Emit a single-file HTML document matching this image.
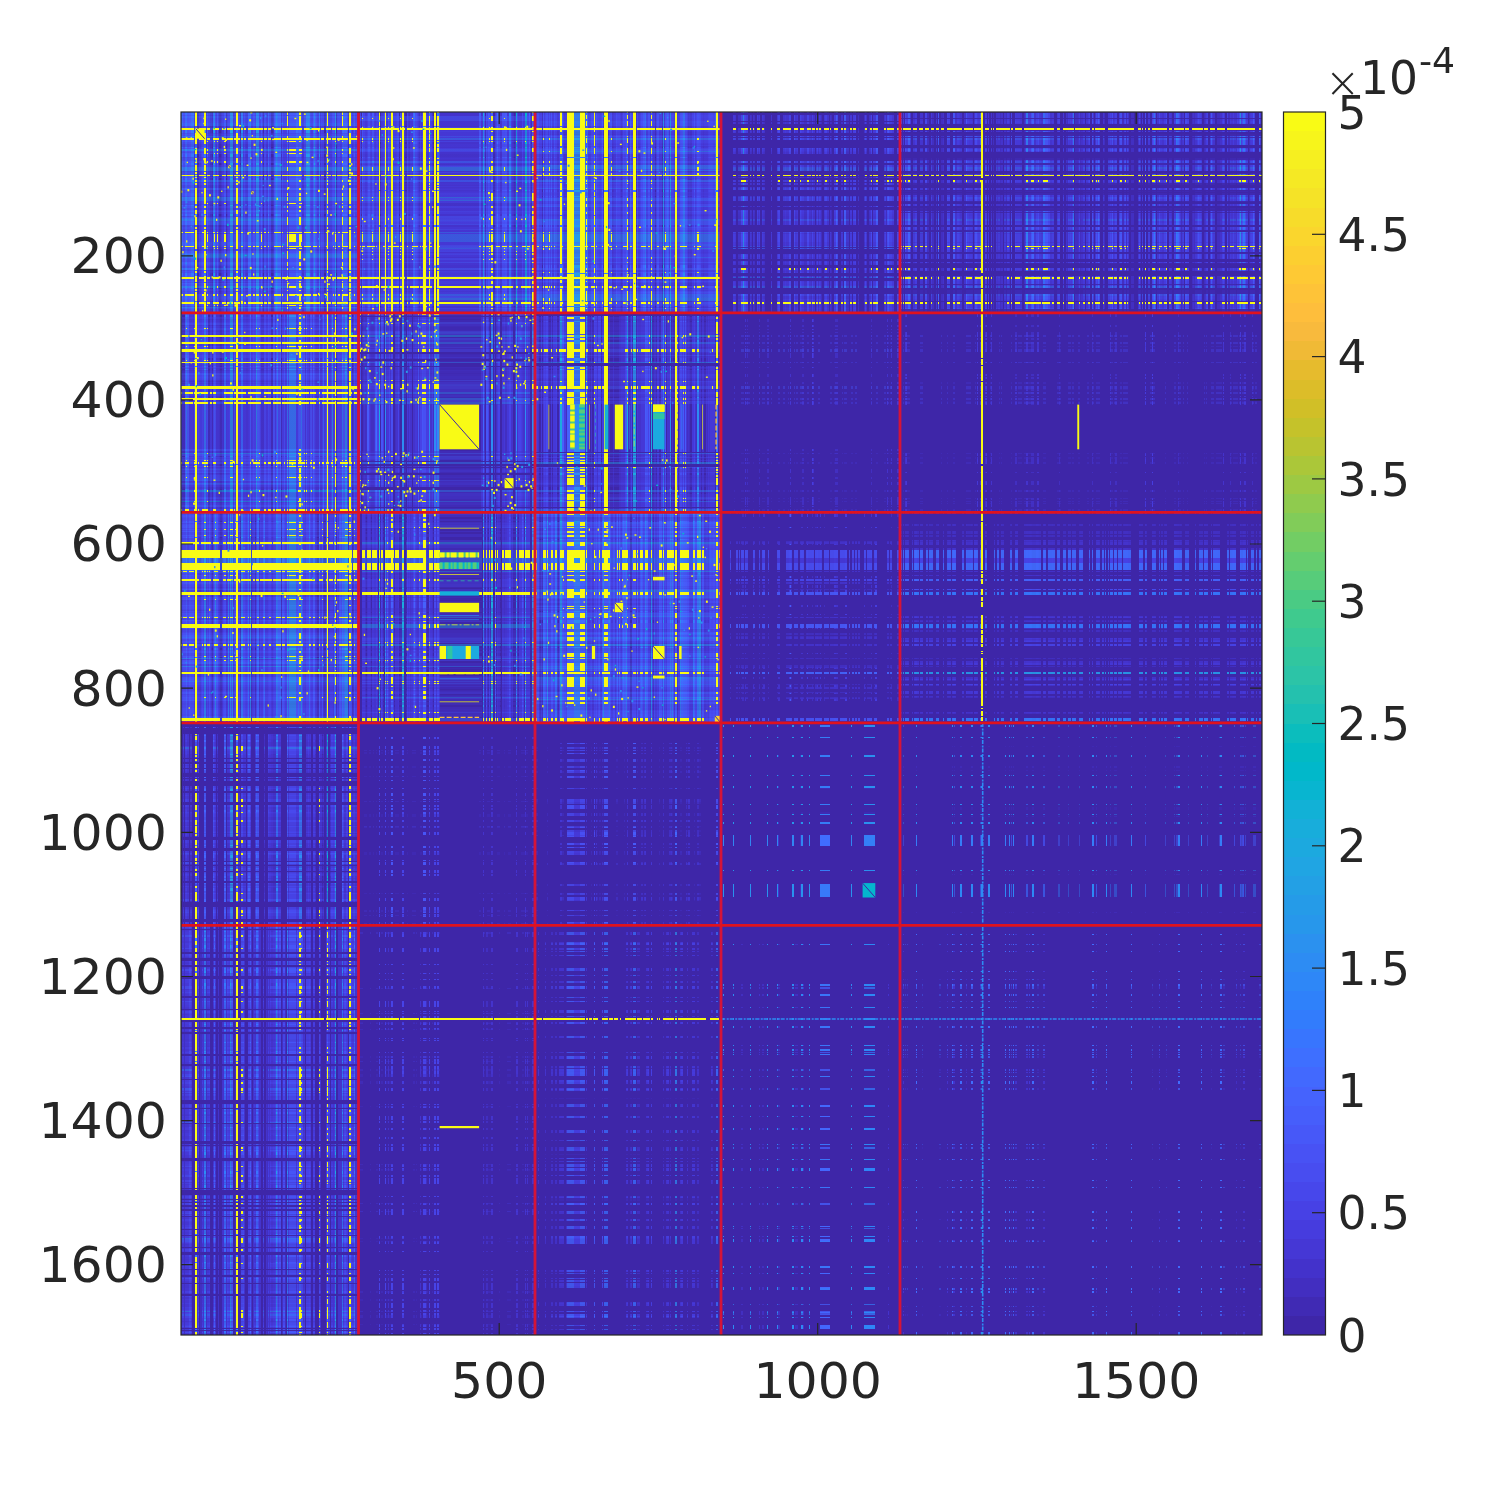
<!DOCTYPE html>
<html><head><meta charset="utf-8"><style>
html,body{margin:0;padding:0;background:#fff;width:1500px;height:1500px;overflow:hidden}
.b{position:absolute}
#base{position:absolute;left:181.0px;top:112.0px;width:1081.0px;height:1223.0px;background:#3e26a8}
svg{position:absolute;left:0;top:0}
.t{font:50.5px "DejaVu Sans","Liberation Sans",sans-serif;fill:#262626}
.c{font:45.5px "DejaVu Sans","Liberation Sans",sans-serif;fill:#262626}
.e{font-size:36.2px}
.x{font-weight:200;font-size:42px}
</style></head><body>
<div id="base"></div>
<div class="b" style="left:181.0px;top:112.0px;width:177.7px;height:201.1px;background:linear-gradient(to right,#3a74fe 0 0.6px,#2e86f7 0 1.3px,#4367fd 0 2.5px,#4849ed 0 3.8px,#406dfe 0 5.1px,#347afd 0 5.7px,#4755f6 0 7.6px,#475bf9 0 9.6px,#4367fd 0 10.2px,#3a74fe 0 12.1px,#2f80fa 0 12.7px,#4433cc 0 14.0px,#347afd 0 15.9px,#0000 0 18.5px,#4538d7 0 19.7px,#4849ed 0 20.4px,#4743e7 0 21.0px,#484ff2 0 21.7px,#259ce7 0 22.3px,#484ff2 0 22.9px,#347afd 0 24.8px,#4849ed 0 25.5px,#4433cc 0 26.1px,#4755f6 0 26.8px,#463de0 0 28.7px,#422fc1 0 30.6px,#4433cc 0 31.2px,#0000 0 31.9px,#463de0 0 32.5px,#347afd 0 33.1px,#1fa5e2 0 34.4px,#4743e7 0 35.0px,#4538d7 0 36.3px,#4755f6 0 36.9px,#4538d7 0 37.6px,#0000 0 40.1px,#422fc1 0 40.8px,#4538d7 0 43.3px,#4755f6 0 45.2px,#0000 0 46.5px,#4538d7 0 47.1px,#4743e7 0 49.0px,#259ce7 0 49.7px,#23a1e5 0 52.2px,#422fc1 0 53.5px,#4538d7 0 54.8px,#422fc1 0 55.4px,#347afd 0 56.7px,#0000 0 57.3px,#4743e7 0 58.6px,#0000 0 59.9px,#4433cc 0 60.5px,#2d8cf3 0 61.8px,#4538d7 0 63.1px,#4849ed 0 64.3px,#4538d7 0 65.0px,#4433cc 0 66.9px,#406dfe 0 68.8px,#4538d7 0 69.4px,#2d8cf3 0 70.1px,#463de0 0 72.0px,#484ff2 0 73.9px,#463de0 0 75.2px,#23a1e5 0 75.8px,#2797eb 0 78.4px,#463de0 0 80.3px,#475bf9 0 80.9px,#463de0 0 81.5px,#4433cc 0 82.2px,#0000 0 83.4px,#4849ed 0 84.7px,#4433cc 0 85.4px,#4538d7 0 86.0px,#4433cc 0 86.6px,#484ff2 0 87.3px,#406dfe 0 88.5px,#4743e7 0 89.8px,#4538d7 0 90.5px,#0000 0 91.7px,#422fc1 0 93.0px,#4755f6 0 93.6px,#2f80fa 0 94.3px,#3a74fe 0 94.9px,#23a1e5 0 96.2px,#2f80fa 0 96.8px,#4661fc 0 97.5px,#406dfe 0 100.0px,#422fc1 0 101.3px,#484ff2 0 101.9px,#463de0 0 103.8px,#4433cc 0 104.5px,#463de0 0 105.7px,#4367fd 0 107.0px,#4538d7 0 108.3px,#4755f6 0 114.7px,#406dfe 0 117.2px,#4661fc 0 118.5px,#4367fd 0 119.8px,#4743e7 0 120.4px,#4849ed 0 121.0px,#4433cc 0 122.9px,#4849ed 0 124.9px,#406dfe 0 125.5px,#2797eb 0 126.8px,#23a1e5 0 128.0px,#2d8cf3 0 128.7px,#4849ed 0 129.9px,#463de0 0 132.5px,#4661fc 0 133.1px,#259ce7 0 133.8px,#4367fd 0 134.4px,#475bf9 0 135.0px,#4849ed 0 136.3px,#4538d7 0 138.2px,#2d8cf3 0 139.5px,#4433cc 0 140.1px,#4743e7 0 141.4px,#463de0 0 142.7px,#0000 0 144.6px,#4743e7 0 145.2px,#4755f6 0 145.9px,#347afd 0 147.1px,#463de0 0 148.4px,#4538d7 0 149.7px,#484ff2 0 150.3px,#4538d7 0 151.0px,#4849ed 0 151.6px,#4661fc 0 152.2px,#484ff2 0 153.5px,#4849ed 0 154.2px,#1caadf 0 155.4px,#0000 0 156.1px,#4743e7 0 156.7px,#4849ed 0 158.6px,#4538d7 0 159.3px,#463de0 0 161.2px,#4367fd 0 162.4px,#406dfe 0 163.1px,#4661fc 0 163.7px,#4367fd 0 165.6px,#475bf9 0 166.3px,#484ff2 0 166.9px,#0000 0 168.2px,#347afd 0 170.1px,#4849ed 0 170.7px,#4755f6 0 171.4px,#4538d7 0 172.0px,#4743e7 0 172.6px,#23a1e5 0 173.3px,#4755f6 0 173.9px,#475bf9 0 174.5px,#463de0 0 177.7px,#0000 0)"></div>
<div class="b" style="left:181.0px;top:112.0px;width:177.7px;height:201.1px;opacity:0.40;background:linear-gradient(to bottom,#3a74fe 0 0.7px,#2e86f7 0 1.4px,#4367fd 0 2.9px,#4849ed 0 4.3px,#406dfe 0 5.8px,#347afd 0 6.5px,#4755f6 0 8.6px,#475bf9 0 10.8px,#4367fd 0 11.5px,#3a74fe 0 13.7px,#2f80fa 0 14.4px,#4433cc 0 15.9px,#347afd 0 18.0px,#0000 0 20.9px,#4538d7 0 22.3px,#4849ed 0 23.1px,#4743e7 0 23.8px,#484ff2 0 24.5px,#259ce7 0 25.2px,#484ff2 0 25.9px,#347afd 0 28.1px,#4849ed 0 28.8px,#4433cc 0 29.5px,#4755f6 0 30.3px,#463de0 0 32.4px,#422fc1 0 34.6px,#4433cc 0 35.3px,#0000 0 36.0px,#463de0 0 36.8px,#347afd 0 37.5px,#1fa5e2 0 38.9px,#4743e7 0 39.6px,#4538d7 0 41.1px,#4755f6 0 41.8px,#4538d7 0 42.5px,#0000 0 45.4px,#422fc1 0 46.1px,#4538d7 0 49.0px,#4755f6 0 51.2px,#0000 0 52.6px,#4538d7 0 53.3px,#4743e7 0 55.5px,#259ce7 0 56.2px,#23a1e5 0 59.1px,#422fc1 0 60.5px,#4538d7 0 62.0px,#422fc1 0 62.7px,#347afd 0 64.1px,#0000 0 64.9px,#4743e7 0 66.3px,#0000 0 67.7px,#4433cc 0 68.5px,#2d8cf3 0 69.9px,#4538d7 0 71.3px,#4849ed 0 72.8px,#4538d7 0 73.5px,#4433cc 0 75.7px,#406dfe 0 77.8px,#4538d7 0 78.6px,#2d8cf3 0 79.3px,#463de0 0 81.4px,#484ff2 0 83.6px,#463de0 0 85.0px,#23a1e5 0 85.8px,#2797eb 0 88.6px,#463de0 0 90.8px,#475bf9 0 91.5px,#463de0 0 92.2px,#4433cc 0 93.0px,#0000 0 94.4px,#4849ed 0 95.9px,#4433cc 0 96.6px,#4538d7 0 97.3px,#4433cc 0 98.0px,#484ff2 0 98.7px,#406dfe 0 100.2px,#4743e7 0 101.6px,#4538d7 0 102.3px,#0000 0 103.8px,#422fc1 0 105.2px,#4755f6 0 105.9px,#2f80fa 0 106.7px,#3a74fe 0 107.4px,#23a1e5 0 108.8px,#2f80fa 0 109.5px,#4661fc 0 110.3px,#406dfe 0 113.1px,#422fc1 0 114.6px,#484ff2 0 115.3px,#463de0 0 117.5px,#4433cc 0 118.2px,#463de0 0 119.6px,#4367fd 0 121.1px,#4538d7 0 122.5px,#4755f6 0 129.7px,#406dfe 0 132.6px,#4661fc 0 134.0px,#4367fd 0 135.5px,#4743e7 0 136.2px,#4849ed 0 136.9px,#4433cc 0 139.1px,#4849ed 0 141.3px,#406dfe 0 142.0px,#2797eb 0 143.4px,#23a1e5 0 144.9px,#2d8cf3 0 145.6px,#4849ed 0 147.0px,#463de0 0 149.9px,#4661fc 0 150.6px,#259ce7 0 151.3px,#4367fd 0 152.1px,#475bf9 0 152.8px,#4849ed 0 154.2px,#4538d7 0 156.4px,#2d8cf3 0 157.8px,#4433cc 0 158.6px,#4743e7 0 160.0px,#463de0 0 161.4px,#0000 0 163.6px,#4743e7 0 164.3px,#4755f6 0 165.0px,#347afd 0 166.5px,#463de0 0 167.9px,#4538d7 0 169.4px,#484ff2 0 170.1px,#4538d7 0 170.8px,#4849ed 0 171.5px,#4661fc 0 172.2px,#484ff2 0 173.7px,#4849ed 0 174.4px,#1caadf 0 175.8px,#0000 0 176.6px,#4743e7 0 177.3px,#4849ed 0 179.5px,#4538d7 0 180.2px,#463de0 0 182.3px,#4367fd 0 183.8px,#406dfe 0 184.5px,#4661fc 0 185.2px,#4367fd 0 187.4px,#475bf9 0 188.1px,#484ff2 0 188.8px,#0000 0 190.3px,#347afd 0 192.4px,#4849ed 0 193.1px,#4755f6 0 193.9px,#4538d7 0 194.6px,#4743e7 0 195.3px,#23a1e5 0 196.0px,#4755f6 0 196.7px,#475bf9 0 197.5px,#463de0 0 201.1px,#0000 0)"></div>
<div class="b" style="left:181.0px;top:112.0px;width:177.7px;height:201.1px;background:linear-gradient(to right,#0000 0 14.0px,#f9fb15 0 15.9px,#0000 0 22.9px,#f9fb15 0 24.8px,#0000 0 55.4px,#f9fb15 0 56.7px,#0000 0 145.9px,#f9fb15 0 147.1px,#0000 0 168.2px,#f9fb15 0 170.1px,#0000 0);-webkit-mask-image:linear-gradient(to bottom,#000 0 14.4px,#0000 0 15.9px,#000 0 18.0px,#0000 0 20.9px,#000 0 28.8px,#0000 0 29.5px,#000 0 32.4px,#0000 0 36.0px,#000 0 42.5px,#0000 0 46.1px,#000 0 51.2px,#0000 0 52.6px,#000 0 59.1px,#0000 0 60.5px,#000 0 62.0px,#0000 0 62.7px,#000 0 64.1px,#0000 0 64.9px,#000 0 66.3px,#0000 0 68.5px,#000 0 69.9px,#0000 0 71.3px,#000 0 73.5px,#0000 0 75.7px,#000 0 92.2px,#0000 0 94.4px,#000 0 95.9px,#0000 0 96.6px,#000 0 97.3px,#0000 0 98.0px,#000 0 101.6px,#0000 0 105.2px,#000 0 113.1px,#0000 0 114.6px,#000 0 117.5px,#0000 0 118.2px,#000 0 136.9px,#0000 0 139.1px,#000 0 157.8px,#0000 0 158.6px,#000 0 161.4px,#0000 0 163.6px,#000 0 170.1px,#0000 0 170.8px,#000 0 175.8px,#0000 0 176.6px,#000 0 179.5px,#0000 0 180.2px,#000 0 188.8px,#0000 0 190.3px,#000 0 201.1px,#0000 0)"></div>
<div class="b" style="left:181.0px;top:112.0px;width:177.7px;height:201.1px;background:linear-gradient(to bottom,#0000 0 15.9px,#f9fb15 0 18.0px,#0000 0 25.9px,#f9fb15 0 28.1px,#0000 0 62.7px,#f9fb15 0 64.1px,#0000 0 165.0px,#f9fb15 0 166.5px,#0000 0 190.3px,#f9fb15 0 192.4px,#0000 0);-webkit-mask-image:linear-gradient(to right,#000 0 12.7px,#0000 0 14.0px,#000 0 15.9px,#0000 0 18.5px,#000 0 25.5px,#0000 0 26.1px,#000 0 28.7px,#0000 0 31.9px,#000 0 37.6px,#0000 0 40.8px,#000 0 45.2px,#0000 0 46.5px,#000 0 52.2px,#0000 0 53.5px,#000 0 54.8px,#0000 0 55.4px,#000 0 56.7px,#0000 0 57.3px,#000 0 58.6px,#0000 0 60.5px,#000 0 61.8px,#0000 0 63.1px,#000 0 65.0px,#0000 0 66.9px,#000 0 81.5px,#0000 0 83.4px,#000 0 84.7px,#0000 0 85.4px,#000 0 86.0px,#0000 0 86.6px,#000 0 89.8px,#0000 0 93.0px,#000 0 100.0px,#0000 0 101.3px,#000 0 103.8px,#0000 0 104.5px,#000 0 121.0px,#0000 0 122.9px,#000 0 139.5px,#0000 0 140.1px,#000 0 142.7px,#0000 0 144.6px,#000 0 150.3px,#0000 0 151.0px,#000 0 155.4px,#0000 0 156.1px,#000 0 158.6px,#0000 0 159.3px,#000 0 166.9px,#0000 0 168.2px,#000 0 177.7px,#0000 0)"></div>
<div class="b" style="left:181.0px;top:112.0px;width:177.7px;height:201.1px;background:linear-gradient(to right,#0000 0 105.7px,#f9fb15 0 107.0px,#0000 0 118.5px,#f9fb15 0 119.8px,#0000 0 161.2px,#f9fb15 0 162.4px,#0000 0);-webkit-mask-image:linear-gradient(to bottom,#000 0 2.9px,#0000 0 4.3px,#000 0 14.4px,#0000 0 15.9px,#000 0 18.0px,#0000 0 23.8px,#000 0 28.1px,#0000 0 29.5px,#000 0 30.3px,#0000 0 36.8px,#000 0 38.9px,#0000 0 41.1px,#000 0 41.8px,#0000 0 49.0px,#000 0 51.2px,#0000 0 55.5px,#000 0 59.1px,#0000 0 62.7px,#000 0 64.1px,#0000 0 68.5px,#000 0 69.9px,#0000 0 75.7px,#000 0 77.8px,#0000 0 78.6px,#000 0 79.3px,#0000 0 81.4px,#000 0 83.6px,#0000 0 85.0px,#000 0 88.6px,#0000 0 90.8px,#000 0 91.5px,#0000 0 94.4px,#000 0 95.9px,#0000 0 98.0px,#000 0 100.2px,#0000 0 105.2px,#000 0 113.1px,#0000 0 114.6px,#000 0 115.3px,#0000 0 119.6px,#000 0 121.1px,#0000 0 122.5px,#000 0 135.5px,#0000 0 136.2px,#000 0 136.9px,#0000 0 139.1px,#000 0 147.0px,#0000 0 149.9px,#000 0 154.2px,#0000 0 156.4px,#000 0 157.8px,#0000 0 164.3px,#000 0 166.5px,#0000 0 169.4px,#000 0 170.1px,#0000 0 171.5px,#000 0 173.7px,#0000 0 174.4px,#000 0 175.8px,#0000 0 178.0px,#000 0 179.5px,#0000 0 182.3px,#000 0 188.8px,#0000 0 190.3px,#000 0 192.4px,#0000 0 193.1px,#000 0 193.9px,#0000 0 195.3px,#000 0 197.5px,#0000 0)"></div>
<div class="b" style="left:181.0px;top:112.0px;width:177.7px;height:201.1px;background:linear-gradient(to bottom,#0000 0 119.6px,#f9fb15 0 121.1px,#0000 0 134.0px,#f9fb15 0 135.5px,#0000 0 182.3px,#f9fb15 0 183.8px,#0000 0);-webkit-mask-image:linear-gradient(to right,#000 0 2.5px,#0000 0 3.8px,#000 0 12.7px,#0000 0 14.0px,#000 0 15.9px,#0000 0 21.0px,#000 0 24.8px,#0000 0 26.1px,#000 0 26.8px,#0000 0 32.5px,#000 0 34.4px,#0000 0 36.3px,#000 0 36.9px,#0000 0 43.3px,#000 0 45.2px,#0000 0 49.0px,#000 0 52.2px,#0000 0 55.4px,#000 0 56.7px,#0000 0 60.5px,#000 0 61.8px,#0000 0 66.9px,#000 0 68.8px,#0000 0 69.4px,#000 0 70.1px,#0000 0 72.0px,#000 0 73.9px,#0000 0 75.2px,#000 0 78.4px,#0000 0 80.3px,#000 0 80.9px,#0000 0 83.4px,#000 0 84.7px,#0000 0 86.6px,#000 0 88.5px,#0000 0 93.0px,#000 0 100.0px,#0000 0 101.3px,#000 0 101.9px,#0000 0 105.7px,#000 0 107.0px,#0000 0 108.3px,#000 0 119.8px,#0000 0 120.4px,#000 0 121.0px,#0000 0 122.9px,#000 0 129.9px,#0000 0 132.5px,#000 0 136.3px,#0000 0 138.2px,#000 0 139.5px,#0000 0 145.2px,#000 0 147.1px,#0000 0 149.7px,#000 0 150.3px,#0000 0 151.6px,#000 0 153.5px,#0000 0 154.2px,#000 0 155.4px,#0000 0 157.3px,#000 0 158.6px,#0000 0 161.2px,#000 0 166.9px,#0000 0 168.2px,#000 0 170.1px,#0000 0 170.7px,#000 0 171.4px,#0000 0 172.6px,#000 0 174.5px,#0000 0)"></div>
<div class="b" style="left:181.0px;top:112.0px;width:177.7px;height:201.1px;background:linear-gradient(to right,#0000 0 26.1px,#f9fb15 0 26.8px,#0000 0 36.3px,#f9fb15 0 36.9px,#0000 0 43.3px,#f9fb15 0 45.2px,#0000 0 80.3px,#f9fb15 0 80.9px,#0000 0 108.3px,#f9fb15 0 114.7px,#0000 0 120.4px,#f9fb15 0 121.0px,#0000 0 170.7px,#f9fb15 0 171.4px,#0000 0 173.9px,#f9fb15 0 174.5px,#0000 0);-webkit-mask-image:linear-gradient(to bottom,#0000 0 15.9px,#000 0 18.0px,#0000 0 25.9px,#000 0 28.1px,#0000 0 29.5px,#000 0 30.3px,#0000 0 37.5px,#000 0 38.9px,#0000 0 41.1px,#000 0 41.8px,#0000 0 49.0px,#000 0 51.2px,#0000 0 62.7px,#000 0 64.1px,#0000 0 90.8px,#000 0 91.5px,#0000 0 119.6px,#000 0 121.1px,#0000 0 122.5px,#000 0 129.7px,#0000 0 134.0px,#000 0 135.5px,#0000 0 136.2px,#000 0 136.9px,#0000 0 165.0px,#000 0 166.5px,#0000 0 174.4px,#000 0 175.8px,#0000 0 182.3px,#000 0 183.8px,#0000 0 190.3px,#000 0 192.4px,#0000 0 193.1px,#000 0 193.9px,#0000 0 196.7px,#000 0 197.5px,#0000 0)"></div>
<div class="b" style="left:181.0px;top:112.0px;width:177.7px;height:201.1px;background:linear-gradient(to bottom,#0000 0 29.5px,#f9fb15 0 30.3px,#0000 0 41.1px,#f9fb15 0 41.8px,#0000 0 49.0px,#f9fb15 0 51.2px,#0000 0 90.8px,#f9fb15 0 91.5px,#0000 0 122.5px,#f9fb15 0 129.7px,#0000 0 136.2px,#f9fb15 0 136.9px,#0000 0 193.1px,#f9fb15 0 193.9px,#0000 0 196.7px,#f9fb15 0 197.5px,#0000 0);-webkit-mask-image:linear-gradient(to right,#0000 0 14.0px,#000 0 15.9px,#0000 0 22.9px,#000 0 24.8px,#0000 0 26.1px,#000 0 26.8px,#0000 0 33.1px,#000 0 34.4px,#0000 0 36.3px,#000 0 36.9px,#0000 0 43.3px,#000 0 45.2px,#0000 0 55.4px,#000 0 56.7px,#0000 0 80.3px,#000 0 80.9px,#0000 0 105.7px,#000 0 107.0px,#0000 0 108.3px,#000 0 114.7px,#0000 0 118.5px,#000 0 119.8px,#0000 0 120.4px,#000 0 121.0px,#0000 0 145.9px,#000 0 147.1px,#0000 0 154.2px,#000 0 155.4px,#0000 0 161.2px,#000 0 162.4px,#0000 0 168.2px,#000 0 170.1px,#0000 0 170.7px,#000 0 171.4px,#0000 0 173.9px,#000 0 174.5px,#0000 0)"></div>
<div class="b" style="left:358.7px;top:112.0px;width:176.5px;height:201.1px;background:linear-gradient(to right,#422fc1 0 0.6px,#4743e7 0 1.9px,#0000 0 3.2px,#475bf9 0 3.8px,#4743e7 0 5.7px,#4433cc 0 6.4px,#4538d7 0 8.3px,#4743e7 0 8.9px,#475bf9 0 10.8px,#4433cc 0 11.5px,#4743e7 0 12.1px,#463de0 0 13.4px,#475bf9 0 15.3px,#463de0 0 15.9px,#4538d7 0 17.2px,#4743e7 0 18.5px,#4538d7 0 19.7px,#347afd 0 21.0px,#0000 0 22.3px,#4538d7 0 23.6px,#4367fd 0 24.2px,#463de0 0 24.8px,#484ff2 0 26.1px,#347afd 0 27.4px,#4538d7 0 29.3px,#475bf9 0 29.9px,#4849ed 0 31.9px,#2f80fa 0 34.4px,#463de0 0 36.9px,#4743e7 0 37.6px,#484ff2 0 40.1px,#0000 0 41.4px,#4755f6 0 42.0px,#4743e7 0 42.7px,#463de0 0 43.3px,#347afd 0 44.6px,#0000 0 45.2px,#4433cc 0 46.5px,#0000 0 47.8px,#4743e7 0 49.0px,#4433cc 0 49.7px,#0000 0 50.3px,#422fc1 0 51.0px,#4538d7 0 53.5px,#475bf9 0 54.1px,#4367fd 0 54.8px,#4849ed 0 55.4px,#347afd 0 56.1px,#484ff2 0 56.7px,#4755f6 0 57.3px,#484ff2 0 58.0px,#4743e7 0 58.6px,#4849ed 0 59.2px,#4538d7 0 60.5px,#422fc1 0 61.2px,#463de0 0 61.8px,#4433cc 0 63.1px,#4743e7 0 64.3px,#2f80fa 0 66.9px,#463de0 0 68.2px,#4538d7 0 70.1px,#347afd 0 71.3px,#4849ed 0 72.0px,#4743e7 0 73.3px,#4433cc 0 73.9px,#0000 0 75.2px,#347afd 0 77.1px,#0000 0 77.7px,#463de0 0 78.4px,#347afd 0 80.3px,#484ff2 0 80.9px,#4433cc 0 120.4px,#475bf9 0 121.7px,#4433cc 0 123.6px,#1caadf 0 124.9px,#475bf9 0 126.1px,#0000 0 127.4px,#484ff2 0 128.0px,#4743e7 0 128.7px,#4538d7 0 129.3px,#475bf9 0 129.9px,#4755f6 0 130.6px,#4743e7 0 131.9px,#4661fc 0 133.8px,#0000 0 135.7px,#4755f6 0 136.3px,#4538d7 0 137.0px,#4849ed 0 138.2px,#406dfe 0 138.9px,#4849ed 0 140.8px,#4661fc 0 141.4px,#4433cc 0 142.7px,#463de0 0 143.3px,#4755f6 0 144.6px,#475bf9 0 145.2px,#4755f6 0 145.9px,#475bf9 0 147.8px,#347afd 0 148.4px,#4538d7 0 149.7px,#463de0 0 150.3px,#2e86f7 0 151.6px,#4367fd 0 152.2px,#463de0 0 153.5px,#4433cc 0 154.2px,#422fc1 0 155.4px,#0000 0 156.1px,#422fc1 0 156.7px,#05b6ce 0 158.0px,#4743e7 0 158.6px,#4538d7 0 159.3px,#4433cc 0 163.1px,#4849ed 0 163.7px,#4755f6 0 164.3px,#4538d7 0 165.6px,#484ff2 0 166.3px,#05b6ce 0 167.5px,#4538d7 0 168.2px,#4743e7 0 170.1px,#4367fd 0 171.4px,#4538d7 0 172.0px,#0000 0 172.6px,#4538d7 0 173.3px,#4367fd 0 175.8px,#4538d7 0 176.5px,#0000 0)"></div>
<div class="b" style="left:358.7px;top:112.0px;width:176.5px;height:201.1px;opacity:0.40;background:linear-gradient(to bottom,#475bf9 0 0.7px,#406dfe 0 1.4px,#0000 0 4.3px,#4661fc 0 5.8px,#2b91ef 0 6.5px,#4661fc 0 9.4px,#4538d7 0 13.7px,#4433cc 0 14.4px,#0000 0 15.1px,#4755f6 0 15.9px,#347afd 0 18.0px,#463de0 0 18.7px,#4743e7 0 19.5px,#4849ed 0 20.2px,#463de0 0 23.8px,#4849ed 0 24.5px,#4367fd 0 25.2px,#4743e7 0 25.9px,#2d8cf3 0 28.1px,#4433cc 0 28.8px,#4849ed 0 29.5px,#4755f6 0 30.3px,#0000 0 32.4px,#4538d7 0 35.3px,#0000 0 36.0px,#4849ed 0 37.5px,#4367fd 0 38.9px,#4755f6 0 39.6px,#4433cc 0 42.5px,#422fc1 0 44.7px,#0000 0 46.1px,#4538d7 0 46.8px,#4433cc 0 47.6px,#422fc1 0 48.3px,#4433cc 0 49.0px,#347afd 0 51.2px,#4538d7 0 51.9px,#422fc1 0 52.6px,#463de0 0 54.1px,#4661fc 0 54.8px,#4743e7 0 55.5px,#23a1e5 0 59.1px,#4433cc 0 60.5px,#4755f6 0 61.3px,#4538d7 0 62.7px,#2f80fa 0 64.1px,#4538d7 0 64.9px,#463de0 0 66.3px,#4538d7 0 68.5px,#347afd 0 69.9px,#0000 0 70.6px,#4538d7 0 73.5px,#4433cc 0 74.2px,#463de0 0 75.0px,#4433cc 0 75.7px,#4743e7 0 76.4px,#4538d7 0 77.1px,#463de0 0 77.8px,#0000 0 78.6px,#4367fd 0 79.3px,#4538d7 0 80.0px,#463de0 0 81.4px,#4849ed 0 82.9px,#4743e7 0 85.0px,#23a1e5 0 85.8px,#4367fd 0 87.9px,#23a1e5 0 88.6px,#475bf9 0 89.4px,#4743e7 0 90.8px,#422fc1 0 93.7px,#463de0 0 94.4px,#4849ed 0 95.9px,#4538d7 0 98.7px,#484ff2 0 100.2px,#4743e7 0 101.6px,#0000 0 103.8px,#475bf9 0 105.9px,#4755f6 0 106.7px,#4538d7 0 107.4px,#475bf9 0 108.1px,#4367fd 0 108.8px,#2e86f7 0 109.5px,#4755f6 0 110.3px,#4849ed 0 111.7px,#4661fc 0 113.1px,#0000 0 114.6px,#463de0 0 116.8px,#4755f6 0 118.2px,#4538d7 0 119.6px,#2d8cf3 0 121.1px,#4743e7 0 122.5px,#2d8cf3 0 129.7px,#463de0 0 132.6px,#475bf9 0 134.0px,#4367fd 0 135.5px,#406dfe 0 136.2px,#2d8cf3 0 136.9px,#4755f6 0 137.7px,#484ff2 0 139.1px,#4755f6 0 139.8px,#4433cc 0 141.3px,#4849ed 0 142.0px,#4755f6 0 142.7px,#463de0 0 144.9px,#4433cc 0 145.6px,#4755f6 0 147.0px,#475bf9 0 147.7px,#463de0 0 149.9px,#4661fc 0 150.6px,#4849ed 0 151.3px,#4538d7 0 152.8px,#4433cc 0 156.4px,#4367fd 0 157.8px,#4433cc 0 159.3px,#4849ed 0 160.0px,#4743e7 0 160.7px,#3a74fe 0 161.4px,#463de0 0 163.6px,#4367fd 0 165.0px,#2f80fa 0 166.5px,#4849ed 0 167.2px,#463de0 0 167.9px,#4538d7 0 169.4px,#4849ed 0 170.8px,#23a1e5 0 171.5px,#4849ed 0 172.2px,#463de0 0 174.4px,#3a74fe 0 175.8px,#0000 0 176.6px,#463de0 0 177.3px,#4538d7 0 178.0px,#4743e7 0 179.5px,#4538d7 0 180.2px,#4743e7 0 182.3px,#2d8cf3 0 183.8px,#475bf9 0 185.2px,#4367fd 0 185.9px,#23a1e5 0 188.1px,#4743e7 0 188.8px,#0000 0 190.3px,#347afd 0 192.4px,#484ff2 0 193.9px,#0000 0 194.6px,#4433cc 0 196.0px,#484ff2 0 197.5px,#463de0 0 198.9px,#4433cc 0 200.4px,#4849ed 0 201.1px,#0000 0)"></div>
<div class="b" style="left:358.7px;top:112.0px;width:176.5px;height:201.1px;background:linear-gradient(to right,#0000 0 19.7px,#f9fb15 0 21.0px,#0000 0 26.1px,#f9fb15 0 27.4px,#0000 0 31.9px,#f9fb15 0 34.4px,#0000 0 43.3px,#f9fb15 0 44.6px,#0000 0 64.3px,#f9fb15 0 66.9px,#0000 0 75.2px,#f9fb15 0 77.1px,#0000 0);-webkit-mask-image:linear-gradient(to bottom,#000 0 14.4px,#0000 0 15.1px,#000 0 77.8px,#0000 0 78.6px,#000 0 113.1px,#0000 0 114.6px,#000 0 189.5px,#0000 0 190.3px,#000 0 201.1px,#0000 0)"></div>
<div class="b" style="left:358.7px;top:112.0px;width:176.5px;height:201.1px;background:linear-gradient(to bottom,#0000 0 15.9px,#f9fb15 0 18.0px,#0000 0 62.7px,#f9fb15 0 64.1px,#0000 0 165.0px,#f9fb15 0 166.5px,#0000 0);-webkit-mask-image:linear-gradient(to right,#000 0 21.0px,#0000 0 22.3px,#000 0 40.1px,#0000 0 40.8px,#000 0 46.5px,#0000 0 47.8px,#000 0 133.8px,#0000 0 134.4px,#000 0 176.5px,#0000 0)"></div>
<div class="b" style="left:358.7px;top:112.0px;width:176.5px;height:201.1px;background:linear-gradient(to right,#0000 0 70.1px,#f9fb15 0 71.3px,#0000 0 78.4px,#f9fb15 0 80.3px,#0000 0);-webkit-mask-image:linear-gradient(to bottom,#000 0 1.4px,#0000 0 4.3px,#000 0 13.7px,#0000 0 15.1px,#000 0 28.1px,#0000 0 28.8px,#000 0 30.3px,#0000 0 32.4px,#000 0 35.3px,#0000 0 36.0px,#000 0 39.6px,#0000 0 46.1px,#000 0 46.8px,#0000 0 49.0px,#000 0 51.9px,#0000 0 52.6px,#000 0 59.1px,#0000 0 60.5px,#000 0 69.9px,#0000 0 70.6px,#000 0 73.5px,#0000 0 74.2px,#000 0 75.0px,#0000 0 75.7px,#000 0 77.8px,#0000 0 78.6px,#000 0 90.8px,#0000 0 93.7px,#000 0 101.6px,#0000 0 103.8px,#000 0 113.1px,#0000 0 114.6px,#000 0 144.9px,#0000 0 145.6px,#000 0 152.8px,#0000 0 156.4px,#000 0 157.8px,#0000 0 159.3px,#000 0 175.8px,#0000 0 176.6px,#000 0 188.8px,#0000 0 190.3px,#000 0 193.9px,#0000 0 196.0px,#000 0 198.9px,#0000 0 200.4px,#000 0 201.1px,#0000 0)"></div>
<div class="b" style="left:358.7px;top:112.0px;width:176.5px;height:201.1px;background:linear-gradient(to bottom,#0000 0 174.4px,#f9fb15 0 175.8px,#0000 0 190.3px,#f9fb15 0 192.4px,#0000 0);-webkit-mask-image:linear-gradient(to right,#0000 0 0.6px,#000 0 1.9px,#0000 0 3.2px,#000 0 5.7px,#0000 0 6.4px,#000 0 21.0px,#0000 0 22.3px,#000 0 40.1px,#0000 0 41.4px,#000 0 44.6px,#0000 0 47.8px,#000 0 49.0px,#0000 0 51.0px,#000 0 60.5px,#0000 0 61.2px,#000 0 73.3px,#0000 0 75.2px,#000 0 77.1px,#0000 0 77.7px,#000 0 121.7px,#0000 0 123.6px,#000 0 126.1px,#0000 0 127.4px,#000 0 133.8px,#0000 0 135.7px,#000 0 141.4px,#0000 0 142.7px,#000 0 154.2px,#0000 0 156.7px,#000 0 159.3px,#0000 0 162.4px,#000 0 172.0px,#0000 0 172.6px,#000 0 176.5px,#0000 0)"></div>
<div class="b" style="left:358.7px;top:112.0px;width:176.5px;height:201.1px;background:linear-gradient(to right,#0000 0 131.9px,#f9fb15 0 133.8px,#0000 0 173.3px,#f9fb15 0 175.8px,#0000 0);-webkit-mask-image:linear-gradient(to bottom,#000 0 1.4px,#0000 0 4.3px,#000 0 9.4px,#0000 0 15.1px,#000 0 18.0px,#0000 0 18.7px,#000 0 20.2px,#0000 0 23.8px,#000 0 28.1px,#0000 0 28.8px,#000 0 30.3px,#0000 0 36.0px,#000 0 39.6px,#0000 0 49.0px,#000 0 51.2px,#0000 0 54.1px,#000 0 54.8px,#0000 0 55.5px,#000 0 59.1px,#0000 0 60.5px,#000 0 61.3px,#0000 0 62.7px,#000 0 64.1px,#0000 0 68.5px,#000 0 69.9px,#0000 0 75.7px,#000 0 76.4px,#0000 0 78.6px,#000 0 79.3px,#0000 0 81.4px,#000 0 89.4px,#0000 0 94.4px,#000 0 95.9px,#0000 0 98.7px,#000 0 101.6px,#0000 0 103.8px,#000 0 106.7px,#0000 0 107.4px,#000 0 113.1px,#0000 0 116.8px,#000 0 118.2px,#0000 0 119.6px,#000 0 121.1px,#0000 0 122.5px,#000 0 129.7px,#0000 0 132.6px,#000 0 139.8px,#0000 0 141.3px,#000 0 142.7px,#0000 0 145.6px,#000 0 147.7px,#0000 0 149.9px,#000 0 151.3px,#0000 0 156.4px,#000 0 157.8px,#0000 0 159.3px,#000 0 161.4px,#0000 0 163.6px,#000 0 167.2px,#0000 0 169.4px,#000 0 172.2px,#0000 0 174.4px,#000 0 175.8px,#0000 0 180.2px,#000 0 188.8px,#0000 0 190.3px,#000 0 193.9px,#0000 0 196.0px,#000 0 197.5px,#0000 0 200.4px,#000 0 201.1px,#0000 0)"></div>
<div class="b" style="left:358.7px;top:112.0px;width:176.5px;height:201.1px;background:linear-gradient(to bottom,#0000 0 134.0px,#f9fb15 0 135.5px,#0000 0);-webkit-mask-image:linear-gradient(to right,#0000 0 0.6px,#000 0 1.9px,#0000 0 3.2px,#000 0 5.7px,#0000 0 8.3px,#000 0 10.8px,#0000 0 11.5px,#000 0 15.9px,#0000 0 17.2px,#000 0 18.5px,#0000 0 19.7px,#000 0 21.0px,#0000 0 23.6px,#000 0 27.4px,#0000 0 29.3px,#000 0 40.1px,#0000 0 41.4px,#000 0 44.6px,#0000 0 47.8px,#000 0 49.0px,#0000 0 53.5px,#000 0 59.2px,#0000 0 61.2px,#000 0 61.8px,#0000 0 63.1px,#000 0 68.2px,#0000 0 70.1px,#000 0 73.3px,#0000 0 75.2px,#000 0 77.1px,#0000 0 77.7px,#000 0 80.9px,#0000 0 120.4px,#000 0 121.7px,#0000 0 123.6px,#000 0 126.1px,#0000 0 127.4px,#000 0 128.7px,#0000 0 129.3px,#000 0 133.8px,#0000 0 135.7px,#000 0 136.3px,#0000 0 137.0px,#000 0 141.4px,#0000 0 142.7px,#000 0 148.4px,#0000 0 149.7px,#000 0 153.5px,#0000 0 156.7px,#000 0 158.6px,#0000 0 163.1px,#000 0 167.5px,#0000 0 168.2px,#000 0 171.4px,#0000 0 173.3px,#000 0 175.8px,#0000 0)"></div>
<div class="b" style="left:358.7px;top:112.0px;width:176.5px;height:201.1px;background:linear-gradient(to right,#0000 0 3.2px,#f9fb15 0 3.8px,#0000 0 13.4px,#f9fb15 0 14.0px,#0000 0 29.3px,#f9fb15 0 29.9px,#0000 0 41.4px,#f9fb15 0 42.0px,#0000 0 53.5px,#f9fb15 0 54.1px,#0000 0 129.9px,#f9fb15 0 130.6px,#0000 0 135.7px,#f9fb15 0 136.3px,#0000 0 145.2px,#f9fb15 0 145.9px,#0000 0);-webkit-mask-image:linear-gradient(to bottom,#0000 0 5.8px,#000 0 6.5px,#0000 0 15.1px,#000 0 18.0px,#0000 0 25.9px,#000 0 28.1px,#0000 0 29.5px,#000 0 30.3px,#0000 0 55.5px,#000 0 59.1px,#0000 0 62.7px,#000 0 64.1px,#0000 0 85.0px,#000 0 85.8px,#0000 0 87.9px,#000 0 89.4px,#0000 0 105.9px,#000 0 106.7px,#0000 0 107.4px,#000 0 108.1px,#0000 0 119.6px,#000 0 121.1px,#0000 0 122.5px,#000 0 129.7px,#0000 0 132.6px,#000 0 133.3px,#0000 0 134.0px,#000 0 135.5px,#0000 0 136.2px,#000 0 136.9px,#0000 0 139.1px,#000 0 139.8px,#0000 0 142.0px,#000 0 142.7px,#0000 0 147.0px,#000 0 147.7px,#0000 0 165.0px,#000 0 166.5px,#0000 0 170.8px,#000 0 171.5px,#0000 0 174.4px,#000 0 175.8px,#0000 0 182.3px,#000 0 183.8px,#0000 0 185.9px,#000 0 188.1px,#0000 0 190.3px,#000 0 192.4px,#0000 0)"></div>
<div class="b" style="left:358.7px;top:112.0px;width:176.5px;height:201.1px;background:linear-gradient(to bottom,#0000 0 15.1px,#f9fb15 0 15.9px,#0000 0 29.5px,#f9fb15 0 30.3px,#0000 0 88.6px,#f9fb15 0 89.4px,#0000 0 105.9px,#f9fb15 0 106.7px,#0000 0 107.4px,#f9fb15 0 108.1px,#0000 0 132.6px,#f9fb15 0 133.3px,#0000 0 139.1px,#f9fb15 0 139.8px,#0000 0 142.0px,#f9fb15 0 142.7px,#0000 0 147.0px,#f9fb15 0 147.7px,#0000 0);-webkit-mask-image:linear-gradient(to right,#0000 0 3.2px,#000 0 3.8px,#0000 0 13.4px,#000 0 14.0px,#0000 0 19.7px,#000 0 21.0px,#0000 0 26.1px,#000 0 27.4px,#0000 0 29.3px,#000 0 29.9px,#0000 0 31.9px,#000 0 34.4px,#0000 0 41.4px,#000 0 42.0px,#0000 0 43.3px,#000 0 44.6px,#0000 0 53.5px,#000 0 54.1px,#0000 0 64.3px,#000 0 66.9px,#0000 0 70.1px,#000 0 71.3px,#0000 0 75.2px,#000 0 77.1px,#0000 0 78.4px,#000 0 80.3px,#0000 0 123.6px,#000 0 124.9px,#0000 0 129.9px,#000 0 130.6px,#0000 0 131.9px,#000 0 133.8px,#0000 0 135.7px,#000 0 136.3px,#0000 0 145.2px,#000 0 145.9px,#0000 0 156.7px,#000 0 158.0px,#0000 0 166.3px,#000 0 167.5px,#0000 0 173.3px,#000 0 175.8px,#0000 0)"></div>
<div class="b" style="left:535.2px;top:112.0px;width:186.0px;height:201.1px;background:linear-gradient(to right,#23a1e5 0 0.6px,#475bf9 0 1.3px,#4538d7 0 1.9px,#484ff2 0 3.8px,#4743e7 0 4.5px,#463de0 0 7.0px,#0000 0 7.6px,#4849ed 0 8.3px,#475bf9 0 8.9px,#4538d7 0 10.2px,#4849ed 0 10.8px,#4755f6 0 13.4px,#463de0 0 14.0px,#4755f6 0 14.7px,#463de0 0 15.9px,#475bf9 0 16.6px,#4538d7 0 19.1px,#4755f6 0 20.4px,#4743e7 0 21.7px,#0000 0 22.3px,#4433cc 0 23.6px,#4755f6 0 24.2px,#4743e7 0 25.5px,#347afd 0 27.4px,#4367fd 0 28.0px,#463de0 0 28.7px,#4433cc 0 30.6px,#0000 0 31.2px,#4433cc 0 32.5px,#347afd 0 39.5px,#259ce7 0 44.6px,#347afd 0 50.3px,#2f80fa 0 51.0px,#4367fd 0 52.2px,#2f80fa 0 52.9px,#463de0 0 54.8px,#475bf9 0 55.4px,#463de0 0 56.1px,#484ff2 0 58.6px,#3a74fe 0 60.5px,#463de0 0 61.2px,#475bf9 0 62.4px,#4743e7 0 63.7px,#463de0 0 65.6px,#4433cc 0 66.2px,#4743e7 0 66.9px,#2b91ef 0 67.5px,#4661fc 0 68.2px,#422fc1 0 69.4px,#347afd 0 72.6px,#4433cc 0 73.9px,#4743e7 0 74.5px,#484ff2 0 75.8px,#422fc1 0 76.4px,#4755f6 0 77.1px,#422fc1 0 77.7px,#4433cc 0 79.0px,#4538d7 0 81.5px,#484ff2 0 82.2px,#4743e7 0 84.7px,#4538d7 0 86.0px,#422fc1 0 86.6px,#4743e7 0 87.3px,#4538d7 0 88.5px,#484ff2 0 89.2px,#4849ed 0 91.1px,#4661fc 0 91.7px,#4367fd 0 93.0px,#4433cc 0 94.9px,#4661fc 0 95.6px,#4849ed 0 96.8px,#4743e7 0 98.1px,#347afd 0 101.3px,#0000 0 101.9px,#4849ed 0 102.6px,#422fc1 0 103.2px,#4433cc 0 105.1px,#463de0 0 105.7px,#4433cc 0 106.4px,#484ff2 0 108.3px,#4367fd 0 109.6px,#2e86f7 0 110.8px,#4661fc 0 111.5px,#463de0 0 112.8px,#4538d7 0 113.4px,#4755f6 0 115.3px,#4433cc 0 115.9px,#406dfe 0 117.2px,#4743e7 0 118.5px,#4538d7 0 119.8px,#0000 0 121.0px,#463de0 0 121.7px,#3a74fe 0 122.3px,#4755f6 0 123.6px,#4433cc 0 124.2px,#4538d7 0 126.8px,#475bf9 0 127.4px,#0000 0 128.0px,#1caadf 0 129.3px,#422fc1 0 129.9px,#4755f6 0 130.6px,#4538d7 0 131.2px,#475bf9 0 131.9px,#406dfe 0 132.5px,#3a74fe 0 133.1px,#4661fc 0 133.8px,#4538d7 0 135.0px,#1caadf 0 136.3px,#4743e7 0 137.6px,#475bf9 0 138.2px,#463de0 0 138.9px,#4849ed 0 139.5px,#4433cc 0 140.1px,#347afd 0 142.1px,#4433cc 0 142.7px,#4538d7 0 144.6px,#4755f6 0 145.9px,#475bf9 0 147.1px,#4661fc 0 148.4px,#2d8cf3 0 149.7px,#484ff2 0 152.2px,#463de0 0 153.5px,#422fc1 0 154.2px,#4433cc 0 155.4px,#422fc1 0 156.7px,#4433cc 0 157.3px,#463de0 0 158.6px,#4755f6 0 159.9px,#4538d7 0 161.2px,#4743e7 0 162.4px,#4755f6 0 163.7px,#484ff2 0 165.0px,#4849ed 0 165.6px,#475bf9 0 166.3px,#4538d7 0 168.2px,#4433cc 0 169.4px,#4538d7 0 172.6px,#4743e7 0 173.9px,#4849ed 0 177.7px,#4743e7 0 179.6px,#4661fc 0 180.3px,#3a74fe 0 181.5px,#347afd 0 183.5px,#4433cc 0 186.0px,#0000 0)"></div>
<div class="b" style="left:535.2px;top:112.0px;width:186.0px;height:201.1px;opacity:0.40;background:linear-gradient(to bottom,#4849ed 0 0.7px,#4755f6 0 1.4px,#4743e7 0 2.9px,#484ff2 0 5.8px,#4367fd 0 6.5px,#4849ed 0 8.6px,#475bf9 0 10.8px,#4755f6 0 14.4px,#4538d7 0 15.9px,#347afd 0 18.0px,#4849ed 0 19.5px,#4538d7 0 20.2px,#4433cc 0 22.3px,#422fc1 0 23.1px,#4743e7 0 23.8px,#484ff2 0 24.5px,#4367fd 0 25.2px,#4743e7 0 25.9px,#259ce7 0 28.1px,#4849ed 0 28.8px,#4538d7 0 29.5px,#4849ed 0 31.0px,#463de0 0 31.7px,#475bf9 0 32.4px,#4538d7 0 33.2px,#4743e7 0 33.9px,#4433cc 0 34.6px,#0000 0 36.0px,#484ff2 0 36.8px,#463de0 0 37.5px,#4367fd 0 38.9px,#23a1e5 0 39.6px,#475bf9 0 41.8px,#463de0 0 42.5px,#4433cc 0 44.7px,#0000 0 46.1px,#4433cc 0 47.6px,#4849ed 0 48.3px,#4433cc 0 49.0px,#4755f6 0 51.2px,#4433cc 0 52.6px,#4538d7 0 53.3px,#2b91ef 0 54.8px,#463de0 0 55.5px,#23a1e5 0 56.9px,#4755f6 0 57.7px,#23a1e5 0 59.1px,#4433cc 0 60.5px,#4743e7 0 61.3px,#4755f6 0 62.0px,#475bf9 0 62.7px,#2f80fa 0 64.1px,#4538d7 0 64.9px,#463de0 0 65.6px,#4743e7 0 66.3px,#4433cc 0 67.0px,#0000 0 68.5px,#2d8cf3 0 69.9px,#4538d7 0 70.6px,#484ff2 0 72.1px,#4743e7 0 73.5px,#463de0 0 74.2px,#4849ed 0 75.7px,#2f80fa 0 77.1px,#4538d7 0 77.8px,#0000 0 78.6px,#259ce7 0 79.3px,#0000 0 80.0px,#463de0 0 80.7px,#4433cc 0 81.4px,#4538d7 0 82.9px,#463de0 0 84.3px,#0000 0 85.0px,#4743e7 0 86.5px,#3a74fe 0 88.6px,#422fc1 0 89.4px,#463de0 0 90.8px,#4538d7 0 92.2px,#475bf9 0 94.4px,#347afd 0 95.1px,#4538d7 0 98.7px,#4743e7 0 99.5px,#475bf9 0 100.2px,#4849ed 0 101.6px,#463de0 0 102.3px,#4538d7 0 103.1px,#4433cc 0 103.8px,#463de0 0 105.2px,#4743e7 0 107.4px,#2b91ef 0 108.1px,#2e86f7 0 109.5px,#406dfe 0 111.7px,#4755f6 0 112.4px,#3a74fe 0 113.1px,#0000 0 114.6px,#4661fc 0 116.0px,#484ff2 0 118.2px,#463de0 0 119.6px,#259ce7 0 121.1px,#475bf9 0 121.8px,#484ff2 0 122.5px,#259ce7 0 129.7px,#475bf9 0 131.9px,#2f80fa 0 134.0px,#4661fc 0 135.5px,#4755f6 0 136.2px,#1caadf 0 136.9px,#4755f6 0 137.7px,#463de0 0 139.8px,#4538d7 0 141.3px,#463de0 0 142.0px,#4849ed 0 144.9px,#2f80fa 0 145.6px,#4367fd 0 146.3px,#4849ed 0 147.0px,#463de0 0 149.9px,#4661fc 0 151.3px,#4538d7 0 152.8px,#4433cc 0 153.5px,#0000 0 156.4px,#4367fd 0 157.8px,#4538d7 0 160.0px,#475bf9 0 160.7px,#422fc1 0 161.4px,#0000 0 163.6px,#406dfe 0 164.3px,#4661fc 0 165.0px,#2f80fa 0 166.5px,#422fc1 0 167.9px,#4538d7 0 168.6px,#463de0 0 169.4px,#4755f6 0 170.1px,#463de0 0 171.5px,#4433cc 0 173.0px,#422fc1 0 173.7px,#347afd 0 174.4px,#4661fc 0 175.8px,#0000 0 176.6px,#4743e7 0 178.0px,#4538d7 0 178.7px,#475bf9 0 179.5px,#484ff2 0 180.2px,#4367fd 0 180.9px,#4755f6 0 182.3px,#2d8cf3 0 183.8px,#406dfe 0 184.5px,#2e86f7 0 185.2px,#2b91ef 0 185.9px,#23a1e5 0 188.1px,#259ce7 0 188.8px,#4433cc 0 189.5px,#0000 0 190.3px,#4661fc 0 192.4px,#4755f6 0 193.1px,#4849ed 0 193.9px,#0000 0 194.6px,#422fc1 0 196.0px,#4755f6 0 197.5px,#463de0 0 198.9px,#4538d7 0 199.6px,#4743e7 0 201.1px,#0000 0)"></div>
<div class="b" style="left:535.2px;top:112.0px;width:186.0px;height:201.1px;background:linear-gradient(to right,#0000 0 32.5px,#f9fb15 0 39.5px,#0000 0 44.6px,#f9fb15 0 50.3px,#0000 0 69.4px,#f9fb15 0 72.6px,#0000 0 98.1px,#f9fb15 0 101.3px,#0000 0 140.1px,#f9fb15 0 142.1px,#0000 0 181.5px,#f9fb15 0 183.5px,#0000 0);-webkit-mask-image:linear-gradient(to bottom,#000 0 44.7px,#0000 0 46.1px,#000 0 77.8px,#0000 0 78.6px,#000 0 79.3px,#0000 0 80.0px,#000 0 161.4px,#0000 0 162.2px,#000 0 193.9px,#0000 0 194.6px,#000 0 201.1px,#0000 0)"></div>
<div class="b" style="left:535.2px;top:112.0px;width:186.0px;height:201.1px;background:linear-gradient(to bottom,#0000 0 15.9px,#f9fb15 0 18.0px,#0000 0 62.7px,#f9fb15 0 64.1px,#0000 0 165.0px,#f9fb15 0 166.5px,#0000 0);-webkit-mask-image:linear-gradient(to right,#000 0 7.0px,#0000 0 7.6px,#000 0 21.7px,#0000 0 22.3px,#000 0 101.3px,#0000 0 101.9px,#000 0 119.8px,#0000 0 121.0px,#000 0 127.4px,#0000 0 128.0px,#000 0 186.0px,#0000 0)"></div>
<div class="b" style="left:535.2px;top:112.0px;width:186.0px;height:201.1px;background:linear-gradient(to right,#0000 0 25.5px,#f9fb15 0 27.4px,#0000 0 58.6px,#f9fb15 0 60.5px,#0000 0);-webkit-mask-image:linear-gradient(to bottom,#000 0 14.4px,#0000 0 15.1px,#000 0 20.2px,#0000 0 23.1px,#000 0 33.9px,#0000 0 36.0px,#000 0 42.5px,#0000 0 47.6px,#000 0 48.3px,#0000 0 49.0px,#000 0 51.2px,#0000 0 52.6px,#000 0 59.1px,#0000 0 60.5px,#000 0 64.1px,#0000 0 64.9px,#000 0 66.3px,#0000 0 68.5px,#000 0 69.9px,#0000 0 70.6px,#000 0 77.8px,#0000 0 78.6px,#000 0 79.3px,#0000 0 80.0px,#000 0 80.7px,#0000 0 81.4px,#000 0 84.3px,#0000 0 85.0px,#000 0 88.6px,#0000 0 89.4px,#000 0 103.1px,#0000 0 103.8px,#000 0 113.1px,#0000 0 114.6px,#000 0 152.1px,#0000 0 156.4px,#000 0 160.7px,#0000 0 163.6px,#000 0 166.5px,#0000 0 167.9px,#000 0 171.5px,#0000 0 173.7px,#000 0 175.8px,#0000 0 176.6px,#000 0 188.8px,#0000 0 190.3px,#000 0 193.9px,#0000 0 196.0px,#000 0 201.1px,#0000 0)"></div>
<div class="b" style="left:535.2px;top:112.0px;width:186.0px;height:201.1px;background:linear-gradient(to right,#0000 0 51.0px,#f9fb15 0 52.2px,#0000 0 91.7px,#f9fb15 0 93.0px,#0000 0 115.9px,#f9fb15 0 117.2px,#0000 0);-webkit-mask-image:linear-gradient(to bottom,#000 0 1.4px,#0000 0 2.9px,#000 0 6.5px,#0000 0 8.6px,#000 0 14.4px,#0000 0 15.9px,#000 0 18.0px,#0000 0 23.8px,#000 0 25.2px,#0000 0 25.9px,#000 0 28.8px,#0000 0 29.5px,#000 0 31.0px,#0000 0 31.7px,#000 0 32.4px,#0000 0 36.0px,#000 0 36.8px,#0000 0 37.5px,#000 0 41.8px,#0000 0 47.6px,#000 0 48.3px,#0000 0 49.0px,#000 0 51.2px,#0000 0 53.3px,#000 0 54.8px,#0000 0 55.5px,#000 0 59.1px,#0000 0 61.3px,#000 0 64.1px,#0000 0 68.5px,#000 0 69.9px,#0000 0 70.6px,#000 0 72.1px,#0000 0 75.7px,#000 0 77.1px,#0000 0 78.6px,#000 0 79.3px,#0000 0 86.5px,#000 0 88.6px,#0000 0 92.2px,#000 0 95.1px,#0000 0 99.5px,#000 0 101.6px,#0000 0 107.4px,#000 0 113.1px,#0000 0 114.6px,#000 0 118.2px,#0000 0 119.6px,#000 0 137.7px,#0000 0 144.9px,#000 0 147.0px,#0000 0 149.9px,#000 0 151.3px,#0000 0 156.4px,#000 0 157.8px,#0000 0 160.0px,#000 0 160.7px,#0000 0 163.6px,#000 0 166.5px,#0000 0 169.4px,#000 0 170.1px,#0000 0 173.7px,#000 0 175.8px,#0000 0 178.7px,#000 0 188.8px,#0000 0 190.3px,#000 0 193.1px,#0000 0 196.0px,#000 0 197.5px,#0000 0)"></div>
<div class="b" style="left:535.2px;top:112.0px;width:186.0px;height:201.1px;background:linear-gradient(to bottom,#0000 0 134.0px,#f9fb15 0 135.5px,#0000 0 174.4px,#f9fb15 0 175.8px,#0000 0 190.3px,#f9fb15 0 192.4px,#0000 0);-webkit-mask-image:linear-gradient(to right,#000 0 1.3px,#0000 0 1.9px,#000 0 3.8px,#0000 0 7.6px,#000 0 8.9px,#0000 0 10.2px,#000 0 13.4px,#0000 0 14.0px,#000 0 14.7px,#0000 0 15.9px,#000 0 16.6px,#0000 0 19.1px,#000 0 20.4px,#0000 0 23.6px,#000 0 24.2px,#0000 0 25.5px,#000 0 28.0px,#0000 0 32.5px,#000 0 52.9px,#0000 0 54.8px,#000 0 55.4px,#0000 0 56.1px,#000 0 60.5px,#0000 0 61.2px,#000 0 62.4px,#0000 0 66.9px,#000 0 68.2px,#0000 0 69.4px,#000 0 72.6px,#0000 0 74.5px,#000 0 75.8px,#0000 0 76.4px,#000 0 77.1px,#0000 0 81.5px,#000 0 82.2px,#0000 0 88.5px,#000 0 93.0px,#0000 0 94.9px,#000 0 96.8px,#0000 0 98.1px,#000 0 101.3px,#0000 0 106.4px,#000 0 111.5px,#0000 0 113.4px,#000 0 115.3px,#0000 0 115.9px,#000 0 117.2px,#0000 0 121.7px,#000 0 123.6px,#0000 0 126.8px,#000 0 127.4px,#0000 0 128.0px,#000 0 129.3px,#0000 0 129.9px,#000 0 130.6px,#0000 0 131.2px,#000 0 133.8px,#0000 0 135.0px,#000 0 136.3px,#0000 0 137.6px,#000 0 138.2px,#0000 0 138.9px,#000 0 139.5px,#0000 0 140.1px,#000 0 142.1px,#0000 0 144.6px,#000 0 152.2px,#0000 0 158.6px,#000 0 159.9px,#0000 0 162.4px,#000 0 166.3px,#0000 0 179.6px,#000 0 183.5px,#0000 0)"></div>
<div class="b" style="left:535.2px;top:112.0px;width:186.0px;height:201.1px;background:linear-gradient(to right,#0000 0 8.3px,#f9fb15 0 8.9px,#0000 0 14.0px,#f9fb15 0 14.7px,#0000 0 19.7px,#f9fb15 0 20.4px,#0000 0 54.8px,#f9fb15 0 55.4px,#0000 0 76.4px,#f9fb15 0 77.1px,#0000 0 126.8px,#f9fb15 0 127.4px,#0000 0 129.9px,#f9fb15 0 130.6px,#0000 0 137.6px,#f9fb15 0 138.2px,#0000 0 162.4px,#f9fb15 0 163.7px,#0000 0);-webkit-mask-image:linear-gradient(to bottom,#0000 0 10.8px,#000 0 11.5px,#0000 0 15.9px,#000 0 18.0px,#0000 0 25.9px,#000 0 28.1px,#0000 0 38.9px,#000 0 39.6px,#0000 0 49.0px,#000 0 51.2px,#0000 0 55.5px,#000 0 59.1px,#0000 0 61.3px,#000 0 64.1px,#0000 0 78.6px,#000 0 79.3px,#0000 0 111.7px,#000 0 112.4px,#0000 0 119.6px,#000 0 121.1px,#0000 0 122.5px,#000 0 129.7px,#0000 0 134.0px,#000 0 135.5px,#0000 0 136.2px,#000 0 137.7px,#0000 0 160.0px,#000 0 160.7px,#0000 0 165.0px,#000 0 166.5px,#0000 0 174.4px,#000 0 175.8px,#0000 0 185.9px,#000 0 188.8px,#0000 0 190.3px,#000 0 192.4px,#0000 0 196.0px,#000 0 196.7px,#0000 0)"></div>
<div class="b" style="left:535.2px;top:112.0px;width:186.0px;height:201.1px;background:linear-gradient(to bottom,#0000 0 10.8px,#f9fb15 0 11.5px,#0000 0 49.0px,#f9fb15 0 51.2px,#0000 0 56.9px,#f9fb15 0 57.7px,#0000 0 61.3px,#f9fb15 0 62.7px,#0000 0 111.7px,#f9fb15 0 112.4px,#0000 0 136.9px,#f9fb15 0 137.7px,#0000 0 160.0px,#f9fb15 0 160.7px,#0000 0 196.0px,#f9fb15 0 196.7px,#0000 0);-webkit-mask-image:linear-gradient(to right,#0000 0 25.5px,#000 0 27.4px,#0000 0 32.5px,#000 0 39.5px,#0000 0 44.6px,#000 0 50.3px,#0000 0 58.6px,#000 0 60.5px,#0000 0 69.4px,#000 0 72.6px,#0000 0 98.1px,#000 0 101.3px,#0000 0 115.9px,#000 0 117.2px,#0000 0 140.1px,#000 0 142.1px,#0000 0 181.5px,#000 0 183.5px,#0000 0)"></div>
<div class="b" style="left:721.2px;top:112.0px;width:179.0px;height:201.1px;background:linear-gradient(to right,#422fc1 0 1.3px,#0000 0 9.6px,#4433cc 0 10.2px,#0000 0 11.5px,#4538d7 0 14.0px,#4433cc 0 14.7px,#0000 0 16.6px,#422fc1 0 20.4px,#4849ed 0 21.7px,#259ce7 0 22.9px,#484ff2 0 23.6px,#4538d7 0 24.2px,#4849ed 0 24.8px,#463de0 0 27.4px,#0000 0 28.7px,#4433cc 0 29.9px,#422fc1 0 30.6px,#4743e7 0 31.2px,#0000 0 31.9px,#4433cc 0 33.1px,#422fc1 0 34.4px,#0000 0 36.3px,#4743e7 0 36.9px,#4433cc 0 38.2px,#463de0 0 39.5px,#0000 0 41.4px,#4538d7 0 42.0px,#4433cc 0 43.3px,#422fc1 0 44.0px,#0000 0 49.7px,#4433cc 0 51.0px,#0000 0 56.1px,#4538d7 0 57.3px,#4849ed 0 58.6px,#0000 0 61.8px,#4433cc 0 63.7px,#463de0 0 64.3px,#4538d7 0 65.0px,#4433cc 0 67.5px,#4849ed 0 70.1px,#0000 0 72.6px,#4849ed 0 74.5px,#4433cc 0 76.4px,#4538d7 0 77.1px,#0000 0 79.0px,#4849ed 0 79.6px,#463de0 0 80.9px,#4538d7 0 83.4px,#422fc1 0 86.0px,#4849ed 0 87.9px,#4433cc 0 90.5px,#422fc1 0 91.1px,#4743e7 0 92.4px,#4433cc 0 94.3px,#0000 0 94.9px,#4433cc 0 95.6px,#4538d7 0 96.2px,#4743e7 0 97.5px,#422fc1 0 98.1px,#463de0 0 99.4px,#4538d7 0 100.0px,#422fc1 0 100.6px,#0000 0 103.2px,#4538d7 0 103.8px,#4743e7 0 105.7px,#0000 0 106.4px,#4433cc 0 107.7px,#422fc1 0 108.3px,#0000 0 108.9px,#4433cc 0 110.2px,#422fc1 0 110.8px,#0000 0 113.4px,#463de0 0 115.3px,#4367fd 0 115.9px,#484ff2 0 116.6px,#0000 0 119.8px,#4433cc 0 121.7px,#0000 0 122.9px,#4367fd 0 124.9px,#422fc1 0 125.5px,#0000 0 126.1px,#422fc1 0 128.0px,#0000 0 128.7px,#4538d7 0 130.6px,#0000 0 131.9px,#422fc1 0 132.5px,#463de0 0 133.8px,#4849ed 0 134.4px,#4743e7 0 135.0px,#0000 0 137.0px,#422fc1 0 138.2px,#0000 0 142.7px,#422fc1 0 144.0px,#4743e7 0 145.2px,#4433cc 0 145.9px,#0000 0 148.4px,#422fc1 0 149.1px,#4433cc 0 150.3px,#4849ed 0 151.0px,#0000 0 151.6px,#4538d7 0 155.4px,#4661fc 0 157.3px,#0000 0 163.1px,#4433cc 0 164.3px,#463de0 0 165.0px,#422fc1 0 165.6px,#484ff2 0 166.9px,#475bf9 0 168.2px,#4743e7 0 170.7px,#4538d7 0 173.3px,#0000 0 175.8px,#4743e7 0 177.1px,#4849ed 0 179.0px,#0000 0);-webkit-mask-image:linear-gradient(to bottom,#000 0 1.4px,#0000 0 2.9px,#000 0 3.6px,#0000 0 4.3px,#000 0 8.6px,#0000 0 10.1px,#000 0 12.3px,#0000 0 15.9px,#000 0 20.9px,#0000 0 24.5px,#000 0 25.2px,#0000 0 25.9px,#000 0 28.1px,#0000 0 36.0px,#000 0 39.6px,#0000 0 40.4px,#000 0 41.8px,#0000 0 49.0px,#000 0 51.2px,#0000 0 52.6px,#000 0 59.1px,#0000 0 62.7px,#000 0 64.1px,#0000 0 64.9px,#000 0 66.3px,#0000 0 68.5px,#000 0 69.9px,#0000 0 70.6px,#000 0 73.5px,#0000 0 75.0px,#000 0 77.8px,#0000 0 78.6px,#000 0 79.3px,#0000 0 83.6px,#000 0 88.6px,#0000 0 94.4px,#000 0 95.1px,#0000 0 98.0px,#000 0 113.1px,#0000 0 119.6px,#000 0 135.5px,#0000 0 136.2px,#000 0 136.9px,#0000 0 142.0px,#000 0 147.0px,#0000 0 149.2px,#000 0 152.8px,#0000 0 156.4px,#000 0 161.4px,#0000 0 163.6px,#000 0 166.5px,#0000 0 168.6px,#000 0 175.8px,#0000 0 182.3px,#000 0 189.5px,#0000 0 190.3px,#000 0 201.1px,#0000 0)"></div>
<div class="b" style="left:721.2px;top:112.0px;width:179.0px;height:201.1px;opacity:0.25;background:linear-gradient(to bottom,#0000 0 0.7px,#4433cc 0 1.4px,#0000 0 2.9px,#4433cc 0 3.6px,#0000 0 4.3px,#4538d7 0 5.8px,#463de0 0 6.5px,#4433cc 0 8.6px,#0000 0 10.1px,#422fc1 0 12.3px,#0000 0 15.9px,#4661fc 0 18.0px,#422fc1 0 19.5px,#4849ed 0 20.2px,#463de0 0 20.9px,#0000 0 24.5px,#4755f6 0 25.2px,#0000 0 25.9px,#4367fd 0 28.1px,#0000 0 36.0px,#475bf9 0 37.5px,#4743e7 0 38.9px,#4538d7 0 39.6px,#0000 0 40.4px,#422fc1 0 41.8px,#0000 0 49.0px,#4367fd 0 51.2px,#0000 0 52.6px,#4433cc 0 54.1px,#4538d7 0 55.5px,#2b91ef 0 56.2px,#23a1e5 0 59.1px,#0000 0 62.7px,#4367fd 0 64.1px,#0000 0 64.9px,#422fc1 0 66.3px,#0000 0 68.5px,#484ff2 0 69.9px,#0000 0 70.6px,#4538d7 0 73.5px,#0000 0 75.0px,#463de0 0 75.7px,#4367fd 0 77.8px,#0000 0 78.6px,#4743e7 0 79.3px,#0000 0 83.6px,#4538d7 0 85.0px,#3a74fe 0 86.5px,#475bf9 0 88.6px,#0000 0 94.4px,#422fc1 0 95.1px,#0000 0 98.0px,#4433cc 0 98.7px,#4743e7 0 100.2px,#4538d7 0 101.6px,#4433cc 0 103.8px,#4538d7 0 104.5px,#422fc1 0 107.4px,#2e86f7 0 109.5px,#4538d7 0 111.7px,#4743e7 0 112.4px,#4538d7 0 113.1px,#0000 0 119.6px,#4367fd 0 121.1px,#4433cc 0 122.5px,#4849ed 0 129.7px,#4538d7 0 133.3px,#4433cc 0 134.0px,#2d8cf3 0 135.5px,#0000 0 136.2px,#2d8cf3 0 136.9px,#0000 0 142.0px,#4433cc 0 143.4px,#463de0 0 144.9px,#4433cc 0 145.6px,#4538d7 0 147.0px,#0000 0 149.2px,#422fc1 0 149.9px,#463de0 0 151.3px,#4433cc 0 152.1px,#422fc1 0 152.8px,#0000 0 156.4px,#484ff2 0 157.8px,#4433cc 0 159.3px,#422fc1 0 160.0px,#0000 0 160.7px,#422fc1 0 161.4px,#0000 0 163.6px,#4433cc 0 165.0px,#05b6ce 0 166.5px,#0000 0 168.6px,#422fc1 0 169.4px,#4538d7 0 170.1px,#4743e7 0 172.2px,#463de0 0 173.0px,#4849ed 0 174.4px,#1caadf 0 175.8px,#0000 0 182.3px,#4367fd 0 183.8px,#4849ed 0 184.5px,#4433cc 0 186.7px,#4743e7 0 187.4px,#4849ed 0 188.1px,#4743e7 0 188.8px,#4433cc 0 189.5px,#0000 0 190.3px,#4367fd 0 192.4px,#4538d7 0 193.1px,#422fc1 0 194.6px,#4538d7 0 195.3px,#4433cc 0 196.0px,#463de0 0 197.5px,#4433cc 0 198.9px,#422fc1 0 199.6px,#4433cc 0 201.1px,#0000 0);-webkit-mask-image:linear-gradient(to right,#000 0 1.3px,#0000 0 9.6px,#000 0 10.2px,#0000 0 11.5px,#000 0 14.7px,#0000 0 16.6px,#000 0 27.4px,#0000 0 28.7px,#000 0 31.2px,#0000 0 31.9px,#000 0 34.4px,#0000 0 36.3px,#000 0 39.5px,#0000 0 41.4px,#000 0 44.0px,#0000 0 49.7px,#000 0 51.0px,#0000 0 56.1px,#000 0 58.6px,#0000 0 61.8px,#000 0 70.1px,#0000 0 72.6px,#000 0 77.1px,#0000 0 79.0px,#000 0 94.3px,#0000 0 94.9px,#000 0 100.0px,#0000 0 103.2px,#000 0 105.7px,#0000 0 106.4px,#000 0 108.3px,#0000 0 108.9px,#000 0 110.2px,#0000 0 113.4px,#000 0 116.6px,#0000 0 119.8px,#000 0 121.7px,#0000 0 122.9px,#000 0 125.5px,#0000 0 126.1px,#000 0 128.0px,#0000 0 128.7px,#000 0 130.6px,#0000 0 132.5px,#000 0 135.0px,#0000 0 137.0px,#000 0 138.2px,#0000 0 142.7px,#000 0 145.9px,#0000 0 148.4px,#000 0 151.0px,#0000 0 151.6px,#000 0 157.3px,#0000 0 163.1px,#000 0 165.0px,#0000 0 165.6px,#000 0 173.3px,#0000 0 175.8px,#000 0 179.0px,#0000 0)"></div>
<div class="b" style="left:721.2px;top:112.0px;width:179.0px;height:201.1px;background:linear-gradient(to bottom,#0000 0 15.9px,#f9fb15 0 18.0px,#0000 0 62.7px,#f9fb15 0 64.1px,#0000 0 190.3px,#f9fb15 0 192.4px,#0000 0);-webkit-mask-image:linear-gradient(to right,#0000 0 9.6px,#000 0 10.2px,#0000 0 11.5px,#000 0 14.7px,#0000 0 20.4px,#000 0 27.4px,#0000 0 28.7px,#000 0 29.9px,#0000 0 30.6px,#000 0 31.2px,#0000 0 31.9px,#000 0 33.1px,#0000 0 36.3px,#000 0 39.5px,#0000 0 41.4px,#000 0 43.3px,#0000 0 49.7px,#000 0 51.0px,#0000 0 56.1px,#000 0 58.6px,#0000 0 61.8px,#000 0 70.1px,#0000 0 72.6px,#000 0 77.1px,#0000 0 79.0px,#000 0 83.4px,#0000 0 86.0px,#000 0 89.8px,#0000 0 91.1px,#000 0 94.3px,#0000 0 94.9px,#000 0 97.5px,#0000 0 98.1px,#000 0 100.0px,#0000 0 103.2px,#000 0 105.7px,#0000 0 106.4px,#000 0 107.7px,#0000 0 108.9px,#000 0 110.2px,#0000 0 113.4px,#000 0 116.6px,#0000 0 119.8px,#000 0 121.7px,#0000 0 122.9px,#000 0 124.9px,#0000 0 128.7px,#000 0 130.6px,#0000 0 132.5px,#000 0 135.0px,#0000 0 144.0px,#000 0 145.9px,#0000 0 149.1px,#000 0 151.0px,#0000 0 151.6px,#000 0 157.3px,#0000 0 163.1px,#000 0 165.0px,#0000 0 165.6px,#000 0 173.3px,#0000 0 175.8px,#000 0 179.0px,#0000 0)"></div>
<div class="b" style="left:721.2px;top:112.0px;width:179.0px;height:201.1px;background:linear-gradient(to bottom,#0000 0 68.5px,#f9fb15 0 69.9px,#0000 0 156.4px,#f9fb15 0 157.8px,#0000 0);-webkit-mask-image:linear-gradient(to right,#0000 0 20.4px,#000 0 23.6px,#0000 0 24.2px,#000 0 24.8px,#0000 0 30.6px,#000 0 31.2px,#0000 0 57.3px,#000 0 58.6px,#0000 0 67.5px,#000 0 70.1px,#0000 0 72.6px,#000 0 74.5px,#0000 0 79.0px,#000 0 79.6px,#0000 0 86.0px,#000 0 87.9px,#0000 0 96.2px,#000 0 96.8px,#0000 0 103.8px,#000 0 105.7px,#0000 0 115.3px,#000 0 116.6px,#0000 0 122.9px,#000 0 124.9px,#0000 0 133.8px,#000 0 134.4px,#0000 0 150.3px,#000 0 151.0px,#0000 0 155.4px,#000 0 157.3px,#0000 0 165.6px,#000 0 168.2px,#0000 0 170.1px,#000 0 170.7px,#0000 0 175.8px,#000 0 179.0px,#0000 0)"></div>
<div class="b" style="left:900.2px;top:112.0px;width:361.8px;height:201.1px;background:linear-gradient(to right,#4538d7 0 0.6px,#484ff2 0 1.9px,#4538d7 0 2.5px,#0000 0 3.2px,#4538d7 0 3.8px,#4433cc 0 4.5px,#0000 0 5.1px,#4849ed 0 5.7px,#463de0 0 7.6px,#4755f6 0 8.3px,#4367fd 0 10.2px,#4538d7 0 10.8px,#0000 0 13.4px,#4433cc 0 14.7px,#484ff2 0 15.3px,#463de0 0 17.2px,#0000 0 19.7px,#4755f6 0 20.4px,#4433cc 0 22.9px,#0000 0 24.8px,#4849ed 0 26.8px,#463de0 0 27.4px,#422fc1 0 28.7px,#0000 0 31.2px,#4538d7 0 31.9px,#4433cc 0 32.5px,#422fc1 0 33.8px,#4538d7 0 34.4px,#0000 0 36.3px,#4433cc 0 36.9px,#0000 0 38.2px,#4661fc 0 39.5px,#0000 0 41.4px,#422fc1 0 42.7px,#4538d7 0 43.3px,#4433cc 0 44.0px,#0000 0 47.1px,#4849ed 0 47.8px,#4743e7 0 50.3px,#0000 0 52.9px,#4755f6 0 53.5px,#4661fc 0 55.4px,#4433cc 0 56.7px,#463de0 0 58.6px,#484ff2 0 59.2px,#4538d7 0 59.9px,#4433cc 0 61.8px,#0000 0 63.7px,#4538d7 0 64.3px,#4433cc 0 66.2px,#475bf9 0 66.9px,#463de0 0 69.4px,#4538d7 0 72.0px,#4433cc 0 72.6px,#422fc1 0 73.3px,#0000 0 74.5px,#4433cc 0 75.2px,#484ff2 0 77.1px,#463de0 0 77.7px,#4433cc 0 78.4px,#4538d7 0 80.3px,#406dfe 0 80.9px,#4538d7 0 81.5px,#2f80fa 0 83.4px,#0000 0 84.7px,#4538d7 0 85.4px,#463de0 0 86.6px,#0000 0 87.9px,#4538d7 0 89.2px,#0000 0 91.1px,#4433cc 0 91.7px,#4538d7 0 92.4px,#0000 0 93.0px,#422fc1 0 93.6px,#0000 0 95.6px,#422fc1 0 96.2px,#4433cc 0 100.0px,#422fc1 0 101.3px,#4433cc 0 102.6px,#0000 0 103.8px,#4433cc 0 105.7px,#4743e7 0 106.4px,#422fc1 0 107.0px,#463de0 0 108.9px,#4433cc 0 110.2px,#0000 0 111.5px,#4849ed 0 112.1px,#0000 0 112.8px,#4538d7 0 113.4px,#0000 0 114.7px,#463de0 0 115.9px,#4538d7 0 119.8px,#0000 0 120.4px,#4433cc 0 122.3px,#0000 0 123.6px,#422fc1 0 124.9px,#4538d7 0 126.1px,#2d8cf3 0 128.0px,#4538d7 0 128.7px,#422fc1 0 129.3px,#4538d7 0 131.2px,#4755f6 0 132.5px,#406dfe 0 133.8px,#4433cc 0 135.7px,#0000 0 136.3px,#4743e7 0 138.2px,#484ff2 0 139.5px,#4538d7 0 141.4px,#4433cc 0 143.3px,#347afd 0 144.6px,#475bf9 0 145.9px,#4538d7 0 146.5px,#475bf9 0 147.8px,#4433cc 0 148.4px,#4849ed 0 149.7px,#4743e7 0 150.3px,#4433cc 0 152.2px,#4538d7 0 154.2px,#0000 0 157.3px,#4538d7 0 158.0px,#4743e7 0 159.9px,#4433cc 0 160.5px,#0000 0 163.1px,#4538d7 0 164.3px,#0000 0 166.3px,#4433cc 0 166.9px,#422fc1 0 168.2px,#463de0 0 168.8px,#4538d7 0 170.1px,#463de0 0 171.4px,#4538d7 0 172.0px,#4849ed 0 173.3px,#2e86f7 0 173.9px,#422fc1 0 174.5px,#0000 0 175.2px,#422fc1 0 177.7px,#0000 0 178.4px,#4433cc 0 179.0px,#463de0 0 180.3px,#422fc1 0 181.5px,#4433cc 0 182.8px,#4538d7 0 184.7px,#0000 0 186.0px,#4433cc 0 187.9px,#463de0 0 189.2px,#4849ed 0 189.8px,#422fc1 0 190.5px,#0000 0 192.4px,#4755f6 0 193.0px,#4433cc 0 193.6px,#0000 0 194.9px,#4433cc 0 195.6px,#484ff2 0 196.8px,#4743e7 0 198.1px,#4367fd 0 198.7px,#4849ed 0 200.0px,#0000 0 202.6px,#4433cc 0 204.5px,#422fc1 0 205.1px,#0000 0 207.7px,#422fc1 0 208.3px,#4538d7 0 210.2px,#4743e7 0 210.8px,#463de0 0 212.1px,#4755f6 0 213.4px,#4433cc 0 214.0px,#4538d7 0 214.7px,#4743e7 0 216.6px,#0000 0 219.1px,#463de0 0 219.8px,#4755f6 0 221.7px,#422fc1 0 224.2px,#4743e7 0 224.9px,#484ff2 0 226.1px,#422fc1 0 226.8px,#4743e7 0 228.0px,#4433cc 0 228.7px,#422fc1 0 229.3px,#0000 0 231.2px,#422fc1 0 231.9px,#0000 0 232.5px,#422fc1 0 233.8px,#0000 0 237.6px,#4433cc 0 238.9px,#4849ed 0 240.2px,#4433cc 0 241.4px,#0000 0 242.1px,#4538d7 0 243.3px,#0000 0 244.6px,#4755f6 0 245.9px,#4849ed 0 246.5px,#0000 0 248.4px,#4538d7 0 250.3px,#0000 0 252.3px,#4849ed 0 253.5px,#475bf9 0 254.2px,#2e86f7 0 254.8px,#422fc1 0 255.4px,#4849ed 0 256.1px,#0000 0 257.4px,#4433cc 0 259.3px,#4849ed 0 260.5px,#4538d7 0 261.8px,#4433cc 0 264.4px,#463de0 0 266.3px,#484ff2 0 266.9px,#463de0 0 267.5px,#0000 0 268.8px,#4538d7 0 270.7px,#4433cc 0 272.0px,#0000 0 273.9px,#463de0 0 275.8px,#259ce7 0 276.5px,#2e86f7 0 277.1px,#3a74fe 0 277.7px,#406dfe 0 279.0px,#484ff2 0 280.3px,#4538d7 0 280.9px,#422fc1 0 282.2px,#4433cc 0 283.5px,#4538d7 0 284.1px,#0000 0 284.7px,#4433cc 0 285.4px,#484ff2 0 287.3px,#4743e7 0 288.6px,#0000 0 292.4px,#422fc1 0 293.0px,#4433cc 0 294.3px,#422fc1 0 294.9px,#4433cc 0 296.8px,#0000 0 297.5px,#463de0 0 298.1px,#484ff2 0 298.8px,#4743e7 0 301.3px,#4538d7 0 301.9px,#0000 0 304.5px,#422fc1 0 305.1px,#4433cc 0 306.4px,#463de0 0 307.0px,#4743e7 0 307.7px,#4433cc 0 308.3px,#0000 0 310.2px,#4538d7 0 311.5px,#4661fc 0 312.1px,#463de0 0 313.4px,#4433cc 0 314.7px,#422fc1 0 315.3px,#0000 0 316.6px,#4433cc 0 317.2px,#422fc1 0 319.8px,#4538d7 0 320.4px,#4433cc 0 322.3px,#463de0 0 323.0px,#4849ed 0 324.2px,#4538d7 0 324.9px,#422fc1 0 325.5px,#0000 0 326.8px,#4849ed 0 327.4px,#4743e7 0 328.1px,#422fc1 0 330.0px,#4538d7 0 330.6px,#4433cc 0 333.2px,#463de0 0 334.4px,#4433cc 0 337.0px,#4743e7 0 337.6px,#463de0 0 339.5px,#4755f6 0 340.2px,#23a1e5 0 340.8px,#259ce7 0 341.4px,#4743e7 0 342.1px,#4755f6 0 343.3px,#2f80fa 0 344.6px,#484ff2 0 346.5px,#4538d7 0 347.8px,#0000 0 349.1px,#422fc1 0 349.7px,#4538d7 0 351.0px,#463de0 0 352.9px,#4849ed 0 353.5px,#4661fc 0 354.2px,#4743e7 0 354.8px,#4538d7 0 355.4px,#0000 0 359.3px,#4367fd 0 359.9px,#4433cc 0 360.5px,#4538d7 0 361.2px,#422fc1 0 361.8px,#0000 0);-webkit-mask-image:linear-gradient(to bottom,#0000 0 1.4px,#000 0 3.6px,#0000 0 4.3px,#000 0 6.5px,#0000 0 7.2px,#000 0 12.3px,#0000 0 15.9px,#000 0 18.0px,#0000 0 19.5px,#000 0 20.2px,#0000 0 23.8px,#000 0 25.2px,#0000 0 25.9px,#000 0 28.8px,#0000 0 29.5px,#000 0 33.2px,#0000 0 36.0px,#000 0 39.6px,#0000 0 48.3px,#000 0 51.2px,#0000 0 52.6px,#000 0 59.1px,#0000 0 62.0px,#000 0 64.1px,#0000 0 68.5px,#000 0 71.3px,#0000 0 75.7px,#000 0 77.8px,#0000 0 78.6px,#000 0 79.3px,#0000 0 82.9px,#000 0 88.6px,#0000 0 92.2px,#000 0 93.7px,#0000 0 98.7px,#000 0 100.2px,#0000 0 100.9px,#000 0 113.1px,#0000 0 115.3px,#000 0 118.2px,#0000 0 119.6px,#000 0 140.5px,#0000 0 142.0px,#000 0 147.0px,#0000 0 149.9px,#000 0 151.3px,#0000 0 156.4px,#000 0 158.6px,#0000 0 163.6px,#000 0 168.6px,#0000 0 169.4px,#000 0 172.2px,#0000 0 173.0px,#000 0 175.8px,#0000 0 182.3px,#000 0 188.8px,#0000 0 190.3px,#000 0 197.5px,#0000 0 199.6px,#000 0 201.1px,#0000 0)"></div>
<div class="b" style="left:900.2px;top:112.0px;width:361.8px;height:201.1px;opacity:0.25;background:linear-gradient(to bottom,#422fc1 0 0.7px,#4433cc 0 1.4px,#4538d7 0 3.6px,#422fc1 0 4.3px,#4538d7 0 6.5px,#422fc1 0 7.2px,#4538d7 0 8.6px,#463de0 0 9.4px,#4849ed 0 10.8px,#4538d7 0 12.3px,#0000 0 15.9px,#347afd 0 18.0px,#4433cc 0 19.5px,#463de0 0 20.2px,#0000 0 21.6px,#422fc1 0 23.8px,#4538d7 0 24.5px,#347afd 0 25.2px,#4433cc 0 25.9px,#2d8cf3 0 28.1px,#4538d7 0 28.8px,#422fc1 0 29.5px,#4538d7 0 31.7px,#463de0 0 32.4px,#4538d7 0 33.2px,#0000 0 36.0px,#4538d7 0 36.8px,#4433cc 0 37.5px,#4367fd 0 38.9px,#4433cc 0 39.6px,#0000 0 41.8px,#4433cc 0 42.5px,#0000 0 46.1px,#4433cc 0 49.0px,#347afd 0 51.2px,#4433cc 0 52.6px,#4849ed 0 53.3px,#4743e7 0 54.8px,#463de0 0 55.5px,#23a1e5 0 56.9px,#4367fd 0 59.1px,#0000 0 61.3px,#422fc1 0 62.0px,#4433cc 0 62.7px,#347afd 0 64.1px,#422fc1 0 64.9px,#0000 0 68.5px,#484ff2 0 69.9px,#4538d7 0 70.6px,#4755f6 0 71.3px,#4433cc 0 72.8px,#0000 0 75.7px,#4538d7 0 76.4px,#4743e7 0 77.8px,#0000 0 78.6px,#4367fd 0 79.3px,#4433cc 0 80.0px,#0000 0 81.4px,#4433cc 0 82.9px,#4538d7 0 84.3px,#4433cc 0 85.0px,#3a74fe 0 87.2px,#4849ed 0 88.6px,#4433cc 0 90.1px,#0000 0 92.2px,#4538d7 0 93.7px,#0000 0 95.9px,#4433cc 0 97.3px,#422fc1 0 98.7px,#463de0 0 100.2px,#4433cc 0 100.9px,#463de0 0 101.6px,#4433cc 0 103.8px,#4538d7 0 105.9px,#4743e7 0 107.4px,#259ce7 0 108.8px,#4661fc 0 109.5px,#463de0 0 111.0px,#4755f6 0 113.1px,#0000 0 114.6px,#422fc1 0 115.3px,#484ff2 0 117.5px,#463de0 0 118.2px,#422fc1 0 118.9px,#0000 0 119.6px,#2d8cf3 0 121.1px,#4538d7 0 122.5px,#4755f6 0 129.7px,#463de0 0 130.4px,#4433cc 0 131.2px,#4755f6 0 132.6px,#4743e7 0 134.0px,#4367fd 0 135.5px,#4755f6 0 136.9px,#484ff2 0 137.7px,#4433cc 0 139.1px,#4538d7 0 140.5px,#0000 0 141.3px,#422fc1 0 142.0px,#4743e7 0 144.9px,#4849ed 0 146.3px,#463de0 0 147.0px,#0000 0 149.9px,#463de0 0 151.3px,#422fc1 0 152.1px,#0000 0 155.7px,#4433cc 0 156.4px,#484ff2 0 157.8px,#4433cc 0 158.6px,#0000 0 163.6px,#4538d7 0 165.0px,#4661fc 0 166.5px,#4743e7 0 168.6px,#0000 0 169.4px,#4538d7 0 172.2px,#4433cc 0 173.0px,#463de0 0 174.4px,#1caadf 0 175.8px,#0000 0 178.0px,#4433cc 0 182.3px,#2d8cf3 0 183.8px,#4538d7 0 184.5px,#484ff2 0 185.2px,#4755f6 0 186.7px,#4743e7 0 188.1px,#463de0 0 188.8px,#0000 0 190.3px,#4367fd 0 192.4px,#4743e7 0 193.1px,#463de0 0 196.0px,#406dfe 0 197.5px,#4433cc 0 201.1px,#0000 0);-webkit-mask-image:linear-gradient(to right,#000 0 2.5px,#0000 0 3.2px,#000 0 4.5px,#0000 0 5.1px,#000 0 10.8px,#0000 0 13.4px,#000 0 17.2px,#0000 0 19.7px,#000 0 22.9px,#0000 0 24.8px,#000 0 27.4px,#0000 0 31.2px,#000 0 32.5px,#0000 0 33.8px,#000 0 34.4px,#0000 0 36.3px,#000 0 36.9px,#0000 0 38.2px,#000 0 39.5px,#0000 0 42.7px,#000 0 43.3px,#0000 0 47.1px,#000 0 50.3px,#0000 0 52.9px,#000 0 55.4px,#0000 0 56.7px,#000 0 61.8px,#0000 0 63.7px,#000 0 64.3px,#0000 0 66.2px,#000 0 72.6px,#0000 0 74.5px,#000 0 83.4px,#0000 0 84.7px,#000 0 86.6px,#0000 0 87.9px,#000 0 89.2px,#0000 0 91.1px,#000 0 92.4px,#0000 0 96.2px,#000 0 96.8px,#0000 0 98.1px,#000 0 100.0px,#0000 0 104.5px,#000 0 106.4px,#0000 0 107.0px,#000 0 110.2px,#0000 0 111.5px,#000 0 112.1px,#0000 0 112.8px,#000 0 113.4px,#0000 0 114.7px,#000 0 119.8px,#0000 0 120.4px,#000 0 122.3px,#0000 0 124.9px,#000 0 128.7px,#0000 0 129.3px,#000 0 135.7px,#0000 0 136.3px,#000 0 154.2px,#0000 0 157.3px,#000 0 159.9px,#0000 0 163.1px,#000 0 164.3px,#0000 0 168.2px,#000 0 173.9px,#0000 0 179.0px,#000 0 180.3px,#0000 0 182.8px,#000 0 184.7px,#0000 0 186.0px,#000 0 189.8px,#0000 0 192.4px,#000 0 193.6px,#0000 0 194.9px,#000 0 200.0px,#0000 0 202.6px,#000 0 204.5px,#0000 0 208.3px,#000 0 216.6px,#0000 0 219.1px,#000 0 221.7px,#0000 0 224.2px,#000 0 226.1px,#0000 0 226.8px,#000 0 228.7px,#0000 0 237.6px,#000 0 241.4px,#0000 0 242.1px,#000 0 243.3px,#0000 0 244.6px,#000 0 246.5px,#0000 0 248.4px,#000 0 250.3px,#0000 0 252.3px,#000 0 254.8px,#0000 0 255.4px,#000 0 256.1px,#0000 0 257.4px,#000 0 263.7px,#0000 0 264.4px,#000 0 267.5px,#0000 0 268.8px,#000 0 272.0px,#0000 0 273.9px,#000 0 280.9px,#0000 0 282.2px,#000 0 284.1px,#0000 0 285.4px,#000 0 288.6px,#0000 0 294.9px,#000 0 296.8px,#0000 0 297.5px,#000 0 301.9px,#0000 0 306.4px,#000 0 308.3px,#0000 0 310.2px,#000 0 314.7px,#0000 0 319.8px,#000 0 320.4px,#0000 0 321.7px,#000 0 324.9px,#0000 0 326.8px,#000 0 328.1px,#0000 0 330.0px,#000 0 336.3px,#0000 0 337.0px,#000 0 347.8px,#0000 0 349.7px,#000 0 355.4px,#0000 0 359.3px,#000 0 361.2px,#0000 0)"></div>
<div class="b" style="left:900.2px;top:112.0px;width:361.8px;height:201.1px;background:linear-gradient(to right,#0000 0 81.5px,#f9fb15 0 83.4px,#0000 0);-webkit-mask-image:linear-gradient(to bottom,#000 0 66.3px,#0000 0 67.7px,#000 0 161.4px,#0000 0 163.6px,#000 0 175.8px,#0000 0 176.6px,#000 0 201.1px,#0000 0)"></div>
<div class="b" style="left:900.2px;top:112.0px;width:361.8px;height:201.1px;background:linear-gradient(to bottom,#0000 0 15.9px,#f9fb15 0 18.0px,#0000 0 62.7px,#f9fb15 0 64.1px,#0000 0);-webkit-mask-image:linear-gradient(to right,#000 0 2.5px,#0000 0 3.2px,#000 0 10.8px,#0000 0 13.4px,#000 0 17.2px,#0000 0 19.1px,#000 0 22.9px,#0000 0 24.8px,#000 0 28.7px,#0000 0 31.2px,#000 0 34.4px,#0000 0 36.3px,#000 0 39.5px,#0000 0 41.4px,#000 0 44.0px,#0000 0 47.1px,#000 0 61.8px,#0000 0 63.7px,#000 0 73.3px,#0000 0 74.5px,#000 0 83.4px,#0000 0 84.7px,#000 0 89.2px,#0000 0 91.1px,#000 0 92.4px,#0000 0 93.0px,#000 0 93.6px,#0000 0 95.6px,#000 0 110.2px,#0000 0 111.5px,#000 0 113.4px,#0000 0 114.7px,#000 0 119.8px,#0000 0 120.4px,#000 0 122.3px,#0000 0 123.6px,#000 0 135.7px,#0000 0 136.3px,#000 0 154.2px,#0000 0 157.3px,#000 0 160.5px,#0000 0 163.1px,#000 0 174.5px,#0000 0 175.2px,#000 0 190.5px,#0000 0 192.4px,#000 0 193.6px,#0000 0 194.9px,#000 0 205.1px,#0000 0 207.7px,#000 0 216.6px,#0000 0 217.2px,#000 0 231.9px,#0000 0 232.5px,#000 0 233.8px,#0000 0 237.6px,#000 0 241.4px,#0000 0 242.1px,#000 0 243.3px,#0000 0 244.6px,#000 0 246.5px,#0000 0 248.4px,#000 0 250.3px,#0000 0 252.3px,#000 0 256.7px,#0000 0 257.4px,#000 0 267.5px,#0000 0 268.8px,#000 0 272.0px,#0000 0 273.9px,#000 0 284.1px,#0000 0 284.7px,#000 0 288.6px,#0000 0 292.4px,#000 0 296.8px,#0000 0 297.5px,#000 0 303.2px,#0000 0 304.5px,#000 0 308.3px,#0000 0 310.2px,#000 0 315.3px,#0000 0 316.6px,#000 0 325.5px,#0000 0 326.8px,#000 0 355.4px,#0000 0 359.3px,#000 0 361.8px,#0000 0)"></div>
<div class="b" style="left:900.2px;top:112.0px;width:361.8px;height:201.1px;background:linear-gradient(to bottom,#0000 0 134.0px,#f9fb15 0 135.5px,#0000 0 165.0px,#f9fb15 0 166.5px,#0000 0 190.3px,#f9fb15 0 192.4px,#0000 0);-webkit-mask-image:linear-gradient(to right,#000 0 2.5px,#0000 0 3.2px,#000 0 3.8px,#0000 0 5.1px,#000 0 10.8px,#0000 0 14.7px,#000 0 17.2px,#0000 0 19.7px,#000 0 22.9px,#0000 0 24.8px,#000 0 27.4px,#0000 0 31.2px,#000 0 31.9px,#0000 0 33.8px,#000 0 34.4px,#0000 0 38.2px,#000 0 39.5px,#0000 0 42.7px,#000 0 43.3px,#0000 0 47.1px,#000 0 50.3px,#0000 0 52.9px,#000 0 55.4px,#0000 0 56.7px,#000 0 59.9px,#0000 0 63.7px,#000 0 64.3px,#0000 0 66.2px,#000 0 72.0px,#0000 0 75.2px,#000 0 77.7px,#0000 0 78.4px,#000 0 83.4px,#0000 0 84.7px,#000 0 86.6px,#0000 0 87.9px,#000 0 89.2px,#0000 0 91.1px,#000 0 92.4px,#0000 0 105.7px,#000 0 106.4px,#0000 0 107.0px,#000 0 108.9px,#0000 0 111.5px,#000 0 112.1px,#0000 0 112.8px,#000 0 113.4px,#0000 0 114.7px,#000 0 119.8px,#0000 0 124.9px,#000 0 128.7px,#0000 0 129.3px,#000 0 135.7px,#0000 0 136.3px,#000 0 141.4px,#0000 0 142.1px,#000 0 150.3px,#0000 0 152.2px,#000 0 154.2px,#0000 0 157.3px,#000 0 159.9px,#0000 0 163.1px,#000 0 164.3px,#0000 0 168.2px,#000 0 173.9px,#0000 0 179.0px,#000 0 180.3px,#0000 0 182.8px,#000 0 184.7px,#0000 0 187.9px,#000 0 189.8px,#0000 0 192.4px,#000 0 193.0px,#0000 0 194.9px,#000 0 200.0px,#0000 0 202.6px,#000 0 204.5px,#0000 0 208.3px,#000 0 213.4px,#0000 0 214.0px,#000 0 216.6px,#0000 0 219.1px,#000 0 221.7px,#0000 0 224.2px,#000 0 226.1px,#0000 0 226.8px,#000 0 228.0px,#0000 0 238.9px,#000 0 240.2px,#0000 0 242.1px,#000 0 243.3px,#0000 0 244.6px,#000 0 246.5px,#0000 0 248.4px,#000 0 250.3px,#0000 0 252.3px,#000 0 254.8px,#0000 0 255.4px,#000 0 256.1px,#0000 0 259.3px,#000 0 261.8px,#0000 0 264.4px,#000 0 267.5px,#0000 0 268.8px,#000 0 270.7px,#0000 0 273.9px,#000 0 280.9px,#0000 0 283.5px,#000 0 284.1px,#0000 0 285.4px,#000 0 288.6px,#0000 0 297.5px,#000 0 301.9px,#0000 0 306.4px,#000 0 307.7px,#0000 0 310.2px,#000 0 313.4px,#0000 0 319.8px,#000 0 320.4px,#0000 0 322.3px,#000 0 324.9px,#0000 0 326.8px,#000 0 328.1px,#0000 0 330.0px,#000 0 334.4px,#0000 0 337.0px,#000 0 347.8px,#0000 0 349.7px,#000 0 355.4px,#0000 0 359.3px,#000 0 359.9px,#0000 0 360.5px,#000 0 361.2px,#0000 0)"></div>
<div class="b" style="left:900.2px;top:112.0px;width:361.8px;height:201.1px;background:linear-gradient(to bottom,#0000 0 68.5px,#f9fb15 0 69.9px,#0000 0 136.2px,#f9fb15 0 136.9px,#0000 0 156.4px,#f9fb15 0 157.8px,#0000 0);-webkit-mask-image:linear-gradient(to right,#0000 0 0.6px,#000 0 1.9px,#0000 0 5.1px,#000 0 5.7px,#0000 0 7.6px,#000 0 10.2px,#0000 0 14.7px,#000 0 15.3px,#0000 0 19.7px,#000 0 20.4px,#0000 0 38.2px,#000 0 39.5px,#0000 0 52.9px,#000 0 55.4px,#0000 0 58.6px,#000 0 59.2px,#0000 0 66.2px,#000 0 66.9px,#0000 0 75.2px,#000 0 77.1px,#0000 0 80.3px,#000 0 80.9px,#0000 0 81.5px,#000 0 83.4px,#0000 0 126.1px,#000 0 128.0px,#0000 0 131.2px,#000 0 133.8px,#0000 0 138.2px,#000 0 139.5px,#0000 0 143.3px,#000 0 145.9px,#0000 0 146.5px,#000 0 147.8px,#0000 0 173.3px,#000 0 173.9px,#0000 0 192.4px,#000 0 193.0px,#0000 0 195.6px,#000 0 196.8px,#0000 0 198.1px,#000 0 198.7px,#0000 0 212.1px,#000 0 213.4px,#0000 0 219.8px,#000 0 221.7px,#0000 0 224.9px,#000 0 226.1px,#0000 0 238.9px,#000 0 240.2px,#0000 0 244.6px,#000 0 245.9px,#0000 0 252.3px,#000 0 254.8px,#0000 0 259.3px,#000 0 260.5px,#0000 0 266.3px,#000 0 266.9px,#0000 0 275.8px,#000 0 280.3px,#0000 0 285.4px,#000 0 287.3px,#0000 0 298.1px,#000 0 298.8px,#0000 0 311.5px,#000 0 312.1px,#0000 0 339.5px,#000 0 341.4px,#0000 0 342.1px,#000 0 346.5px,#0000 0 353.5px,#000 0 354.2px,#0000 0 359.3px,#000 0 359.9px,#0000 0)"></div>
<div class="b" style="left:181.0px;top:313.1px;width:177.7px;height:199.6px;background:linear-gradient(to right,#475bf9 0 0.6px,#406dfe 0 1.3px,#0000 0 3.8px,#4661fc 0 5.1px,#2b91ef 0 5.7px,#4661fc 0 8.3px,#4538d7 0 12.1px,#4433cc 0 12.7px,#0000 0 13.4px,#4755f6 0 14.0px,#347afd 0 15.9px,#463de0 0 16.6px,#4743e7 0 17.2px,#4849ed 0 17.8px,#463de0 0 21.0px,#4849ed 0 21.7px,#4367fd 0 22.3px,#4743e7 0 22.9px,#2d8cf3 0 24.8px,#4433cc 0 25.5px,#4849ed 0 26.1px,#4755f6 0 26.8px,#0000 0 28.7px,#4538d7 0 31.2px,#0000 0 31.9px,#4849ed 0 33.1px,#4367fd 0 34.4px,#4755f6 0 35.0px,#4433cc 0 37.6px,#422fc1 0 39.5px,#0000 0 40.8px,#4538d7 0 41.4px,#4433cc 0 42.0px,#422fc1 0 42.7px,#4433cc 0 43.3px,#347afd 0 45.2px,#4538d7 0 45.9px,#422fc1 0 46.5px,#463de0 0 47.8px,#4661fc 0 48.4px,#4743e7 0 49.0px,#23a1e5 0 52.2px,#4433cc 0 53.5px,#4755f6 0 54.1px,#4538d7 0 55.4px,#2f80fa 0 56.7px,#4538d7 0 57.3px,#463de0 0 58.6px,#4538d7 0 60.5px,#347afd 0 61.8px,#0000 0 62.4px,#4538d7 0 65.0px,#4433cc 0 65.6px,#463de0 0 66.2px,#4433cc 0 66.9px,#4743e7 0 67.5px,#4538d7 0 68.2px,#463de0 0 68.8px,#0000 0 69.4px,#4367fd 0 70.1px,#4538d7 0 70.7px,#463de0 0 72.0px,#4849ed 0 73.3px,#4743e7 0 75.2px,#23a1e5 0 75.8px,#4367fd 0 77.7px,#23a1e5 0 78.4px,#475bf9 0 79.0px,#4743e7 0 80.3px,#422fc1 0 82.8px,#463de0 0 83.4px,#4849ed 0 84.7px,#4538d7 0 87.3px,#484ff2 0 88.5px,#4743e7 0 89.8px,#0000 0 91.7px,#475bf9 0 93.6px,#4755f6 0 94.3px,#4538d7 0 94.9px,#475bf9 0 95.6px,#4367fd 0 96.2px,#2e86f7 0 96.8px,#4755f6 0 97.5px,#4849ed 0 98.7px,#4661fc 0 100.0px,#0000 0 101.3px,#463de0 0 103.2px,#4755f6 0 104.5px,#4538d7 0 105.7px,#2d8cf3 0 107.0px,#4743e7 0 108.3px,#2d8cf3 0 114.7px,#463de0 0 117.2px,#475bf9 0 118.5px,#4367fd 0 119.8px,#406dfe 0 120.4px,#2d8cf3 0 121.0px,#4755f6 0 121.7px,#484ff2 0 122.9px,#4755f6 0 123.6px,#4433cc 0 124.9px,#4849ed 0 125.5px,#4755f6 0 126.1px,#463de0 0 128.0px,#4433cc 0 128.7px,#4755f6 0 129.9px,#475bf9 0 130.6px,#463de0 0 132.5px,#4661fc 0 133.1px,#4849ed 0 133.8px,#4538d7 0 135.0px,#4433cc 0 138.2px,#4367fd 0 139.5px,#4433cc 0 140.8px,#4849ed 0 141.4px,#4743e7 0 142.1px,#3a74fe 0 142.7px,#463de0 0 144.6px,#4367fd 0 145.9px,#2f80fa 0 147.1px,#4849ed 0 147.8px,#463de0 0 148.4px,#4538d7 0 149.7px,#4849ed 0 151.0px,#23a1e5 0 151.6px,#4849ed 0 152.2px,#463de0 0 154.2px,#3a74fe 0 155.4px,#0000 0 156.1px,#463de0 0 156.7px,#4538d7 0 157.3px,#4743e7 0 158.6px,#4538d7 0 159.3px,#4743e7 0 161.2px,#2d8cf3 0 162.4px,#475bf9 0 163.7px,#4367fd 0 164.3px,#23a1e5 0 166.3px,#4743e7 0 166.9px,#0000 0 168.2px,#347afd 0 170.1px,#484ff2 0 171.4px,#0000 0 172.0px,#4433cc 0 173.3px,#484ff2 0 174.5px,#463de0 0 175.8px,#4433cc 0 177.1px,#4849ed 0 177.7px,#0000 0)"></div>
<div class="b" style="left:181.0px;top:313.1px;width:177.7px;height:199.6px;opacity:0.40;background:linear-gradient(to bottom,#422fc1 0 0.7px,#4743e7 0 2.2px,#0000 0 3.6px,#475bf9 0 4.3px,#4743e7 0 6.5px,#4433cc 0 7.2px,#4538d7 0 9.4px,#4743e7 0 10.1px,#475bf9 0 12.3px,#4433cc 0 13.0px,#4743e7 0 13.7px,#463de0 0 15.1px,#475bf9 0 17.3px,#463de0 0 18.0px,#4538d7 0 19.5px,#4743e7 0 20.9px,#4538d7 0 22.3px,#347afd 0 23.8px,#0000 0 25.2px,#4538d7 0 26.7px,#4367fd 0 27.4px,#463de0 0 28.1px,#484ff2 0 29.5px,#347afd 0 31.0px,#4538d7 0 33.2px,#475bf9 0 33.9px,#4849ed 0 36.0px,#2f80fa 0 38.9px,#463de0 0 41.8px,#4743e7 0 42.5px,#484ff2 0 45.4px,#0000 0 46.8px,#4755f6 0 47.6px,#4743e7 0 48.3px,#463de0 0 49.0px,#347afd 0 50.4px,#0000 0 51.2px,#4433cc 0 52.6px,#0000 0 54.1px,#4743e7 0 55.5px,#4433cc 0 56.2px,#0000 0 56.9px,#422fc1 0 57.7px,#4538d7 0 60.5px,#475bf9 0 61.3px,#4367fd 0 62.0px,#4849ed 0 62.7px,#347afd 0 63.4px,#484ff2 0 64.1px,#4755f6 0 64.9px,#484ff2 0 65.6px,#4743e7 0 66.3px,#4849ed 0 67.0px,#4538d7 0 68.5px,#422fc1 0 69.2px,#463de0 0 69.9px,#4433cc 0 71.3px,#4743e7 0 72.8px,#2f80fa 0 75.7px,#463de0 0 77.1px,#4538d7 0 79.3px,#347afd 0 80.7px,#4849ed 0 81.4px,#4743e7 0 82.9px,#4433cc 0 83.6px,#0000 0 85.0px,#347afd 0 87.2px,#0000 0 87.9px,#463de0 0 88.6px,#347afd 0 90.8px,#484ff2 0 91.5px,#4433cc 0 136.2px,#475bf9 0 137.7px,#4433cc 0 139.8px,#1caadf 0 141.3px,#475bf9 0 142.7px,#0000 0 144.1px,#484ff2 0 144.9px,#4743e7 0 145.6px,#4538d7 0 146.3px,#475bf9 0 147.0px,#4755f6 0 147.7px,#4743e7 0 149.2px,#4661fc 0 151.3px,#0000 0 153.5px,#4755f6 0 154.2px,#4538d7 0 154.9px,#4849ed 0 156.4px,#406dfe 0 157.1px,#4849ed 0 159.3px,#4661fc 0 160.0px,#4433cc 0 161.4px,#463de0 0 162.2px,#4755f6 0 163.6px,#475bf9 0 164.3px,#4755f6 0 165.0px,#475bf9 0 167.2px,#347afd 0 167.9px,#4538d7 0 169.4px,#463de0 0 170.1px,#2e86f7 0 171.5px,#4367fd 0 172.2px,#463de0 0 173.7px,#4433cc 0 174.4px,#422fc1 0 175.8px,#0000 0 176.6px,#422fc1 0 177.3px,#05b6ce 0 178.7px,#4743e7 0 179.5px,#4538d7 0 180.2px,#4433cc 0 184.5px,#4849ed 0 185.2px,#4755f6 0 185.9px,#4538d7 0 187.4px,#484ff2 0 188.1px,#05b6ce 0 189.5px,#4538d7 0 190.3px,#4743e7 0 192.4px,#4367fd 0 193.9px,#4538d7 0 194.6px,#0000 0 195.3px,#4538d7 0 196.0px,#4367fd 0 198.9px,#4538d7 0 199.6px,#0000 0)"></div>
<div class="b" style="left:181.0px;top:313.1px;width:177.7px;height:199.6px;background:linear-gradient(to right,#0000 0 14.0px,#f9fb15 0 15.9px,#0000 0 55.4px,#f9fb15 0 56.7px,#0000 0 145.9px,#f9fb15 0 147.1px,#0000 0);-webkit-mask-image:linear-gradient(to bottom,#000 0 23.8px,#0000 0 25.2px,#000 0 45.4px,#0000 0 46.1px,#000 0 52.6px,#0000 0 54.1px,#000 0 151.3px,#0000 0 152.1px,#000 0 199.6px,#0000 0)"></div>
<div class="b" style="left:181.0px;top:313.1px;width:177.7px;height:199.6px;background:linear-gradient(to bottom,#0000 0 22.3px,#f9fb15 0 23.8px,#0000 0 29.5px,#f9fb15 0 31.0px,#0000 0 36.0px,#f9fb15 0 38.9px,#0000 0 49.0px,#f9fb15 0 50.4px,#0000 0 72.8px,#f9fb15 0 75.7px,#0000 0 85.0px,#f9fb15 0 87.2px,#0000 0);-webkit-mask-image:linear-gradient(to right,#000 0 12.7px,#0000 0 13.4px,#000 0 68.8px,#0000 0 69.4px,#000 0 100.0px,#0000 0 101.3px,#000 0 167.5px,#0000 0 168.2px,#000 0 177.7px,#0000 0)"></div>
<div class="b" style="left:181.0px;top:313.1px;width:177.7px;height:199.6px;background:linear-gradient(to right,#0000 0 154.2px,#f9fb15 0 155.4px,#0000 0 168.2px,#f9fb15 0 170.1px,#0000 0);-webkit-mask-image:linear-gradient(to bottom,#0000 0 0.7px,#000 0 2.2px,#0000 0 3.6px,#000 0 6.5px,#0000 0 7.2px,#000 0 23.8px,#0000 0 25.2px,#000 0 45.4px,#0000 0 46.8px,#000 0 50.4px,#0000 0 54.1px,#000 0 55.5px,#0000 0 57.7px,#000 0 68.5px,#0000 0 69.2px,#000 0 82.9px,#0000 0 85.0px,#000 0 87.2px,#0000 0 87.9px,#000 0 137.7px,#0000 0 139.8px,#000 0 142.7px,#0000 0 144.1px,#000 0 151.3px,#0000 0 153.5px,#000 0 160.0px,#0000 0 161.4px,#000 0 174.4px,#0000 0 177.3px,#000 0 180.2px,#0000 0 183.8px,#000 0 194.6px,#0000 0 195.3px,#000 0 199.6px,#0000 0)"></div>
<div class="b" style="left:181.0px;top:313.1px;width:177.7px;height:199.6px;background:linear-gradient(to bottom,#0000 0 79.3px,#f9fb15 0 80.7px,#0000 0 88.6px,#f9fb15 0 90.8px,#0000 0);-webkit-mask-image:linear-gradient(to right,#000 0 1.3px,#0000 0 3.8px,#000 0 12.1px,#0000 0 13.4px,#000 0 24.8px,#0000 0 25.5px,#000 0 26.8px,#0000 0 28.7px,#000 0 31.2px,#0000 0 31.9px,#000 0 35.0px,#0000 0 40.8px,#000 0 41.4px,#0000 0 43.3px,#000 0 45.9px,#0000 0 46.5px,#000 0 52.2px,#0000 0 53.5px,#000 0 61.8px,#0000 0 62.4px,#000 0 65.0px,#0000 0 65.6px,#000 0 66.2px,#0000 0 66.9px,#000 0 68.8px,#0000 0 69.4px,#000 0 80.3px,#0000 0 82.8px,#000 0 89.8px,#0000 0 91.7px,#000 0 100.0px,#0000 0 101.3px,#000 0 128.0px,#0000 0 128.7px,#000 0 135.0px,#0000 0 138.2px,#000 0 139.5px,#0000 0 140.8px,#000 0 155.4px,#0000 0 156.1px,#000 0 166.9px,#0000 0 168.2px,#000 0 171.4px,#0000 0 173.3px,#000 0 175.8px,#0000 0 177.1px,#000 0 177.7px,#0000 0)"></div>
<div class="b" style="left:181.0px;top:313.1px;width:177.7px;height:199.6px;background:linear-gradient(to right,#0000 0 118.5px,#f9fb15 0 119.8px,#0000 0);-webkit-mask-image:linear-gradient(to bottom,#0000 0 0.7px,#000 0 2.2px,#0000 0 3.6px,#000 0 6.5px,#0000 0 9.4px,#000 0 12.3px,#0000 0 13.0px,#000 0 18.0px,#0000 0 19.5px,#000 0 20.9px,#0000 0 22.3px,#000 0 23.8px,#0000 0 26.7px,#000 0 31.0px,#0000 0 33.2px,#000 0 45.4px,#0000 0 46.8px,#000 0 50.4px,#0000 0 54.1px,#000 0 55.5px,#0000 0 60.5px,#000 0 67.0px,#0000 0 69.2px,#000 0 69.9px,#0000 0 71.3px,#000 0 77.1px,#0000 0 79.3px,#000 0 82.9px,#0000 0 85.0px,#000 0 87.2px,#0000 0 87.9px,#000 0 91.5px,#0000 0 136.2px,#000 0 137.7px,#0000 0 139.8px,#000 0 142.7px,#0000 0 144.1px,#000 0 145.6px,#0000 0 146.3px,#000 0 151.3px,#0000 0 153.5px,#000 0 154.2px,#0000 0 154.9px,#000 0 160.0px,#0000 0 161.4px,#000 0 167.9px,#0000 0 169.4px,#000 0 173.7px,#0000 0 177.3px,#000 0 179.5px,#0000 0 184.5px,#000 0 189.5px,#0000 0 190.3px,#000 0 193.9px,#0000 0 196.0px,#000 0 198.9px,#0000 0)"></div>
<div class="b" style="left:181.0px;top:313.1px;width:177.7px;height:199.6px;background:linear-gradient(to bottom,#0000 0 149.2px,#f9fb15 0 151.3px,#0000 0 196.0px,#f9fb15 0 198.9px,#0000 0);-webkit-mask-image:linear-gradient(to right,#000 0 1.3px,#0000 0 3.8px,#000 0 8.3px,#0000 0 13.4px,#000 0 15.9px,#0000 0 16.6px,#000 0 17.8px,#0000 0 21.0px,#000 0 24.8px,#0000 0 25.5px,#000 0 26.8px,#0000 0 31.9px,#000 0 35.0px,#0000 0 43.3px,#000 0 45.2px,#0000 0 47.8px,#000 0 48.4px,#0000 0 49.0px,#000 0 52.2px,#0000 0 53.5px,#000 0 54.1px,#0000 0 55.4px,#000 0 56.7px,#0000 0 60.5px,#000 0 61.8px,#0000 0 66.9px,#000 0 67.5px,#0000 0 69.4px,#000 0 70.1px,#0000 0 72.0px,#000 0 79.0px,#0000 0 83.4px,#000 0 84.7px,#0000 0 87.3px,#000 0 89.8px,#0000 0 91.7px,#000 0 94.3px,#0000 0 94.9px,#000 0 100.0px,#0000 0 103.2px,#000 0 104.5px,#0000 0 105.7px,#000 0 107.0px,#0000 0 108.3px,#000 0 114.7px,#0000 0 117.2px,#000 0 123.6px,#0000 0 124.9px,#000 0 126.1px,#0000 0 128.7px,#000 0 130.6px,#0000 0 132.5px,#000 0 133.8px,#0000 0 138.2px,#000 0 139.5px,#0000 0 140.8px,#000 0 142.7px,#0000 0 144.6px,#000 0 147.8px,#0000 0 149.7px,#000 0 152.2px,#0000 0 154.2px,#000 0 155.4px,#0000 0 159.3px,#000 0 166.9px,#0000 0 168.2px,#000 0 171.4px,#0000 0 173.3px,#000 0 174.5px,#0000 0 177.1px,#000 0 177.7px,#0000 0)"></div>
<div class="b" style="left:181.0px;top:313.1px;width:177.7px;height:199.6px;background:linear-gradient(to right,#0000 0 13.4px,#f9fb15 0 14.0px,#0000 0 26.1px,#f9fb15 0 26.8px,#0000 0 78.4px,#f9fb15 0 79.0px,#0000 0 93.6px,#f9fb15 0 94.3px,#0000 0 94.9px,#f9fb15 0 95.6px,#0000 0 117.2px,#f9fb15 0 117.8px,#0000 0 122.9px,#f9fb15 0 123.6px,#0000 0 125.5px,#f9fb15 0 126.1px,#0000 0 129.9px,#f9fb15 0 130.6px,#0000 0);-webkit-mask-image:linear-gradient(to bottom,#0000 0 3.6px,#000 0 4.3px,#0000 0 15.1px,#000 0 15.9px,#0000 0 22.3px,#000 0 23.8px,#0000 0 29.5px,#000 0 31.0px,#0000 0 33.2px,#000 0 33.9px,#0000 0 36.0px,#000 0 38.9px,#0000 0 46.8px,#000 0 47.6px,#0000 0 49.0px,#000 0 50.4px,#0000 0 60.5px,#000 0 61.3px,#0000 0 72.8px,#000 0 75.7px,#0000 0 79.3px,#000 0 80.7px,#0000 0 85.0px,#000 0 87.2px,#0000 0 88.6px,#000 0 90.8px,#0000 0 139.8px,#000 0 141.3px,#0000 0 147.0px,#000 0 147.7px,#0000 0 149.2px,#000 0 151.3px,#0000 0 153.5px,#000 0 154.2px,#0000 0 164.3px,#000 0 165.0px,#0000 0 177.3px,#000 0 178.7px,#0000 0 188.1px,#000 0 189.5px,#0000 0 196.0px,#000 0 198.9px,#0000 0)"></div>
<div class="b" style="left:181.0px;top:313.1px;width:177.7px;height:199.6px;background:linear-gradient(to bottom,#0000 0 3.6px,#f9fb15 0 4.3px,#0000 0 15.1px,#f9fb15 0 15.9px,#0000 0 33.2px,#f9fb15 0 33.9px,#0000 0 46.8px,#f9fb15 0 47.6px,#0000 0 60.5px,#f9fb15 0 61.3px,#0000 0 147.0px,#f9fb15 0 147.7px,#0000 0 153.5px,#f9fb15 0 154.2px,#0000 0 164.3px,#f9fb15 0 165.0px,#0000 0);-webkit-mask-image:linear-gradient(to right,#0000 0 5.1px,#000 0 5.7px,#0000 0 13.4px,#000 0 15.9px,#0000 0 22.9px,#000 0 24.8px,#0000 0 26.1px,#000 0 26.8px,#0000 0 49.0px,#000 0 52.2px,#0000 0 55.4px,#000 0 56.7px,#0000 0 75.2px,#000 0 75.8px,#0000 0 77.7px,#000 0 79.0px,#0000 0 93.6px,#000 0 94.3px,#0000 0 94.9px,#000 0 95.6px,#0000 0 105.7px,#000 0 107.0px,#0000 0 108.3px,#000 0 114.7px,#0000 0 117.2px,#000 0 117.8px,#0000 0 118.5px,#000 0 119.8px,#0000 0 120.4px,#000 0 121.0px,#0000 0 122.9px,#000 0 123.6px,#0000 0 125.5px,#000 0 126.1px,#0000 0 129.9px,#000 0 130.6px,#0000 0 145.9px,#000 0 147.1px,#0000 0 151.0px,#000 0 151.6px,#0000 0 154.2px,#000 0 155.4px,#0000 0 161.2px,#000 0 162.4px,#0000 0 164.3px,#000 0 166.3px,#0000 0 168.2px,#000 0 170.1px,#0000 0)"></div>
<div class="b" style="left:358.7px;top:313.1px;width:176.5px;height:199.6px;background:linear-gradient(to right,#4433cc 0 0.6px,#475bf9 0 1.9px,#422fc1 0 2.5px,#0000 0 3.8px,#422fc1 0 5.1px,#4433cc 0 5.7px,#0000 0 6.4px,#422fc1 0 7.6px,#0000 0 8.3px,#475bf9 0 9.6px,#463de0 0 11.5px,#4433cc 0 12.1px,#422fc1 0 15.3px,#4433cc 0 15.9px,#4755f6 0 17.2px,#406dfe 0 17.8px,#4661fc 0 18.5px,#4743e7 0 19.7px,#1caadf 0 21.0px,#0000 0 22.3px,#4755f6 0 23.6px,#406dfe 0 24.2px,#463de0 0 25.5px,#0000 0 26.1px,#2d8cf3 0 27.4px,#4433cc 0 28.0px,#4538d7 0 29.9px,#4849ed 0 30.6px,#4433cc 0 31.9px,#484ff2 0 34.4px,#0000 0 36.3px,#422fc1 0 36.9px,#4433cc 0 38.9px,#4743e7 0 40.1px,#422fc1 0 40.8px,#0000 0 42.7px,#422fc1 0 43.3px,#2d8cf3 0 44.6px,#0000 0 47.8px,#4433cc 0 48.4px,#4538d7 0 49.0px,#422fc1 0 50.3px,#4538d7 0 51.0px,#4433cc 0 52.9px,#422fc1 0 53.5px,#0000 0 54.1px,#4433cc 0 56.1px,#4538d7 0 58.0px,#4433cc 0 59.2px,#475bf9 0 59.9px,#4433cc 0 61.2px,#4743e7 0 63.1px,#4755f6 0 63.7px,#475bf9 0 64.3px,#484ff2 0 66.9px,#0000 0 67.5px,#463de0 0 70.1px,#2d8cf3 0 71.3px,#4433cc 0 72.6px,#463de0 0 73.9px,#4433cc 0 74.5px,#422fc1 0 75.2px,#2d8cf3 0 77.1px,#475bf9 0 78.4px,#2d8cf3 0 80.3px,#4433cc 0 80.9px,#0000 0 121.7px,#422fc1 0 122.3px,#4433cc 0 123.6px,#4367fd 0 124.9px,#4433cc 0 126.1px,#0000 0 126.8px,#475bf9 0 127.4px,#4755f6 0 128.7px,#4743e7 0 129.9px,#0000 0 131.9px,#2d8cf3 0 133.8px,#0000 0 135.0px,#4433cc 0 136.3px,#0000 0 137.0px,#422fc1 0 137.6px,#4755f6 0 138.2px,#4538d7 0 138.9px,#4743e7 0 140.8px,#4433cc 0 141.4px,#0000 0 143.3px,#4433cc 0 144.6px,#4538d7 0 145.9px,#422fc1 0 147.8px,#4755f6 0 148.4px,#4538d7 0 149.7px,#463de0 0 150.3px,#4743e7 0 152.2px,#4433cc 0 154.2px,#0000 0 156.1px,#4433cc 0 156.7px,#2d8cf3 0 158.0px,#4433cc 0 159.3px,#4743e7 0 161.8px,#463de0 0 163.1px,#4538d7 0 163.7px,#463de0 0 164.3px,#4433cc 0 166.3px,#2d8cf3 0 167.5px,#4538d7 0 168.2px,#463de0 0 169.4px,#4433cc 0 171.4px,#0000 0 172.6px,#4433cc 0 173.3px,#2d8cf3 0 175.8px,#0000 0);-webkit-mask-image:linear-gradient(to bottom,#000 0 2.9px,#0000 0 3.6px,#000 0 8.6px,#0000 0 9.4px,#000 0 28.8px,#0000 0 29.5px,#000 0 38.9px,#0000 0 41.1px,#000 0 46.1px,#0000 0 48.3px,#000 0 53.3px,#0000 0 54.1px,#000 0 60.5px,#0000 0 61.3px,#000 0 75.7px,#0000 0 76.4px,#000 0 142.7px,#0000 0 143.4px,#000 0 147.7px,#0000 0 149.2px,#000 0 151.3px,#0000 0 152.8px,#000 0 154.2px,#0000 0 154.9px,#000 0 160.0px,#0000 0 162.2px,#000 0 174.4px,#0000 0 176.6px,#000 0 193.9px,#0000 0 195.3px,#000 0 198.9px,#0000 0)"></div>
<div class="b" style="left:358.7px;top:313.1px;width:176.5px;height:199.6px;opacity:0.40;background:linear-gradient(to bottom,#4433cc 0 0.7px,#475bf9 0 2.2px,#422fc1 0 2.9px,#0000 0 4.3px,#422fc1 0 5.8px,#4433cc 0 6.5px,#0000 0 7.2px,#422fc1 0 8.6px,#0000 0 9.4px,#475bf9 0 10.8px,#463de0 0 13.0px,#4433cc 0 13.7px,#422fc1 0 17.3px,#4433cc 0 18.0px,#4755f6 0 19.5px,#406dfe 0 20.2px,#4661fc 0 20.9px,#4743e7 0 22.3px,#1caadf 0 23.8px,#0000 0 25.2px,#4755f6 0 26.7px,#406dfe 0 27.4px,#463de0 0 28.8px,#0000 0 29.5px,#2d8cf3 0 31.0px,#4433cc 0 31.7px,#4538d7 0 33.9px,#4849ed 0 34.6px,#4433cc 0 36.0px,#484ff2 0 38.9px,#0000 0 41.1px,#422fc1 0 41.8px,#4433cc 0 44.0px,#4743e7 0 45.4px,#422fc1 0 46.1px,#0000 0 48.3px,#422fc1 0 49.0px,#2d8cf3 0 50.4px,#0000 0 54.1px,#4433cc 0 54.8px,#4538d7 0 55.5px,#422fc1 0 56.9px,#4538d7 0 57.7px,#4433cc 0 59.8px,#422fc1 0 60.5px,#0000 0 61.3px,#4433cc 0 63.4px,#4538d7 0 65.6px,#4433cc 0 67.0px,#475bf9 0 67.7px,#4433cc 0 69.2px,#4743e7 0 71.3px,#4755f6 0 72.1px,#475bf9 0 72.8px,#484ff2 0 75.7px,#0000 0 76.4px,#463de0 0 79.3px,#2d8cf3 0 80.7px,#4433cc 0 82.2px,#463de0 0 83.6px,#4433cc 0 84.3px,#422fc1 0 85.0px,#2d8cf3 0 87.2px,#475bf9 0 88.6px,#2d8cf3 0 90.8px,#4433cc 0 91.5px,#0000 0 137.7px,#422fc1 0 138.4px,#4433cc 0 139.8px,#4367fd 0 141.3px,#4433cc 0 142.7px,#0000 0 143.4px,#475bf9 0 144.1px,#4755f6 0 145.6px,#4743e7 0 147.0px,#0000 0 149.2px,#2d8cf3 0 151.3px,#0000 0 152.8px,#4433cc 0 154.2px,#0000 0 154.9px,#422fc1 0 155.7px,#4755f6 0 156.4px,#4538d7 0 157.1px,#4743e7 0 159.3px,#4433cc 0 160.0px,#0000 0 162.2px,#4433cc 0 163.6px,#4538d7 0 165.0px,#422fc1 0 167.2px,#4755f6 0 167.9px,#4538d7 0 169.4px,#463de0 0 170.1px,#4743e7 0 172.2px,#4433cc 0 174.4px,#0000 0 176.6px,#4433cc 0 177.3px,#2d8cf3 0 178.7px,#4433cc 0 180.2px,#4743e7 0 183.1px,#463de0 0 184.5px,#4538d7 0 185.2px,#463de0 0 185.9px,#4433cc 0 188.1px,#2d8cf3 0 189.5px,#4538d7 0 190.3px,#463de0 0 191.7px,#4433cc 0 193.9px,#0000 0 195.3px,#4433cc 0 196.0px,#2d8cf3 0 198.9px,#0000 0);-webkit-mask-image:linear-gradient(to right,#000 0 2.5px,#0000 0 3.2px,#000 0 7.6px,#0000 0 8.3px,#000 0 25.5px,#0000 0 26.1px,#000 0 34.4px,#0000 0 36.3px,#000 0 40.8px,#0000 0 42.7px,#000 0 47.1px,#0000 0 47.8px,#000 0 53.5px,#0000 0 54.1px,#000 0 66.9px,#0000 0 67.5px,#000 0 126.1px,#0000 0 126.8px,#000 0 130.6px,#0000 0 131.9px,#000 0 133.8px,#0000 0 135.0px,#000 0 136.3px,#0000 0 137.0px,#000 0 141.4px,#0000 0 143.3px,#000 0 154.2px,#0000 0 156.1px,#000 0 171.4px,#0000 0 172.6px,#000 0 175.8px,#0000 0)"></div>
<div class="b" style="left:358.7px;top:313.1px;width:176.5px;height:199.6px;background:linear-gradient(to right,#0000 0 0.6px,#f9fb15 0 1.9px,#0000 0 8.9px,#f9fb15 0 9.6px,#0000 0 31.9px,#f9fb15 0 34.4px,#0000 0 59.2px,#f9fb15 0 59.9px,#0000 0 63.1px,#f9fb15 0 66.9px,#0000 0 77.1px,#f9fb15 0 77.7px,#0000 0 126.8px,#f9fb15 0 127.4px,#0000 0 137.6px,#f9fb15 0 138.2px,#0000 0 147.8px,#f9fb15 0 148.4px,#0000 0);-webkit-mask-image:linear-gradient(to bottom,#0000 0 0.7px,#000 0 2.2px,#0000 0 10.1px,#000 0 10.8px,#0000 0 22.3px,#000 0 23.8px,#0000 0 29.5px,#000 0 31.0px,#0000 0 36.0px,#000 0 38.9px,#0000 0 49.0px,#000 0 50.4px,#0000 0 67.0px,#000 0 67.7px,#0000 0 71.3px,#000 0 75.7px,#0000 0 79.3px,#000 0 80.7px,#0000 0 85.0px,#000 0 87.9px,#0000 0 88.6px,#000 0 90.8px,#0000 0 143.4px,#000 0 144.1px,#0000 0 149.2px,#000 0 151.3px,#0000 0 155.7px,#000 0 156.4px,#0000 0 167.2px,#000 0 167.9px,#0000 0 177.3px,#000 0 178.7px,#0000 0 188.1px,#000 0 189.5px,#0000 0 196.0px,#000 0 198.9px,#0000 0)"></div>
<div class="b" style="left:358.7px;top:313.1px;width:176.5px;height:199.6px;background:linear-gradient(to bottom,#0000 0 0.7px,#f9fb15 0 2.2px,#0000 0 10.1px,#f9fb15 0 10.8px,#0000 0 36.0px,#f9fb15 0 38.9px,#0000 0 67.0px,#f9fb15 0 67.7px,#0000 0 71.3px,#f9fb15 0 75.7px,#0000 0 87.2px,#f9fb15 0 87.9px,#0000 0 143.4px,#f9fb15 0 144.1px,#0000 0 155.7px,#f9fb15 0 156.4px,#0000 0 167.2px,#f9fb15 0 167.9px,#0000 0);-webkit-mask-image:linear-gradient(to right,#0000 0 0.6px,#000 0 1.9px,#0000 0 8.9px,#000 0 9.6px,#0000 0 19.7px,#000 0 21.0px,#0000 0 26.1px,#000 0 27.4px,#0000 0 31.9px,#000 0 34.4px,#0000 0 43.3px,#000 0 44.6px,#0000 0 59.2px,#000 0 59.9px,#0000 0 63.1px,#000 0 66.9px,#0000 0 70.1px,#000 0 71.3px,#0000 0 75.2px,#000 0 77.7px,#0000 0 78.4px,#000 0 80.3px,#0000 0 126.8px,#000 0 127.4px,#0000 0 131.9px,#000 0 133.8px,#0000 0 137.6px,#000 0 138.2px,#0000 0 147.8px,#000 0 148.4px,#0000 0 156.7px,#000 0 158.0px,#0000 0 166.3px,#000 0 167.5px,#0000 0 173.3px,#000 0 175.8px,#0000 0)"></div>
<div class="b" style="left:535.2px;top:313.1px;width:186.0px;height:199.6px;background:linear-gradient(to right,#4849ed 0 0.6px,#2f80fa 0 1.3px,#4849ed 0 1.9px,#4538d7 0 3.2px,#4433cc 0 3.8px,#0000 0 5.7px,#4538d7 0 7.0px,#0000 0 7.6px,#4538d7 0 8.9px,#4743e7 0 9.6px,#4755f6 0 10.2px,#463de0 0 10.8px,#4849ed 0 12.7px,#475bf9 0 13.4px,#422fc1 0 14.0px,#0000 0 15.9px,#4538d7 0 16.6px,#0000 0 18.5px,#4538d7 0 21.0px,#463de0 0 21.7px,#0000 0 23.6px,#463de0 0 25.5px,#1caadf 0 27.4px,#4661fc 0 28.7px,#4743e7 0 29.3px,#463de0 0 30.6px,#0000 0 31.2px,#422fc1 0 32.5px,#4661fc 0 39.5px,#2d8cf3 0 44.6px,#4661fc 0 50.3px,#4433cc 0 51.0px,#1caadf 0 52.2px,#463de0 0 52.9px,#422fc1 0 54.8px,#4538d7 0 55.4px,#0000 0 56.1px,#4433cc 0 57.3px,#0000 0 58.6px,#4849ed 0 60.5px,#4743e7 0 62.4px,#4433cc 0 63.1px,#4849ed 0 65.6px,#422fc1 0 66.2px,#0000 0 66.9px,#463de0 0 69.4px,#347afd 0 72.6px,#0000 0 73.9px,#422fc1 0 75.2px,#0000 0 77.7px,#422fc1 0 79.0px,#0000 0 84.1px,#422fc1 0 86.0px,#4433cc 0 87.9px,#0000 0 88.5px,#4433cc 0 89.8px,#484ff2 0 90.5px,#4743e7 0 91.1px,#4755f6 0 91.7px,#1caadf 0 93.0px,#422fc1 0 93.6px,#0000 0 94.9px,#422fc1 0 95.6px,#4743e7 0 96.8px,#0000 0 98.1px,#1caadf 0 101.3px,#0000 0 101.9px,#4538d7 0 102.6px,#0000 0 103.2px,#4433cc 0 105.7px,#0000 0 106.4px,#4538d7 0 109.6px,#4743e7 0 110.2px,#475bf9 0 111.5px,#4755f6 0 113.4px,#4743e7 0 114.0px,#475bf9 0 114.7px,#4433cc 0 115.3px,#0000 0 115.9px,#1caadf 0 117.2px,#0000 0 119.1px,#422fc1 0 121.0px,#0000 0 121.7px,#463de0 0 122.3px,#4538d7 0 124.2px,#0000 0 126.1px,#4743e7 0 128.0px,#2d8cf3 0 129.3px,#4433cc 0 129.9px,#4755f6 0 130.6px,#0000 0 132.5px,#4433cc 0 135.0px,#2d8cf3 0 136.3px,#0000 0 137.0px,#422fc1 0 137.6px,#0000 0 140.1px,#347afd 0 142.1px,#4755f6 0 142.7px,#0000 0 144.0px,#4538d7 0 144.6px,#484ff2 0 147.1px,#463de0 0 147.8px,#4538d7 0 148.4px,#475bf9 0 149.1px,#4538d7 0 150.3px,#475bf9 0 151.0px,#4538d7 0 152.2px,#422fc1 0 152.9px,#463de0 0 153.5px,#4433cc 0 154.2px,#422fc1 0 155.4px,#0000 0 156.7px,#422fc1 0 157.3px,#4538d7 0 158.6px,#4743e7 0 159.9px,#0000 0 160.5px,#4433cc 0 161.2px,#422fc1 0 161.8px,#4538d7 0 162.4px,#2d8cf3 0 163.7px,#4755f6 0 164.3px,#4433cc 0 166.3px,#0000 0 167.5px,#4433cc 0 169.4px,#0000 0 171.4px,#4433cc 0 172.0px,#422fc1 0 172.6px,#4433cc 0 173.3px,#4538d7 0 174.5px,#4433cc 0 175.2px,#4538d7 0 175.8px,#4755f6 0 176.5px,#4538d7 0 180.3px,#0000 0 181.5px,#406dfe 0 183.5px,#0000 0 184.1px,#4433cc 0 185.4px,#4538d7 0 186.0px,#0000 0);-webkit-mask-image:linear-gradient(to bottom,#000 0 1.4px,#0000 0 2.9px,#000 0 16.6px,#0000 0 17.3px,#000 0 21.6px,#0000 0 22.3px,#000 0 28.8px,#0000 0 29.5px,#000 0 50.4px,#0000 0 53.3px,#000 0 139.1px,#0000 0 139.8px,#000 0 151.3px,#0000 0 154.2px,#000 0 160.7px,#0000 0 161.4px,#000 0 193.9px,#0000 0 195.3px,#000 0 199.6px,#0000 0)"></div>
<div class="b" style="left:535.2px;top:313.1px;width:186.0px;height:199.6px;opacity:0.40;background:linear-gradient(to bottom,#4433cc 0 1.4px,#0000 0 3.6px,#4538d7 0 6.5px,#422fc1 0 7.9px,#0000 0 9.4px,#4433cc 0 10.1px,#4538d7 0 12.3px,#4433cc 0 13.7px,#0000 0 14.4px,#4538d7 0 16.6px,#0000 0 17.3px,#4433cc 0 19.5px,#463de0 0 20.2px,#4538d7 0 20.9px,#4433cc 0 21.6px,#0000 0 22.3px,#1caadf 0 23.8px,#0000 0 25.2px,#4743e7 0 25.9px,#4538d7 0 27.4px,#0000 0 29.5px,#2d8cf3 0 31.0px,#463de0 0 31.7px,#475bf9 0 32.4px,#463de0 0 33.9px,#4433cc 0 35.3px,#4538d7 0 36.0px,#4661fc 0 38.9px,#463de0 0 39.6px,#0000 0 40.4px,#4433cc 0 42.5px,#475bf9 0 43.2px,#4433cc 0 44.0px,#4538d7 0 45.4px,#0000 0 48.3px,#4538d7 0 49.0px,#1caadf 0 50.4px,#0000 0 54.1px,#4743e7 0 55.5px,#4538d7 0 56.2px,#0000 0 56.9px,#463de0 0 57.7px,#4433cc 0 58.4px,#4538d7 0 59.8px,#4433cc 0 60.5px,#4538d7 0 61.3px,#4849ed 0 62.7px,#4661fc 0 63.4px,#4743e7 0 64.9px,#4538d7 0 65.6px,#4433cc 0 68.5px,#4755f6 0 69.2px,#4743e7 0 70.6px,#463de0 0 72.8px,#4661fc 0 75.7px,#422fc1 0 77.1px,#0000 0 79.3px,#4849ed 0 80.7px,#4538d7 0 82.9px,#4433cc 0 83.6px,#0000 0 85.0px,#4849ed 0 87.2px,#4433cc 0 87.9px,#484ff2 0 88.6px,#4849ed 0 90.8px,#4433cc 0 91.5px,#0000 0 139.8px,#2d8cf3 0 141.3px,#4433cc 0 142.0px,#422fc1 0 142.7px,#0000 0 144.1px,#484ff2 0 144.9px,#422fc1 0 145.6px,#0000 0 147.0px,#4743e7 0 147.7px,#4433cc 0 148.5px,#0000 0 149.2px,#1caadf 0 151.3px,#0000 0 154.2px,#475bf9 0 154.9px,#0000 0 155.7px,#475bf9 0 156.4px,#4433cc 0 157.8px,#422fc1 0 159.3px,#4743e7 0 160.0px,#0000 0 162.2px,#4433cc 0 163.6px,#422fc1 0 165.0px,#4433cc 0 167.2px,#4538d7 0 169.4px,#463de0 0 170.1px,#484ff2 0 170.8px,#4743e7 0 172.2px,#422fc1 0 173.7px,#4433cc 0 174.4px,#0000 0 177.3px,#2d8cf3 0 178.7px,#422fc1 0 180.2px,#0000 0 180.9px,#4538d7 0 184.5px,#4755f6 0 185.2px,#4367fd 0 185.9px,#4743e7 0 186.7px,#0000 0 188.1px,#2d8cf3 0 189.5px,#4538d7 0 193.1px,#463de0 0 193.9px,#0000 0 195.3px,#4433cc 0 196.0px,#2d8cf3 0 198.9px,#0000 0)"></div>
<div class="b" style="left:535.2px;top:313.1px;width:186.0px;height:199.6px;background:linear-gradient(to right,#0000 0 69.4px,#f9fb15 0 72.6px,#0000 0 140.1px,#f9fb15 0 142.1px,#0000 0);-webkit-mask-image:linear-gradient(to bottom,#000 0 1.4px,#0000 0 2.9px,#000 0 16.6px,#0000 0 17.3px,#000 0 21.6px,#0000 0 22.3px,#000 0 28.8px,#0000 0 29.5px,#000 0 50.4px,#0000 0 53.3px,#000 0 139.1px,#0000 0 139.8px,#000 0 151.3px,#0000 0 154.2px,#000 0 160.7px,#0000 0 161.4px,#000 0 193.9px,#0000 0 195.3px,#000 0 199.6px,#0000 0)"></div>
<div class="b" style="left:535.2px;top:313.1px;width:186.0px;height:199.6px;background:linear-gradient(to right,#0000 0 32.5px,#f9fb15 0 39.5px,#0000 0 44.6px,#f9fb15 0 50.3px,#0000 0 181.5px,#f9fb15 0 183.5px,#0000 0);-webkit-mask-image:linear-gradient(to bottom,#0000 0 3.6px,#000 0 6.5px,#0000 0 9.4px,#000 0 13.7px,#0000 0 14.4px,#000 0 16.6px,#0000 0 17.3px,#000 0 20.9px,#0000 0 22.3px,#000 0 23.8px,#0000 0 25.2px,#000 0 27.4px,#0000 0 29.5px,#000 0 39.6px,#0000 0 40.4px,#000 0 45.4px,#0000 0 48.3px,#000 0 50.4px,#0000 0 54.1px,#000 0 56.2px,#0000 0 56.9px,#000 0 75.7px,#0000 0 79.3px,#000 0 83.6px,#0000 0 85.0px,#000 0 91.5px,#0000 0 139.8px,#000 0 142.0px,#0000 0 144.1px,#000 0 144.9px,#0000 0 147.0px,#000 0 148.5px,#0000 0 149.2px,#000 0 151.3px,#0000 0 154.2px,#000 0 154.9px,#0000 0 155.7px,#000 0 157.8px,#0000 0 159.3px,#000 0 160.0px,#0000 0 162.2px,#000 0 163.6px,#0000 0 165.0px,#000 0 172.2px,#0000 0 177.3px,#000 0 178.7px,#0000 0 180.9px,#000 0 186.7px,#0000 0 188.1px,#000 0 193.9px,#0000 0 195.3px,#000 0 198.9px,#0000 0)"></div>
<div class="b" style="left:535.2px;top:313.1px;width:186.0px;height:199.6px;background:linear-gradient(to bottom,#0000 0 36.0px,#f9fb15 0 38.9px,#0000 0 72.8px,#f9fb15 0 75.7px,#0000 0);-webkit-mask-image:linear-gradient(to right,#000 0 3.2px,#0000 0 5.7px,#000 0 7.0px,#0000 0 8.9px,#000 0 13.4px,#0000 0 15.9px,#000 0 16.6px,#0000 0 21.0px,#000 0 21.7px,#0000 0 23.6px,#000 0 30.6px,#0000 0 32.5px,#000 0 50.3px,#0000 0 51.0px,#000 0 52.9px,#0000 0 58.6px,#000 0 62.4px,#0000 0 63.1px,#000 0 65.6px,#0000 0 66.9px,#000 0 72.6px,#0000 0 89.8px,#000 0 93.0px,#0000 0 95.6px,#000 0 96.8px,#0000 0 98.1px,#000 0 101.3px,#0000 0 101.9px,#000 0 102.6px,#0000 0 106.4px,#000 0 114.7px,#0000 0 115.9px,#000 0 117.2px,#0000 0 121.7px,#000 0 124.2px,#0000 0 126.1px,#000 0 129.3px,#0000 0 129.9px,#000 0 130.6px,#0000 0 135.0px,#000 0 136.3px,#0000 0 140.1px,#000 0 142.7px,#0000 0 144.6px,#000 0 151.0px,#0000 0 152.9px,#000 0 153.5px,#0000 0 157.3px,#000 0 159.9px,#0000 0 161.8px,#000 0 164.3px,#0000 0 175.8px,#000 0 176.5px,#0000 0 177.1px,#000 0 177.7px,#0000 0 181.5px,#000 0 183.5px,#0000 0 185.4px,#000 0 186.0px,#0000 0)"></div>
<div class="b" style="left:535.2px;top:313.1px;width:186.0px;height:199.6px;background:linear-gradient(to right,#0000 0 9.6px,#f9fb15 0 10.2px,#0000 0 12.7px,#f9fb15 0 13.4px,#0000 0 58.6px,#f9fb15 0 60.5px,#0000 0 114.0px,#f9fb15 0 114.7px,#0000 0 129.9px,#f9fb15 0 130.6px,#0000 0 142.1px,#f9fb15 0 142.7px,#0000 0 148.4px,#f9fb15 0 149.1px,#0000 0 150.3px,#f9fb15 0 151.0px,#0000 0 175.8px,#f9fb15 0 176.5px,#0000 0);-webkit-mask-image:linear-gradient(to bottom,#0000 0 22.3px,#000 0 23.8px,#0000 0 29.5px,#000 0 31.0px,#0000 0 31.7px,#000 0 32.4px,#0000 0 36.0px,#000 0 38.9px,#0000 0 42.5px,#000 0 43.2px,#0000 0 49.0px,#000 0 50.4px,#0000 0 62.7px,#000 0 63.4px,#0000 0 68.5px,#000 0 69.2px,#0000 0 72.8px,#000 0 75.7px,#0000 0 79.3px,#000 0 80.7px,#0000 0 85.0px,#000 0 87.2px,#0000 0 88.6px,#000 0 90.8px,#0000 0 139.8px,#000 0 141.3px,#0000 0 149.2px,#000 0 151.3px,#0000 0 154.2px,#000 0 154.9px,#0000 0 155.7px,#000 0 156.4px,#0000 0 177.3px,#000 0 178.7px,#0000 0 185.2px,#000 0 185.9px,#0000 0 188.1px,#000 0 189.5px,#0000 0 196.0px,#000 0 198.9px,#0000 0)"></div>
<div class="b" style="left:535.2px;top:313.1px;width:186.0px;height:199.6px;background:linear-gradient(to bottom,#0000 0 31.7px,#f9fb15 0 32.4px,#0000 0 42.5px,#f9fb15 0 43.2px,#0000 0 68.5px,#f9fb15 0 69.2px,#0000 0 79.3px,#f9fb15 0 80.7px,#0000 0 85.0px,#f9fb15 0 87.2px,#0000 0 88.6px,#f9fb15 0 90.8px,#0000 0 154.2px,#f9fb15 0 154.9px,#0000 0 155.7px,#f9fb15 0 156.4px,#0000 0);-webkit-mask-image:linear-gradient(to right,#0000 0 9.6px,#000 0 10.2px,#0000 0 12.7px,#000 0 13.4px,#0000 0 25.5px,#000 0 27.4px,#0000 0 32.5px,#000 0 39.5px,#0000 0 44.6px,#000 0 50.3px,#0000 0 51.0px,#000 0 52.2px,#0000 0 58.6px,#000 0 60.5px,#0000 0 69.4px,#000 0 72.6px,#0000 0 91.7px,#000 0 93.0px,#0000 0 98.1px,#000 0 101.3px,#0000 0 114.0px,#000 0 114.7px,#0000 0 115.9px,#000 0 117.2px,#0000 0 129.9px,#000 0 130.6px,#0000 0 140.1px,#000 0 142.7px,#0000 0 148.4px,#000 0 149.1px,#0000 0 150.3px,#000 0 151.0px,#0000 0 175.8px,#000 0 176.5px,#0000 0 181.5px,#000 0 183.5px,#0000 0)"></div>
<div class="b" style="left:721.2px;top:313.1px;width:179.0px;height:199.6px;background:linear-gradient(to right,#4743e7 0 0.6px,#0000 0 24.2px,#4433cc 0 24.8px,#0000 0 26.1px,#422fc1 0 27.4px,#0000 0 38.2px,#422fc1 0 39.5px,#0000 0 46.5px,#422fc1 0 47.8px,#0000 0 68.8px,#4433cc 0 70.1px,#0000 0 80.9px,#422fc1 0 82.8px,#4538d7 0 83.4px,#0000 0 91.1px,#463de0 0 92.4px,#4433cc 0 93.0px,#0000 0 114.0px,#422fc1 0 116.6px,#0000 0 150.3px,#422fc1 0 151.0px,#0000 0 165.6px,#4433cc 0 166.9px,#0000 0 170.1px,#4433cc 0 170.7px,#0000 0 176.5px,#4433cc 0 177.7px,#0000 0);-webkit-mask-image:linear-gradient(to bottom,#000 0 0.7px,#0000 0 5.8px,#000 0 8.6px,#0000 0 11.5px,#000 0 13.7px,#0000 0 15.9px,#000 0 16.6px,#0000 0 19.5px,#000 0 20.2px,#0000 0 22.3px,#000 0 23.8px,#0000 0 25.2px,#000 0 27.4px,#0000 0 29.5px,#000 0 31.0px,#0000 0 33.2px,#000 0 33.9px,#0000 0 34.6px,#000 0 38.9px,#0000 0 40.4px,#000 0 45.4px,#0000 0 49.0px,#000 0 50.4px,#0000 0 54.1px,#000 0 55.5px,#0000 0 60.5px,#000 0 64.1px,#0000 0 69.2px,#000 0 71.3px,#0000 0 72.8px,#000 0 75.7px,#0000 0 79.3px,#000 0 80.7px,#0000 0 85.0px,#000 0 87.2px,#0000 0 87.9px,#000 0 91.5px,#0000 0 136.2px,#000 0 137.7px,#0000 0 139.8px,#000 0 141.3px,#0000 0 144.9px,#000 0 145.6px,#0000 0 146.3px,#000 0 147.7px,#0000 0 149.2px,#000 0 151.3px,#0000 0 156.4px,#000 0 160.0px,#0000 0 163.6px,#000 0 165.8px,#0000 0 168.6px,#000 0 172.2px,#0000 0 177.3px,#000 0 178.7px,#0000 0 183.8px,#000 0 191.7px,#0000 0 193.1px,#000 0 193.9px,#0000 0 196.0px,#000 0 198.9px,#0000 0)"></div>
<div class="b" style="left:721.2px;top:313.1px;width:179.0px;height:199.6px;opacity:0.40;background:linear-gradient(to bottom,#0000 0 22.3px,#4743e7 0 23.8px,#0000 0 29.5px,#4743e7 0 31.0px,#0000 0 36.0px,#4755f6 0 38.9px,#0000 0 49.0px,#4743e7 0 50.4px,#0000 0 72.8px,#4755f6 0 75.7px,#0000 0 79.3px,#4743e7 0 80.7px,#0000 0 85.0px,#4743e7 0 87.2px,#0000 0 88.6px,#4743e7 0 90.8px,#0000 0 139.8px,#4433cc 0 141.3px,#0000 0 149.2px,#4433cc 0 151.3px,#0000 0 177.3px,#4433cc 0 178.7px,#0000 0 185.2px,#4433cc 0 185.9px,#0000 0 188.1px,#4433cc 0 189.5px,#0000 0 196.0px,#4433cc 0 198.9px,#0000 0);-webkit-mask-image:linear-gradient(to right,#000 0 0.6px,#0000 0 12.7px,#000 0 14.0px,#0000 0 20.4px,#000 0 22.9px,#0000 0 24.2px,#000 0 28.7px,#0000 0 30.6px,#000 0 31.2px,#0000 0 31.9px,#000 0 33.1px,#0000 0 38.2px,#000 0 39.5px,#0000 0 41.4px,#000 0 44.0px,#0000 0 46.5px,#000 0 47.8px,#0000 0 50.3px,#000 0 51.0px,#0000 0 57.3px,#000 0 58.6px,#0000 0 61.8px,#000 0 64.3px,#0000 0 66.9px,#000 0 68.2px,#0000 0 68.8px,#000 0 70.1px,#0000 0 72.6px,#000 0 74.5px,#0000 0 75.2px,#000 0 77.1px,#0000 0 79.0px,#000 0 83.4px,#0000 0 86.0px,#000 0 87.9px,#0000 0 91.1px,#000 0 93.0px,#0000 0 96.8px,#000 0 99.4px,#0000 0 108.9px,#000 0 110.8px,#0000 0 113.4px,#000 0 116.6px,#0000 0 121.0px,#000 0 121.7px,#0000 0 122.9px,#000 0 125.5px,#0000 0 129.9px,#000 0 132.5px,#0000 0 133.8px,#000 0 135.7px,#0000 0 137.6px,#000 0 138.2px,#0000 0 150.3px,#000 0 151.0px,#0000 0 154.8px,#000 0 157.3px,#0000 0 163.1px,#000 0 165.0px,#0000 0 165.6px,#000 0 168.2px,#0000 0 168.8px,#000 0 171.4px,#0000 0 175.8px,#000 0 177.7px,#0000 0)"></div>
<div class="b" style="left:900.2px;top:313.1px;width:361.8px;height:199.6px;background:linear-gradient(to right,#0000 0 5.1px,#4433cc 0 5.7px,#4538d7 0 7.0px,#0000 0 9.6px,#422fc1 0 10.2px,#0000 0 54.8px,#4538d7 0 55.4px,#0000 0 77.1px,#4538d7 0 77.7px,#0000 0 80.3px,#4538d7 0 80.9px,#0000 0 81.5px,#2f80fa 0 83.4px,#0000 0 84.7px,#422fc1 0 86.0px,#4538d7 0 86.6px,#0000 0 91.1px,#4433cc 0 92.4px,#0000 0 114.7px,#422fc1 0 116.6px,#0000 0 119.8px,#4538d7 0 120.4px,#0000 0 126.1px,#4433cc 0 128.0px,#0000 0 131.2px,#422fc1 0 133.8px,#0000 0 137.0px,#4433cc 0 139.5px,#0000 0 159.3px,#422fc1 0 159.9px,#0000 0 192.4px,#422fc1 0 193.0px,#0000 0 210.2px,#4433cc 0 211.5px,#0000 0 214.7px,#4433cc 0 215.3px,#422fc1 0 216.6px,#0000 0 245.2px,#4538d7 0 245.9px,#0000 0 252.3px,#463de0 0 252.9px,#0000 0 275.8px,#422fc1 0 276.5px,#0000 0 278.4px,#422fc1 0 279.0px,#0000 0 323.0px,#4433cc 0 324.2px,#0000 0 330.0px,#422fc1 0 331.2px,#0000 0 340.2px,#4538d7 0 340.8px,#4433cc 0 341.4px,#0000 0 344.0px,#4433cc 0 346.5px,#0000 0 351.6px,#422fc1 0 352.9px,#0000 0);-webkit-mask-image:linear-gradient(to bottom,#000 0 4.3px,#0000 0 12.3px,#000 0 13.7px,#0000 0 19.5px,#000 0 21.6px,#0000 0 22.3px,#000 0 23.8px,#0000 0 25.2px,#000 0 26.7px,#0000 0 29.5px,#000 0 38.9px,#0000 0 42.5px,#000 0 43.2px,#0000 0 49.0px,#000 0 50.4px,#0000 0 61.3px,#000 0 63.4px,#0000 0 64.1px,#000 0 65.6px,#0000 0 69.2px,#000 0 71.3px,#0000 0 72.8px,#000 0 77.8px,#0000 0 79.3px,#000 0 80.7px,#0000 0 82.9px,#000 0 83.6px,#0000 0 85.0px,#000 0 87.2px,#0000 0 87.9px,#000 0 91.5px,#0000 0 139.8px,#000 0 142.7px,#0000 0 144.1px,#000 0 151.3px,#0000 0 158.6px,#000 0 160.0px,#0000 0 167.9px,#000 0 172.2px,#0000 0 177.3px,#000 0 179.5px,#0000 0 184.5px,#000 0 186.7px,#0000 0 188.1px,#000 0 193.9px,#0000 0 196.0px,#000 0 198.9px,#0000 0)"></div>
<div class="b" style="left:900.2px;top:313.1px;width:361.8px;height:199.6px;opacity:0.40;background:linear-gradient(to bottom,#0000 0 22.3px,#4743e7 0 23.8px,#0000 0 29.5px,#4743e7 0 31.0px,#0000 0 33.2px,#4433cc 0 33.9px,#0000 0 36.0px,#4743e7 0 38.9px,#0000 0 49.0px,#4743e7 0 50.4px,#0000 0 69.2px,#4433cc 0 70.6px,#0000 0 72.8px,#4743e7 0 75.7px,#422fc1 0 77.1px,#0000 0 79.3px,#4743e7 0 80.7px,#0000 0 85.0px,#4743e7 0 87.2px,#0000 0 87.9px,#422fc1 0 88.6px,#4743e7 0 90.8px,#0000 0 139.8px,#4433cc 0 141.3px,#0000 0 144.1px,#422fc1 0 145.6px,#0000 0 149.2px,#4433cc 0 151.3px,#0000 0 177.3px,#4433cc 0 179.5px,#0000 0 185.2px,#4433cc 0 185.9px,#0000 0 188.1px,#4433cc 0 189.5px,#0000 0 190.3px,#4433cc 0 191.0px,#0000 0 196.0px,#4433cc 0 198.9px,#0000 0);-webkit-mask-image:linear-gradient(to right,#0000 0 3.2px,#000 0 3.8px,#0000 0 5.1px,#000 0 10.2px,#0000 0 19.7px,#000 0 22.9px,#0000 0 33.8px,#000 0 34.4px,#0000 0 41.4px,#000 0 42.0px,#0000 0 47.1px,#000 0 47.8px,#0000 0 52.9px,#000 0 55.4px,#0000 0 66.2px,#000 0 71.3px,#0000 0 75.2px,#000 0 75.8px,#0000 0 77.1px,#000 0 77.7px,#0000 0 79.6px,#000 0 83.4px,#0000 0 84.7px,#000 0 87.3px,#0000 0 90.5px,#000 0 92.4px,#0000 0 99.4px,#000 0 100.0px,#0000 0 100.6px,#000 0 101.9px,#0000 0 111.5px,#000 0 112.1px,#0000 0 114.7px,#000 0 116.6px,#0000 0 117.8px,#000 0 122.3px,#0000 0 123.6px,#000 0 133.8px,#0000 0 137.0px,#000 0 139.5px,#0000 0 143.3px,#000 0 145.9px,#0000 0 157.3px,#000 0 158.6px,#0000 0 159.3px,#000 0 161.2px,#0000 0 168.2px,#000 0 171.4px,#0000 0 172.0px,#000 0 173.9px,#0000 0 178.4px,#000 0 180.3px,#0000 0 186.6px,#000 0 188.6px,#0000 0 192.4px,#000 0 194.3px,#0000 0 195.6px,#000 0 198.7px,#0000 0 199.4px,#000 0 200.0px,#0000 0 210.2px,#000 0 213.4px,#0000 0 214.0px,#000 0 216.6px,#0000 0 219.8px,#000 0 221.7px,#0000 0 223.0px,#000 0 228.0px,#0000 0 238.9px,#000 0 239.5px,#0000 0 244.6px,#000 0 246.5px,#0000 0 250.3px,#000 0 255.4px,#0000 0 265.0px,#000 0 265.6px,#0000 0 273.9px,#000 0 276.5px,#0000 0 278.4px,#000 0 280.9px,#0000 0 283.5px,#000 0 284.1px,#0000 0 287.3px,#000 0 287.9px,#0000 0 304.5px,#000 0 305.1px,#0000 0 306.4px,#000 0 307.0px,#0000 0 307.7px,#000 0 308.3px,#0000 0 311.5px,#000 0 314.0px,#0000 0 316.0px,#000 0 321.7px,#0000 0 323.0px,#000 0 324.2px,#0000 0 324.9px,#000 0 325.5px,#0000 0 330.0px,#000 0 331.9px,#0000 0 333.2px,#000 0 337.6px,#0000 0 339.5px,#000 0 341.4px,#0000 0 342.1px,#000 0 346.5px,#0000 0 351.6px,#000 0 354.2px,#0000 0 355.4px,#000 0 357.4px,#0000 0 359.9px,#000 0 360.5px,#0000 0)"></div>
<div class="b" style="left:900.2px;top:313.1px;width:361.8px;height:199.6px;background:linear-gradient(to right,#0000 0 81.5px,#f9fb15 0 83.4px,#0000 0);-webkit-mask-image:linear-gradient(to bottom,#000 0 45.4px,#0000 0 46.1px,#000 0 51.9px,#0000 0 52.6px,#000 0 68.5px,#0000 0 69.2px,#000 0 151.3px,#0000 0 152.8px,#000 0 199.6px,#0000 0)"></div>
<div class="b" style="left:181.0px;top:512.7px;width:177.7px;height:210.4px;background:linear-gradient(to right,#4849ed 0 0.6px,#4755f6 0 1.3px,#4743e7 0 2.5px,#484ff2 0 5.1px,#4367fd 0 5.7px,#4849ed 0 7.6px,#475bf9 0 9.6px,#4755f6 0 12.7px,#4538d7 0 14.0px,#347afd 0 15.9px,#4849ed 0 17.2px,#4538d7 0 17.8px,#4433cc 0 19.7px,#422fc1 0 20.4px,#4743e7 0 21.0px,#484ff2 0 21.7px,#4367fd 0 22.3px,#4743e7 0 22.9px,#259ce7 0 24.8px,#4849ed 0 25.5px,#4538d7 0 26.1px,#4849ed 0 27.4px,#463de0 0 28.0px,#475bf9 0 28.7px,#4538d7 0 29.3px,#4743e7 0 29.9px,#4433cc 0 30.6px,#0000 0 31.9px,#484ff2 0 32.5px,#463de0 0 33.1px,#4367fd 0 34.4px,#23a1e5 0 35.0px,#475bf9 0 36.9px,#463de0 0 37.6px,#4433cc 0 39.5px,#0000 0 40.8px,#4433cc 0 42.0px,#4849ed 0 42.7px,#4433cc 0 43.3px,#4755f6 0 45.2px,#4433cc 0 46.5px,#4538d7 0 47.1px,#2b91ef 0 48.4px,#463de0 0 49.0px,#23a1e5 0 50.3px,#4755f6 0 51.0px,#23a1e5 0 52.2px,#4433cc 0 53.5px,#4743e7 0 54.1px,#4755f6 0 54.8px,#475bf9 0 55.4px,#2f80fa 0 56.7px,#4538d7 0 57.3px,#463de0 0 58.0px,#4743e7 0 58.6px,#4433cc 0 59.2px,#0000 0 60.5px,#2d8cf3 0 61.8px,#4538d7 0 62.4px,#484ff2 0 63.7px,#4743e7 0 65.0px,#463de0 0 65.6px,#4849ed 0 66.9px,#2f80fa 0 68.2px,#4538d7 0 68.8px,#0000 0 69.4px,#259ce7 0 70.1px,#0000 0 70.7px,#463de0 0 71.3px,#4433cc 0 72.0px,#4538d7 0 73.3px,#463de0 0 74.5px,#0000 0 75.2px,#4743e7 0 76.4px,#3a74fe 0 78.4px,#422fc1 0 79.0px,#463de0 0 80.3px,#4538d7 0 81.5px,#475bf9 0 83.4px,#347afd 0 84.1px,#4538d7 0 87.3px,#4743e7 0 87.9px,#475bf9 0 88.5px,#4849ed 0 89.8px,#463de0 0 90.5px,#4538d7 0 91.1px,#4433cc 0 91.7px,#463de0 0 93.0px,#4743e7 0 94.9px,#2b91ef 0 95.6px,#2e86f7 0 96.8px,#406dfe 0 98.7px,#4755f6 0 99.4px,#3a74fe 0 100.0px,#0000 0 101.3px,#4661fc 0 102.6px,#484ff2 0 104.5px,#463de0 0 105.7px,#259ce7 0 107.0px,#475bf9 0 107.7px,#484ff2 0 108.3px,#259ce7 0 114.7px,#475bf9 0 116.6px,#2f80fa 0 118.5px,#4661fc 0 119.8px,#4755f6 0 120.4px,#1caadf 0 121.0px,#4755f6 0 121.7px,#463de0 0 123.6px,#4538d7 0 124.9px,#463de0 0 125.5px,#4849ed 0 128.0px,#2f80fa 0 128.7px,#4367fd 0 129.3px,#4849ed 0 129.9px,#463de0 0 132.5px,#4661fc 0 133.8px,#4538d7 0 135.0px,#4433cc 0 135.7px,#0000 0 138.2px,#4367fd 0 139.5px,#4538d7 0 141.4px,#475bf9 0 142.1px,#422fc1 0 142.7px,#0000 0 144.6px,#406dfe 0 145.2px,#4661fc 0 145.9px,#2f80fa 0 147.1px,#422fc1 0 148.4px,#4538d7 0 149.1px,#463de0 0 149.7px,#4755f6 0 150.3px,#463de0 0 151.6px,#4433cc 0 152.9px,#422fc1 0 153.5px,#347afd 0 154.2px,#4661fc 0 155.4px,#0000 0 156.1px,#4743e7 0 157.3px,#4538d7 0 158.0px,#475bf9 0 158.6px,#484ff2 0 159.3px,#4367fd 0 159.9px,#4755f6 0 161.2px,#2d8cf3 0 162.4px,#406dfe 0 163.1px,#2e86f7 0 163.7px,#2b91ef 0 164.3px,#23a1e5 0 166.3px,#259ce7 0 166.9px,#4433cc 0 167.5px,#0000 0 168.2px,#4661fc 0 170.1px,#4755f6 0 170.7px,#4849ed 0 171.4px,#0000 0 172.0px,#422fc1 0 173.3px,#4755f6 0 174.5px,#463de0 0 175.8px,#4538d7 0 176.5px,#4743e7 0 177.7px,#0000 0)"></div>
<div class="b" style="left:181.0px;top:512.7px;width:177.7px;height:210.4px;opacity:0.40;background:linear-gradient(to bottom,#23a1e5 0 0.7px,#475bf9 0 1.4px,#4538d7 0 2.2px,#484ff2 0 4.3px,#4743e7 0 5.0px,#463de0 0 7.9px,#0000 0 8.6px,#4849ed 0 9.4px,#475bf9 0 10.1px,#4538d7 0 11.5px,#4849ed 0 12.3px,#4755f6 0 15.1px,#463de0 0 15.9px,#4755f6 0 16.6px,#463de0 0 18.0px,#475bf9 0 18.7px,#4538d7 0 21.6px,#4755f6 0 23.1px,#4743e7 0 24.5px,#0000 0 25.2px,#4433cc 0 26.7px,#4755f6 0 27.4px,#4743e7 0 28.8px,#347afd 0 31.0px,#4367fd 0 31.7px,#463de0 0 32.4px,#4433cc 0 34.6px,#0000 0 35.3px,#4433cc 0 36.8px,#347afd 0 44.7px,#259ce7 0 50.4px,#347afd 0 56.9px,#2f80fa 0 57.7px,#4367fd 0 59.1px,#2f80fa 0 59.8px,#463de0 0 62.0px,#475bf9 0 62.7px,#463de0 0 63.4px,#484ff2 0 66.3px,#3a74fe 0 68.5px,#463de0 0 69.2px,#475bf9 0 70.6px,#4743e7 0 72.1px,#463de0 0 74.2px,#4433cc 0 75.0px,#4743e7 0 75.7px,#2b91ef 0 76.4px,#4661fc 0 77.1px,#422fc1 0 78.6px,#347afd 0 82.2px,#4433cc 0 83.6px,#4743e7 0 84.3px,#484ff2 0 85.8px,#422fc1 0 86.5px,#4755f6 0 87.2px,#422fc1 0 87.9px,#4433cc 0 89.4px,#4538d7 0 92.2px,#484ff2 0 93.0px,#4743e7 0 95.9px,#4538d7 0 97.3px,#422fc1 0 98.0px,#4743e7 0 98.7px,#4538d7 0 100.2px,#484ff2 0 100.9px,#4849ed 0 103.1px,#4661fc 0 103.8px,#4367fd 0 105.2px,#4433cc 0 107.4px,#4661fc 0 108.1px,#4849ed 0 109.5px,#4743e7 0 111.0px,#347afd 0 114.6px,#0000 0 115.3px,#4849ed 0 116.0px,#422fc1 0 116.8px,#4433cc 0 118.9px,#463de0 0 119.6px,#4433cc 0 120.4px,#484ff2 0 122.5px,#4367fd 0 124.0px,#2e86f7 0 125.4px,#4661fc 0 126.1px,#463de0 0 127.6px,#4538d7 0 128.3px,#4755f6 0 130.4px,#4433cc 0 131.2px,#406dfe 0 132.6px,#4743e7 0 134.0px,#4538d7 0 135.5px,#0000 0 136.9px,#463de0 0 137.7px,#3a74fe 0 138.4px,#4755f6 0 139.8px,#4433cc 0 140.5px,#4538d7 0 143.4px,#475bf9 0 144.1px,#0000 0 144.9px,#1caadf 0 146.3px,#422fc1 0 147.0px,#4755f6 0 147.7px,#4538d7 0 148.5px,#475bf9 0 149.2px,#406dfe 0 149.9px,#3a74fe 0 150.6px,#4661fc 0 151.3px,#4538d7 0 152.8px,#1caadf 0 154.2px,#4743e7 0 155.7px,#475bf9 0 156.4px,#463de0 0 157.1px,#4849ed 0 157.8px,#4433cc 0 158.6px,#347afd 0 160.7px,#4433cc 0 161.4px,#4538d7 0 163.6px,#4755f6 0 165.0px,#475bf9 0 166.5px,#4661fc 0 167.9px,#2d8cf3 0 169.4px,#484ff2 0 172.2px,#463de0 0 173.7px,#422fc1 0 174.4px,#4433cc 0 175.8px,#422fc1 0 177.3px,#4433cc 0 178.0px,#463de0 0 179.5px,#4755f6 0 180.9px,#4538d7 0 182.3px,#4743e7 0 183.8px,#4755f6 0 185.2px,#484ff2 0 186.7px,#4849ed 0 187.4px,#475bf9 0 188.1px,#4538d7 0 190.3px,#4433cc 0 191.7px,#4538d7 0 195.3px,#4743e7 0 196.7px,#4849ed 0 201.1px,#4743e7 0 203.2px,#4661fc 0 204.0px,#3a74fe 0 205.4px,#347afd 0 207.6px,#4433cc 0 210.4px,#0000 0)"></div>
<div class="b" style="left:181.0px;top:512.7px;width:177.7px;height:210.4px;background:linear-gradient(to right,#0000 0 14.0px,#f9fb15 0 15.9px,#0000 0 55.4px,#f9fb15 0 56.7px,#0000 0 145.9px,#f9fb15 0 147.1px,#0000 0);-webkit-mask-image:linear-gradient(to bottom,#000 0 7.9px,#0000 0 8.6px,#000 0 24.5px,#0000 0 25.2px,#000 0 114.6px,#0000 0 115.3px,#000 0 135.5px,#0000 0 136.9px,#000 0 144.1px,#0000 0 144.9px,#000 0 210.4px,#0000 0)"></div>
<div class="b" style="left:181.0px;top:512.7px;width:177.7px;height:210.4px;background:linear-gradient(to bottom,#0000 0 36.8px,#f9fb15 0 44.7px,#0000 0 50.4px,#f9fb15 0 56.9px,#0000 0 78.6px,#f9fb15 0 82.2px,#0000 0 111.0px,#f9fb15 0 114.6px,#0000 0 158.6px,#f9fb15 0 160.7px,#0000 0 205.4px,#f9fb15 0 207.6px,#0000 0);-webkit-mask-image:linear-gradient(to right,#000 0 39.5px,#0000 0 40.8px,#000 0 68.8px,#0000 0 69.4px,#000 0 70.1px,#0000 0 70.7px,#000 0 142.7px,#0000 0 143.3px,#000 0 171.4px,#0000 0 172.0px,#000 0 177.7px,#0000 0)"></div>
<div class="b" style="left:181.0px;top:512.7px;width:177.7px;height:210.4px;background:linear-gradient(to bottom,#0000 0 28.8px,#f9fb15 0 31.0px,#0000 0 66.3px,#f9fb15 0 68.5px,#0000 0);-webkit-mask-image:linear-gradient(to right,#000 0 12.7px,#0000 0 13.4px,#000 0 17.8px,#0000 0 20.4px,#000 0 29.9px,#0000 0 31.9px,#000 0 37.6px,#0000 0 42.0px,#000 0 42.7px,#0000 0 43.3px,#000 0 45.2px,#0000 0 46.5px,#000 0 52.2px,#0000 0 53.5px,#000 0 56.7px,#0000 0 57.3px,#000 0 58.6px,#0000 0 60.5px,#000 0 61.8px,#0000 0 62.4px,#000 0 68.8px,#0000 0 69.4px,#000 0 70.1px,#0000 0 70.7px,#000 0 71.3px,#0000 0 72.0px,#000 0 74.5px,#0000 0 75.2px,#000 0 78.4px,#0000 0 79.0px,#000 0 91.1px,#0000 0 91.7px,#000 0 100.0px,#0000 0 101.3px,#000 0 134.4px,#0000 0 138.2px,#000 0 142.1px,#0000 0 144.6px,#000 0 147.1px,#0000 0 148.4px,#000 0 151.6px,#0000 0 153.5px,#000 0 155.4px,#0000 0 156.1px,#000 0 166.9px,#0000 0 168.2px,#000 0 171.4px,#0000 0 173.3px,#000 0 177.7px,#0000 0)"></div>
<div class="b" style="left:181.0px;top:512.7px;width:177.7px;height:210.4px;background:linear-gradient(to right,#0000 0 118.5px,#f9fb15 0 119.8px,#0000 0 154.2px,#f9fb15 0 155.4px,#0000 0 168.2px,#f9fb15 0 170.1px,#0000 0);-webkit-mask-image:linear-gradient(to bottom,#000 0 1.4px,#0000 0 2.2px,#000 0 4.3px,#0000 0 8.6px,#000 0 10.1px,#0000 0 11.5px,#000 0 15.1px,#0000 0 15.9px,#000 0 16.6px,#0000 0 18.0px,#000 0 18.7px,#0000 0 21.6px,#000 0 23.1px,#0000 0 26.7px,#000 0 27.4px,#0000 0 28.8px,#000 0 31.7px,#0000 0 36.8px,#000 0 59.8px,#0000 0 62.0px,#000 0 62.7px,#0000 0 63.4px,#000 0 68.5px,#0000 0 69.2px,#000 0 70.6px,#0000 0 75.7px,#000 0 77.1px,#0000 0 78.6px,#000 0 82.2px,#0000 0 84.3px,#000 0 85.8px,#0000 0 86.5px,#000 0 87.2px,#0000 0 92.2px,#000 0 93.0px,#0000 0 100.2px,#000 0 105.2px,#0000 0 107.4px,#000 0 109.5px,#0000 0 111.0px,#000 0 114.6px,#0000 0 120.4px,#000 0 126.1px,#0000 0 128.3px,#000 0 130.4px,#0000 0 131.2px,#000 0 132.6px,#0000 0 137.7px,#000 0 139.8px,#0000 0 143.4px,#000 0 144.1px,#0000 0 144.9px,#000 0 146.3px,#0000 0 147.0px,#000 0 147.7px,#0000 0 148.5px,#000 0 151.3px,#0000 0 152.8px,#000 0 154.2px,#0000 0 155.7px,#000 0 156.4px,#0000 0 157.1px,#000 0 157.8px,#0000 0 158.6px,#000 0 160.7px,#0000 0 163.6px,#000 0 172.2px,#0000 0 179.5px,#000 0 180.9px,#0000 0 183.8px,#000 0 188.1px,#0000 0 203.2px,#000 0 207.6px,#0000 0)"></div>
<div class="b" style="left:181.0px;top:512.7px;width:177.7px;height:210.4px;background:linear-gradient(to bottom,#0000 0 57.7px,#f9fb15 0 59.1px,#0000 0 103.8px,#f9fb15 0 105.2px,#0000 0 131.2px,#f9fb15 0 132.6px,#0000 0);-webkit-mask-image:linear-gradient(to right,#000 0 1.3px,#0000 0 2.5px,#000 0 5.7px,#0000 0 7.6px,#000 0 12.7px,#0000 0 14.0px,#000 0 15.9px,#0000 0 21.0px,#000 0 22.3px,#0000 0 22.9px,#000 0 25.5px,#0000 0 26.1px,#000 0 27.4px,#0000 0 28.0px,#000 0 28.7px,#0000 0 31.9px,#000 0 32.5px,#0000 0 33.1px,#000 0 36.9px,#0000 0 42.0px,#000 0 42.7px,#0000 0 43.3px,#000 0 45.2px,#0000 0 47.1px,#000 0 48.4px,#0000 0 49.0px,#000 0 52.2px,#0000 0 54.1px,#000 0 56.7px,#0000 0 60.5px,#000 0 61.8px,#0000 0 62.4px,#000 0 63.7px,#0000 0 66.9px,#000 0 68.2px,#0000 0 69.4px,#000 0 70.1px,#0000 0 76.4px,#000 0 78.4px,#0000 0 81.5px,#000 0 84.1px,#0000 0 87.9px,#000 0 89.8px,#0000 0 94.9px,#000 0 100.0px,#0000 0 101.3px,#000 0 104.5px,#0000 0 105.7px,#000 0 121.7px,#0000 0 128.0px,#000 0 129.9px,#0000 0 132.5px,#000 0 133.8px,#0000 0 138.2px,#000 0 139.5px,#0000 0 141.4px,#000 0 142.1px,#0000 0 144.6px,#000 0 147.1px,#0000 0 149.7px,#000 0 150.3px,#0000 0 153.5px,#000 0 155.4px,#0000 0 158.0px,#000 0 166.9px,#0000 0 168.2px,#000 0 170.7px,#0000 0 173.3px,#000 0 174.5px,#0000 0)"></div>
<div class="b" style="left:181.0px;top:512.7px;width:177.7px;height:210.4px;background:linear-gradient(to right,#0000 0 9.6px,#f9fb15 0 10.2px,#0000 0 43.3px,#f9fb15 0 45.2px,#0000 0 50.3px,#f9fb15 0 51.0px,#0000 0 54.1px,#f9fb15 0 55.4px,#0000 0 98.7px,#f9fb15 0 99.4px,#0000 0 121.0px,#f9fb15 0 121.7px,#0000 0 141.4px,#f9fb15 0 142.1px,#0000 0 173.3px,#f9fb15 0 173.9px,#0000 0);-webkit-mask-image:linear-gradient(to bottom,#0000 0 28.8px,#000 0 31.0px,#0000 0 36.8px,#000 0 44.7px,#0000 0 50.4px,#000 0 56.9px,#0000 0 66.3px,#000 0 68.5px,#0000 0 78.6px,#000 0 82.2px,#0000 0 111.0px,#000 0 114.6px,#0000 0 131.2px,#000 0 132.6px,#0000 0 158.6px,#000 0 160.7px,#0000 0 205.4px,#000 0 207.6px,#0000 0)"></div>
<div class="b" style="left:181.0px;top:512.7px;width:177.7px;height:210.4px;background:linear-gradient(to bottom,#0000 0 9.4px,#f9fb15 0 10.1px,#0000 0 15.9px,#f9fb15 0 16.6px,#0000 0 22.3px,#f9fb15 0 23.1px,#0000 0 62.0px,#f9fb15 0 62.7px,#0000 0 86.5px,#f9fb15 0 87.2px,#0000 0 143.4px,#f9fb15 0 144.1px,#0000 0 147.0px,#f9fb15 0 147.7px,#0000 0 155.7px,#f9fb15 0 156.4px,#0000 0 183.8px,#f9fb15 0 185.2px,#0000 0);-webkit-mask-image:linear-gradient(to right,#0000 0 9.6px,#000 0 10.2px,#0000 0 14.0px,#000 0 15.9px,#0000 0 22.9px,#000 0 24.8px,#0000 0 34.4px,#000 0 35.0px,#0000 0 43.3px,#000 0 45.2px,#0000 0 49.0px,#000 0 52.2px,#0000 0 54.1px,#000 0 56.7px,#0000 0 69.4px,#000 0 70.1px,#0000 0 98.7px,#000 0 99.4px,#0000 0 105.7px,#000 0 107.0px,#0000 0 108.3px,#000 0 114.7px,#0000 0 118.5px,#000 0 119.8px,#0000 0 120.4px,#000 0 121.7px,#0000 0 141.4px,#000 0 142.1px,#0000 0 145.9px,#000 0 147.1px,#0000 0 154.2px,#000 0 155.4px,#0000 0 164.3px,#000 0 166.9px,#0000 0 168.2px,#000 0 170.1px,#0000 0 173.3px,#000 0 173.9px,#0000 0)"></div>
<div class="b" style="left:358.7px;top:512.7px;width:176.5px;height:210.4px;background:linear-gradient(to right,#4433cc 0 1.3px,#0000 0 3.2px,#4538d7 0 5.7px,#422fc1 0 7.0px,#0000 0 8.3px,#4433cc 0 8.9px,#4538d7 0 10.8px,#4433cc 0 12.1px,#0000 0 12.7px,#4538d7 0 14.7px,#0000 0 15.3px,#4433cc 0 17.2px,#463de0 0 17.8px,#4538d7 0 18.5px,#4433cc 0 19.1px,#0000 0 19.7px,#1caadf 0 21.0px,#0000 0 22.3px,#4743e7 0 22.9px,#4538d7 0 24.2px,#0000 0 26.1px,#2d8cf3 0 27.4px,#463de0 0 28.0px,#475bf9 0 28.7px,#463de0 0 29.9px,#4433cc 0 31.2px,#4538d7 0 31.9px,#4661fc 0 34.4px,#463de0 0 35.0px,#0000 0 35.7px,#4433cc 0 37.6px,#475bf9 0 38.2px,#4433cc 0 38.9px,#4538d7 0 40.1px,#0000 0 42.7px,#4538d7 0 43.3px,#1caadf 0 44.6px,#0000 0 47.8px,#4743e7 0 49.0px,#4538d7 0 49.7px,#0000 0 50.3px,#463de0 0 51.0px,#4433cc 0 51.6px,#4538d7 0 52.9px,#4433cc 0 53.5px,#4538d7 0 54.1px,#4849ed 0 55.4px,#4661fc 0 56.1px,#4743e7 0 57.3px,#4538d7 0 58.0px,#4433cc 0 60.5px,#4755f6 0 61.2px,#4743e7 0 62.4px,#463de0 0 64.3px,#4661fc 0 66.9px,#422fc1 0 68.2px,#0000 0 70.1px,#4849ed 0 71.3px,#4538d7 0 73.3px,#4433cc 0 73.9px,#0000 0 75.2px,#4849ed 0 77.1px,#4433cc 0 77.7px,#484ff2 0 78.4px,#4849ed 0 80.3px,#4433cc 0 80.9px,#0000 0 123.6px,#2d8cf3 0 124.9px,#4433cc 0 125.5px,#422fc1 0 126.1px,#0000 0 127.4px,#484ff2 0 128.0px,#422fc1 0 128.7px,#0000 0 129.9px,#4743e7 0 130.6px,#4433cc 0 131.2px,#0000 0 131.9px,#1caadf 0 133.8px,#0000 0 136.3px,#475bf9 0 137.0px,#0000 0 137.6px,#475bf9 0 138.2px,#4433cc 0 139.5px,#422fc1 0 140.8px,#4743e7 0 141.4px,#0000 0 143.3px,#4433cc 0 144.6px,#422fc1 0 145.9px,#4433cc 0 147.8px,#4538d7 0 149.7px,#463de0 0 150.3px,#484ff2 0 151.0px,#4743e7 0 152.2px,#422fc1 0 153.5px,#4433cc 0 154.2px,#0000 0 156.7px,#2d8cf3 0 158.0px,#422fc1 0 159.3px,#0000 0 159.9px,#4538d7 0 163.1px,#4755f6 0 163.7px,#4367fd 0 164.3px,#4743e7 0 165.0px,#0000 0 166.3px,#2d8cf3 0 167.5px,#4538d7 0 170.7px,#463de0 0 171.4px,#0000 0 172.6px,#4433cc 0 173.3px,#2d8cf3 0 175.8px,#0000 0)"></div>
<div class="b" style="left:358.7px;top:512.7px;width:176.5px;height:210.4px;opacity:0.40;background:linear-gradient(to bottom,#4849ed 0 0.7px,#2f80fa 0 1.4px,#4849ed 0 2.2px,#4538d7 0 3.6px,#4433cc 0 4.3px,#0000 0 6.5px,#4538d7 0 7.9px,#0000 0 8.6px,#4538d7 0 10.1px,#4743e7 0 10.8px,#4755f6 0 11.5px,#463de0 0 12.3px,#4849ed 0 14.4px,#475bf9 0 15.1px,#422fc1 0 15.9px,#0000 0 18.0px,#4538d7 0 18.7px,#0000 0 20.9px,#4538d7 0 23.8px,#463de0 0 24.5px,#0000 0 26.7px,#463de0 0 28.8px,#1caadf 0 31.0px,#4661fc 0 32.4px,#4743e7 0 33.2px,#463de0 0 34.6px,#0000 0 35.3px,#422fc1 0 36.8px,#4661fc 0 44.7px,#2d8cf3 0 50.4px,#4661fc 0 56.9px,#4433cc 0 57.7px,#1caadf 0 59.1px,#463de0 0 59.8px,#422fc1 0 62.0px,#4538d7 0 62.7px,#0000 0 63.4px,#4433cc 0 64.9px,#0000 0 66.3px,#4849ed 0 68.5px,#4743e7 0 70.6px,#4433cc 0 71.3px,#4849ed 0 74.2px,#422fc1 0 75.0px,#0000 0 75.7px,#463de0 0 78.6px,#347afd 0 82.2px,#0000 0 83.6px,#422fc1 0 85.0px,#0000 0 87.9px,#422fc1 0 89.4px,#0000 0 95.1px,#422fc1 0 97.3px,#4433cc 0 99.5px,#0000 0 100.2px,#4433cc 0 101.6px,#484ff2 0 102.3px,#4743e7 0 103.1px,#4755f6 0 103.8px,#1caadf 0 105.2px,#422fc1 0 105.9px,#0000 0 107.4px,#422fc1 0 108.1px,#4743e7 0 109.5px,#0000 0 111.0px,#1caadf 0 114.6px,#0000 0 115.3px,#4538d7 0 116.0px,#0000 0 116.8px,#4433cc 0 119.6px,#0000 0 120.4px,#4538d7 0 124.0px,#4743e7 0 124.7px,#475bf9 0 126.1px,#4755f6 0 128.3px,#4743e7 0 129.0px,#475bf9 0 129.7px,#4433cc 0 130.4px,#0000 0 131.2px,#1caadf 0 132.6px,#0000 0 134.8px,#422fc1 0 136.9px,#0000 0 137.7px,#463de0 0 138.4px,#4538d7 0 140.5px,#0000 0 142.7px,#4743e7 0 144.9px,#2d8cf3 0 146.3px,#4433cc 0 147.0px,#4755f6 0 147.7px,#0000 0 149.9px,#4433cc 0 152.8px,#2d8cf3 0 154.2px,#0000 0 154.9px,#422fc1 0 155.7px,#0000 0 158.6px,#347afd 0 160.7px,#4755f6 0 161.4px,#0000 0 162.9px,#4538d7 0 163.6px,#484ff2 0 166.5px,#463de0 0 167.2px,#4538d7 0 167.9px,#475bf9 0 168.6px,#4538d7 0 170.1px,#475bf9 0 170.8px,#4538d7 0 172.2px,#422fc1 0 173.0px,#463de0 0 173.7px,#4433cc 0 174.4px,#422fc1 0 175.8px,#0000 0 177.3px,#422fc1 0 178.0px,#4538d7 0 179.5px,#4743e7 0 180.9px,#0000 0 181.6px,#4433cc 0 182.3px,#422fc1 0 183.1px,#4538d7 0 183.8px,#2d8cf3 0 185.2px,#4755f6 0 185.9px,#4433cc 0 188.1px,#0000 0 189.5px,#4433cc 0 191.7px,#0000 0 193.9px,#4433cc 0 194.6px,#422fc1 0 195.3px,#4433cc 0 196.0px,#4538d7 0 197.5px,#4433cc 0 198.2px,#4538d7 0 198.9px,#4755f6 0 199.6px,#4538d7 0 204.0px,#0000 0 205.4px,#406dfe 0 207.6px,#0000 0 208.3px,#4433cc 0 209.7px,#4538d7 0 210.4px,#0000 0);-webkit-mask-image:linear-gradient(to right,#000 0 1.3px,#0000 0 2.5px,#000 0 14.7px,#0000 0 15.3px,#000 0 19.1px,#0000 0 19.7px,#000 0 25.5px,#0000 0 26.1px,#000 0 44.6px,#0000 0 47.1px,#000 0 122.9px,#0000 0 123.6px,#000 0 133.8px,#0000 0 136.3px,#000 0 142.1px,#0000 0 142.7px,#000 0 171.4px,#0000 0 172.6px,#000 0 176.5px,#0000 0)"></div>
<div class="b" style="left:358.7px;top:512.7px;width:176.5px;height:210.4px;background:linear-gradient(to bottom,#0000 0 78.6px,#f9fb15 0 82.2px,#0000 0 158.6px,#f9fb15 0 160.7px,#0000 0);-webkit-mask-image:linear-gradient(to right,#000 0 1.3px,#0000 0 2.5px,#000 0 14.7px,#0000 0 15.3px,#000 0 19.1px,#0000 0 19.7px,#000 0 25.5px,#0000 0 26.1px,#000 0 44.6px,#0000 0 47.1px,#000 0 122.9px,#0000 0 123.6px,#000 0 133.8px,#0000 0 136.3px,#000 0 142.1px,#0000 0 142.7px,#000 0 171.4px,#0000 0 172.6px,#000 0 176.5px,#0000 0)"></div>
<div class="b" style="left:358.7px;top:512.7px;width:176.5px;height:210.4px;background:linear-gradient(to right,#0000 0 31.9px,#f9fb15 0 34.4px,#0000 0 64.3px,#f9fb15 0 66.9px,#0000 0);-webkit-mask-image:linear-gradient(to bottom,#000 0 3.6px,#0000 0 6.5px,#000 0 7.9px,#0000 0 10.1px,#000 0 15.1px,#0000 0 18.0px,#000 0 18.7px,#0000 0 23.8px,#000 0 24.5px,#0000 0 26.7px,#000 0 34.6px,#0000 0 36.8px,#000 0 56.9px,#0000 0 57.7px,#000 0 59.8px,#0000 0 66.3px,#000 0 70.6px,#0000 0 71.3px,#000 0 74.2px,#0000 0 75.7px,#000 0 82.2px,#0000 0 101.6px,#000 0 105.2px,#0000 0 108.1px,#000 0 109.5px,#0000 0 111.0px,#000 0 114.6px,#0000 0 115.3px,#000 0 116.0px,#0000 0 120.4px,#000 0 129.7px,#0000 0 131.2px,#000 0 132.6px,#0000 0 137.7px,#000 0 140.5px,#0000 0 142.7px,#000 0 146.3px,#0000 0 147.0px,#000 0 147.7px,#0000 0 152.8px,#000 0 154.2px,#0000 0 158.6px,#000 0 161.4px,#0000 0 163.6px,#000 0 170.8px,#0000 0 173.0px,#000 0 173.7px,#0000 0 178.0px,#000 0 180.9px,#0000 0 183.1px,#000 0 185.9px,#0000 0 198.9px,#000 0 199.6px,#0000 0 200.4px,#000 0 201.1px,#0000 0 205.4px,#000 0 207.6px,#0000 0 209.7px,#000 0 210.4px,#0000 0)"></div>
<div class="b" style="left:358.7px;top:512.7px;width:176.5px;height:210.4px;background:linear-gradient(to bottom,#0000 0 36.8px,#f9fb15 0 44.7px,#0000 0 50.4px,#f9fb15 0 56.9px,#0000 0 205.4px,#f9fb15 0 207.6px,#0000 0);-webkit-mask-image:linear-gradient(to right,#0000 0 3.2px,#000 0 5.7px,#0000 0 8.3px,#000 0 12.1px,#0000 0 12.7px,#000 0 14.7px,#0000 0 15.3px,#000 0 18.5px,#0000 0 19.7px,#000 0 21.0px,#0000 0 22.3px,#000 0 24.2px,#0000 0 26.1px,#000 0 35.0px,#0000 0 35.7px,#000 0 40.1px,#0000 0 42.7px,#000 0 44.6px,#0000 0 47.8px,#000 0 49.7px,#0000 0 50.3px,#000 0 66.9px,#0000 0 70.1px,#000 0 73.9px,#0000 0 75.2px,#000 0 80.9px,#0000 0 123.6px,#000 0 125.5px,#0000 0 127.4px,#000 0 128.0px,#0000 0 129.9px,#000 0 131.2px,#0000 0 131.9px,#000 0 133.8px,#0000 0 136.3px,#000 0 137.0px,#0000 0 137.6px,#000 0 139.5px,#0000 0 140.8px,#000 0 141.4px,#0000 0 143.3px,#000 0 144.6px,#0000 0 145.9px,#000 0 152.2px,#0000 0 156.7px,#000 0 158.0px,#0000 0 159.9px,#000 0 165.0px,#0000 0 166.3px,#000 0 171.4px,#0000 0 172.6px,#000 0 175.8px,#0000 0)"></div>
<div class="b" style="left:358.7px;top:512.7px;width:176.5px;height:210.4px;background:linear-gradient(to right,#0000 0 28.0px,#f9fb15 0 28.7px,#0000 0 37.6px,#f9fb15 0 38.2px,#0000 0 60.5px,#f9fb15 0 61.2px,#0000 0 70.1px,#f9fb15 0 71.3px,#0000 0 75.2px,#f9fb15 0 77.1px,#0000 0 78.4px,#f9fb15 0 80.3px,#0000 0 136.3px,#f9fb15 0 137.0px,#0000 0 137.6px,#f9fb15 0 138.2px,#0000 0);-webkit-mask-image:linear-gradient(to bottom,#0000 0 10.8px,#000 0 11.5px,#0000 0 14.4px,#000 0 15.1px,#0000 0 28.8px,#000 0 31.0px,#0000 0 36.8px,#000 0 44.7px,#0000 0 50.4px,#000 0 56.9px,#0000 0 57.7px,#000 0 59.1px,#0000 0 66.3px,#000 0 68.5px,#0000 0 78.6px,#000 0 82.2px,#0000 0 103.8px,#000 0 105.2px,#0000 0 111.0px,#000 0 114.6px,#0000 0 129.0px,#000 0 129.7px,#0000 0 131.2px,#000 0 132.6px,#0000 0 147.0px,#000 0 147.7px,#0000 0 158.6px,#000 0 161.4px,#0000 0 167.9px,#000 0 168.6px,#0000 0 170.1px,#000 0 170.8px,#0000 0 198.9px,#000 0 199.6px,#0000 0 205.4px,#000 0 207.6px,#0000 0)"></div>
<div class="b" style="left:358.7px;top:512.7px;width:176.5px;height:210.4px;background:linear-gradient(to bottom,#0000 0 10.8px,#f9fb15 0 11.5px,#0000 0 14.4px,#f9fb15 0 15.1px,#0000 0 66.3px,#f9fb15 0 68.5px,#0000 0 129.0px,#f9fb15 0 129.7px,#0000 0 147.0px,#f9fb15 0 147.7px,#0000 0 160.7px,#f9fb15 0 161.4px,#0000 0 167.9px,#f9fb15 0 168.6px,#0000 0 170.1px,#f9fb15 0 170.8px,#0000 0 198.9px,#f9fb15 0 199.6px,#0000 0);-webkit-mask-image:linear-gradient(to right,#0000 0 19.7px,#000 0 21.0px,#0000 0 26.1px,#000 0 27.4px,#0000 0 28.0px,#000 0 28.7px,#0000 0 31.9px,#000 0 34.4px,#0000 0 37.6px,#000 0 38.2px,#0000 0 43.3px,#000 0 44.6px,#0000 0 55.4px,#000 0 56.1px,#0000 0 60.5px,#000 0 61.2px,#0000 0 64.3px,#000 0 66.9px,#0000 0 70.1px,#000 0 71.3px,#0000 0 75.2px,#000 0 77.1px,#0000 0 78.4px,#000 0 80.3px,#0000 0 123.6px,#000 0 124.9px,#0000 0 131.9px,#000 0 133.8px,#0000 0 136.3px,#000 0 137.0px,#0000 0 137.6px,#000 0 138.2px,#0000 0 156.7px,#000 0 158.0px,#0000 0 163.7px,#000 0 164.3px,#0000 0 166.3px,#000 0 167.5px,#0000 0 173.3px,#000 0 175.8px,#0000 0)"></div>
<div class="b" style="left:535.2px;top:512.7px;width:186.0px;height:210.4px;background:linear-gradient(to right,#484ff2 0 0.6px,#23a1e5 0 1.3px,#2f80fa 0 1.9px,#484ff2 0 3.8px,#422fc1 0 5.1px,#0000 0 5.7px,#4433cc 0 7.0px,#0000 0 7.6px,#463de0 0 8.3px,#3a74fe 0 10.2px,#475bf9 0 11.5px,#4849ed 0 12.1px,#23a1e5 0 12.7px,#347afd 0 13.4px,#463de0 0 15.9px,#475bf9 0 17.8px,#4743e7 0 19.7px,#2f80fa 0 21.7px,#463de0 0 22.3px,#4433cc 0 22.9px,#0000 0 23.6px,#4743e7 0 25.5px,#1caadf 0 27.4px,#4661fc 0 28.0px,#475bf9 0 28.7px,#4755f6 0 29.3px,#484ff2 0 31.2px,#4743e7 0 32.5px,#406dfe 0 39.5px,#2d8cf3 0 44.6px,#406dfe 0 50.3px,#484ff2 0 51.0px,#1caadf 0 52.2px,#463de0 0 52.9px,#0000 0 53.5px,#4538d7 0 54.8px,#4661fc 0 55.4px,#463de0 0 56.1px,#4743e7 0 57.3px,#4433cc 0 58.6px,#4849ed 0 60.5px,#4743e7 0 61.2px,#484ff2 0 62.4px,#463de0 0 63.1px,#484ff2 0 64.3px,#475bf9 0 65.0px,#463de0 0 65.6px,#4743e7 0 66.2px,#4538d7 0 66.9px,#4367fd 0 68.2px,#23a1e5 0 69.4px,#4367fd 0 72.6px,#406dfe 0 74.5px,#2e86f7 0 75.2px,#484ff2 0 75.8px,#4538d7 0 77.7px,#4849ed 0 79.6px,#4433cc 0 81.5px,#4743e7 0 82.2px,#4367fd 0 83.4px,#4538d7 0 84.1px,#475bf9 0 84.7px,#4743e7 0 86.0px,#4538d7 0 86.6px,#0000 0 87.3px,#4755f6 0 87.9px,#4849ed 0 88.5px,#3a74fe 0 89.2px,#4661fc 0 90.5px,#4367fd 0 91.1px,#2d8cf3 0 91.7px,#4849ed 0 93.0px,#4743e7 0 94.9px,#0000 0 97.5px,#4849ed 0 101.3px,#4433cc 0 101.9px,#4755f6 0 102.6px,#4433cc 0 103.2px,#4538d7 0 105.1px,#475bf9 0 105.7px,#463de0 0 106.4px,#3a74fe 0 107.0px,#475bf9 0 107.7px,#4743e7 0 108.9px,#4849ed 0 109.6px,#2d8cf3 0 111.5px,#4367fd 0 112.1px,#4661fc 0 112.8px,#463de0 0 115.3px,#422fc1 0 115.9px,#1caadf 0 117.2px,#4538d7 0 117.8px,#4433cc 0 118.5px,#0000 0 119.1px,#4743e7 0 119.8px,#4433cc 0 121.7px,#4755f6 0 122.3px,#463de0 0 122.9px,#4538d7 0 123.6px,#484ff2 0 124.2px,#4661fc 0 124.9px,#475bf9 0 127.4px,#463de0 0 128.0px,#2d8cf3 0 129.3px,#463de0 0 129.9px,#4743e7 0 130.6px,#4538d7 0 132.5px,#4755f6 0 135.0px,#2d8cf3 0 136.3px,#4661fc 0 137.0px,#2797eb 0 137.6px,#4743e7 0 138.2px,#4755f6 0 138.9px,#406dfe 0 139.5px,#4433cc 0 140.1px,#4367fd 0 142.1px,#0000 0 142.7px,#4538d7 0 144.6px,#484ff2 0 145.2px,#2b91ef 0 146.5px,#406dfe 0 147.1px,#3a74fe 0 148.4px,#4367fd 0 149.7px,#4661fc 0 151.6px,#347afd 0 152.2px,#4755f6 0 154.2px,#463de0 0 155.4px,#4538d7 0 156.7px,#422fc1 0 157.3px,#4538d7 0 158.0px,#2e86f7 0 158.6px,#406dfe 0 159.9px,#4849ed 0 162.4px,#2d8cf3 0 163.7px,#4367fd 0 164.3px,#23a1e5 0 165.6px,#4849ed 0 166.3px,#4433cc 0 166.9px,#4755f6 0 168.8px,#4433cc 0 171.4px,#4538d7 0 172.6px,#4433cc 0 173.9px,#4743e7 0 175.2px,#484ff2 0 175.8px,#4849ed 0 177.7px,#484ff2 0 180.3px,#4743e7 0 180.9px,#4538d7 0 181.5px,#4661fc 0 183.5px,#463de0 0 184.1px,#475bf9 0 184.7px,#4538d7 0 185.4px,#463de0 0 186.0px,#0000 0)"></div>
<div class="b" style="left:535.2px;top:512.7px;width:186.0px;height:210.4px;opacity:0.40;background:linear-gradient(to bottom,#484ff2 0 0.7px,#23a1e5 0 1.4px,#2f80fa 0 2.2px,#484ff2 0 4.3px,#422fc1 0 5.8px,#0000 0 6.5px,#4433cc 0 7.9px,#0000 0 8.6px,#463de0 0 9.4px,#3a74fe 0 11.5px,#475bf9 0 13.0px,#4849ed 0 13.7px,#23a1e5 0 14.4px,#347afd 0 15.1px,#463de0 0 18.0px,#475bf9 0 20.2px,#4743e7 0 22.3px,#2f80fa 0 24.5px,#463de0 0 25.2px,#4433cc 0 25.9px,#0000 0 26.7px,#4743e7 0 28.8px,#1caadf 0 31.0px,#4661fc 0 31.7px,#475bf9 0 32.4px,#4755f6 0 33.2px,#484ff2 0 35.3px,#4743e7 0 36.8px,#406dfe 0 44.7px,#2d8cf3 0 50.4px,#406dfe 0 56.9px,#484ff2 0 57.7px,#1caadf 0 59.1px,#463de0 0 59.8px,#0000 0 60.5px,#4538d7 0 62.0px,#4661fc 0 62.7px,#463de0 0 63.4px,#4743e7 0 64.9px,#4433cc 0 66.3px,#4849ed 0 68.5px,#4743e7 0 69.2px,#484ff2 0 70.6px,#463de0 0 71.3px,#484ff2 0 72.8px,#475bf9 0 73.5px,#463de0 0 74.2px,#4743e7 0 75.0px,#4538d7 0 75.7px,#4367fd 0 77.1px,#23a1e5 0 78.6px,#4367fd 0 82.2px,#406dfe 0 84.3px,#2e86f7 0 85.0px,#484ff2 0 85.8px,#4538d7 0 87.9px,#4849ed 0 90.1px,#4433cc 0 92.2px,#4743e7 0 93.0px,#4367fd 0 94.4px,#4538d7 0 95.1px,#475bf9 0 95.9px,#4743e7 0 97.3px,#4538d7 0 98.0px,#0000 0 98.7px,#4755f6 0 99.5px,#4849ed 0 100.2px,#3a74fe 0 100.9px,#4661fc 0 102.3px,#4367fd 0 103.1px,#2d8cf3 0 103.8px,#4849ed 0 105.2px,#4743e7 0 107.4px,#0000 0 110.3px,#4849ed 0 114.6px,#4433cc 0 115.3px,#4755f6 0 116.0px,#4433cc 0 116.8px,#4538d7 0 118.9px,#475bf9 0 119.6px,#463de0 0 120.4px,#3a74fe 0 121.1px,#475bf9 0 121.8px,#4743e7 0 123.2px,#4849ed 0 124.0px,#2d8cf3 0 126.1px,#4367fd 0 126.8px,#4661fc 0 127.6px,#463de0 0 130.4px,#422fc1 0 131.2px,#1caadf 0 132.6px,#4538d7 0 133.3px,#4433cc 0 134.0px,#0000 0 134.8px,#4743e7 0 135.5px,#4433cc 0 137.7px,#4755f6 0 138.4px,#463de0 0 139.1px,#4538d7 0 139.8px,#484ff2 0 140.5px,#4661fc 0 141.3px,#475bf9 0 144.1px,#463de0 0 144.9px,#2d8cf3 0 146.3px,#463de0 0 147.0px,#4743e7 0 147.7px,#4538d7 0 149.9px,#4755f6 0 152.8px,#2d8cf3 0 154.2px,#4661fc 0 154.9px,#2797eb 0 155.7px,#4743e7 0 156.4px,#4755f6 0 157.1px,#406dfe 0 157.8px,#4433cc 0 158.6px,#4367fd 0 160.7px,#0000 0 161.4px,#4538d7 0 163.6px,#484ff2 0 164.3px,#2b91ef 0 165.8px,#406dfe 0 166.5px,#3a74fe 0 167.9px,#4367fd 0 169.4px,#4661fc 0 171.5px,#347afd 0 172.2px,#4755f6 0 174.4px,#463de0 0 175.8px,#4538d7 0 177.3px,#422fc1 0 178.0px,#4538d7 0 178.7px,#2e86f7 0 179.5px,#406dfe 0 180.9px,#4849ed 0 183.8px,#2d8cf3 0 185.2px,#4367fd 0 185.9px,#23a1e5 0 187.4px,#4849ed 0 188.1px,#4433cc 0 188.8px,#4755f6 0 191.0px,#4433cc 0 193.9px,#4538d7 0 195.3px,#4433cc 0 196.7px,#4743e7 0 198.2px,#484ff2 0 198.9px,#4849ed 0 201.1px,#484ff2 0 204.0px,#4743e7 0 204.7px,#4538d7 0 205.4px,#4661fc 0 207.6px,#463de0 0 208.3px,#475bf9 0 209.0px,#4538d7 0 209.7px,#463de0 0 210.4px,#0000 0)"></div>
<div class="b" style="left:535.2px;top:512.7px;width:186.0px;height:210.4px;background:linear-gradient(to right,#0000 0 32.5px,#f9fb15 0 39.5px,#0000 0 44.6px,#f9fb15 0 50.3px,#0000 0 69.4px,#f9fb15 0 72.6px,#0000 0 140.1px,#f9fb15 0 142.1px,#0000 0 181.5px,#f9fb15 0 183.5px,#0000 0);-webkit-mask-image:linear-gradient(to bottom,#0000 0 0.7px,#000 0 2.2px,#0000 0 9.4px,#000 0 13.0px,#0000 0 13.7px,#000 0 15.1px,#0000 0 18.0px,#000 0 20.2px,#0000 0 22.3px,#000 0 24.5px,#0000 0 28.8px,#000 0 33.2px,#0000 0 36.8px,#000 0 56.9px,#0000 0 57.7px,#000 0 59.1px,#0000 0 62.0px,#000 0 62.7px,#0000 0 66.3px,#000 0 68.5px,#0000 0 72.8px,#000 0 73.5px,#0000 0 75.7px,#000 0 85.0px,#0000 0 93.0px,#000 0 94.4px,#0000 0 95.1px,#000 0 95.9px,#0000 0 98.7px,#000 0 99.5px,#0000 0 100.2px,#000 0 105.2px,#0000 0 111.0px,#000 0 114.6px,#0000 0 115.3px,#000 0 116.0px,#0000 0 118.9px,#000 0 119.6px,#0000 0 120.4px,#000 0 121.8px,#0000 0 124.0px,#000 0 127.6px,#0000 0 131.2px,#000 0 132.6px,#0000 0 137.7px,#000 0 138.4px,#0000 0 140.5px,#000 0 144.1px,#0000 0 144.9px,#000 0 146.3px,#0000 0 149.9px,#000 0 155.7px,#0000 0 156.4px,#000 0 157.8px,#0000 0 158.6px,#000 0 160.7px,#0000 0 164.3px,#000 0 174.4px,#0000 0 178.7px,#000 0 180.9px,#0000 0 183.8px,#000 0 187.4px,#0000 0 188.8px,#000 0 191.0px,#0000 0 205.4px,#000 0 207.6px,#0000 0 208.3px,#000 0 209.0px,#0000 0)"></div>
<div class="b" style="left:535.2px;top:512.7px;width:186.0px;height:210.4px;background:linear-gradient(to bottom,#0000 0 36.8px,#f9fb15 0 44.7px,#0000 0 50.4px,#f9fb15 0 56.9px,#0000 0 78.6px,#f9fb15 0 82.2px,#0000 0 158.6px,#f9fb15 0 160.7px,#0000 0 205.4px,#f9fb15 0 207.6px,#0000 0);-webkit-mask-image:linear-gradient(to right,#0000 0 0.6px,#000 0 1.9px,#0000 0 8.3px,#000 0 11.5px,#0000 0 12.1px,#000 0 13.4px,#0000 0 15.9px,#000 0 17.8px,#0000 0 19.7px,#000 0 21.7px,#0000 0 25.5px,#000 0 29.3px,#0000 0 32.5px,#000 0 50.3px,#0000 0 51.0px,#000 0 52.2px,#0000 0 54.8px,#000 0 55.4px,#0000 0 58.6px,#000 0 60.5px,#0000 0 64.3px,#000 0 65.0px,#0000 0 66.9px,#000 0 75.2px,#0000 0 82.2px,#000 0 83.4px,#0000 0 84.1px,#000 0 84.7px,#0000 0 87.3px,#000 0 87.9px,#0000 0 88.5px,#000 0 93.0px,#0000 0 98.1px,#000 0 101.3px,#0000 0 101.9px,#000 0 102.6px,#0000 0 105.1px,#000 0 105.7px,#0000 0 106.4px,#000 0 107.7px,#0000 0 109.6px,#000 0 112.8px,#0000 0 115.9px,#000 0 117.2px,#0000 0 121.7px,#000 0 122.3px,#0000 0 124.2px,#000 0 127.4px,#0000 0 128.0px,#000 0 129.3px,#0000 0 132.5px,#000 0 137.6px,#0000 0 138.2px,#000 0 139.5px,#0000 0 140.1px,#000 0 142.1px,#0000 0 145.2px,#000 0 154.2px,#0000 0 158.0px,#000 0 159.9px,#0000 0 162.4px,#000 0 165.6px,#0000 0 166.9px,#000 0 168.8px,#0000 0 181.5px,#000 0 183.5px,#0000 0 184.1px,#000 0 184.7px,#0000 0)"></div>
<div class="b" style="left:535.2px;top:512.7px;width:186.0px;height:210.4px;background:linear-gradient(to right,#0000 0 28.0px,#f9fb15 0 28.7px,#0000 0 58.6px,#f9fb15 0 60.5px,#0000 0 64.3px,#f9fb15 0 65.0px,#0000 0 84.1px,#f9fb15 0 84.7px,#0000 0 87.3px,#f9fb15 0 87.9px,#0000 0 91.7px,#f9fb15 0 93.0px,#0000 0 98.1px,#f9fb15 0 101.3px,#0000 0 184.1px,#f9fb15 0 184.7px,#0000 0);-webkit-mask-image:linear-gradient(to bottom,#0000 0 31.7px,#000 0 32.4px,#0000 0 36.8px,#000 0 44.7px,#0000 0 50.4px,#000 0 56.9px,#0000 0 66.3px,#000 0 68.5px,#0000 0 72.8px,#000 0 73.5px,#0000 0 78.6px,#000 0 82.2px,#0000 0 95.1px,#000 0 95.9px,#0000 0 98.7px,#000 0 99.5px,#0000 0 103.8px,#000 0 105.2px,#0000 0 111.0px,#000 0 114.6px,#0000 0 158.6px,#000 0 160.7px,#0000 0 205.4px,#000 0 207.6px,#0000 0 208.3px,#000 0 209.0px,#0000 0)"></div>
<div class="b" style="left:535.2px;top:512.7px;width:186.0px;height:210.4px;background:linear-gradient(to bottom,#0000 0 31.7px,#f9fb15 0 32.4px,#0000 0 66.3px,#f9fb15 0 68.5px,#0000 0 72.8px,#f9fb15 0 73.5px,#0000 0 95.1px,#f9fb15 0 95.9px,#0000 0 98.7px,#f9fb15 0 99.5px,#0000 0 103.8px,#f9fb15 0 105.2px,#0000 0 111.0px,#f9fb15 0 114.6px,#0000 0 208.3px,#f9fb15 0 209.0px,#0000 0);-webkit-mask-image:linear-gradient(to right,#0000 0 28.0px,#000 0 28.7px,#0000 0 32.5px,#000 0 39.5px,#0000 0 44.6px,#000 0 50.3px,#0000 0 58.6px,#000 0 60.5px,#0000 0 64.3px,#000 0 65.0px,#0000 0 69.4px,#000 0 72.6px,#0000 0 84.1px,#000 0 84.7px,#0000 0 87.3px,#000 0 87.9px,#0000 0 91.7px,#000 0 93.0px,#0000 0 98.1px,#000 0 101.3px,#0000 0 140.1px,#000 0 142.1px,#0000 0 181.5px,#000 0 183.5px,#0000 0 184.1px,#000 0 184.7px,#0000 0)"></div>
<div class="b" style="left:721.2px;top:512.7px;width:179.0px;height:210.4px;background:linear-gradient(to right,#4755f6 0 1.3px,#0000 0 21.0px,#422fc1 0 22.9px,#0000 0 24.2px,#4433cc 0 24.8px,#0000 0 31.9px,#4433cc 0 33.1px,#0000 0 33.8px,#422fc1 0 34.4px,#0000 0 38.2px,#422fc1 0 39.5px,#0000 0 42.0px,#4433cc 0 44.0px,#0000 0 57.3px,#4433cc 0 58.6px,#0000 0 67.5px,#4538d7 0 69.4px,#475bf9 0 70.1px,#422fc1 0 71.3px,#0000 0 73.9px,#422fc1 0 74.5px,#0000 0 79.6px,#4433cc 0 82.2px,#0000 0 86.0px,#463de0 0 87.3px,#0000 0 91.1px,#422fc1 0 91.7px,#463de0 0 92.4px,#0000 0 94.3px,#422fc1 0 96.2px,#4538d7 0 96.8px,#0000 0 98.7px,#4743e7 0 99.4px,#4538d7 0 100.0px,#0000 0 103.2px,#422fc1 0 103.8px,#0000 0 113.4px,#4538d7 0 115.3px,#4433cc 0 116.6px,#0000 0 124.2px,#463de0 0 125.5px,#0000 0 128.7px,#4433cc 0 129.3px,#0000 0 142.7px,#4433cc 0 144.0px,#0000 0 150.3px,#4433cc 0 151.0px,#0000 0 151.6px,#422fc1 0 152.2px,#0000 0 153.5px,#4433cc 0 154.2px,#463de0 0 156.1px,#0000 0 156.7px,#422fc1 0 157.3px,#0000 0 165.6px,#4433cc 0 166.3px,#0000 0 170.1px,#422fc1 0 170.7px,#0000 0 176.5px,#422fc1 0 179.0px,#0000 0);-webkit-mask-image:linear-gradient(to bottom,#000 0 3.6px,#0000 0 13.7px,#000 0 15.1px,#0000 0 26.7px,#000 0 27.4px,#0000 0 28.1px,#000 0 32.4px,#0000 0 36.8px,#000 0 56.9px,#0000 0 57.7px,#000 0 59.1px,#0000 0 63.4px,#000 0 64.9px,#0000 0 66.3px,#000 0 68.5px,#0000 0 69.2px,#000 0 71.3px,#0000 0 72.1px,#000 0 75.0px,#0000 0 75.7px,#000 0 82.2px,#0000 0 92.2px,#000 0 94.4px,#0000 0 100.9px,#000 0 101.6px,#0000 0 103.8px,#000 0 105.2px,#0000 0 111.0px,#000 0 114.6px,#0000 0 115.3px,#000 0 116.0px,#0000 0 120.4px,#000 0 121.8px,#0000 0 123.2px,#000 0 126.1px,#0000 0 131.2px,#000 0 132.6px,#0000 0 140.5px,#000 0 141.3px,#0000 0 144.9px,#000 0 146.3px,#0000 0 152.1px,#000 0 155.7px,#0000 0 158.6px,#000 0 160.7px,#0000 0 164.3px,#000 0 166.5px,#0000 0 170.8px,#000 0 175.8px,#0000 0 179.5px,#000 0 180.9px,#0000 0 183.8px,#000 0 188.1px,#0000 0 205.4px,#000 0 207.6px,#0000 0)"></div>
<div class="b" style="left:721.2px;top:512.7px;width:179.0px;height:210.4px;opacity:0.90;background:linear-gradient(to bottom,#4433cc 0 1.4px,#0000 0 28.1px,#422fc1 0 28.8px,#4433cc 0 31.0px,#0000 0 36.8px,#484ff2 0 44.7px,#4538d7 0 50.4px,#484ff2 0 56.9px,#0000 0 57.7px,#4433cc 0 59.1px,#0000 0 66.3px,#4849ed 0 68.5px,#0000 0 69.2px,#4433cc 0 70.6px,#0000 0 76.4px,#422fc1 0 77.1px,#0000 0 78.6px,#475bf9 0 82.2px,#0000 0 103.8px,#4433cc 0 105.2px,#0000 0 111.0px,#475bf9 0 114.6px,#0000 0 120.4px,#422fc1 0 121.8px,#0000 0 123.2px,#422fc1 0 124.0px,#4433cc 0 126.1px,#0000 0 131.2px,#4433cc 0 132.6px,#0000 0 144.9px,#422fc1 0 146.3px,#0000 0 152.1px,#422fc1 0 154.2px,#4433cc 0 154.9px,#0000 0 158.6px,#4367fd 0 160.7px,#0000 0 170.8px,#422fc1 0 172.2px,#0000 0 173.7px,#4433cc 0 175.8px,#0000 0 179.5px,#422fc1 0 180.2px,#0000 0 183.8px,#422fc1 0 185.2px,#4433cc 0 185.9px,#0000 0 205.4px,#4755f6 0 207.6px,#0000 0);-webkit-mask-image:linear-gradient(to right,#000 0 1.3px,#0000 0 8.9px,#000 0 10.2px,#0000 0 11.5px,#000 0 12.1px,#0000 0 14.7px,#000 0 16.6px,#0000 0 17.8px,#000 0 18.5px,#0000 0 20.4px,#000 0 22.9px,#0000 0 23.6px,#000 0 27.4px,#0000 0 28.7px,#000 0 29.3px,#0000 0 30.6px,#000 0 31.2px,#0000 0 31.9px,#000 0 34.4px,#0000 0 38.2px,#000 0 39.5px,#0000 0 41.4px,#000 0 44.0px,#0000 0 47.1px,#000 0 48.4px,#0000 0 56.1px,#000 0 58.6px,#0000 0 63.7px,#000 0 64.3px,#0000 0 65.0px,#000 0 65.6px,#0000 0 66.2px,#000 0 71.3px,#0000 0 72.6px,#000 0 77.1px,#0000 0 79.0px,#000 0 83.4px,#0000 0 84.7px,#000 0 93.0px,#0000 0 94.3px,#000 0 100.6px,#0000 0 103.2px,#000 0 105.7px,#0000 0 106.4px,#000 0 108.3px,#0000 0 108.9px,#000 0 116.6px,#0000 0 119.1px,#000 0 126.1px,#0000 0 128.0px,#000 0 129.3px,#0000 0 131.2px,#000 0 133.1px,#0000 0 133.8px,#000 0 135.7px,#0000 0 137.0px,#000 0 139.5px,#0000 0 142.7px,#000 0 144.6px,#0000 0 146.5px,#000 0 151.0px,#0000 0 151.6px,#000 0 152.2px,#0000 0 152.9px,#000 0 156.1px,#0000 0 156.7px,#000 0 157.3px,#0000 0 165.6px,#000 0 168.2px,#0000 0 169.4px,#000 0 171.4px,#0000 0 175.8px,#000 0 179.0px,#0000 0)"></div>
<div class="b" style="left:900.2px;top:512.7px;width:361.8px;height:210.4px;background:linear-gradient(to right,#0000 0 3.2px,#422fc1 0 3.8px,#0000 0 5.1px,#422fc1 0 7.0px,#4433cc 0 7.6px,#0000 0 14.0px,#422fc1 0 14.7px,#4849ed 0 16.6px,#4433cc 0 17.2px,#0000 0 19.7px,#4433cc 0 21.7px,#0000 0 22.3px,#4433cc 0 22.9px,#0000 0 26.1px,#4433cc 0 26.8px,#0000 0 37.6px,#4433cc 0 39.5px,#0000 0 43.3px,#4433cc 0 44.0px,#0000 0 48.4px,#422fc1 0 50.3px,#0000 0 52.9px,#4743e7 0 53.5px,#4849ed 0 54.1px,#4743e7 0 55.4px,#422fc1 0 56.1px,#0000 0 63.1px,#422fc1 0 63.7px,#0000 0 66.2px,#4538d7 0 66.9px,#0000 0 71.3px,#4433cc 0 72.0px,#0000 0 74.5px,#4538d7 0 77.1px,#0000 0 79.6px,#422fc1 0 80.3px,#4849ed 0 80.9px,#0000 0 81.5px,#3a74fe 0 83.4px,#0000 0 84.7px,#4538d7 0 86.6px,#0000 0 97.5px,#4433cc 0 98.7px,#0000 0 101.3px,#422fc1 0 101.9px,#0000 0 105.7px,#422fc1 0 106.4px,#0000 0 111.5px,#422fc1 0 112.1px,#0000 0 114.7px,#4538d7 0 117.8px,#0000 0 123.6px,#4433cc 0 125.5px,#422fc1 0 126.1px,#463de0 0 128.0px,#4538d7 0 128.7px,#4433cc 0 129.3px,#463de0 0 130.6px,#4743e7 0 131.2px,#4538d7 0 132.5px,#0000 0 136.3px,#463de0 0 138.2px,#4433cc 0 139.5px,#0000 0 143.3px,#4538d7 0 144.0px,#484ff2 0 144.6px,#463de0 0 145.2px,#4433cc 0 145.9px,#0000 0 152.2px,#422fc1 0 152.9px,#0000 0 157.3px,#422fc1 0 158.0px,#4433cc 0 158.6px,#422fc1 0 159.3px,#4433cc 0 159.9px,#0000 0 168.2px,#4433cc 0 169.4px,#0000 0 173.9px,#4433cc 0 174.5px,#0000 0 180.3px,#4433cc 0 182.8px,#0000 0 189.2px,#422fc1 0 189.8px,#0000 0 192.4px,#463de0 0 193.0px,#0000 0 195.6px,#422fc1 0 196.8px,#4433cc 0 198.7px,#0000 0 201.9px,#422fc1 0 202.6px,#0000 0 205.1px,#4433cc 0 206.4px,#0000 0 207.7px,#422fc1 0 208.9px,#0000 0 210.2px,#4433cc 0 213.4px,#0000 0 214.0px,#4538d7 0 216.6px,#0000 0 219.8px,#463de0 0 221.0px,#0000 0 224.2px,#4433cc 0 224.9px,#4538d7 0 225.5px,#4433cc 0 228.0px,#0000 0 238.9px,#422fc1 0 239.5px,#4538d7 0 240.2px,#422fc1 0 242.7px,#0000 0 244.6px,#422fc1 0 245.2px,#4849ed 0 246.5px,#0000 0 252.3px,#4433cc 0 252.9px,#422fc1 0 254.8px,#0000 0 258.6px,#4433cc 0 260.5px,#0000 0 265.0px,#4433cc 0 267.5px,#0000 0 273.9px,#4849ed 0 275.8px,#463de0 0 277.1px,#4433cc 0 279.0px,#0000 0 279.6px,#4433cc 0 280.9px,#0000 0 304.5px,#4538d7 0 305.1px,#4433cc 0 305.8px,#0000 0 306.4px,#422fc1 0 307.7px,#0000 0 311.5px,#4433cc 0 312.1px,#0000 0 312.8px,#4433cc 0 314.7px,#0000 0 315.3px,#4433cc 0 318.5px,#422fc1 0 319.8px,#0000 0 332.5px,#422fc1 0 333.2px,#4538d7 0 333.8px,#4433cc 0 336.3px,#0000 0 340.2px,#463de0 0 341.4px,#0000 0 343.3px,#463de0 0 344.6px,#475bf9 0 345.3px,#4433cc 0 346.5px,#0000 0 351.6px,#4433cc 0 352.3px,#0000 0 352.9px,#422fc1 0 353.5px,#0000 0 356.1px,#422fc1 0 356.7px,#0000 0);-webkit-mask-image:linear-gradient(to bottom,#000 0 1.4px,#0000 0 3.6px,#000 0 4.3px,#0000 0 11.5px,#000 0 13.0px,#0000 0 18.0px,#000 0 20.9px,#0000 0 22.3px,#000 0 24.5px,#0000 0 26.7px,#000 0 32.4px,#0000 0 35.3px,#000 0 56.9px,#0000 0 57.7px,#000 0 59.1px,#0000 0 62.0px,#000 0 62.7px,#0000 0 66.3px,#000 0 68.5px,#0000 0 76.4px,#000 0 77.1px,#0000 0 78.6px,#000 0 82.2px,#0000 0 103.1px,#000 0 105.2px,#0000 0 107.4px,#000 0 109.5px,#0000 0 111.0px,#000 0 114.6px,#0000 0 115.3px,#000 0 116.0px,#0000 0 116.8px,#000 0 118.9px,#0000 0 125.4px,#000 0 129.0px,#0000 0 131.2px,#000 0 132.6px,#0000 0 137.7px,#000 0 138.4px,#0000 0 144.9px,#000 0 146.3px,#0000 0 147.7px,#000 0 152.1px,#0000 0 152.8px,#000 0 154.2px,#0000 0 158.6px,#000 0 160.7px,#0000 0 163.6px,#000 0 167.9px,#0000 0 171.5px,#000 0 173.0px,#0000 0 178.0px,#000 0 180.9px,#0000 0 183.1px,#000 0 185.2px,#0000 0 198.9px,#000 0 201.1px,#0000 0 205.4px,#000 0 207.6px,#0000 0)"></div>
<div class="b" style="left:900.2px;top:512.7px;width:361.8px;height:210.4px;opacity:0.90;background:linear-gradient(to bottom,#4433cc 0 0.7px,#422fc1 0 1.4px,#0000 0 3.6px,#4433cc 0 4.3px,#0000 0 11.5px,#422fc1 0 13.0px,#0000 0 18.0px,#422fc1 0 20.9px,#0000 0 22.3px,#422fc1 0 24.5px,#0000 0 26.7px,#4433cc 0 28.1px,#422fc1 0 28.8px,#4433cc 0 32.4px,#0000 0 35.3px,#4433cc 0 36.8px,#406dfe 0 44.7px,#4743e7 0 50.4px,#406dfe 0 56.9px,#0000 0 57.7px,#4433cc 0 59.1px,#0000 0 62.0px,#4433cc 0 62.7px,#0000 0 66.3px,#4367fd 0 68.5px,#0000 0 76.4px,#484ff2 0 77.1px,#0000 0 78.6px,#347afd 0 82.2px,#0000 0 103.1px,#4433cc 0 103.8px,#4538d7 0 105.2px,#0000 0 107.4px,#422fc1 0 108.1px,#4433cc 0 109.5px,#0000 0 111.0px,#347afd 0 114.6px,#0000 0 115.3px,#422fc1 0 116.0px,#0000 0 116.8px,#422fc1 0 118.9px,#0000 0 125.4px,#4538d7 0 126.1px,#4433cc 0 126.8px,#4538d7 0 127.6px,#4433cc 0 128.3px,#463de0 0 129.0px,#0000 0 131.2px,#4743e7 0 132.6px,#0000 0 137.7px,#4433cc 0 138.4px,#0000 0 144.9px,#422fc1 0 146.3px,#0000 0 147.7px,#4433cc 0 149.9px,#4538d7 0 152.1px,#0000 0 152.8px,#422fc1 0 154.2px,#0000 0 158.6px,#259ce7 0 160.7px,#0000 0 163.6px,#4433cc 0 165.8px,#463de0 0 167.2px,#422fc1 0 167.9px,#0000 0 171.5px,#4743e7 0 172.2px,#4433cc 0 173.0px,#0000 0 178.0px,#4538d7 0 180.9px,#0000 0 183.1px,#4433cc 0 183.8px,#422fc1 0 185.2px,#0000 0 198.9px,#4433cc 0 200.4px,#422fc1 0 201.1px,#0000 0 205.4px,#347afd 0 207.6px,#0000 0);-webkit-mask-image:linear-gradient(to right,#0000 0 0.6px,#000 0 1.9px,#0000 0 3.2px,#000 0 3.8px,#0000 0 5.1px,#000 0 8.9px,#0000 0 12.1px,#000 0 13.4px,#0000 0 14.0px,#000 0 19.1px,#0000 0 19.7px,#000 0 22.9px,#0000 0 26.1px,#000 0 28.0px,#0000 0 29.3px,#000 0 33.1px,#0000 0 33.8px,#000 0 34.4px,#0000 0 36.3px,#000 0 39.5px,#0000 0 42.7px,#000 0 44.0px,#0000 0 47.1px,#000 0 47.8px,#0000 0 48.4px,#000 0 51.0px,#0000 0 52.2px,#000 0 56.1px,#0000 0 62.4px,#000 0 63.7px,#0000 0 65.6px,#000 0 72.6px,#0000 0 74.5px,#000 0 77.7px,#0000 0 79.6px,#000 0 80.9px,#0000 0 81.5px,#000 0 83.4px,#0000 0 84.7px,#000 0 87.3px,#0000 0 94.3px,#000 0 94.9px,#0000 0 97.5px,#000 0 98.7px,#0000 0 101.3px,#000 0 104.5px,#0000 0 105.7px,#000 0 106.4px,#0000 0 109.6px,#000 0 112.1px,#0000 0 114.7px,#000 0 118.5px,#0000 0 123.6px,#000 0 135.7px,#0000 0 136.3px,#000 0 141.4px,#0000 0 143.3px,#000 0 145.9px,#0000 0 147.8px,#000 0 155.4px,#0000 0 157.3px,#000 0 159.9px,#0000 0 163.1px,#000 0 166.3px,#0000 0 168.2px,#000 0 170.7px,#0000 0 172.0px,#000 0 176.5px,#0000 0 179.0px,#000 0 182.8px,#0000 0 189.2px,#000 0 189.8px,#0000 0 192.4px,#000 0 193.0px,#0000 0 195.6px,#000 0 200.0px,#0000 0 201.9px,#000 0 204.5px,#0000 0 205.1px,#000 0 206.4px,#0000 0 207.7px,#000 0 208.9px,#0000 0 209.6px,#000 0 213.4px,#0000 0 214.0px,#000 0 216.6px,#0000 0 218.5px,#000 0 221.7px,#0000 0 223.0px,#000 0 230.6px,#0000 0 238.9px,#000 0 242.7px,#0000 0 244.6px,#000 0 247.2px,#0000 0 252.3px,#000 0 256.1px,#0000 0 258.6px,#000 0 260.5px,#0000 0 261.2px,#000 0 263.1px,#0000 0 264.4px,#000 0 267.5px,#0000 0 273.9px,#000 0 281.6px,#0000 0 285.4px,#000 0 288.6px,#0000 0 294.9px,#000 0 295.6px,#0000 0 299.4px,#000 0 303.2px,#0000 0 303.9px,#000 0 305.8px,#0000 0 306.4px,#000 0 307.7px,#0000 0 311.5px,#000 0 312.1px,#0000 0 312.8px,#000 0 320.4px,#0000 0 321.7px,#000 0 322.3px,#0000 0 327.4px,#000 0 328.7px,#0000 0 330.0px,#000 0 336.3px,#0000 0 340.2px,#000 0 346.5px,#0000 0 347.2px,#000 0 347.8px,#0000 0 351.0px,#000 0 354.2px,#0000 0 356.1px,#000 0 357.4px,#0000 0 359.3px,#000 0 361.2px,#0000 0)"></div>
<div class="b" style="left:900.2px;top:512.7px;width:361.8px;height:210.4px;background:linear-gradient(to right,#0000 0 81.5px,#f9fb15 0 83.4px,#0000 0);-webkit-mask-image:linear-gradient(to bottom,#000 0 7.9px,#0000 0 8.6px,#000 0 56.9px,#0000 0 57.7px,#000 0 59.8px,#0000 0 61.3px,#000 0 64.9px,#0000 0 65.6px,#000 0 71.3px,#0000 0 76.4px,#000 0 82.2px,#0000 0 84.3px,#000 0 87.9px,#0000 0 89.4px,#000 0 94.4px,#0000 0 96.6px,#000 0 97.3px,#0000 0 102.3px,#000 0 114.6px,#0000 0 115.3px,#000 0 116.0px,#0000 0 116.8px,#000 0 119.6px,#0000 0 120.4px,#000 0 121.1px,#0000 0 122.5px,#000 0 129.7px,#0000 0 131.2px,#000 0 134.0px,#0000 0 137.7px,#000 0 139.1px,#0000 0 140.5px,#000 0 141.3px,#0000 0 144.9px,#000 0 155.7px,#0000 0 156.4px,#000 0 157.8px,#0000 0 158.6px,#000 0 160.7px,#0000 0 161.4px,#000 0 193.1px,#0000 0 195.3px,#000 0 196.0px,#0000 0 198.2px,#000 0 203.2px,#0000 0 204.0px,#000 0 208.3px,#0000 0)"></div>
<div class="b" style="left:181.0px;top:723.1px;width:177.7px;height:202.5px;background:linear-gradient(to right,#0000 0 0.6px,#4433cc 0 1.3px,#0000 0 2.5px,#4433cc 0 3.2px,#0000 0 3.8px,#4538d7 0 5.1px,#463de0 0 5.7px,#4433cc 0 7.6px,#0000 0 8.9px,#422fc1 0 10.8px,#0000 0 14.0px,#4661fc 0 15.9px,#422fc1 0 17.2px,#4849ed 0 17.8px,#463de0 0 18.5px,#0000 0 21.7px,#4755f6 0 22.3px,#0000 0 22.9px,#4367fd 0 24.8px,#0000 0 31.9px,#475bf9 0 33.1px,#4743e7 0 34.4px,#4538d7 0 35.0px,#0000 0 35.7px,#422fc1 0 36.9px,#0000 0 43.3px,#4367fd 0 45.2px,#0000 0 46.5px,#4433cc 0 47.8px,#4538d7 0 49.0px,#2b91ef 0 49.7px,#23a1e5 0 52.2px,#0000 0 55.4px,#4367fd 0 56.7px,#0000 0 57.3px,#422fc1 0 58.6px,#0000 0 60.5px,#484ff2 0 61.8px,#0000 0 62.4px,#4538d7 0 65.0px,#0000 0 66.2px,#463de0 0 66.9px,#4367fd 0 68.8px,#0000 0 69.4px,#4743e7 0 70.1px,#0000 0 73.9px,#4538d7 0 75.2px,#3a74fe 0 76.4px,#475bf9 0 78.4px,#0000 0 83.4px,#422fc1 0 84.1px,#0000 0 86.6px,#4433cc 0 87.3px,#4743e7 0 88.5px,#4538d7 0 89.8px,#4433cc 0 91.7px,#4538d7 0 92.4px,#422fc1 0 94.9px,#2e86f7 0 96.8px,#4538d7 0 98.7px,#4743e7 0 99.4px,#4538d7 0 100.0px,#0000 0 105.7px,#4367fd 0 107.0px,#4433cc 0 108.3px,#4849ed 0 114.7px,#4538d7 0 117.8px,#4433cc 0 118.5px,#2d8cf3 0 119.8px,#0000 0 120.4px,#2d8cf3 0 121.0px,#0000 0 125.5px,#4433cc 0 126.8px,#463de0 0 128.0px,#4433cc 0 128.7px,#4538d7 0 129.9px,#0000 0 131.9px,#422fc1 0 132.5px,#463de0 0 133.8px,#4433cc 0 134.4px,#422fc1 0 135.0px,#0000 0 138.2px,#484ff2 0 139.5px,#4433cc 0 140.8px,#422fc1 0 141.4px,#0000 0 142.1px,#422fc1 0 142.7px,#0000 0 144.6px,#4433cc 0 145.9px,#05b6ce 0 147.1px,#0000 0 149.1px,#422fc1 0 149.7px,#4538d7 0 150.3px,#4743e7 0 152.2px,#463de0 0 152.9px,#4849ed 0 154.2px,#1caadf 0 155.4px,#0000 0 161.2px,#4367fd 0 162.4px,#4849ed 0 163.1px,#4433cc 0 165.0px,#4743e7 0 165.6px,#4849ed 0 166.3px,#4743e7 0 166.9px,#4433cc 0 167.5px,#0000 0 168.2px,#4367fd 0 170.1px,#4538d7 0 170.7px,#422fc1 0 172.0px,#4538d7 0 172.6px,#4433cc 0 173.3px,#463de0 0 174.5px,#4433cc 0 175.8px,#422fc1 0 176.5px,#4433cc 0 177.7px,#0000 0);-webkit-mask-image:linear-gradient(to bottom,#000 0 1.4px,#0000 0 4.3px,#000 0 5.0px,#0000 0 10.8px,#000 0 35.3px,#0000 0 36.0px,#000 0 38.9px,#0000 0 41.1px,#000 0 45.4px,#0000 0 46.1px,#000 0 49.7px,#0000 0 54.1px,#000 0 55.5px,#0000 0 56.2px,#000 0 57.7px,#0000 0 63.4px,#000 0 68.5px,#0000 0 69.9px,#000 0 79.3px,#0000 0 82.2px,#000 0 113.9px,#0000 0 116.8px,#000 0 119.6px,#0000 0 120.4px,#000 0 125.4px,#0000 0 128.3px,#000 0 132.6px,#0000 0 133.3px,#000 0 134.8px,#0000 0 135.5px,#000 0 137.7px,#0000 0 139.1px,#000 0 142.0px,#0000 0 142.7px,#000 0 147.7px,#0000 0 149.2px,#000 0 152.8px,#0000 0 153.5px,#000 0 157.8px,#0000 0 160.0px,#000 0 178.7px,#0000 0 183.8px,#000 0 196.0px,#0000 0 198.9px,#000 0 202.5px,#0000 0)"></div>
<div class="b" style="left:181.0px;top:723.1px;width:177.7px;height:202.5px;opacity:0.40;background:linear-gradient(to bottom,#422fc1 0 1.4px,#0000 0 10.8px,#4433cc 0 11.5px,#0000 0 13.0px,#4538d7 0 15.9px,#4433cc 0 16.6px,#0000 0 18.7px,#422fc1 0 23.1px,#4849ed 0 24.5px,#259ce7 0 25.9px,#484ff2 0 26.7px,#4538d7 0 27.4px,#4849ed 0 28.1px,#463de0 0 31.0px,#0000 0 32.4px,#4433cc 0 33.9px,#422fc1 0 34.6px,#4743e7 0 35.3px,#0000 0 36.0px,#4433cc 0 37.5px,#422fc1 0 38.9px,#0000 0 41.1px,#4743e7 0 41.8px,#4433cc 0 43.2px,#463de0 0 44.7px,#0000 0 46.8px,#4538d7 0 47.6px,#4433cc 0 49.0px,#422fc1 0 49.7px,#0000 0 56.2px,#4433cc 0 57.7px,#0000 0 63.4px,#4538d7 0 64.9px,#4849ed 0 66.3px,#0000 0 69.9px,#4433cc 0 72.1px,#463de0 0 72.8px,#4538d7 0 73.5px,#4433cc 0 76.4px,#4849ed 0 79.3px,#0000 0 82.2px,#4849ed 0 84.3px,#4433cc 0 86.5px,#4538d7 0 87.2px,#0000 0 89.4px,#4849ed 0 90.1px,#463de0 0 91.5px,#4538d7 0 94.4px,#422fc1 0 97.3px,#4849ed 0 99.5px,#4433cc 0 102.3px,#422fc1 0 103.1px,#4743e7 0 104.5px,#4433cc 0 106.7px,#0000 0 107.4px,#4433cc 0 108.1px,#4538d7 0 108.8px,#4743e7 0 110.3px,#422fc1 0 111.0px,#463de0 0 112.4px,#4538d7 0 113.1px,#422fc1 0 113.9px,#0000 0 116.8px,#4538d7 0 117.5px,#4743e7 0 119.6px,#0000 0 120.4px,#4433cc 0 121.8px,#422fc1 0 122.5px,#0000 0 123.2px,#4433cc 0 124.7px,#422fc1 0 125.4px,#0000 0 128.3px,#463de0 0 130.4px,#4367fd 0 131.2px,#484ff2 0 131.9px,#0000 0 135.5px,#4433cc 0 137.7px,#0000 0 139.1px,#4367fd 0 141.3px,#422fc1 0 142.0px,#0000 0 142.7px,#422fc1 0 144.9px,#0000 0 145.6px,#4538d7 0 147.7px,#0000 0 149.2px,#422fc1 0 149.9px,#463de0 0 151.3px,#4849ed 0 152.1px,#4743e7 0 152.8px,#0000 0 154.9px,#422fc1 0 156.4px,#0000 0 161.4px,#422fc1 0 162.9px,#4743e7 0 164.3px,#4433cc 0 165.0px,#0000 0 167.9px,#422fc1 0 168.6px,#4433cc 0 170.1px,#4849ed 0 170.8px,#0000 0 171.5px,#4538d7 0 175.8px,#4661fc 0 178.0px,#0000 0 184.5px,#4433cc 0 185.9px,#463de0 0 186.7px,#422fc1 0 187.4px,#484ff2 0 188.8px,#475bf9 0 190.3px,#4743e7 0 193.1px,#4538d7 0 196.0px,#0000 0 198.9px,#4743e7 0 200.4px,#4849ed 0 202.5px,#0000 0);-webkit-mask-image:linear-gradient(to right,#000 0 1.3px,#0000 0 2.5px,#000 0 3.2px,#0000 0 3.8px,#000 0 7.6px,#0000 0 8.9px,#000 0 10.8px,#0000 0 14.0px,#000 0 18.5px,#0000 0 21.7px,#000 0 22.3px,#0000 0 22.9px,#000 0 24.8px,#0000 0 31.9px,#000 0 35.0px,#0000 0 35.7px,#000 0 36.9px,#0000 0 43.3px,#000 0 45.2px,#0000 0 46.5px,#000 0 52.2px,#0000 0 55.4px,#000 0 56.7px,#0000 0 57.3px,#000 0 58.6px,#0000 0 60.5px,#000 0 61.8px,#0000 0 62.4px,#000 0 65.0px,#0000 0 66.2px,#000 0 68.8px,#0000 0 69.4px,#000 0 70.1px,#0000 0 73.9px,#000 0 78.4px,#0000 0 83.4px,#000 0 84.1px,#0000 0 86.6px,#000 0 100.0px,#0000 0 105.7px,#000 0 119.8px,#0000 0 120.4px,#000 0 121.0px,#0000 0 125.5px,#000 0 129.9px,#0000 0 131.9px,#000 0 135.0px,#0000 0 138.2px,#000 0 142.7px,#0000 0 144.6px,#000 0 147.1px,#0000 0 149.1px,#000 0 155.4px,#0000 0 161.2px,#000 0 167.5px,#0000 0 168.2px,#000 0 177.7px,#0000 0)"></div>
<div class="b" style="left:181.0px;top:723.1px;width:177.7px;height:202.5px;background:linear-gradient(to right,#0000 0 14.0px,#f9fb15 0 15.9px,#0000 0 55.4px,#f9fb15 0 56.7px,#0000 0 168.2px,#f9fb15 0 170.1px,#0000 0);-webkit-mask-image:linear-gradient(to bottom,#0000 0 10.8px,#000 0 11.5px,#0000 0 13.0px,#000 0 16.6px,#0000 0 23.1px,#000 0 31.0px,#0000 0 32.4px,#000 0 33.9px,#0000 0 34.6px,#000 0 35.3px,#0000 0 36.0px,#000 0 37.5px,#0000 0 41.1px,#000 0 44.7px,#0000 0 46.8px,#000 0 49.0px,#0000 0 56.2px,#000 0 57.7px,#0000 0 63.4px,#000 0 66.3px,#0000 0 69.9px,#000 0 79.3px,#0000 0 82.2px,#000 0 87.2px,#0000 0 89.4px,#000 0 94.4px,#0000 0 97.3px,#000 0 101.6px,#0000 0 103.1px,#000 0 106.7px,#0000 0 107.4px,#000 0 110.3px,#0000 0 111.0px,#000 0 113.1px,#0000 0 116.8px,#000 0 119.6px,#0000 0 120.4px,#000 0 121.8px,#0000 0 123.2px,#000 0 124.7px,#0000 0 128.3px,#000 0 131.9px,#0000 0 135.5px,#000 0 137.7px,#0000 0 139.1px,#000 0 141.3px,#0000 0 145.6px,#000 0 147.7px,#0000 0 149.9px,#000 0 152.8px,#0000 0 162.9px,#000 0 165.0px,#0000 0 168.6px,#000 0 170.8px,#0000 0 171.5px,#000 0 178.0px,#0000 0 184.5px,#000 0 186.7px,#0000 0 187.4px,#000 0 196.0px,#0000 0 198.9px,#000 0 202.5px,#0000 0)"></div>
<div class="b" style="left:181.0px;top:723.1px;width:177.7px;height:202.5px;background:linear-gradient(to right,#0000 0 60.5px,#f9fb15 0 61.8px,#0000 0 138.2px,#f9fb15 0 139.5px,#0000 0);-webkit-mask-image:linear-gradient(to bottom,#0000 0 23.1px,#000 0 26.7px,#0000 0 27.4px,#000 0 28.1px,#0000 0 34.6px,#000 0 35.3px,#0000 0 64.9px,#000 0 66.3px,#0000 0 76.4px,#000 0 79.3px,#0000 0 82.2px,#000 0 84.3px,#0000 0 89.4px,#000 0 90.1px,#0000 0 97.3px,#000 0 99.5px,#0000 0 108.8px,#000 0 109.5px,#0000 0 117.5px,#000 0 119.6px,#0000 0 130.4px,#000 0 131.9px,#0000 0 139.1px,#000 0 141.3px,#0000 0 151.3px,#000 0 152.1px,#0000 0 170.1px,#000 0 170.8px,#0000 0 175.8px,#000 0 178.0px,#0000 0 187.4px,#000 0 190.3px,#0000 0 192.4px,#000 0 193.1px,#0000 0 198.9px,#000 0 202.5px,#0000 0)"></div>
<div class="b" style="left:358.7px;top:723.1px;width:176.5px;height:202.5px;background:linear-gradient(to right,#0000 0 19.7px,#4743e7 0 21.0px,#0000 0 26.1px,#4743e7 0 27.4px,#0000 0 31.9px,#4755f6 0 34.4px,#0000 0 43.3px,#4743e7 0 44.6px,#0000 0 64.3px,#4755f6 0 66.9px,#0000 0 70.1px,#4743e7 0 71.3px,#0000 0 75.2px,#4743e7 0 77.1px,#0000 0 78.4px,#4743e7 0 80.3px,#0000 0 123.6px,#4433cc 0 124.9px,#0000 0 131.9px,#4433cc 0 133.8px,#0000 0 156.7px,#4433cc 0 158.0px,#0000 0 163.7px,#4433cc 0 164.3px,#0000 0 166.3px,#4433cc 0 167.5px,#0000 0 173.3px,#4433cc 0 175.8px,#0000 0);-webkit-mask-image:linear-gradient(to bottom,#000 0 0.7px,#0000 0 14.4px,#000 0 15.9px,#0000 0 23.1px,#000 0 25.9px,#0000 0 27.4px,#000 0 32.4px,#0000 0 34.6px,#000 0 35.3px,#0000 0 36.0px,#000 0 37.5px,#0000 0 43.2px,#000 0 44.7px,#0000 0 46.8px,#000 0 49.7px,#0000 0 52.6px,#000 0 54.1px,#0000 0 56.9px,#000 0 57.7px,#0000 0 64.9px,#000 0 66.3px,#0000 0 69.9px,#000 0 72.8px,#0000 0 75.7px,#000 0 77.1px,#0000 0 77.8px,#000 0 79.3px,#0000 0 82.2px,#000 0 84.3px,#0000 0 85.0px,#000 0 87.2px,#0000 0 89.4px,#000 0 94.4px,#0000 0 97.3px,#000 0 99.5px,#0000 0 103.1px,#000 0 105.2px,#0000 0 109.5px,#000 0 112.4px,#0000 0 123.2px,#000 0 125.4px,#0000 0 128.3px,#000 0 131.9px,#0000 0 136.9px,#000 0 137.7px,#0000 0 139.1px,#000 0 142.0px,#0000 0 147.0px,#000 0 149.9px,#0000 0 151.3px,#000 0 153.5px,#0000 0 155.7px,#000 0 156.4px,#0000 0 170.1px,#000 0 170.8px,#0000 0 175.1px,#000 0 178.0px,#0000 0 184.5px,#000 0 186.7px,#0000 0 187.4px,#000 0 190.3px,#0000 0 191.0px,#000 0 193.9px,#0000 0 198.9px,#000 0 201.1px,#0000 0)"></div>
<div class="b" style="left:358.7px;top:723.1px;width:176.5px;height:202.5px;opacity:0.40;background:linear-gradient(to bottom,#4743e7 0 0.7px,#0000 0 27.4px,#4433cc 0 28.1px,#0000 0 29.5px,#422fc1 0 31.0px,#0000 0 43.2px,#422fc1 0 44.7px,#0000 0 52.6px,#422fc1 0 54.1px,#0000 0 77.8px,#4433cc 0 79.3px,#0000 0 91.5px,#422fc1 0 93.7px,#4538d7 0 94.4px,#0000 0 103.1px,#463de0 0 104.5px,#4433cc 0 105.2px,#0000 0 129.0px,#422fc1 0 131.9px,#0000 0 170.1px,#422fc1 0 170.8px,#0000 0 187.4px,#4433cc 0 188.8px,#0000 0 192.4px,#4433cc 0 193.1px,#0000 0 199.6px,#4433cc 0 201.1px,#0000 0);-webkit-mask-image:linear-gradient(to right,#000 0 0.6px,#0000 0 5.1px,#000 0 7.6px,#0000 0 10.2px,#000 0 12.1px,#0000 0 14.0px,#000 0 14.7px,#0000 0 17.2px,#000 0 17.8px,#0000 0 19.7px,#000 0 21.0px,#0000 0 22.3px,#000 0 24.2px,#0000 0 26.1px,#000 0 27.4px,#0000 0 29.3px,#000 0 29.9px,#0000 0 30.6px,#000 0 34.4px,#0000 0 35.7px,#000 0 40.1px,#0000 0 43.3px,#000 0 44.6px,#0000 0 47.8px,#000 0 49.0px,#0000 0 53.5px,#000 0 56.7px,#0000 0 61.2px,#000 0 63.1px,#0000 0 64.3px,#000 0 66.9px,#0000 0 70.1px,#000 0 71.3px,#0000 0 75.2px,#000 0 77.1px,#0000 0 77.7px,#000 0 80.9px,#0000 0 120.4px,#000 0 121.7px,#0000 0 123.6px,#000 0 124.9px,#0000 0 128.0px,#000 0 128.7px,#0000 0 129.3px,#000 0 130.6px,#0000 0 131.9px,#000 0 133.8px,#0000 0 138.2px,#000 0 141.4px,#0000 0 144.6px,#000 0 146.5px,#0000 0 149.1px,#000 0 152.2px,#0000 0 156.7px,#000 0 158.0px,#0000 0 162.4px,#000 0 169.4px,#0000 0 170.7px,#000 0 171.4px,#0000 0 173.3px,#000 0 175.8px,#0000 0)"></div>
<div class="b" style="left:535.2px;top:723.1px;width:186.0px;height:202.5px;background:linear-gradient(to right,#4433cc 0 1.3px,#0000 0 24.8px,#422fc1 0 25.5px,#4433cc 0 27.4px,#0000 0 32.5px,#484ff2 0 39.5px,#4538d7 0 44.6px,#484ff2 0 50.3px,#0000 0 51.0px,#4433cc 0 52.2px,#0000 0 58.6px,#4849ed 0 60.5px,#0000 0 61.2px,#4433cc 0 62.4px,#0000 0 67.5px,#422fc1 0 68.2px,#0000 0 69.4px,#475bf9 0 72.6px,#0000 0 91.7px,#4433cc 0 93.0px,#0000 0 98.1px,#475bf9 0 101.3px,#0000 0 106.4px,#422fc1 0 107.7px,#0000 0 108.9px,#422fc1 0 109.6px,#4433cc 0 111.5px,#0000 0 115.9px,#4433cc 0 117.2px,#0000 0 128.0px,#422fc1 0 129.3px,#0000 0 134.4px,#422fc1 0 136.3px,#4433cc 0 137.0px,#0000 0 140.1px,#4367fd 0 142.1px,#0000 0 151.0px,#422fc1 0 152.2px,#0000 0 153.5px,#4433cc 0 155.4px,#0000 0 158.6px,#422fc1 0 159.3px,#0000 0 162.4px,#422fc1 0 163.7px,#4433cc 0 164.3px,#0000 0 181.5px,#4755f6 0 183.5px,#0000 0);-webkit-mask-image:linear-gradient(to bottom,#000 0 1.4px,#0000 0 20.2px,#000 0 20.9px,#0000 0 23.8px,#000 0 25.9px,#0000 0 27.4px,#000 0 28.1px,#0000 0 30.3px,#000 0 31.0px,#0000 0 36.0px,#000 0 38.9px,#0000 0 43.2px,#000 0 44.7px,#0000 0 46.8px,#000 0 49.7px,#0000 0 53.3px,#000 0 54.8px,#0000 0 64.9px,#000 0 66.3px,#0000 0 75.7px,#000 0 80.7px,#0000 0 82.2px,#000 0 85.8px,#0000 0 90.1px,#000 0 93.0px,#0000 0 93.7px,#000 0 94.4px,#0000 0 97.3px,#000 0 98.7px,#0000 0 103.1px,#000 0 105.2px,#0000 0 106.7px,#000 0 113.9px,#0000 0 116.8px,#000 0 117.5px,#0000 0 120.4px,#000 0 121.8px,#0000 0 124.0px,#000 0 125.4px,#0000 0 128.3px,#000 0 131.9px,#0000 0 139.1px,#000 0 142.0px,#0000 0 145.6px,#000 0 146.3px,#0000 0 161.4px,#000 0 162.9px,#0000 0 168.6px,#000 0 169.4px,#0000 0 170.1px,#000 0 170.8px,#0000 0 171.5px,#000 0 172.2px,#0000 0 173.7px,#000 0 176.6px,#0000 0 177.3px,#000 0 178.0px,#0000 0 187.4px,#000 0 188.1px,#0000 0 192.4px,#000 0 193.1px,#0000 0 198.9px,#000 0 202.5px,#0000 0)"></div>
<div class="b" style="left:535.2px;top:723.1px;width:186.0px;height:202.5px;opacity:0.40;background:linear-gradient(to bottom,#4755f6 0 1.4px,#0000 0 23.8px,#422fc1 0 25.9px,#0000 0 27.4px,#4433cc 0 28.1px,#0000 0 36.0px,#4433cc 0 37.5px,#0000 0 38.2px,#422fc1 0 38.9px,#0000 0 43.2px,#422fc1 0 44.7px,#0000 0 47.6px,#4433cc 0 49.7px,#0000 0 64.9px,#4433cc 0 66.3px,#0000 0 76.4px,#4538d7 0 78.6px,#475bf9 0 79.3px,#422fc1 0 80.7px,#0000 0 83.6px,#422fc1 0 84.3px,#0000 0 90.1px,#4433cc 0 93.0px,#0000 0 97.3px,#463de0 0 98.7px,#0000 0 103.1px,#422fc1 0 103.8px,#463de0 0 104.5px,#0000 0 106.7px,#422fc1 0 108.8px,#4538d7 0 109.5px,#0000 0 111.7px,#4743e7 0 112.4px,#4538d7 0 113.1px,#0000 0 116.8px,#422fc1 0 117.5px,#0000 0 128.3px,#4538d7 0 130.4px,#4433cc 0 131.9px,#0000 0 140.5px,#463de0 0 142.0px,#0000 0 145.6px,#4433cc 0 146.3px,#0000 0 161.4px,#4433cc 0 162.9px,#0000 0 170.1px,#4433cc 0 170.8px,#0000 0 171.5px,#422fc1 0 172.2px,#0000 0 173.7px,#4433cc 0 174.4px,#463de0 0 176.6px,#0000 0 177.3px,#422fc1 0 178.0px,#0000 0 187.4px,#4433cc 0 188.1px,#0000 0 192.4px,#422fc1 0 193.1px,#0000 0 199.6px,#422fc1 0 202.5px,#0000 0);-webkit-mask-image:linear-gradient(to right,#000 0 3.2px,#0000 0 12.1px,#000 0 13.4px,#0000 0 23.6px,#000 0 24.2px,#0000 0 24.8px,#000 0 28.7px,#0000 0 32.5px,#000 0 50.3px,#0000 0 51.0px,#000 0 52.2px,#0000 0 56.1px,#000 0 57.3px,#0000 0 58.6px,#000 0 60.5px,#0000 0 61.2px,#000 0 63.1px,#0000 0 63.7px,#000 0 66.2px,#0000 0 66.9px,#000 0 72.6px,#0000 0 81.5px,#000 0 83.4px,#0000 0 89.2px,#000 0 89.8px,#0000 0 91.7px,#000 0 93.0px,#0000 0 98.1px,#000 0 101.3px,#0000 0 101.9px,#000 0 102.6px,#0000 0 106.4px,#000 0 107.7px,#0000 0 108.9px,#000 0 111.5px,#0000 0 115.9px,#000 0 117.2px,#0000 0 124.2px,#000 0 124.9px,#0000 0 128.0px,#000 0 129.3px,#0000 0 134.4px,#000 0 137.6px,#0000 0 140.1px,#000 0 142.1px,#0000 0 145.2px,#000 0 147.1px,#0000 0 151.0px,#000 0 155.4px,#0000 0 158.6px,#000 0 159.9px,#0000 0 162.4px,#000 0 166.3px,#0000 0 181.5px,#000 0 183.5px,#0000 0)"></div>
<div class="b" style="left:721.2px;top:723.1px;width:179.0px;height:202.5px;background:linear-gradient(to right,#0000 0 1.9px,#2797eb 0 3.2px,#0000 0 12.1px,#2797eb 0 13.4px,#0000 0 28.7px,#2797eb 0 29.9px,#0000 0 45.9px,#2797eb 0 47.1px,#0000 0 56.1px,#2797eb 0 57.3px,#4433cc 0 58.0px,#0000 0 71.3px,#2797eb 0 72.6px,#0000 0 79.0px,#422fc1 0 80.3px,#2797eb 0 81.5px,#0000 0 87.9px,#2797eb 0 89.2px,#0000 0 99.4px,#406dfe 0 108.9px,#0000 0 129.9px,#2797eb 0 131.2px,#0000 0 142.7px,#2d8cf3 0 153.5px,#0000 0);-webkit-mask-image:linear-gradient(to bottom,#0000 0 2.2px,#000 0 3.6px,#0000 0 13.7px,#000 0 15.1px,#0000 0 32.4px,#000 0 33.9px,#0000 0 51.9px,#000 0 53.3px,#0000 0 63.4px,#000 0 64.9px,#0000 0 80.7px,#000 0 82.2px,#0000 0 90.8px,#000 0 92.2px,#0000 0 99.5px,#000 0 100.9px,#0000 0 112.4px,#000 0 123.2px,#0000 0 147.0px,#000 0 148.5px,#0000 0 161.4px,#000 0 173.7px,#0000 0)"></div>
<div class="b" style="left:721.2px;top:723.1px;width:179.0px;height:202.5px;opacity:0.40;background:linear-gradient(to bottom,#0000 0 2.2px,#2797eb 0 3.6px,#0000 0 13.7px,#2797eb 0 15.1px,#0000 0 32.4px,#2797eb 0 33.9px,#0000 0 51.9px,#2797eb 0 53.3px,#0000 0 63.4px,#2797eb 0 64.9px,#4433cc 0 65.6px,#0000 0 80.7px,#2797eb 0 82.2px,#0000 0 89.4px,#422fc1 0 90.8px,#2797eb 0 92.2px,#0000 0 99.5px,#2797eb 0 100.9px,#0000 0 112.4px,#406dfe 0 123.2px,#0000 0 147.0px,#2797eb 0 148.5px,#0000 0 161.4px,#2d8cf3 0 173.7px,#0000 0);-webkit-mask-image:linear-gradient(to right,#0000 0 1.9px,#000 0 3.2px,#0000 0 12.1px,#000 0 13.4px,#0000 0 28.7px,#000 0 29.9px,#0000 0 45.9px,#000 0 47.1px,#0000 0 56.1px,#000 0 57.3px,#0000 0 71.3px,#000 0 72.6px,#0000 0 80.3px,#000 0 81.5px,#0000 0 87.9px,#000 0 89.2px,#0000 0 99.4px,#000 0 108.9px,#0000 0 129.9px,#000 0 131.2px,#0000 0 142.7px,#000 0 153.5px,#0000 0)"></div>
<div class="b" style="left:900.2px;top:723.1px;width:361.8px;height:202.5px;background:linear-gradient(to right,#0000 0 15.9px,#2d8cf3 0 17.2px,#0000 0 51.6px,#2d8cf3 0 52.9px,#0000 0 54.1px,#422fc1 0 55.4px,#0000 0 60.5px,#2d8cf3 0 61.8px,#0000 0 71.3px,#2d8cf3 0 72.6px,#0000 0 80.3px,#422fc1 0 80.9px,#0000 0 81.5px,#2d8cf3 0 83.4px,#0000 0 88.5px,#2d8cf3 0 89.8px,#0000 0 105.1px,#2d8cf3 0 106.4px,#0000 0 108.9px,#2d8cf3 0 110.2px,#0000 0 111.5px,#422fc1 0 112.1px,#0000 0 112.8px,#2d8cf3 0 114.0px,#0000 0 126.1px,#4433cc 0 128.0px,#0000 0 132.5px,#2d8cf3 0 133.8px,#0000 0 143.3px,#4433cc 0 144.6px,#0000 0 173.9px,#422fc1 0 174.5px,#0000 0 192.4px,#2d8cf3 0 193.6px,#0000 0 195.6px,#4433cc 0 196.8px,#0000 0 205.8px,#2d8cf3 0 207.0px,#0000 0 230.6px,#2d8cf3 0 231.9px,#0000 0 244.6px,#422fc1 0 245.2px,#4433cc 0 246.5px,#0000 0 266.9px,#422fc1 0 267.5px,#0000 0 278.4px,#2d8cf3 0 279.6px,#0000 0 300.7px,#2d8cf3 0 301.9px,#0000 0 320.4px,#2d8cf3 0 321.7px,#0000 0 334.4px,#422fc1 0 335.1px,#0000 0 340.2px,#4433cc 0 341.4px,#0000 0 342.1px,#422fc1 0 343.3px,#4538d7 0 344.0px,#0000 0);-webkit-mask-image:linear-gradient(to bottom,#0000 0 2.2px,#000 0 3.6px,#0000 0 13.7px,#000 0 15.1px,#0000 0 32.4px,#000 0 33.9px,#0000 0 51.9px,#000 0 53.3px,#0000 0 63.4px,#000 0 64.9px,#0000 0 80.7px,#000 0 82.2px,#0000 0 90.8px,#000 0 92.2px,#0000 0 99.5px,#000 0 100.9px,#0000 0 112.4px,#000 0 123.2px,#0000 0 147.0px,#000 0 148.5px,#0000 0 161.4px,#000 0 173.7px,#0000 0)"></div>
<div class="b" style="left:900.2px;top:723.1px;width:361.8px;height:202.5px;opacity:0.40;background:linear-gradient(to bottom,#0000 0 2.2px,#2d8cf3 0 3.6px,#0000 0 13.7px,#2d8cf3 0 15.1px,#0000 0 23.1px,#422fc1 0 24.5px,#0000 0 32.4px,#2d8cf3 0 33.9px,#0000 0 43.2px,#4433cc 0 44.7px,#0000 0 46.8px,#422fc1 0 48.3px,#0000 0 51.9px,#2d8cf3 0 53.3px,#0000 0 63.4px,#2d8cf3 0 64.9px,#422fc1 0 66.3px,#0000 0 80.7px,#2d8cf3 0 82.2px,#0000 0 84.3px,#422fc1 0 87.2px,#0000 0 90.8px,#2d8cf3 0 92.2px,#0000 0 93.0px,#4433cc 0 94.4px,#0000 0 99.5px,#2d8cf3 0 100.9px,#0000 0 112.4px,#4367fd 0 123.2px,#0000 0 147.0px,#2d8cf3 0 148.5px,#0000 0 151.3px,#4433cc 0 152.1px,#0000 0 161.4px,#2e86f7 0 173.7px,#0000 0 188.8px,#4433cc 0 190.3px,#0000 0);-webkit-mask-image:linear-gradient(to right,#0000 0 3.2px,#000 0 3.8px,#0000 0 15.9px,#000 0 17.2px,#0000 0 51.6px,#000 0 52.9px,#0000 0 54.1px,#000 0 55.4px,#0000 0 60.5px,#000 0 61.8px,#0000 0 71.3px,#000 0 72.6px,#0000 0 80.3px,#000 0 80.9px,#0000 0 81.5px,#000 0 83.4px,#0000 0 88.5px,#000 0 89.8px,#0000 0 105.1px,#000 0 106.4px,#0000 0 108.9px,#000 0 110.2px,#0000 0 111.5px,#000 0 112.1px,#0000 0 112.8px,#000 0 114.0px,#0000 0 126.1px,#000 0 128.0px,#0000 0 132.5px,#000 0 133.8px,#0000 0 143.3px,#000 0 144.6px,#0000 0 158.0px,#000 0 159.9px,#0000 0 168.2px,#000 0 168.8px,#0000 0 173.9px,#000 0 174.5px,#0000 0 179.0px,#000 0 180.3px,#0000 0 192.4px,#000 0 193.6px,#0000 0 195.6px,#000 0 196.8px,#0000 0 205.8px,#000 0 207.0px,#0000 0 210.2px,#000 0 210.8px,#0000 0 212.8px,#000 0 213.4px,#0000 0 214.0px,#000 0 216.6px,#0000 0 230.6px,#000 0 231.9px,#0000 0 244.6px,#000 0 246.5px,#0000 0 265.0px,#000 0 266.3px,#0000 0 266.9px,#000 0 267.5px,#0000 0 273.9px,#000 0 275.2px,#0000 0 276.5px,#000 0 279.6px,#0000 0 287.9px,#000 0 288.6px,#0000 0 300.7px,#000 0 301.9px,#0000 0 307.0px,#000 0 307.7px,#0000 0 319.1px,#000 0 321.7px,#0000 0 334.4px,#000 0 335.1px,#0000 0 340.2px,#000 0 344.0px,#0000 0 345.3px,#000 0 346.5px,#0000 0 352.9px,#000 0 356.1px,#0000 0)"></div>
<div class="b" style="left:181.0px;top:925.7px;width:177.7px;height:409.3px;background:linear-gradient(to right,#422fc1 0 0.6px,#4433cc 0 1.3px,#4538d7 0 3.2px,#422fc1 0 3.8px,#4538d7 0 5.7px,#422fc1 0 6.4px,#4538d7 0 7.6px,#463de0 0 8.3px,#4849ed 0 9.6px,#4538d7 0 10.8px,#0000 0 14.0px,#347afd 0 15.9px,#4433cc 0 17.2px,#463de0 0 17.8px,#0000 0 19.1px,#422fc1 0 21.0px,#4538d7 0 21.7px,#347afd 0 22.3px,#4433cc 0 22.9px,#2d8cf3 0 24.8px,#4538d7 0 25.5px,#422fc1 0 26.1px,#4538d7 0 28.0px,#463de0 0 28.7px,#4538d7 0 29.3px,#0000 0 31.9px,#4538d7 0 32.5px,#4433cc 0 33.1px,#4367fd 0 34.4px,#4433cc 0 35.0px,#0000 0 36.9px,#4433cc 0 37.6px,#0000 0 40.8px,#4433cc 0 43.3px,#347afd 0 45.2px,#4433cc 0 46.5px,#4849ed 0 47.1px,#4743e7 0 48.4px,#463de0 0 49.0px,#23a1e5 0 50.3px,#4367fd 0 52.2px,#0000 0 54.1px,#422fc1 0 54.8px,#4433cc 0 55.4px,#347afd 0 56.7px,#422fc1 0 57.3px,#0000 0 60.5px,#484ff2 0 61.8px,#4538d7 0 62.4px,#4755f6 0 63.1px,#4433cc 0 64.3px,#0000 0 66.9px,#4538d7 0 67.5px,#4743e7 0 68.8px,#0000 0 69.4px,#4367fd 0 70.1px,#4433cc 0 70.7px,#0000 0 72.0px,#4433cc 0 73.3px,#4538d7 0 74.5px,#4433cc 0 75.2px,#3a74fe 0 77.1px,#4849ed 0 78.4px,#4433cc 0 79.6px,#0000 0 81.5px,#4538d7 0 82.8px,#0000 0 84.7px,#4433cc 0 86.0px,#422fc1 0 87.3px,#463de0 0 88.5px,#4433cc 0 89.2px,#463de0 0 89.8px,#4433cc 0 91.7px,#4538d7 0 93.6px,#4743e7 0 94.9px,#259ce7 0 96.2px,#4661fc 0 96.8px,#463de0 0 98.1px,#4755f6 0 100.0px,#0000 0 101.3px,#422fc1 0 101.9px,#484ff2 0 103.8px,#463de0 0 104.5px,#422fc1 0 105.1px,#0000 0 105.7px,#2d8cf3 0 107.0px,#4538d7 0 108.3px,#4755f6 0 114.7px,#463de0 0 115.3px,#4433cc 0 115.9px,#4755f6 0 117.2px,#4743e7 0 118.5px,#4367fd 0 119.8px,#4755f6 0 121.0px,#484ff2 0 121.7px,#4433cc 0 122.9px,#4538d7 0 124.2px,#0000 0 124.9px,#422fc1 0 125.5px,#4743e7 0 128.0px,#4849ed 0 129.3px,#463de0 0 129.9px,#0000 0 132.5px,#463de0 0 133.8px,#422fc1 0 134.4px,#0000 0 137.6px,#4433cc 0 138.2px,#484ff2 0 139.5px,#4433cc 0 140.1px,#0000 0 144.6px,#4538d7 0 145.9px,#4661fc 0 147.1px,#4743e7 0 149.1px,#0000 0 149.7px,#4538d7 0 152.2px,#4433cc 0 152.9px,#463de0 0 154.2px,#1caadf 0 155.4px,#0000 0 157.3px,#4433cc 0 161.2px,#2d8cf3 0 162.4px,#4538d7 0 163.1px,#484ff2 0 163.7px,#4755f6 0 165.0px,#4743e7 0 166.3px,#463de0 0 166.9px,#0000 0 168.2px,#4367fd 0 170.1px,#4743e7 0 170.7px,#463de0 0 173.3px,#406dfe 0 174.5px,#4433cc 0 177.7px,#0000 0);-webkit-mask-image:linear-gradient(to bottom,#000 0 2.9px,#0000 0 3.6px,#000 0 25.9px,#0000 0 28.1px,#000 0 32.4px,#0000 0 35.3px,#000 0 38.9px,#0000 0 41.1px,#000 0 49.7px,#0000 0 53.3px,#000 0 69.9px,#0000 0 72.1px,#000 0 82.9px,#0000 0 84.3px,#000 0 94.4px,#0000 0 95.9px,#000 0 100.9px,#0000 0 103.1px,#000 0 105.9px,#0000 0 108.1px,#000 0 128.3px,#0000 0 129.7px,#000 0 138.4px,#0000 0 139.8px,#000 0 153.5px,#0000 0 154.2px,#000 0 174.4px,#0000 0 178.0px,#000 0 181.6px,#0000 0 183.1px,#000 0 197.5px,#0000 0 198.2px,#000 0 215.5px,#0000 0 217.6px,#000 0 219.1px,#0000 0 220.5px,#000 0 232.1px,#0000 0 234.9px,#000 0 262.3px,#0000 0 263.0px,#000 0 264.5px,#0000 0 268.8px,#000 0 273.1px,#0000 0 273.9px,#000 0 276.0px,#0000 0 276.7px,#000 0 278.9px,#0000 0 281.1px,#000 0 283.2px,#0000 0 285.4px,#000 0 290.4px,#0000 0 291.2px,#000 0 302.7px,#0000 0 304.1px,#000 0 309.2px,#0000 0 309.9px,#000 0 321.4px,#0000 0 322.1px,#000 0 326.5px,#0000 0 328.6px,#000 0 343.0px,#0000 0 344.5px,#000 0 348.8px,#0000 0 351.0px,#000 0 356.7px,#0000 0 358.2px,#000 0 368.3px,#0000 0 369.7px,#000 0 402.1px,#0000 0 402.9px,#000 0 403.6px,#0000 0 405.0px,#000 0 409.3px,#0000 0)"></div>
<div class="b" style="left:181.0px;top:925.7px;width:177.7px;height:409.3px;opacity:0.40;background:linear-gradient(to bottom,#4538d7 0 0.7px,#484ff2 0 2.2px,#4538d7 0 2.9px,#0000 0 3.6px,#4538d7 0 4.3px,#4433cc 0 5.0px,#0000 0 5.8px,#4849ed 0 6.5px,#463de0 0 8.6px,#4755f6 0 9.4px,#4367fd 0 11.5px,#4538d7 0 12.3px,#0000 0 15.1px,#4433cc 0 16.6px,#484ff2 0 17.3px,#463de0 0 19.5px,#0000 0 22.3px,#4755f6 0 23.1px,#4433cc 0 25.9px,#0000 0 28.1px,#4849ed 0 30.3px,#463de0 0 31.0px,#422fc1 0 32.4px,#0000 0 35.3px,#4538d7 0 36.0px,#4433cc 0 36.8px,#422fc1 0 38.2px,#4538d7 0 38.9px,#0000 0 41.1px,#4433cc 0 41.8px,#0000 0 43.2px,#4661fc 0 44.7px,#0000 0 46.8px,#422fc1 0 48.3px,#4538d7 0 49.0px,#4433cc 0 49.7px,#0000 0 53.3px,#4849ed 0 54.1px,#4743e7 0 56.9px,#0000 0 59.8px,#4755f6 0 60.5px,#4661fc 0 62.7px,#4433cc 0 64.1px,#463de0 0 66.3px,#484ff2 0 67.0px,#4538d7 0 67.7px,#4433cc 0 69.9px,#0000 0 72.1px,#4538d7 0 72.8px,#4433cc 0 75.0px,#475bf9 0 75.7px,#463de0 0 78.6px,#4538d7 0 81.4px,#4433cc 0 82.2px,#422fc1 0 82.9px,#0000 0 84.3px,#4433cc 0 85.0px,#484ff2 0 87.2px,#463de0 0 87.9px,#4433cc 0 88.6px,#4538d7 0 90.8px,#406dfe 0 91.5px,#4538d7 0 92.2px,#2f80fa 0 94.4px,#0000 0 95.9px,#4538d7 0 96.6px,#463de0 0 98.0px,#0000 0 99.5px,#4538d7 0 100.9px,#0000 0 103.1px,#4433cc 0 103.8px,#4538d7 0 104.5px,#0000 0 105.2px,#422fc1 0 105.9px,#0000 0 108.1px,#422fc1 0 108.8px,#4433cc 0 113.1px,#422fc1 0 114.6px,#4433cc 0 116.0px,#0000 0 117.5px,#4433cc 0 119.6px,#4743e7 0 120.4px,#422fc1 0 121.1px,#463de0 0 123.2px,#4433cc 0 124.7px,#0000 0 126.1px,#4849ed 0 126.8px,#0000 0 127.6px,#4538d7 0 128.3px,#0000 0 129.7px,#463de0 0 131.2px,#4538d7 0 135.5px,#0000 0 136.2px,#4433cc 0 138.4px,#0000 0 139.8px,#422fc1 0 141.3px,#4538d7 0 142.7px,#2d8cf3 0 144.9px,#4538d7 0 145.6px,#422fc1 0 146.3px,#4538d7 0 148.5px,#4755f6 0 149.9px,#406dfe 0 151.3px,#4433cc 0 153.5px,#0000 0 154.2px,#4743e7 0 156.4px,#484ff2 0 157.8px,#4538d7 0 160.0px,#4433cc 0 162.2px,#347afd 0 163.6px,#475bf9 0 165.0px,#4538d7 0 165.8px,#475bf9 0 167.2px,#4433cc 0 167.9px,#4849ed 0 169.4px,#4743e7 0 170.1px,#4433cc 0 172.2px,#4538d7 0 174.4px,#0000 0 178.0px,#4538d7 0 178.7px,#4743e7 0 180.9px,#4433cc 0 181.6px,#0000 0 184.5px,#4538d7 0 185.9px,#0000 0 188.1px,#4433cc 0 188.8px,#422fc1 0 190.3px,#463de0 0 191.0px,#4538d7 0 192.4px,#463de0 0 193.9px,#4538d7 0 194.6px,#4849ed 0 196.0px,#2e86f7 0 196.7px,#422fc1 0 197.5px,#0000 0 198.2px,#422fc1 0 201.1px,#0000 0 201.8px,#4433cc 0 202.5px,#463de0 0 204.0px,#422fc1 0 205.4px,#4433cc 0 206.8px,#4538d7 0 209.0px,#0000 0 210.4px,#4433cc 0 212.6px,#463de0 0 214.0px,#4849ed 0 214.8px,#422fc1 0 215.5px,#0000 0 217.6px,#4755f6 0 218.4px,#4433cc 0 219.1px,#0000 0 220.5px,#4433cc 0 221.2px,#484ff2 0 222.7px,#4743e7 0 224.1px,#4367fd 0 224.9px,#4849ed 0 226.3px,#0000 0 229.2px,#4433cc 0 231.3px,#422fc1 0 232.1px,#0000 0 234.9px,#422fc1 0 235.7px,#4538d7 0 237.8px,#4743e7 0 238.5px,#463de0 0 240.0px,#4755f6 0 241.4px,#4433cc 0 242.1px,#4538d7 0 242.9px,#4743e7 0 245.0px,#0000 0 247.9px,#463de0 0 248.6px,#4755f6 0 250.8px,#422fc1 0 253.7px,#4743e7 0 254.4px,#484ff2 0 255.8px,#422fc1 0 256.6px,#4743e7 0 258.0px,#4433cc 0 258.7px,#422fc1 0 259.4px,#0000 0 261.6px,#422fc1 0 262.3px,#0000 0 263.0px,#422fc1 0 264.5px,#0000 0 268.8px,#4433cc 0 270.3px,#4849ed 0 271.7px,#4433cc 0 273.1px,#0000 0 273.9px,#4538d7 0 275.3px,#0000 0 276.7px,#4755f6 0 278.2px,#4849ed 0 278.9px,#0000 0 281.1px,#4538d7 0 283.2px,#0000 0 285.4px,#4849ed 0 286.8px,#475bf9 0 287.6px,#2e86f7 0 288.3px,#422fc1 0 289.0px,#4849ed 0 289.7px,#0000 0 291.2px,#4433cc 0 293.3px,#4849ed 0 294.8px,#4538d7 0 296.2px,#4433cc 0 299.1px,#463de0 0 301.2px,#484ff2 0 302.0px,#463de0 0 302.7px,#0000 0 304.1px,#4538d7 0 306.3px,#4433cc 0 307.7px,#0000 0 309.9px,#463de0 0 312.1px,#259ce7 0 312.8px,#2e86f7 0 313.5px,#3a74fe 0 314.2px,#406dfe 0 315.7px,#484ff2 0 317.1px,#4538d7 0 317.8px,#422fc1 0 319.3px,#4433cc 0 320.7px,#4538d7 0 321.4px,#0000 0 322.1px,#4433cc 0 322.9px,#484ff2 0 325.0px,#4743e7 0 326.5px,#0000 0 330.8px,#422fc1 0 331.5px,#4433cc 0 333.0px,#422fc1 0 333.7px,#4433cc 0 335.8px,#0000 0 336.6px,#463de0 0 337.3px,#484ff2 0 338.0px,#4743e7 0 340.9px,#4538d7 0 341.6px,#0000 0 344.5px,#422fc1 0 345.2px,#4433cc 0 346.6px,#463de0 0 347.4px,#4743e7 0 348.1px,#4433cc 0 348.8px,#0000 0 351.0px,#4538d7 0 352.4px,#4661fc 0 353.1px,#463de0 0 354.6px,#4433cc 0 356.0px,#422fc1 0 356.7px,#0000 0 358.2px,#4433cc 0 358.9px,#422fc1 0 361.8px,#4538d7 0 362.5px,#4433cc 0 364.7px,#463de0 0 365.4px,#4849ed 0 366.8px,#4538d7 0 367.5px,#422fc1 0 368.3px,#0000 0 369.7px,#4849ed 0 370.4px,#4743e7 0 371.2px,#422fc1 0 373.3px,#4538d7 0 374.0px,#4433cc 0 376.9px,#463de0 0 378.4px,#4433cc 0 381.2px,#4743e7 0 382.0px,#463de0 0 384.1px,#4755f6 0 384.8px,#23a1e5 0 385.6px,#259ce7 0 386.3px,#4743e7 0 387.0px,#4755f6 0 388.4px,#2f80fa 0 389.9px,#484ff2 0 392.1px,#4538d7 0 393.5px,#0000 0 394.9px,#422fc1 0 395.7px,#4538d7 0 397.1px,#463de0 0 399.3px,#4849ed 0 400.0px,#4661fc 0 400.7px,#4743e7 0 401.4px,#4538d7 0 402.1px,#0000 0 406.5px,#4367fd 0 407.2px,#4433cc 0 407.9px,#4538d7 0 408.6px,#422fc1 0 409.3px,#0000 0);-webkit-mask-image:linear-gradient(to right,#0000 0 1.3px,#000 0 3.2px,#0000 0 3.8px,#000 0 5.7px,#0000 0 6.4px,#000 0 10.8px,#0000 0 14.0px,#000 0 15.9px,#0000 0 17.2px,#000 0 17.8px,#0000 0 21.0px,#000 0 22.3px,#0000 0 22.9px,#000 0 25.5px,#0000 0 26.1px,#000 0 29.3px,#0000 0 31.9px,#000 0 35.0px,#0000 0 42.7px,#000 0 45.2px,#0000 0 46.5px,#000 0 52.2px,#0000 0 54.8px,#000 0 56.7px,#0000 0 60.5px,#000 0 63.1px,#0000 0 66.9px,#000 0 68.8px,#0000 0 69.4px,#000 0 70.1px,#0000 0 73.3px,#000 0 78.4px,#0000 0 81.5px,#000 0 82.8px,#0000 0 87.3px,#000 0 88.5px,#0000 0 89.2px,#000 0 100.0px,#0000 0 101.9px,#000 0 104.5px,#0000 0 105.7px,#000 0 124.2px,#0000 0 125.5px,#000 0 129.9px,#0000 0 132.5px,#000 0 133.8px,#0000 0 138.2px,#000 0 140.1px,#0000 0 144.6px,#000 0 149.1px,#0000 0 149.7px,#000 0 152.2px,#0000 0 152.9px,#000 0 155.4px,#0000 0 161.2px,#000 0 166.9px,#0000 0 168.2px,#000 0 174.5px,#0000 0 176.5px,#000 0 177.7px,#0000 0)"></div>
<div class="b" style="left:181.0px;top:925.7px;width:177.7px;height:409.3px;background:linear-gradient(to bottom,#0000 0 92.2px,#f9fb15 0 94.4px,#0000 0);-webkit-mask-image:linear-gradient(to right,#000 0 58.6px,#0000 0 59.9px,#000 0 142.7px,#0000 0 144.6px,#000 0 155.4px,#0000 0 156.1px,#000 0 177.7px,#0000 0)"></div>
<div class="b" style="left:181.0px;top:925.7px;width:177.7px;height:409.3px;background:linear-gradient(to right,#0000 0 14.0px,#f9fb15 0 15.9px,#0000 0 55.4px,#f9fb15 0 56.7px,#0000 0);-webkit-mask-image:linear-gradient(to bottom,#000 0 2.9px,#0000 0 3.6px,#000 0 12.3px,#0000 0 15.1px,#000 0 19.5px,#0000 0 21.6px,#000 0 25.9px,#0000 0 28.1px,#000 0 32.4px,#0000 0 35.3px,#000 0 38.9px,#0000 0 41.1px,#000 0 44.7px,#0000 0 46.8px,#000 0 49.7px,#0000 0 53.3px,#000 0 69.9px,#0000 0 72.1px,#000 0 82.9px,#0000 0 84.3px,#000 0 94.4px,#0000 0 95.9px,#000 0 100.9px,#0000 0 103.1px,#000 0 104.5px,#0000 0 105.2px,#000 0 105.9px,#0000 0 108.1px,#000 0 124.7px,#0000 0 126.1px,#000 0 128.3px,#0000 0 129.7px,#000 0 135.5px,#0000 0 136.2px,#000 0 138.4px,#0000 0 139.8px,#000 0 153.5px,#0000 0 154.2px,#000 0 174.4px,#0000 0 178.0px,#000 0 181.6px,#0000 0 184.5px,#000 0 197.5px,#0000 0 198.2px,#000 0 215.5px,#0000 0 217.6px,#000 0 219.1px,#0000 0 220.5px,#000 0 232.1px,#0000 0 234.9px,#000 0 245.0px,#0000 0 245.8px,#000 0 262.3px,#0000 0 263.0px,#000 0 264.5px,#0000 0 268.8px,#000 0 273.1px,#0000 0 273.9px,#000 0 275.3px,#0000 0 276.7px,#000 0 278.9px,#0000 0 281.1px,#000 0 283.2px,#0000 0 285.4px,#000 0 290.4px,#0000 0 291.2px,#000 0 302.7px,#0000 0 304.1px,#000 0 307.7px,#0000 0 309.9px,#000 0 321.4px,#0000 0 322.1px,#000 0 326.5px,#0000 0 330.8px,#000 0 335.8px,#0000 0 336.6px,#000 0 343.0px,#0000 0 344.5px,#000 0 348.8px,#0000 0 351.0px,#000 0 356.7px,#0000 0 358.2px,#000 0 368.3px,#0000 0 369.7px,#000 0 402.1px,#0000 0 406.5px,#000 0 409.3px,#0000 0)"></div>
<div class="b" style="left:181.0px;top:925.7px;width:177.7px;height:409.3px;background:linear-gradient(to right,#0000 0 118.5px,#f9fb15 0 119.8px,#0000 0 145.9px,#f9fb15 0 147.1px,#0000 0 168.2px,#f9fb15 0 170.1px,#0000 0);-webkit-mask-image:linear-gradient(to bottom,#000 0 2.9px,#0000 0 3.6px,#000 0 4.3px,#0000 0 5.8px,#000 0 12.3px,#0000 0 16.6px,#000 0 19.5px,#0000 0 22.3px,#000 0 25.9px,#0000 0 28.1px,#000 0 31.0px,#0000 0 35.3px,#000 0 36.0px,#0000 0 38.2px,#000 0 38.9px,#0000 0 43.2px,#000 0 44.7px,#0000 0 48.3px,#000 0 49.0px,#0000 0 53.3px,#000 0 56.9px,#0000 0 59.8px,#000 0 62.7px,#0000 0 64.1px,#000 0 67.7px,#0000 0 72.1px,#000 0 72.8px,#0000 0 75.0px,#000 0 81.4px,#0000 0 85.0px,#000 0 87.9px,#0000 0 88.6px,#000 0 94.4px,#0000 0 95.9px,#000 0 98.0px,#0000 0 99.5px,#000 0 100.9px,#0000 0 103.1px,#000 0 104.5px,#0000 0 119.6px,#000 0 120.4px,#0000 0 121.1px,#000 0 123.2px,#0000 0 126.1px,#000 0 126.8px,#0000 0 127.6px,#000 0 128.3px,#0000 0 129.7px,#000 0 135.5px,#0000 0 141.3px,#000 0 145.6px,#0000 0 146.3px,#000 0 153.5px,#0000 0 154.2px,#000 0 160.0px,#0000 0 160.7px,#000 0 170.1px,#0000 0 172.2px,#000 0 174.4px,#0000 0 178.0px,#000 0 180.9px,#0000 0 184.5px,#000 0 185.9px,#0000 0 190.3px,#000 0 196.7px,#0000 0 202.5px,#000 0 204.0px,#0000 0 206.8px,#000 0 209.0px,#0000 0 212.6px,#000 0 214.8px,#0000 0 217.6px,#000 0 218.4px,#0000 0 220.5px,#000 0 226.3px,#0000 0 229.2px,#000 0 231.3px,#0000 0 235.7px,#000 0 241.4px,#0000 0 242.1px,#000 0 245.0px,#0000 0 247.9px,#000 0 250.8px,#0000 0 253.7px,#000 0 255.8px,#0000 0 256.6px,#000 0 258.0px,#0000 0 270.3px,#000 0 271.7px,#0000 0 273.9px,#000 0 275.3px,#0000 0 276.7px,#000 0 278.9px,#0000 0 281.1px,#000 0 283.2px,#0000 0 285.4px,#000 0 288.3px,#0000 0 289.0px,#000 0 289.7px,#0000 0 293.3px,#000 0 296.2px,#0000 0 299.1px,#000 0 302.7px,#0000 0 304.1px,#000 0 306.3px,#0000 0 309.9px,#000 0 317.8px,#0000 0 320.7px,#000 0 321.4px,#0000 0 322.9px,#000 0 326.5px,#0000 0 336.6px,#000 0 341.6px,#0000 0 346.6px,#000 0 348.1px,#0000 0 351.0px,#000 0 354.6px,#0000 0 361.8px,#000 0 362.5px,#0000 0 364.7px,#000 0 367.5px,#0000 0 369.7px,#000 0 371.2px,#0000 0 373.3px,#000 0 378.4px,#0000 0 381.2px,#000 0 393.5px,#0000 0 395.7px,#000 0 402.1px,#0000 0 406.5px,#000 0 407.2px,#0000 0 407.9px,#000 0 408.6px,#0000 0)"></div>
<div class="b" style="left:181.0px;top:925.7px;width:177.7px;height:409.3px;background:linear-gradient(to right,#0000 0 60.5px,#f9fb15 0 61.8px,#0000 0 120.4px,#f9fb15 0 121.0px,#0000 0 138.2px,#f9fb15 0 139.5px,#0000 0);-webkit-mask-image:linear-gradient(to bottom,#0000 0 0.7px,#000 0 2.2px,#0000 0 5.8px,#000 0 6.5px,#0000 0 8.6px,#000 0 11.5px,#0000 0 16.6px,#000 0 17.3px,#0000 0 22.3px,#000 0 23.1px,#0000 0 43.2px,#000 0 44.7px,#0000 0 59.8px,#000 0 62.7px,#0000 0 66.3px,#000 0 67.0px,#0000 0 75.0px,#000 0 75.7px,#0000 0 85.0px,#000 0 87.2px,#0000 0 90.8px,#000 0 91.5px,#0000 0 92.2px,#000 0 94.4px,#0000 0 142.7px,#000 0 144.9px,#0000 0 148.5px,#000 0 151.3px,#0000 0 156.4px,#000 0 157.8px,#0000 0 162.2px,#000 0 165.0px,#0000 0 165.8px,#000 0 167.2px,#0000 0 196.0px,#000 0 196.7px,#0000 0 217.6px,#000 0 218.4px,#0000 0 221.2px,#000 0 222.7px,#0000 0 224.1px,#000 0 224.9px,#0000 0 240.0px,#000 0 241.4px,#0000 0 248.6px,#000 0 250.8px,#0000 0 254.4px,#000 0 255.8px,#0000 0 270.3px,#000 0 271.7px,#0000 0 276.7px,#000 0 278.2px,#0000 0 285.4px,#000 0 288.3px,#0000 0 293.3px,#000 0 294.8px,#0000 0 301.2px,#000 0 302.0px,#0000 0 312.1px,#000 0 317.1px,#0000 0 322.9px,#000 0 325.0px,#0000 0 337.3px,#000 0 338.0px,#0000 0 352.4px,#000 0 353.1px,#0000 0 384.1px,#000 0 386.3px,#0000 0 387.0px,#000 0 392.1px,#0000 0 400.0px,#000 0 400.7px,#0000 0 406.5px,#000 0 407.2px,#0000 0)"></div>
<div class="b" style="left:358.7px;top:925.7px;width:176.5px;height:409.3px;background:linear-gradient(to right,#0000 0 19.7px,#4743e7 0 21.0px,#0000 0 26.1px,#4743e7 0 27.4px,#0000 0 29.3px,#4433cc 0 29.9px,#0000 0 31.9px,#4743e7 0 34.4px,#0000 0 43.3px,#4743e7 0 44.6px,#0000 0 61.2px,#4433cc 0 62.4px,#0000 0 64.3px,#4743e7 0 66.9px,#422fc1 0 68.2px,#0000 0 70.1px,#4743e7 0 71.3px,#0000 0 75.2px,#4743e7 0 77.1px,#0000 0 77.7px,#422fc1 0 78.4px,#4743e7 0 80.3px,#0000 0 123.6px,#4433cc 0 124.9px,#0000 0 127.4px,#422fc1 0 128.7px,#0000 0 131.9px,#4433cc 0 133.8px,#0000 0 156.7px,#4433cc 0 158.6px,#0000 0 163.7px,#4433cc 0 164.3px,#0000 0 166.3px,#4433cc 0 167.5px,#0000 0 168.2px,#4433cc 0 168.8px,#0000 0 173.3px,#4433cc 0 175.8px,#0000 0);-webkit-mask-image:linear-gradient(to bottom,#0000 0 3.6px,#000 0 4.3px,#0000 0 5.8px,#000 0 11.5px,#0000 0 22.3px,#000 0 25.9px,#0000 0 38.2px,#000 0 38.9px,#0000 0 46.8px,#000 0 47.6px,#0000 0 53.3px,#000 0 54.1px,#0000 0 59.8px,#000 0 62.7px,#0000 0 75.0px,#000 0 80.7px,#0000 0 85.0px,#000 0 85.8px,#0000 0 87.2px,#000 0 87.9px,#0000 0 90.1px,#000 0 94.4px,#0000 0 95.9px,#000 0 98.7px,#0000 0 102.3px,#000 0 104.5px,#0000 0 112.4px,#000 0 113.1px,#0000 0 113.9px,#000 0 115.3px,#0000 0 126.1px,#000 0 126.8px,#0000 0 129.7px,#000 0 131.9px,#0000 0 133.3px,#000 0 138.4px,#0000 0 139.8px,#000 0 151.3px,#0000 0 154.9px,#000 0 157.8px,#0000 0 162.2px,#000 0 165.0px,#0000 0 178.0px,#000 0 179.5px,#0000 0 180.2px,#000 0 182.3px,#0000 0 190.3px,#000 0 193.9px,#0000 0 194.6px,#000 0 196.7px,#0000 0 201.8px,#000 0 204.0px,#0000 0 211.2px,#000 0 213.3px,#0000 0 217.6px,#000 0 219.8px,#0000 0 221.2px,#000 0 224.9px,#0000 0 225.6px,#000 0 226.3px,#0000 0 237.8px,#000 0 241.4px,#0000 0 242.1px,#000 0 245.0px,#0000 0 248.6px,#000 0 250.8px,#0000 0 252.2px,#000 0 258.0px,#0000 0 270.3px,#000 0 271.0px,#0000 0 276.7px,#000 0 278.9px,#0000 0 283.2px,#000 0 289.0px,#0000 0 299.8px,#000 0 300.5px,#0000 0 309.9px,#000 0 312.8px,#0000 0 314.9px,#000 0 317.8px,#0000 0 320.7px,#000 0 321.4px,#0000 0 325.0px,#000 0 325.7px,#0000 0 344.5px,#000 0 345.2px,#0000 0 346.6px,#000 0 347.4px,#0000 0 348.1px,#000 0 348.8px,#0000 0 352.4px,#000 0 355.3px,#0000 0 357.5px,#000 0 363.9px,#0000 0 365.4px,#000 0 366.8px,#0000 0 367.5px,#000 0 368.3px,#0000 0 373.3px,#000 0 375.5px,#0000 0 376.9px,#000 0 382.0px,#0000 0 384.1px,#000 0 386.3px,#0000 0 387.0px,#000 0 392.1px,#0000 0 397.8px,#000 0 400.7px,#0000 0 402.1px,#000 0 404.3px,#0000 0 407.2px,#000 0 407.9px,#0000 0)"></div>
<div class="b" style="left:358.7px;top:925.7px;width:176.5px;height:409.3px;opacity:0.40;background:linear-gradient(to bottom,#0000 0 5.8px,#4433cc 0 6.5px,#4538d7 0 7.9px,#0000 0 10.8px,#422fc1 0 11.5px,#0000 0 62.0px,#4538d7 0 62.7px,#0000 0 87.2px,#4538d7 0 87.9px,#0000 0 90.8px,#4538d7 0 91.5px,#0000 0 92.2px,#2f80fa 0 94.4px,#0000 0 95.9px,#422fc1 0 97.3px,#4538d7 0 98.0px,#0000 0 103.1px,#4433cc 0 104.5px,#0000 0 129.7px,#422fc1 0 131.9px,#0000 0 135.5px,#4538d7 0 136.2px,#0000 0 142.7px,#4433cc 0 144.9px,#0000 0 148.5px,#422fc1 0 151.3px,#0000 0 154.9px,#4433cc 0 157.8px,#0000 0 180.2px,#422fc1 0 180.9px,#0000 0 217.6px,#422fc1 0 218.4px,#0000 0 237.8px,#4433cc 0 239.3px,#0000 0 242.9px,#4433cc 0 243.6px,#422fc1 0 245.0px,#0000 0 277.5px,#4538d7 0 278.2px,#0000 0 285.4px,#463de0 0 286.1px,#0000 0 312.1px,#422fc1 0 312.8px,#0000 0 314.9px,#422fc1 0 315.7px,#0000 0 365.4px,#4433cc 0 366.8px,#0000 0 373.3px,#422fc1 0 374.8px,#0000 0 384.8px,#4538d7 0 385.6px,#4433cc 0 386.3px,#0000 0 389.2px,#4433cc 0 392.1px,#0000 0 397.8px,#422fc1 0 399.3px,#0000 0);-webkit-mask-image:linear-gradient(to right,#000 0 3.8px,#0000 0 10.8px,#000 0 12.1px,#0000 0 17.2px,#000 0 19.1px,#0000 0 19.7px,#000 0 21.0px,#0000 0 22.3px,#000 0 23.6px,#0000 0 26.1px,#000 0 34.4px,#0000 0 37.6px,#000 0 38.2px,#0000 0 43.3px,#000 0 44.6px,#0000 0 54.1px,#000 0 56.1px,#0000 0 56.7px,#000 0 58.0px,#0000 0 61.2px,#000 0 63.1px,#0000 0 64.3px,#000 0 68.8px,#0000 0 70.1px,#000 0 71.3px,#0000 0 73.3px,#000 0 73.9px,#0000 0 75.2px,#000 0 77.1px,#0000 0 77.7px,#000 0 80.9px,#0000 0 123.6px,#000 0 126.1px,#0000 0 127.4px,#000 0 133.8px,#0000 0 140.1px,#000 0 141.4px,#0000 0 148.4px,#000 0 152.2px,#0000 0 156.7px,#000 0 158.6px,#0000 0 163.1px,#000 0 165.0px,#0000 0 166.3px,#000 0 171.4px,#0000 0 173.3px,#000 0 175.8px,#0000 0)"></div>
<div class="b" style="left:358.7px;top:925.7px;width:176.5px;height:409.3px;background:linear-gradient(to bottom,#0000 0 92.2px,#f9fb15 0 94.4px,#0000 0);-webkit-mask-image:linear-gradient(to right,#000 0 40.1px,#0000 0 40.8px,#000 0 45.9px,#0000 0 46.5px,#000 0 60.5px,#0000 0 61.2px,#000 0 133.8px,#0000 0 135.0px,#000 0 176.5px,#0000 0)"></div>
<div class="b" style="left:535.2px;top:925.7px;width:186.0px;height:409.3px;background:linear-gradient(to right,#4433cc 0 0.6px,#422fc1 0 1.3px,#0000 0 3.2px,#4433cc 0 3.8px,#0000 0 10.2px,#422fc1 0 11.5px,#0000 0 15.9px,#422fc1 0 18.5px,#0000 0 19.7px,#422fc1 0 21.7px,#0000 0 23.6px,#4433cc 0 24.8px,#422fc1 0 25.5px,#4433cc 0 28.7px,#0000 0 31.2px,#4433cc 0 32.5px,#406dfe 0 39.5px,#4743e7 0 44.6px,#406dfe 0 50.3px,#0000 0 51.0px,#4433cc 0 52.2px,#0000 0 54.8px,#4433cc 0 55.4px,#0000 0 58.6px,#4367fd 0 60.5px,#0000 0 67.5px,#484ff2 0 68.2px,#0000 0 69.4px,#347afd 0 72.6px,#0000 0 91.1px,#4433cc 0 91.7px,#4538d7 0 93.0px,#0000 0 94.9px,#422fc1 0 95.6px,#4433cc 0 96.8px,#0000 0 98.1px,#347afd 0 101.3px,#0000 0 101.9px,#422fc1 0 102.6px,#0000 0 103.2px,#422fc1 0 105.1px,#0000 0 110.8px,#4538d7 0 111.5px,#4433cc 0 112.1px,#4538d7 0 112.8px,#4433cc 0 113.4px,#463de0 0 114.0px,#0000 0 115.9px,#4743e7 0 117.2px,#0000 0 121.7px,#4433cc 0 122.3px,#0000 0 128.0px,#422fc1 0 129.3px,#0000 0 130.6px,#4433cc 0 132.5px,#4538d7 0 134.4px,#0000 0 135.0px,#422fc1 0 136.3px,#0000 0 140.1px,#259ce7 0 142.1px,#0000 0 144.6px,#4433cc 0 146.5px,#463de0 0 147.8px,#422fc1 0 148.4px,#0000 0 151.6px,#4743e7 0 152.2px,#4433cc 0 152.9px,#0000 0 157.3px,#4538d7 0 159.9px,#0000 0 161.8px,#4433cc 0 162.4px,#422fc1 0 163.7px,#0000 0 175.8px,#4433cc 0 177.1px,#422fc1 0 177.7px,#0000 0 181.5px,#347afd 0 183.5px,#0000 0);-webkit-mask-image:linear-gradient(to bottom,#0000 0 3.6px,#000 0 4.3px,#0000 0 5.8px,#000 0 8.6px,#0000 0 15.9px,#000 0 19.5px,#0000 0 22.3px,#000 0 24.5px,#0000 0 25.2px,#000 0 25.9px,#0000 0 29.5px,#000 0 30.3px,#0000 0 42.5px,#000 0 44.7px,#0000 0 49.0px,#000 0 49.7px,#0000 0 54.8px,#000 0 56.9px,#0000 0 59.8px,#000 0 63.4px,#0000 0 71.3px,#000 0 72.1px,#0000 0 75.0px,#000 0 75.7px,#0000 0 80.7px,#000 0 81.4px,#0000 0 84.3px,#000 0 87.2px,#0000 0 90.1px,#000 0 91.5px,#0000 0 92.2px,#000 0 94.4px,#0000 0 95.9px,#000 0 98.0px,#0000 0 110.3px,#000 0 111.7px,#0000 0 114.6px,#000 0 115.3px,#0000 0 119.6px,#000 0 120.4px,#0000 0 126.1px,#000 0 126.8px,#0000 0 129.7px,#000 0 133.3px,#0000 0 139.8px,#000 0 142.0px,#0000 0 142.7px,#000 0 149.9px,#0000 0 154.2px,#000 0 157.8px,#0000 0 162.2px,#000 0 165.0px,#0000 0 178.0px,#000 0 180.9px,#0000 0 190.3px,#000 0 191.7px,#0000 0 196.7px,#000 0 197.5px,#0000 0 204.0px,#000 0 206.8px,#0000 0 214.0px,#000 0 214.8px,#0000 0 217.6px,#000 0 218.4px,#0000 0 221.2px,#000 0 224.9px,#0000 0 232.1px,#000 0 233.5px,#0000 0 234.9px,#000 0 236.4px,#0000 0 237.8px,#000 0 241.4px,#0000 0 242.1px,#000 0 245.0px,#0000 0 248.6px,#000 0 250.1px,#0000 0 253.7px,#000 0 258.0px,#0000 0 270.3px,#000 0 272.4px,#0000 0 276.7px,#000 0 278.9px,#0000 0 285.4px,#000 0 288.3px,#0000 0 292.6px,#000 0 294.8px,#0000 0 299.8px,#000 0 302.7px,#0000 0 309.9px,#000 0 315.7px,#0000 0 316.4px,#000 0 317.8px,#0000 0 344.5px,#000 0 345.9px,#0000 0 346.6px,#000 0 348.1px,#0000 0 352.4px,#000 0 353.1px,#0000 0 353.9px,#000 0 356.0px,#0000 0 356.7px,#000 0 361.8px,#0000 0 376.2px,#000 0 380.5px,#0000 0 384.8px,#000 0 386.3px,#0000 0 388.4px,#000 0 392.1px,#0000 0 397.8px,#000 0 398.5px,#0000 0 399.3px,#000 0 400.0px,#0000 0 402.9px,#000 0 403.6px,#0000 0)"></div>
<div class="b" style="left:535.2px;top:925.7px;width:186.0px;height:409.3px;opacity:0.40;background:linear-gradient(to bottom,#0000 0 3.6px,#422fc1 0 4.3px,#0000 0 5.8px,#422fc1 0 7.9px,#4433cc 0 8.6px,#0000 0 15.9px,#422fc1 0 16.6px,#4849ed 0 18.7px,#4433cc 0 19.5px,#0000 0 22.3px,#4433cc 0 24.5px,#0000 0 25.2px,#4433cc 0 25.9px,#0000 0 29.5px,#4433cc 0 30.3px,#0000 0 42.5px,#4433cc 0 44.7px,#0000 0 49.0px,#4433cc 0 49.7px,#0000 0 54.8px,#422fc1 0 56.9px,#0000 0 59.8px,#4743e7 0 60.5px,#4849ed 0 61.3px,#4743e7 0 62.7px,#422fc1 0 63.4px,#0000 0 71.3px,#422fc1 0 72.1px,#0000 0 75.0px,#4538d7 0 75.7px,#0000 0 80.7px,#4433cc 0 81.4px,#0000 0 84.3px,#4538d7 0 87.2px,#0000 0 90.1px,#422fc1 0 90.8px,#4849ed 0 91.5px,#0000 0 92.2px,#3a74fe 0 94.4px,#0000 0 95.9px,#4538d7 0 98.0px,#0000 0 110.3px,#4433cc 0 111.7px,#0000 0 114.6px,#422fc1 0 115.3px,#0000 0 119.6px,#422fc1 0 120.4px,#0000 0 126.1px,#422fc1 0 126.8px,#0000 0 129.7px,#4538d7 0 133.3px,#0000 0 139.8px,#4433cc 0 142.0px,#422fc1 0 142.7px,#463de0 0 144.9px,#4538d7 0 145.6px,#4433cc 0 146.3px,#463de0 0 147.7px,#4743e7 0 148.5px,#4538d7 0 149.9px,#0000 0 154.2px,#463de0 0 156.4px,#4433cc 0 157.8px,#0000 0 162.2px,#4538d7 0 162.9px,#484ff2 0 163.6px,#463de0 0 164.3px,#4433cc 0 165.0px,#0000 0 172.2px,#422fc1 0 173.0px,#0000 0 178.0px,#422fc1 0 178.7px,#4433cc 0 179.5px,#422fc1 0 180.2px,#4433cc 0 180.9px,#0000 0 190.3px,#4433cc 0 191.7px,#0000 0 196.7px,#4433cc 0 197.5px,#0000 0 204.0px,#4433cc 0 206.8px,#0000 0 214.0px,#422fc1 0 214.8px,#0000 0 217.6px,#463de0 0 218.4px,#0000 0 221.2px,#422fc1 0 222.7px,#4433cc 0 224.9px,#0000 0 228.5px,#422fc1 0 229.2px,#0000 0 232.1px,#4433cc 0 233.5px,#0000 0 234.9px,#422fc1 0 236.4px,#0000 0 237.8px,#4433cc 0 241.4px,#0000 0 242.1px,#4538d7 0 245.0px,#0000 0 248.6px,#463de0 0 250.1px,#0000 0 253.7px,#4433cc 0 254.4px,#4538d7 0 255.1px,#4433cc 0 258.0px,#0000 0 270.3px,#422fc1 0 271.0px,#4538d7 0 271.7px,#422fc1 0 274.6px,#0000 0 276.7px,#422fc1 0 277.5px,#4849ed 0 278.9px,#0000 0 285.4px,#4433cc 0 286.1px,#422fc1 0 288.3px,#0000 0 292.6px,#4433cc 0 294.8px,#0000 0 299.8px,#4433cc 0 302.7px,#0000 0 309.9px,#4849ed 0 312.1px,#463de0 0 313.5px,#4433cc 0 315.7px,#0000 0 316.4px,#4433cc 0 317.8px,#0000 0 344.5px,#4538d7 0 345.2px,#4433cc 0 345.9px,#0000 0 346.6px,#422fc1 0 348.1px,#0000 0 352.4px,#4433cc 0 353.1px,#0000 0 353.9px,#4433cc 0 356.0px,#0000 0 356.7px,#4433cc 0 360.3px,#422fc1 0 361.8px,#0000 0 376.2px,#422fc1 0 376.9px,#4538d7 0 377.6px,#4433cc 0 380.5px,#0000 0 384.8px,#463de0 0 386.3px,#0000 0 388.4px,#463de0 0 389.9px,#475bf9 0 390.6px,#4433cc 0 392.1px,#0000 0 397.8px,#4433cc 0 398.5px,#0000 0 399.3px,#422fc1 0 400.0px,#0000 0 402.9px,#422fc1 0 403.6px,#0000 0);-webkit-mask-image:linear-gradient(to right,#000 0 1.3px,#0000 0 3.2px,#000 0 3.8px,#0000 0 10.2px,#000 0 11.5px,#0000 0 15.9px,#000 0 18.5px,#0000 0 19.7px,#000 0 21.7px,#0000 0 23.6px,#000 0 28.7px,#0000 0 31.2px,#000 0 50.3px,#0000 0 51.0px,#000 0 52.2px,#0000 0 54.8px,#000 0 55.4px,#0000 0 58.6px,#000 0 60.5px,#0000 0 67.5px,#000 0 68.2px,#0000 0 69.4px,#000 0 72.6px,#0000 0 91.1px,#000 0 93.0px,#0000 0 94.9px,#000 0 96.8px,#0000 0 98.1px,#000 0 101.3px,#0000 0 101.9px,#000 0 102.6px,#0000 0 103.2px,#000 0 105.1px,#0000 0 110.8px,#000 0 114.0px,#0000 0 115.9px,#000 0 117.2px,#0000 0 121.7px,#000 0 122.3px,#0000 0 128.0px,#000 0 129.3px,#0000 0 130.6px,#000 0 134.4px,#0000 0 135.0px,#000 0 136.3px,#0000 0 140.1px,#000 0 142.1px,#0000 0 144.6px,#000 0 148.4px,#0000 0 151.6px,#000 0 152.9px,#0000 0 157.3px,#000 0 159.9px,#0000 0 161.8px,#000 0 163.7px,#0000 0 175.8px,#000 0 177.7px,#0000 0 181.5px,#000 0 183.5px,#0000 0)"></div>
<div class="b" style="left:535.2px;top:925.7px;width:186.0px;height:409.3px;background:linear-gradient(to bottom,#0000 0 92.2px,#f9fb15 0 94.4px,#0000 0);-webkit-mask-image:linear-gradient(to right,#000 0 7.0px,#0000 0 7.6px,#000 0 50.3px,#0000 0 51.0px,#000 0 52.9px,#0000 0 54.1px,#000 0 57.3px,#0000 0 58.0px,#000 0 63.1px,#0000 0 67.5px,#000 0 72.6px,#0000 0 74.5px,#000 0 77.7px,#0000 0 79.0px,#000 0 83.4px,#0000 0 85.4px,#000 0 86.0px,#0000 0 90.5px,#000 0 101.3px,#0000 0 101.9px,#000 0 102.6px,#0000 0 103.2px,#000 0 105.7px,#0000 0 106.4px,#000 0 107.0px,#0000 0 108.3px,#000 0 114.7px,#0000 0 115.9px,#000 0 118.5px,#0000 0 121.7px,#000 0 122.9px,#0000 0 124.2px,#000 0 124.9px,#0000 0 128.0px,#000 0 137.6px,#0000 0 138.2px,#000 0 139.5px,#0000 0 140.1px,#000 0 142.1px,#0000 0 142.7px,#000 0 170.7px,#0000 0 172.6px,#000 0 173.3px,#0000 0 175.2px,#000 0 179.6px,#0000 0 180.3px,#000 0 184.1px,#0000 0)"></div>
<div class="b" style="left:721.2px;top:925.7px;width:179.0px;height:409.3px;background:linear-gradient(to right,#0000 0 1.9px,#2d8cf3 0 3.2px,#0000 0 12.1px,#2d8cf3 0 13.4px,#0000 0 20.4px,#422fc1 0 21.7px,#0000 0 28.7px,#2d8cf3 0 29.9px,#0000 0 38.2px,#4433cc 0 39.5px,#0000 0 41.4px,#422fc1 0 42.7px,#0000 0 45.9px,#2d8cf3 0 47.1px,#0000 0 56.1px,#2d8cf3 0 57.3px,#422fc1 0 58.6px,#0000 0 71.3px,#2d8cf3 0 72.6px,#0000 0 74.5px,#422fc1 0 77.1px,#0000 0 80.3px,#2d8cf3 0 81.5px,#0000 0 82.2px,#4433cc 0 83.4px,#0000 0 87.9px,#2d8cf3 0 89.2px,#0000 0 99.4px,#4367fd 0 108.9px,#0000 0 129.9px,#2d8cf3 0 131.2px,#0000 0 133.8px,#4433cc 0 134.4px,#0000 0 142.7px,#2e86f7 0 153.5px,#0000 0 166.9px,#4433cc 0 168.2px,#0000 0);-webkit-mask-image:linear-gradient(to bottom,#0000 0 3.6px,#000 0 4.3px,#0000 0 18.0px,#000 0 19.5px,#0000 0 58.4px,#000 0 59.8px,#0000 0 61.3px,#000 0 62.7px,#0000 0 68.5px,#000 0 69.9px,#0000 0 80.7px,#000 0 82.2px,#0000 0 90.8px,#000 0 91.5px,#0000 0 92.2px,#000 0 94.4px,#0000 0 100.2px,#000 0 101.6px,#0000 0 118.9px,#000 0 120.4px,#0000 0 123.2px,#000 0 124.7px,#0000 0 126.1px,#000 0 126.8px,#0000 0 127.6px,#000 0 129.0px,#0000 0 142.7px,#000 0 144.9px,#0000 0 149.9px,#000 0 151.3px,#0000 0 162.2px,#000 0 163.6px,#0000 0 178.7px,#000 0 180.9px,#0000 0 190.3px,#000 0 191.0px,#0000 0 196.7px,#000 0 197.5px,#0000 0 202.5px,#000 0 204.0px,#0000 0 217.6px,#000 0 219.1px,#0000 0 221.2px,#000 0 222.7px,#0000 0 232.8px,#000 0 234.2px,#0000 0 237.8px,#000 0 238.5px,#0000 0 240.7px,#000 0 241.4px,#0000 0 242.1px,#000 0 245.0px,#0000 0 260.9px,#000 0 262.3px,#0000 0 276.7px,#000 0 278.9px,#0000 0 299.8px,#000 0 301.2px,#0000 0 302.0px,#000 0 302.7px,#0000 0 309.9px,#000 0 311.3px,#0000 0 312.8px,#000 0 316.4px,#0000 0 325.7px,#000 0 326.5px,#0000 0 340.2px,#000 0 341.6px,#0000 0 347.4px,#000 0 348.1px,#0000 0 361.1px,#000 0 363.9px,#0000 0 378.4px,#000 0 379.1px,#0000 0 384.8px,#000 0 389.2px,#0000 0 390.6px,#000 0 392.1px,#0000 0 399.3px,#000 0 402.9px,#0000 0)"></div>
<div class="b" style="left:721.2px;top:925.7px;width:179.0px;height:409.3px;opacity:0.40;background:linear-gradient(to bottom,#0000 0 18.0px,#2d8cf3 0 19.5px,#0000 0 58.4px,#2d8cf3 0 59.8px,#0000 0 61.3px,#422fc1 0 62.7px,#0000 0 68.5px,#2d8cf3 0 69.9px,#0000 0 80.7px,#2d8cf3 0 82.2px,#0000 0 90.8px,#422fc1 0 91.5px,#0000 0 92.2px,#2d8cf3 0 94.4px,#0000 0 100.2px,#2d8cf3 0 101.6px,#0000 0 118.9px,#2d8cf3 0 120.4px,#0000 0 123.2px,#2d8cf3 0 124.7px,#0000 0 126.1px,#422fc1 0 126.8px,#0000 0 127.6px,#2d8cf3 0 129.0px,#0000 0 142.7px,#4433cc 0 144.9px,#0000 0 149.9px,#2d8cf3 0 151.3px,#0000 0 162.2px,#4433cc 0 163.6px,#0000 0 196.7px,#422fc1 0 197.5px,#0000 0 217.6px,#2d8cf3 0 219.1px,#0000 0 221.2px,#4433cc 0 222.7px,#0000 0 232.8px,#2d8cf3 0 234.2px,#0000 0 260.9px,#2d8cf3 0 262.3px,#0000 0 276.7px,#422fc1 0 277.5px,#4433cc 0 278.9px,#0000 0 302.0px,#422fc1 0 302.7px,#0000 0 314.9px,#2d8cf3 0 316.4px,#0000 0 340.2px,#2d8cf3 0 341.6px,#0000 0 362.5px,#2d8cf3 0 363.9px,#0000 0 378.4px,#422fc1 0 379.1px,#0000 0 384.8px,#4433cc 0 386.3px,#0000 0 387.0px,#422fc1 0 388.4px,#4538d7 0 389.2px,#0000 0);-webkit-mask-image:linear-gradient(to right,#0000 0 1.9px,#000 0 3.2px,#0000 0 12.1px,#000 0 13.4px,#0000 0 28.7px,#000 0 29.9px,#0000 0 45.9px,#000 0 47.1px,#0000 0 56.1px,#000 0 57.3px,#0000 0 71.3px,#000 0 72.6px,#0000 0 80.3px,#000 0 81.5px,#0000 0 87.9px,#000 0 89.2px,#0000 0 99.4px,#000 0 108.9px,#0000 0 129.9px,#000 0 131.2px,#0000 0 142.7px,#000 0 153.5px,#0000 0)"></div>
<div class="b" style="left:900.2px;top:925.7px;width:361.8px;height:409.3px;background:linear-gradient(to right,#0000 0 3.2px,#4433cc 0 3.8px,#0000 0 15.9px,#406dfe 0 17.2px,#0000 0 47.1px,#4433cc 0 47.8px,#0000 0 51.6px,#406dfe 0 52.9px,#0000 0 53.5px,#4433cc 0 55.4px,#0000 0 60.5px,#406dfe 0 61.8px,#0000 0 66.2px,#422fc1 0 66.9px,#0000 0 71.3px,#406dfe 0 72.6px,#0000 0 80.3px,#4433cc 0 80.9px,#0000 0 81.5px,#259ce7 0 83.4px,#0000 0 88.5px,#406dfe 0 89.8px,#0000 0 105.1px,#406dfe 0 106.4px,#0000 0 108.9px,#406dfe 0 110.2px,#0000 0 111.5px,#422fc1 0 112.1px,#0000 0 112.8px,#406dfe 0 114.0px,#0000 0 114.7px,#422fc1 0 115.3px,#4433cc 0 116.6px,#0000 0 126.1px,#4433cc 0 128.0px,#0000 0 129.3px,#4538d7 0 129.9px,#0000 0 132.5px,#406dfe 0 133.8px,#0000 0 143.3px,#4433cc 0 144.6px,#0000 0 192.4px,#406dfe 0 193.6px,#0000 0 195.6px,#422fc1 0 197.5px,#0000 0 205.8px,#406dfe 0 207.0px,#0000 0 230.6px,#406dfe 0 231.9px,#0000 0 244.6px,#463de0 0 245.2px,#0000 0 258.6px,#4433cc 0 259.9px,#0000 0 277.7px,#4433cc 0 278.4px,#406dfe 0 279.6px,#0000 0 300.7px,#406dfe 0 301.9px,#0000 0 320.4px,#406dfe 0 321.7px,#0000 0 335.7px,#4433cc 0 336.3px,#422fc1 0 337.0px,#0000 0 343.3px,#4433cc 0 344.6px,#0000 0 356.7px,#422fc1 0 357.4px,#0000 0);-webkit-mask-image:linear-gradient(to bottom,#0000 0 3.6px,#000 0 4.3px,#0000 0 5.8px,#000 0 6.5px,#0000 0 7.9px,#000 0 8.6px,#0000 0 18.0px,#000 0 19.5px,#0000 0 25.2px,#000 0 25.9px,#0000 0 44.7px,#000 0 46.1px,#0000 0 53.3px,#000 0 54.1px,#0000 0 58.4px,#000 0 59.8px,#0000 0 60.5px,#000 0 62.7px,#0000 0 68.5px,#000 0 69.9px,#0000 0 75.0px,#000 0 75.7px,#0000 0 80.7px,#000 0 82.2px,#0000 0 90.8px,#000 0 91.5px,#0000 0 92.2px,#000 0 94.4px,#0000 0 100.2px,#000 0 101.6px,#0000 0 118.9px,#000 0 120.4px,#0000 0 123.2px,#000 0 124.7px,#0000 0 126.1px,#000 0 126.8px,#0000 0 127.6px,#000 0 129.0px,#0000 0 129.7px,#000 0 131.9px,#0000 0 142.7px,#000 0 144.9px,#0000 0 145.6px,#000 0 147.0px,#0000 0 149.9px,#000 0 151.3px,#0000 0 154.9px,#000 0 157.8px,#0000 0 162.2px,#000 0 163.6px,#0000 0 217.6px,#000 0 219.1px,#0000 0 221.2px,#000 0 223.4px,#0000 0 232.8px,#000 0 234.2px,#0000 0 254.4px,#000 0 255.1px,#0000 0 260.9px,#000 0 262.3px,#0000 0 276.7px,#000 0 277.5px,#0000 0 285.4px,#000 0 286.8px,#0000 0 292.6px,#000 0 294.8px,#0000 0 301.2px,#000 0 302.7px,#0000 0 314.2px,#000 0 316.4px,#0000 0 340.2px,#000 0 341.6px,#0000 0 352.4px,#000 0 353.1px,#0000 0 362.5px,#000 0 363.9px,#0000 0 365.4px,#000 0 367.5px,#0000 0 379.8px,#000 0 381.2px,#0000 0 384.8px,#000 0 386.3px,#0000 0 388.4px,#000 0 389.9px,#0000 0 403.6px,#000 0 404.3px,#0000 0 406.5px,#000 0 408.6px,#0000 0)"></div>
<div class="b" style="left:900.2px;top:925.7px;width:361.8px;height:409.3px;opacity:0.40;background:linear-gradient(to bottom,#0000 0 3.6px,#4433cc 0 4.3px,#0000 0 18.0px,#406dfe 0 19.5px,#0000 0 53.3px,#4433cc 0 54.1px,#0000 0 58.4px,#406dfe 0 59.8px,#0000 0 60.5px,#4433cc 0 62.7px,#0000 0 68.5px,#406dfe 0 69.9px,#0000 0 75.0px,#422fc1 0 75.7px,#0000 0 80.7px,#406dfe 0 82.2px,#0000 0 90.8px,#4433cc 0 91.5px,#0000 0 92.2px,#259ce7 0 94.4px,#0000 0 100.2px,#406dfe 0 101.6px,#0000 0 118.9px,#406dfe 0 120.4px,#0000 0 123.2px,#406dfe 0 124.7px,#0000 0 126.1px,#422fc1 0 126.8px,#0000 0 127.6px,#406dfe 0 129.0px,#0000 0 129.7px,#422fc1 0 130.4px,#4433cc 0 131.9px,#0000 0 142.7px,#4433cc 0 144.9px,#0000 0 146.3px,#4538d7 0 147.0px,#0000 0 149.9px,#406dfe 0 151.3px,#0000 0 162.2px,#4433cc 0 163.6px,#0000 0 217.6px,#406dfe 0 219.1px,#0000 0 221.2px,#422fc1 0 223.4px,#0000 0 232.8px,#406dfe 0 234.2px,#0000 0 260.9px,#406dfe 0 262.3px,#0000 0 276.7px,#463de0 0 277.5px,#0000 0 292.6px,#4433cc 0 294.0px,#0000 0 314.2px,#4433cc 0 314.9px,#406dfe 0 316.4px,#0000 0 340.2px,#406dfe 0 341.6px,#0000 0 362.5px,#406dfe 0 363.9px,#0000 0 379.8px,#4433cc 0 380.5px,#422fc1 0 381.2px,#0000 0 388.4px,#4433cc 0 389.9px,#0000 0 403.6px,#422fc1 0 404.3px,#0000 0);-webkit-mask-image:linear-gradient(to right,#0000 0 3.2px,#000 0 3.8px,#0000 0 5.1px,#000 0 5.7px,#0000 0 7.0px,#000 0 7.6px,#0000 0 15.9px,#000 0 17.2px,#0000 0 22.3px,#000 0 22.9px,#0000 0 39.5px,#000 0 40.8px,#0000 0 47.1px,#000 0 47.8px,#0000 0 51.6px,#000 0 52.9px,#0000 0 53.5px,#000 0 55.4px,#0000 0 60.5px,#000 0 61.8px,#0000 0 66.2px,#000 0 66.9px,#0000 0 71.3px,#000 0 72.6px,#0000 0 80.3px,#000 0 80.9px,#0000 0 81.5px,#000 0 83.4px,#0000 0 88.5px,#000 0 89.8px,#0000 0 105.1px,#000 0 106.4px,#0000 0 108.9px,#000 0 110.2px,#0000 0 111.5px,#000 0 112.1px,#0000 0 112.8px,#000 0 114.0px,#0000 0 114.7px,#000 0 116.6px,#0000 0 126.1px,#000 0 128.0px,#0000 0 128.7px,#000 0 129.9px,#0000 0 132.5px,#000 0 133.8px,#0000 0 137.0px,#000 0 139.5px,#0000 0 143.3px,#000 0 144.6px,#0000 0 192.4px,#000 0 193.6px,#0000 0 195.6px,#000 0 197.5px,#0000 0 205.8px,#000 0 207.0px,#0000 0 224.9px,#000 0 225.5px,#0000 0 230.6px,#000 0 231.9px,#0000 0 244.6px,#000 0 245.2px,#0000 0 252.3px,#000 0 253.5px,#0000 0 258.6px,#000 0 260.5px,#0000 0 266.3px,#000 0 267.5px,#0000 0 277.7px,#000 0 279.6px,#0000 0 300.7px,#000 0 301.9px,#0000 0 311.5px,#000 0 312.1px,#0000 0 320.4px,#000 0 321.7px,#0000 0 323.0px,#000 0 324.9px,#0000 0 335.7px,#000 0 337.0px,#0000 0 340.2px,#000 0 341.4px,#0000 0 343.3px,#000 0 344.6px,#0000 0 356.7px,#000 0 357.4px,#0000 0 359.3px,#000 0 361.2px,#0000 0)"></div>
<svg width="1500" height="1500" viewBox="0 0 1500 1500">
<rect x="439.6" y="404.6" width="39.5" height="44.7" fill="#f9fb15"/>
<line x1="439.6" y1="404.6" x2="479.1" y2="449.3" stroke="#3e26a8" stroke-width="1"/>
<rect x="504.6" y="478.1" width="8.9" height="10.1" fill="#f9fb15"/>
<line x1="504.6" y1="478.1" x2="513.5" y2="488.2" stroke="#3e26a8" stroke-width="1"/>
<rect x="614.8" y="602.8" width="8.3" height="9.4" fill="#f9fb15"/>
<line x1="614.8" y1="602.8" x2="623.1" y2="612.2" stroke="#3e26a8" stroke-width="1"/>
<rect x="653.0" y="646.0" width="11.5" height="13.0" fill="#f9fb15"/>
<line x1="653.0" y1="646.0" x2="664.5" y2="659.0" stroke="#3e26a8" stroke-width="1"/>
<rect x="195.7" y="128.6" width="8.9" height="10.1" fill="#f9fb15"/>
<line x1="195.7" y1="128.6" x2="204.6" y2="138.7" stroke="#3e26a8" stroke-width="1"/>
<rect x="862.6" y="883.1" width="12.7" height="14.4" fill="#05b6ce"/>
<line x1="862.6" y1="883.1" x2="875.3" y2="897.5" stroke="#3e26a8" stroke-width="1"/>
<rect x="614.8" y="404.6" width="8.3" height="44.7" fill="#f9fb15"/>
<rect x="439.6" y="602.8" width="39.5" height="9.4" fill="#f9fb15"/>
<rect x="653.0" y="404.6" width="11.5" height="44.7" fill="#1caadf"/>
<rect x="439.6" y="646.0" width="39.5" height="13.0" fill="#1caadf"/>
<rect x="228.1" y="165.3" width="2.5" height="2.9" fill="#f9fb15"/>
<line x1="228.1" y1="165.3" x2="230.7" y2="168.2" stroke="#3e26a8" stroke-width="1"/>
<rect x="251.1" y="191.3" width="2.5" height="2.9" fill="#f9fb15"/>
<line x1="251.1" y1="191.3" x2="253.6" y2="194.2" stroke="#3e26a8" stroke-width="1"/>
<rect x="679.1" y="646.0" width="2.5" height="13.0" fill="#f9fb15"/>
<rect x="653.0" y="675.6" width="11.5" height="2.9" fill="#f9fb15"/>
<rect x="591.9" y="646.0" width="3.2" height="13.0" fill="#f9fb15"/>
<rect x="653.0" y="576.8" width="11.5" height="3.6" fill="#f9fb15"/>
<rect x="714.8" y="715.9" width="5.7" height="6.5" fill="#fad42e"/>
<line x1="714.8" y1="715.9" x2="720.5" y2="722.4" stroke="#3e26a8" stroke-width="1"/>
<rect x="1077.3" y="404.6" width="1.9" height="44.7" fill="#f9fb15"/>
<rect x="439.6" y="1126.0" width="39.5" height="2.2" fill="#f9fb15"/>
<rect x="439.6" y="527.8" width="39.5" height="0.7" fill="#f9fb15"/>
<rect x="548.6" y="404.6" width="0.6" height="44.7" fill="#f9fb15"/>
<rect x="439.6" y="552.3" width="39.5" height="5.0" fill="#48cb86"/>
<rect x="570.2" y="404.6" width="4.5" height="44.7" fill="#48cb86"/>
<path d="M439.6 554.9H479.1" stroke="#f9fb15" stroke-width="5.0" stroke-dasharray="5 2 3 1 6 2"/>
<path d="M572.4 404.6V449.3" stroke="#f9fb15" stroke-width="4.5" stroke-dasharray="5 2 3 1 6 2"/>
<rect x="439.6" y="562.4" width="39.5" height="6.5" fill="#05b6ce"/>
<rect x="579.1" y="404.6" width="5.7" height="44.7" fill="#05b6ce"/>
<path d="M439.6 565.7H479.1" stroke="#58cc79" stroke-width="6.5" stroke-dasharray="3 2 4 2 2 1"/>
<path d="M582.0 404.6V449.3" stroke="#58cc79" stroke-width="5.7" stroke-dasharray="3 2 4 2 2 1"/>
<rect x="439.6" y="574.0" width="39.5" height="0.7" fill="#f9fb15"/>
<rect x="589.3" y="404.6" width="0.6" height="44.7" fill="#f9fb15"/>
<path d="M439.6 580.8H479.1" stroke="#2fc5a2" stroke-width="0.7" stroke-dasharray="4 3"/>
<path d="M595.4 404.6V449.3" stroke="#2fc5a2" stroke-width="0.6" stroke-dasharray="4 3"/>
<rect x="439.6" y="591.3" width="39.5" height="4.3" fill="#15afd9"/>
<rect x="604.6" y="404.6" width="3.8" height="44.7" fill="#15afd9"/>
<rect x="439.6" y="615.0" width="39.5" height="0.7" fill="#2d8cf3"/>
<rect x="625.6" y="404.6" width="0.6" height="44.7" fill="#2d8cf3"/>
<rect x="439.6" y="619.4" width="39.5" height="0.7" fill="#2d8cf3"/>
<rect x="629.5" y="404.6" width="0.6" height="44.7" fill="#2d8cf3"/>
<path d="M439.6 624.8H479.1" stroke="#f9fb15" stroke-width="0.7" stroke-dasharray="6 2 2 2"/>
<path d="M634.2 404.6V449.3" stroke="#f9fb15" stroke-width="0.6" stroke-dasharray="6 2 2 2"/>
<path d="M439.6 673.1H479.1" stroke="#f9fb15" stroke-width="2.2" stroke-dasharray="8 1 5 2 9 1"/>
<path d="M676.9 404.6V449.3" stroke="#f9fb15" stroke-width="1.9" stroke-dasharray="8 1 5 2 9 1"/>
<rect x="439.6" y="678.5" width="39.5" height="0.7" fill="#2d8cf3"/>
<rect x="681.7" y="404.6" width="0.6" height="44.7" fill="#2d8cf3"/>
<rect x="439.6" y="701.5" width="39.5" height="0.7" fill="#f9fb15"/>
<rect x="702.1" y="404.6" width="0.6" height="44.7" fill="#f9fb15"/>
<path d="M439.6 717.4H479.1" stroke="#fec13a" stroke-width="1.4" stroke-dasharray="5 2"/>
<path d="M716.1 404.6V449.3" stroke="#fec13a" stroke-width="1.3" stroke-dasharray="5 2"/>
<rect x="439.6" y="646.0" width="6.4" height="13.0" fill="#f9fb15"/>
<rect x="653.0" y="404.6" width="11.5" height="7.2" fill="#f9fb15"/>
<rect x="465.7" y="646.0" width="5.1" height="13.0" fill="#f9fb15"/>
<rect x="653.0" y="404.6" width="11.5" height="7.2" fill="#f9fb15"/>
<rect x="447.3" y="646.0" width="5.1" height="13.0" fill="#2fc5a2"/>
<rect x="653.0" y="413.2" width="11.5" height="5.8" fill="#2fc5a2"/>
<rect x="400.1" y="476.7" width="1.9" height="2.2" fill="#f9fb15"/>
<rect x="503.3" y="359.9" width="1.9" height="2.2" fill="#f9fb15"/>
<rect x="488.0" y="481.7" width="1.3" height="2.2" fill="#f9fb15"/>
<rect x="507.8" y="459.4" width="1.9" height="1.4" fill="#f9fb15"/>
<rect x="367.0" y="481.7" width="1.9" height="1.4" fill="#259ce7"/>
<rect x="507.8" y="322.4" width="1.3" height="2.2" fill="#259ce7"/>
<rect x="398.9" y="399.6" width="1.9" height="1.4" fill="#f9fb15"/>
<rect x="435.2" y="358.5" width="1.3" height="2.2" fill="#f9fb15"/>
<rect x="360.6" y="358.5" width="1.9" height="2.2" fill="#f9fb15"/>
<rect x="398.9" y="315.2" width="1.9" height="2.2" fill="#f9fb15"/>
<rect x="526.9" y="346.2" width="1.3" height="1.4" fill="#f9fb15"/>
<rect x="388.0" y="503.3" width="1.3" height="1.4" fill="#f9fb15"/>
<rect x="379.1" y="394.5" width="1.3" height="1.4" fill="#f9fb15"/>
<rect x="430.7" y="336.1" width="1.3" height="1.4" fill="#f9fb15"/>
<rect x="393.8" y="504.8" width="1.3" height="1.4" fill="#259ce7"/>
<rect x="528.2" y="352.7" width="1.3" height="1.4" fill="#259ce7"/>
<rect x="409.7" y="366.4" width="1.9" height="2.2" fill="#259ce7"/>
<rect x="405.9" y="370.7" width="1.9" height="2.2" fill="#259ce7"/>
<rect x="391.8" y="477.4" width="1.3" height="2.2" fill="#f9fb15"/>
<rect x="504.0" y="350.5" width="1.9" height="1.4" fill="#f9fb15"/>
<rect x="407.1" y="383.7" width="1.3" height="2.2" fill="#f9fb15"/>
<rect x="421.2" y="367.8" width="1.9" height="1.4" fill="#f9fb15"/>
<rect x="401.4" y="339.7" width="1.9" height="2.2" fill="#f9fb15"/>
<rect x="382.3" y="361.4" width="1.9" height="2.2" fill="#f9fb15"/>
<rect x="358.7" y="470.2" width="1.9" height="2.2" fill="#f9fb15"/>
<rect x="497.6" y="313.1" width="1.9" height="2.2" fill="#f9fb15"/>
<rect x="409.0" y="324.6" width="1.9" height="2.2" fill="#f9fb15"/>
<rect x="368.9" y="370.0" width="1.9" height="2.2" fill="#f9fb15"/>
<rect x="409.7" y="490.4" width="1.9" height="2.2" fill="#f9fb15"/>
<rect x="515.4" y="370.7" width="1.9" height="2.2" fill="#f9fb15"/>
<rect x="367.6" y="345.5" width="1.9" height="1.4" fill="#f9fb15"/>
<rect x="387.4" y="323.2" width="1.3" height="2.2" fill="#f9fb15"/>
<rect x="424.3" y="378.7" width="1.9" height="2.2" fill="#f9fb15"/>
<rect x="416.7" y="387.3" width="1.9" height="2.2" fill="#f9fb15"/>
<rect x="496.3" y="382.3" width="1.3" height="2.2" fill="#259ce7"/>
<rect x="419.9" y="468.7" width="1.9" height="1.4" fill="#259ce7"/>
<rect x="388.0" y="492.5" width="1.3" height="1.4" fill="#f9fb15"/>
<rect x="517.3" y="346.2" width="1.3" height="1.4" fill="#f9fb15"/>
<rect x="398.2" y="501.2" width="1.9" height="2.2" fill="#259ce7"/>
<rect x="525.0" y="357.8" width="1.9" height="2.2" fill="#259ce7"/>
<rect x="416.1" y="456.5" width="1.9" height="2.2" fill="#259ce7"/>
<rect x="485.5" y="377.9" width="1.9" height="2.2" fill="#259ce7"/>
<rect x="497.6" y="332.5" width="1.9" height="2.2" fill="#f9fb15"/>
<rect x="375.9" y="470.2" width="1.9" height="2.2" fill="#f9fb15"/>
<rect x="428.8" y="319.6" width="1.3" height="1.4" fill="#259ce7"/>
<rect x="364.5" y="392.3" width="1.3" height="1.4" fill="#259ce7"/>
<rect x="485.5" y="375.8" width="1.9" height="1.4" fill="#f9fb15"/>
<rect x="414.1" y="456.5" width="1.3" height="2.2" fill="#f9fb15"/>
<rect x="516.1" y="363.5" width="1.9" height="2.2" fill="#f9fb15"/>
<rect x="403.3" y="491.1" width="1.9" height="2.2" fill="#f9fb15"/>
<rect x="532.0" y="345.5" width="1.9" height="1.4" fill="#f9fb15"/>
<rect x="387.4" y="509.1" width="1.3" height="2.2" fill="#f9fb15"/>
<rect x="409.0" y="488.9" width="1.9" height="1.4" fill="#259ce7"/>
<rect x="514.2" y="370.0" width="1.3" height="2.2" fill="#259ce7"/>
<rect x="371.5" y="321.7" width="1.9" height="2.2" fill="#259ce7"/>
<rect x="366.4" y="327.5" width="1.9" height="2.2" fill="#259ce7"/>
<rect x="396.9" y="318.8" width="1.9" height="2.2" fill="#f9fb15"/>
<rect x="363.8" y="356.3" width="1.9" height="2.2" fill="#f9fb15"/>
<rect x="507.8" y="396.7" width="1.9" height="1.4" fill="#f9fb15"/>
<rect x="432.6" y="481.7" width="1.3" height="2.2" fill="#f9fb15"/>
<rect x="532.6" y="318.8" width="1.3" height="1.4" fill="#f9fb15"/>
<rect x="363.8" y="509.8" width="1.3" height="1.4" fill="#f9fb15"/>
<rect x="493.8" y="496.8" width="1.9" height="2.2" fill="#259ce7"/>
<rect x="521.2" y="465.9" width="1.9" height="2.2" fill="#259ce7"/>
<rect x="386.1" y="332.5" width="1.3" height="1.4" fill="#f9fb15"/>
<rect x="375.9" y="344.1" width="1.3" height="1.4" fill="#f9fb15"/>
<rect x="406.5" y="390.2" width="1.3" height="2.2" fill="#f9fb15"/>
<rect x="426.9" y="367.1" width="1.9" height="1.4" fill="#f9fb15"/>
<rect x="432.6" y="457.9" width="1.9" height="2.2" fill="#259ce7"/>
<rect x="486.8" y="396.7" width="1.9" height="2.2" fill="#259ce7"/>
<rect x="436.4" y="371.4" width="1.9" height="2.2" fill="#f9fb15"/>
<rect x="410.3" y="401.0" width="1.9" height="2.2" fill="#f9fb15"/>
<rect x="376.6" y="339.7" width="1.3" height="2.2" fill="#f9fb15"/>
<rect x="382.3" y="333.2" width="1.9" height="1.4" fill="#f9fb15"/>
<rect x="482.9" y="477.4" width="1.3" height="1.4" fill="#259ce7"/>
<rect x="504.0" y="453.6" width="1.3" height="1.4" fill="#259ce7"/>
<rect x="402.7" y="452.2" width="1.9" height="2.2" fill="#f9fb15"/>
<rect x="481.7" y="362.8" width="1.9" height="2.2" fill="#f9fb15"/>
<rect x="368.9" y="379.4" width="1.9" height="2.2" fill="#259ce7"/>
<rect x="417.3" y="324.6" width="1.9" height="2.2" fill="#259ce7"/>
<rect x="509.7" y="470.2" width="1.9" height="2.2" fill="#f9fb15"/>
<rect x="497.6" y="483.9" width="1.9" height="2.2" fill="#f9fb15"/>
<rect x="516.7" y="465.1" width="1.9" height="2.2" fill="#f9fb15"/>
<rect x="493.1" y="491.8" width="1.9" height="2.2" fill="#f9fb15"/>
<rect x="514.2" y="504.1" width="1.9" height="2.2" fill="#f9fb15"/>
<rect x="527.5" y="488.9" width="1.9" height="2.2" fill="#f9fb15"/>
<rect x="496.3" y="345.5" width="1.9" height="2.2" fill="#259ce7"/>
<rect x="387.4" y="468.7" width="1.9" height="2.2" fill="#259ce7"/>
<rect x="399.5" y="504.8" width="1.9" height="2.2" fill="#f9fb15"/>
<rect x="528.2" y="359.2" width="1.9" height="2.2" fill="#f9fb15"/>
<rect x="483.6" y="365.7" width="1.9" height="2.2" fill="#f9fb15"/>
<rect x="405.2" y="454.3" width="1.9" height="2.2" fill="#f9fb15"/>
<rect x="506.5" y="363.5" width="1.9" height="2.2" fill="#f9fb15"/>
<rect x="403.3" y="480.3" width="1.9" height="2.2" fill="#f9fb15"/>
<rect x="514.2" y="344.8" width="1.9" height="2.2" fill="#f9fb15"/>
<rect x="386.8" y="488.9" width="1.9" height="2.2" fill="#f9fb15"/>
<rect x="381.7" y="457.2" width="1.3" height="1.4" fill="#f9fb15"/>
<rect x="486.1" y="339.0" width="1.3" height="1.4" fill="#f9fb15"/>
<rect x="436.4" y="379.4" width="1.9" height="1.4" fill="#f9fb15"/>
<rect x="417.3" y="401.0" width="1.3" height="2.2" fill="#f9fb15"/>
<rect x="520.5" y="485.3" width="1.9" height="2.2" fill="#f9fb15"/>
<rect x="511.0" y="496.1" width="1.9" height="2.2" fill="#f9fb15"/>
<rect x="510.3" y="457.2" width="1.9" height="2.2" fill="#259ce7"/>
<rect x="486.1" y="484.6" width="1.9" height="2.2" fill="#259ce7"/>
<rect x="528.2" y="463.7" width="1.9" height="2.2" fill="#259ce7"/>
<rect x="491.9" y="504.8" width="1.9" height="2.2" fill="#259ce7"/>
<rect x="390.6" y="318.1" width="1.9" height="2.2" fill="#f9fb15"/>
<rect x="363.2" y="349.1" width="1.9" height="2.2" fill="#f9fb15"/>
<rect x="388.0" y="481.7" width="1.3" height="2.2" fill="#f9fb15"/>
<rect x="507.8" y="346.2" width="1.9" height="1.4" fill="#f9fb15"/>
<rect x="518.6" y="478.1" width="1.3" height="2.2" fill="#f9fb15"/>
<rect x="504.6" y="494.0" width="1.9" height="1.4" fill="#f9fb15"/>
<rect x="367.0" y="343.3" width="1.9" height="1.4" fill="#259ce7"/>
<rect x="385.5" y="322.4" width="1.3" height="2.2" fill="#259ce7"/>
<rect x="480.4" y="346.2" width="1.9" height="1.4" fill="#f9fb15"/>
<rect x="388.0" y="450.7" width="1.3" height="2.2" fill="#f9fb15"/>
<rect x="415.4" y="398.8" width="1.3" height="2.2" fill="#f9fb15"/>
<rect x="434.5" y="377.2" width="1.9" height="1.4" fill="#f9fb15"/>
<rect x="391.8" y="470.9" width="1.3" height="2.2" fill="#f9fb15"/>
<rect x="498.2" y="350.5" width="1.9" height="1.4" fill="#f9fb15"/>
<rect x="424.3" y="377.2" width="1.3" height="2.2" fill="#259ce7"/>
<rect x="415.4" y="387.3" width="1.9" height="1.4" fill="#259ce7"/>
<rect x="491.2" y="488.9" width="1.9" height="1.4" fill="#f9fb15"/>
<rect x="514.2" y="463.0" width="1.3" height="2.2" fill="#f9fb15"/>
<rect x="407.8" y="475.2" width="1.9" height="2.2" fill="#f9fb15"/>
<rect x="502.1" y="368.6" width="1.9" height="2.2" fill="#f9fb15"/>
<rect x="496.3" y="375.0" width="1.3" height="2.2" fill="#f9fb15"/>
<rect x="413.5" y="468.7" width="1.9" height="1.4" fill="#f9fb15"/>
<rect x="506.5" y="465.9" width="1.3" height="2.2" fill="#f9fb15"/>
<rect x="493.8" y="480.3" width="1.9" height="1.4" fill="#f9fb15"/>
<rect x="498.9" y="341.9" width="1.3" height="2.2" fill="#f9fb15"/>
<rect x="384.2" y="471.6" width="1.9" height="1.4" fill="#f9fb15"/>
<rect x="500.8" y="337.6" width="1.3" height="2.2" fill="#f9fb15"/>
<rect x="380.4" y="473.8" width="1.9" height="1.4" fill="#f9fb15"/>
<rect x="375.9" y="383.0" width="1.9" height="2.2" fill="#f9fb15"/>
<rect x="420.5" y="332.5" width="1.9" height="2.2" fill="#f9fb15"/>
<rect x="411.6" y="339.0" width="1.9" height="2.2" fill="#f9fb15"/>
<rect x="381.7" y="372.9" width="1.9" height="2.2" fill="#f9fb15"/>
<rect x="482.3" y="354.1" width="1.9" height="2.2" fill="#f9fb15"/>
<rect x="395.0" y="452.9" width="1.9" height="2.2" fill="#f9fb15"/>
<rect x="384.2" y="383.7" width="1.9" height="2.2" fill="#f9fb15"/>
<rect x="421.2" y="341.9" width="1.9" height="2.2" fill="#f9fb15"/>
<rect x="482.9" y="368.6" width="1.9" height="1.4" fill="#f9fb15"/>
<rect x="407.8" y="453.6" width="1.3" height="2.2" fill="#f9fb15"/>
<rect x="481.7" y="369.3" width="1.9" height="1.4" fill="#259ce7"/>
<rect x="408.4" y="452.2" width="1.3" height="2.2" fill="#259ce7"/>
<rect x="378.5" y="317.4" width="1.3" height="2.2" fill="#f9fb15"/>
<rect x="362.5" y="335.4" width="1.9" height="1.4" fill="#f9fb15"/>
<rect x="365.1" y="367.1" width="1.3" height="2.2" fill="#259ce7"/>
<rect x="406.5" y="320.3" width="1.9" height="1.4" fill="#259ce7"/>
<rect x="488.7" y="401.0" width="1.9" height="1.4" fill="#f9fb15"/>
<rect x="436.4" y="460.1" width="1.3" height="2.2" fill="#f9fb15"/>
<rect x="364.5" y="506.2" width="1.3" height="2.2" fill="#f9fb15"/>
<rect x="529.4" y="319.6" width="1.9" height="1.4" fill="#f9fb15"/>
<rect x="405.2" y="494.7" width="1.9" height="2.2" fill="#f9fb15"/>
<rect x="519.3" y="365.7" width="1.9" height="2.2" fill="#f9fb15"/>
<rect x="507.1" y="457.2" width="1.3" height="2.2" fill="#259ce7"/>
<rect x="486.1" y="481.0" width="1.9" height="1.4" fill="#259ce7"/>
<rect x="525.6" y="316.0" width="1.9" height="2.2" fill="#f9fb15"/>
<rect x="361.3" y="501.9" width="1.9" height="2.2" fill="#f9fb15"/>
<rect x="413.5" y="492.5" width="1.9" height="2.2" fill="#f9fb15"/>
<rect x="517.3" y="375.0" width="1.9" height="2.2" fill="#f9fb15"/>
<rect x="433.9" y="317.4" width="1.9" height="2.2" fill="#f9fb15"/>
<rect x="362.5" y="398.1" width="1.9" height="2.2" fill="#f9fb15"/>
<rect x="379.7" y="470.9" width="1.9" height="2.2" fill="#f9fb15"/>
<rect x="498.2" y="336.9" width="1.9" height="2.2" fill="#f9fb15"/>
<rect x="513.5" y="396.7" width="1.9" height="2.2" fill="#259ce7"/>
<rect x="432.6" y="488.2" width="1.9" height="2.2" fill="#259ce7"/>
<rect x="360.6" y="347.7" width="1.9" height="2.2" fill="#f9fb15"/>
<rect x="389.3" y="315.2" width="1.9" height="2.2" fill="#f9fb15"/>
<rect x="514.2" y="468.0" width="1.9" height="2.2" fill="#f9fb15"/>
<rect x="495.7" y="488.9" width="1.9" height="2.2" fill="#f9fb15"/>
<rect x="421.2" y="450.7" width="1.9" height="2.2" fill="#f9fb15"/>
<rect x="480.4" y="383.7" width="1.9" height="2.2" fill="#f9fb15"/>
<rect x="406.5" y="349.1" width="1.9" height="1.4" fill="#f9fb15"/>
<rect x="390.6" y="367.1" width="1.3" height="2.2" fill="#f9fb15"/>
<rect x="514.8" y="313.1" width="1.9" height="2.2" fill="#259ce7"/>
<rect x="358.7" y="489.6" width="1.9" height="2.2" fill="#259ce7"/>
<rect x="528.8" y="481.0" width="1.3" height="2.2" fill="#f9fb15"/>
<rect x="507.1" y="505.5" width="1.9" height="1.4" fill="#f9fb15"/>
<rect x="436.4" y="343.3" width="1.9" height="2.2" fill="#f9fb15"/>
<rect x="385.5" y="401.0" width="1.9" height="2.2" fill="#f9fb15"/>
<rect x="383.6" y="460.8" width="1.3" height="2.2" fill="#f9fb15"/>
<rect x="489.3" y="341.2" width="1.9" height="1.4" fill="#f9fb15"/>
<rect x="521.2" y="325.3" width="1.3" height="1.4" fill="#f9fb15"/>
<rect x="369.6" y="496.8" width="1.3" height="1.4" fill="#f9fb15"/>
<rect x="362.5" y="483.9" width="1.3" height="2.2" fill="#f9fb15"/>
<rect x="509.7" y="317.4" width="1.9" height="1.4" fill="#f9fb15"/>
<rect x="516.1" y="387.3" width="1.3" height="1.4" fill="#f9fb15"/>
<rect x="424.3" y="491.1" width="1.3" height="1.4" fill="#f9fb15"/>
<rect x="502.1" y="353.4" width="1.9" height="1.4" fill="#f9fb15"/>
<rect x="394.4" y="475.2" width="1.3" height="2.2" fill="#f9fb15"/>
<rect x="405.9" y="337.6" width="1.3" height="2.2" fill="#f9fb15"/>
<rect x="380.4" y="366.4" width="1.9" height="1.4" fill="#f9fb15"/>
<rect x="501.4" y="346.2" width="1.3" height="1.4" fill="#f9fb15"/>
<rect x="388.0" y="474.5" width="1.3" height="1.4" fill="#f9fb15"/>
<rect x="393.1" y="476.7" width="1.9" height="1.4" fill="#f9fb15"/>
<rect x="503.3" y="352.0" width="1.3" height="2.2" fill="#f9fb15"/>
<rect x="523.1" y="383.0" width="1.9" height="1.4" fill="#f9fb15"/>
<rect x="420.5" y="499.0" width="1.3" height="2.2" fill="#f9fb15"/>
<rect x="377.8" y="468.0" width="1.3" height="2.2" fill="#f9fb15"/>
<rect x="495.7" y="334.7" width="1.9" height="1.4" fill="#f9fb15"/>
<rect x="428.8" y="314.5" width="1.9" height="2.2" fill="#f9fb15"/>
<rect x="360.0" y="392.3" width="1.9" height="2.2" fill="#f9fb15"/>
<rect x="508.4" y="377.9" width="1.3" height="1.4" fill="#f9fb15"/>
<rect x="416.1" y="482.4" width="1.3" height="1.4" fill="#f9fb15"/>
<rect x="406.5" y="490.4" width="1.9" height="2.2" fill="#f9fb15"/>
<rect x="515.4" y="367.1" width="1.9" height="2.2" fill="#f9fb15"/>
<rect x="405.9" y="455.0" width="1.9" height="2.2" fill="#259ce7"/>
<rect x="484.2" y="366.4" width="1.9" height="2.2" fill="#259ce7"/>
<rect x="394.4" y="475.9" width="1.3" height="2.2" fill="#f9fb15"/>
<rect x="502.7" y="353.4" width="1.9" height="1.4" fill="#f9fb15"/>
<rect x="524.3" y="359.9" width="1.3" height="1.4" fill="#f9fb15"/>
<rect x="400.1" y="500.4" width="1.3" height="1.4" fill="#f9fb15"/>
<rect x="432.6" y="381.5" width="1.3" height="1.4" fill="#f9fb15"/>
<rect x="419.2" y="396.7" width="1.3" height="1.4" fill="#f9fb15"/>
<rect x="361.3" y="493.2" width="1.9" height="1.4" fill="#f9fb15"/>
<rect x="518.0" y="316.0" width="1.3" height="2.2" fill="#f9fb15"/>
<rect x="364.5" y="484.6" width="1.9" height="1.4" fill="#f9fb15"/>
<rect x="510.3" y="319.6" width="1.3" height="2.2" fill="#f9fb15"/>
<rect x="432.6" y="471.6" width="1.9" height="2.2" fill="#f9fb15"/>
<rect x="498.9" y="396.7" width="1.9" height="2.2" fill="#f9fb15"/>
<rect x="375.9" y="372.2" width="1.9" height="1.4" fill="#259ce7"/>
<rect x="411.0" y="332.5" width="1.3" height="2.2" fill="#259ce7"/>
<rect x="421.2" y="495.4" width="1.9" height="1.4" fill="#f9fb15"/>
<rect x="519.9" y="383.7" width="1.3" height="2.2" fill="#f9fb15"/>
<rect x="531.4" y="487.5" width="1.3" height="1.4" fill="#f9fb15"/>
<rect x="512.9" y="508.4" width="1.3" height="1.4" fill="#f9fb15"/>
<rect x="481.7" y="484.6" width="1.9" height="1.4" fill="#259ce7"/>
<rect x="510.3" y="452.2" width="1.3" height="2.2" fill="#259ce7"/>
<rect x="419.9" y="476.7" width="1.9" height="1.4" fill="#f9fb15"/>
<rect x="503.3" y="382.3" width="1.3" height="2.2" fill="#f9fb15"/>
<rect x="502.1" y="374.3" width="1.9" height="2.2" fill="#f9fb15"/>
<rect x="412.9" y="475.2" width="1.9" height="2.2" fill="#f9fb15"/>
<rect x="519.9" y="337.6" width="1.9" height="2.2" fill="#259ce7"/>
<rect x="380.4" y="495.4" width="1.9" height="2.2" fill="#259ce7"/>
<rect x="504.6" y="509.8" width="1.9" height="2.2" fill="#f9fb15"/>
<rect x="532.6" y="478.1" width="1.9" height="2.2" fill="#f9fb15"/>
<rect x="498.2" y="319.6" width="1.9" height="1.4" fill="#259ce7"/>
<rect x="364.5" y="470.9" width="1.3" height="2.2" fill="#259ce7"/>
<rect x="423.1" y="346.2" width="1.3" height="1.4" fill="#f9fb15"/>
<rect x="388.0" y="385.9" width="1.3" height="1.4" fill="#f9fb15"/>
<rect x="391.2" y="346.9" width="1.9" height="2.2" fill="#f9fb15"/>
<rect x="388.7" y="349.8" width="1.9" height="2.2" fill="#f9fb15"/>
<rect x="525.6" y="483.9" width="1.9" height="2.2" fill="#f9fb15"/>
<rect x="509.7" y="501.9" width="1.9" height="2.2" fill="#f9fb15"/>
<rect x="502.7" y="367.8" width="1.9" height="2.2" fill="#259ce7"/>
<rect x="407.1" y="475.9" width="1.9" height="2.2" fill="#259ce7"/>
<rect x="374.6" y="398.1" width="1.3" height="2.2" fill="#f9fb15"/>
<rect x="433.9" y="331.1" width="1.9" height="1.4" fill="#f9fb15"/>
<rect x="419.2" y="326.0" width="1.3" height="2.2" fill="#259ce7"/>
<rect x="370.2" y="381.5" width="1.9" height="1.4" fill="#259ce7"/>
<rect x="400.1" y="463.7" width="1.9" height="1.4" fill="#f9fb15"/>
<rect x="491.9" y="359.9" width="1.3" height="2.2" fill="#f9fb15"/>
<rect x="396.9" y="486.0" width="1.9" height="1.4" fill="#f9fb15"/>
<rect x="511.6" y="356.3" width="1.3" height="2.2" fill="#f9fb15"/>
<rect x="418.6" y="500.4" width="1.9" height="1.4" fill="#f9fb15"/>
<rect x="524.3" y="380.8" width="1.3" height="2.2" fill="#f9fb15"/>
<rect x="511.6" y="316.7" width="1.3" height="1.4" fill="#f9fb15"/>
<rect x="361.9" y="486.0" width="1.3" height="1.4" fill="#f9fb15"/>
<rect x="511.0" y="506.9" width="1.9" height="2.2" fill="#f9fb15"/>
<rect x="530.1" y="485.3" width="1.9" height="2.2" fill="#f9fb15"/>
<rect x="520.5" y="357.0" width="1.3" height="1.4" fill="#259ce7"/>
<rect x="397.6" y="496.1" width="1.3" height="1.4" fill="#259ce7"/>
<rect x="362.5" y="493.2" width="1.3" height="2.2" fill="#f9fb15"/>
<rect x="518.0" y="317.4" width="1.9" height="1.4" fill="#f9fb15"/>
<rect x="423.7" y="475.9" width="1.9" height="2.2" fill="#259ce7"/>
<rect x="502.7" y="386.6" width="1.9" height="2.2" fill="#259ce7"/>
<rect x="409.0" y="487.5" width="1.9" height="2.2" fill="#f9fb15"/>
<rect x="512.9" y="370.0" width="1.9" height="2.2" fill="#f9fb15"/>
<rect x="521.2" y="325.3" width="1.3" height="2.2" fill="#259ce7"/>
<rect x="369.6" y="496.8" width="1.9" height="1.4" fill="#259ce7"/>
<rect x="397.6" y="504.8" width="1.3" height="1.4" fill="#f9fb15"/>
<rect x="528.2" y="357.0" width="1.3" height="1.4" fill="#f9fb15"/>
<rect x="500.8" y="481.0" width="1.3" height="2.2" fill="#f9fb15"/>
<rect x="507.1" y="473.8" width="1.9" height="1.4" fill="#f9fb15"/>
<rect x="368.3" y="398.1" width="1.9" height="2.2" fill="#f9fb15"/>
<rect x="433.9" y="323.9" width="1.9" height="2.2" fill="#f9fb15"/>
<rect x="365.7" y="344.1" width="1.9" height="2.2" fill="#f9fb15"/>
<rect x="386.1" y="321.0" width="1.9" height="2.2" fill="#f9fb15"/>
<rect x="374.0" y="377.2" width="1.9" height="1.4" fill="#f9fb15"/>
<rect x="415.4" y="330.4" width="1.3" height="2.2" fill="#f9fb15"/>
<rect x="435.2" y="329.6" width="1.9" height="1.4" fill="#f9fb15"/>
<rect x="373.4" y="399.6" width="1.3" height="2.2" fill="#f9fb15"/>
<rect x="482.9" y="321.7" width="1.3" height="1.4" fill="#f9fb15"/>
<rect x="366.4" y="453.6" width="1.3" height="1.4" fill="#f9fb15"/>
<rect x="425.0" y="359.9" width="1.3" height="2.2" fill="#f9fb15"/>
<rect x="400.1" y="388.0" width="1.9" height="1.4" fill="#f9fb15"/>
<rect x="389.9" y="319.6" width="1.9" height="2.2" fill="#f9fb15"/>
<rect x="364.5" y="348.4" width="1.9" height="2.2" fill="#f9fb15"/>
<rect x="332.6" y="278.5" width="1.3" height="2.2" fill="#f9fb15"/>
<rect x="328.1" y="283.5" width="1.9" height="1.4" fill="#f9fb15"/>
<rect x="347.9" y="179.7" width="1.3" height="2.2" fill="#f9fb15"/>
<rect x="240.9" y="300.8" width="1.9" height="1.4" fill="#f9fb15"/>
<rect x="326.2" y="146.6" width="1.9" height="1.4" fill="#f9fb15"/>
<rect x="211.6" y="276.3" width="1.3" height="2.2" fill="#f9fb15"/>
<rect x="309.7" y="127.1" width="1.9" height="2.2" fill="#05b6ce"/>
<rect x="194.4" y="257.6" width="1.9" height="2.2" fill="#05b6ce"/>
<rect x="185.5" y="169.7" width="1.3" height="1.4" fill="#2d8cf3"/>
<rect x="232.0" y="117.0" width="1.3" height="1.4" fill="#2d8cf3"/>
<rect x="242.8" y="125.0" width="1.3" height="2.2" fill="#05b6ce"/>
<rect x="192.5" y="181.9" width="1.9" height="1.4" fill="#05b6ce"/>
<rect x="287.4" y="282.8" width="1.9" height="1.4" fill="#f9fb15"/>
<rect x="332.0" y="232.4" width="1.3" height="2.2" fill="#f9fb15"/>
<rect x="276.6" y="197.8" width="1.3" height="2.2" fill="#f9fb15"/>
<rect x="256.8" y="220.1" width="1.9" height="1.4" fill="#f9fb15"/>
<rect x="271.5" y="280.6" width="1.3" height="2.2" fill="#f9fb15"/>
<rect x="330.1" y="214.3" width="1.9" height="1.4" fill="#f9fb15"/>
<rect x="283.6" y="205.7" width="1.9" height="2.2" fill="#2d8cf3"/>
<rect x="263.8" y="228.0" width="1.9" height="2.2" fill="#2d8cf3"/>
<rect x="203.3" y="122.8" width="1.9" height="1.4" fill="#f9fb15"/>
<rect x="190.6" y="137.2" width="1.3" height="2.2" fill="#f9fb15"/>
<rect x="275.3" y="151.6" width="1.9" height="1.4" fill="#f9fb15"/>
<rect x="216.0" y="218.7" width="1.3" height="2.2" fill="#f9fb15"/>
<rect x="250.4" y="112.0" width="1.9" height="1.4" fill="#f9fb15"/>
<rect x="181.0" y="190.6" width="1.3" height="2.2" fill="#f9fb15"/>
<rect x="310.3" y="250.4" width="1.9" height="2.2" fill="#f9fb15"/>
<rect x="303.3" y="258.3" width="1.9" height="2.2" fill="#f9fb15"/>
<rect x="268.9" y="184.8" width="1.9" height="1.4" fill="#f9fb15"/>
<rect x="245.3" y="211.5" width="1.3" height="2.2" fill="#f9fb15"/>
<rect x="314.1" y="117.0" width="1.3" height="1.4" fill="#2d8cf3"/>
<rect x="185.5" y="262.6" width="1.3" height="1.4" fill="#2d8cf3"/>
<rect x="213.5" y="202.8" width="1.9" height="1.4" fill="#f9fb15"/>
<rect x="261.3" y="148.8" width="1.3" height="2.2" fill="#f9fb15"/>
<rect x="242.2" y="176.9" width="1.9" height="1.4" fill="#f9fb15"/>
<rect x="238.3" y="181.2" width="1.3" height="2.2" fill="#f9fb15"/>
<rect x="317.3" y="160.3" width="1.9" height="1.4" fill="#2d8cf3"/>
<rect x="223.7" y="266.2" width="1.3" height="2.2" fill="#2d8cf3"/>
<rect x="249.8" y="266.9" width="1.9" height="2.2" fill="#f9fb15"/>
<rect x="318.0" y="189.8" width="1.9" height="2.2" fill="#f9fb15"/>
<rect x="249.2" y="119.2" width="1.9" height="2.2" fill="#f9fb15"/>
<rect x="187.4" y="189.1" width="1.9" height="2.2" fill="#f9fb15"/>
<rect x="194.4" y="148.8" width="1.9" height="1.4" fill="#05b6ce"/>
<rect x="213.5" y="127.1" width="1.3" height="2.2" fill="#05b6ce"/>
<rect x="183.5" y="207.1" width="1.9" height="1.4" fill="#2d8cf3"/>
<rect x="265.1" y="114.9" width="1.3" height="2.2" fill="#2d8cf3"/>
<rect x="204.6" y="254.0" width="1.9" height="1.4" fill="#f9fb15"/>
<rect x="306.5" y="138.7" width="1.3" height="2.2" fill="#f9fb15"/>
<rect x="185.5" y="201.4" width="1.9" height="1.4" fill="#2d8cf3"/>
<rect x="260.0" y="117.0" width="1.3" height="2.2" fill="#2d8cf3"/>
<rect x="222.4" y="279.2" width="1.9" height="1.4" fill="#05b6ce"/>
<rect x="328.8" y="158.8" width="1.3" height="2.2" fill="#05b6ce"/>
<rect x="306.5" y="161.7" width="1.9" height="1.4" fill="#f9fb15"/>
<rect x="225.0" y="254.0" width="1.3" height="2.2" fill="#f9fb15"/>
<rect x="261.9" y="195.6" width="1.9" height="1.4" fill="#2d8cf3"/>
<rect x="254.9" y="203.5" width="1.3" height="2.2" fill="#2d8cf3"/>
<rect x="307.1" y="184.1" width="1.3" height="2.2" fill="#05b6ce"/>
<rect x="244.7" y="254.7" width="1.9" height="1.4" fill="#05b6ce"/>
<rect x="196.3" y="266.9" width="1.9" height="1.4" fill="#f9fb15"/>
<rect x="318.0" y="129.3" width="1.3" height="2.2" fill="#f9fb15"/>
<rect x="258.7" y="205.7" width="1.9" height="1.4" fill="#2d8cf3"/>
<rect x="263.8" y="199.9" width="1.3" height="2.2" fill="#2d8cf3"/>
<rect x="340.9" y="266.9" width="1.9" height="1.4" fill="#f9fb15"/>
<rect x="318.0" y="292.9" width="1.3" height="2.2" fill="#f9fb15"/>
<rect x="221.8" y="137.2" width="1.9" height="2.2" fill="#f9fb15"/>
<rect x="203.3" y="158.1" width="1.9" height="2.2" fill="#f9fb15"/>
<rect x="272.1" y="138.7" width="1.9" height="1.4" fill="#f9fb15"/>
<rect x="204.6" y="215.1" width="1.3" height="2.2" fill="#f9fb15"/>
<rect x="203.3" y="117.8" width="1.3" height="1.4" fill="#f9fb15"/>
<rect x="186.1" y="137.2" width="1.3" height="1.4" fill="#f9fb15"/>
<rect x="195.7" y="133.6" width="1.9" height="1.4" fill="#f9fb15"/>
<rect x="200.1" y="128.6" width="1.3" height="2.2" fill="#f9fb15"/>
<rect x="210.9" y="160.3" width="1.9" height="1.4" fill="#f9fb15"/>
<rect x="223.7" y="145.9" width="1.3" height="2.2" fill="#f9fb15"/>
<rect x="226.2" y="304.4" width="1.9" height="1.4" fill="#f9fb15"/>
<rect x="351.1" y="163.2" width="1.3" height="2.2" fill="#f9fb15"/>
<rect x="282.3" y="243.9" width="1.9" height="1.4" fill="#05b6ce"/>
<rect x="297.6" y="226.6" width="1.3" height="2.2" fill="#05b6ce"/>
<rect x="337.7" y="139.4" width="1.9" height="1.4" fill="#f9fb15"/>
<rect x="205.2" y="289.3" width="1.3" height="2.2" fill="#f9fb15"/>
<rect x="204.6" y="161.7" width="1.9" height="2.2" fill="#f9fb15"/>
<rect x="225.0" y="138.7" width="1.9" height="2.2" fill="#f9fb15"/>
<rect x="223.0" y="127.9" width="1.9" height="1.4" fill="#2d8cf3"/>
<rect x="195.0" y="159.6" width="1.3" height="2.2" fill="#2d8cf3"/>
<rect x="335.2" y="143.0" width="1.3" height="1.4" fill="#05b6ce"/>
<rect x="208.4" y="286.4" width="1.3" height="1.4" fill="#05b6ce"/>
<rect x="185.5" y="295.8" width="1.9" height="1.4" fill="#2d8cf3"/>
<rect x="343.4" y="117.0" width="1.3" height="2.2" fill="#2d8cf3"/>
<rect x="203.9" y="116.3" width="1.3" height="2.2" fill="#f9fb15"/>
<rect x="184.8" y="137.9" width="1.9" height="1.4" fill="#f9fb15"/>
<rect x="316.7" y="206.4" width="1.9" height="1.4" fill="#2d8cf3"/>
<rect x="264.4" y="265.5" width="1.3" height="2.2" fill="#2d8cf3"/>
<rect x="324.3" y="280.6" width="1.3" height="2.2" fill="#f9fb15"/>
<rect x="330.1" y="274.2" width="1.9" height="1.4" fill="#f9fb15"/>
<rect x="281.6" y="122.8" width="1.3" height="1.4" fill="#2d8cf3"/>
<rect x="190.6" y="225.9" width="1.3" height="1.4" fill="#2d8cf3"/>
<rect x="217.3" y="196.3" width="1.9" height="2.2" fill="#f9fb15"/>
<rect x="255.5" y="153.1" width="1.9" height="2.2" fill="#f9fb15"/>
<rect x="263.8" y="290.7" width="1.9" height="1.4" fill="#05b6ce"/>
<rect x="339.0" y="205.7" width="1.3" height="2.2" fill="#05b6ce"/>
<rect x="246.6" y="164.6" width="1.9" height="1.4" fill="#f9fb15"/>
<rect x="227.5" y="186.2" width="1.3" height="2.2" fill="#f9fb15"/>
<rect x="343.4" y="274.9" width="1.9" height="1.4" fill="#05b6ce"/>
<rect x="325.0" y="295.8" width="1.3" height="2.2" fill="#05b6ce"/>
<rect x="245.3" y="204.2" width="1.3" height="1.4" fill="#2d8cf3"/>
<rect x="262.5" y="184.8" width="1.3" height="1.4" fill="#2d8cf3"/>
<rect x="252.3" y="253.3" width="1.3" height="1.4" fill="#f9fb15"/>
<rect x="305.9" y="192.7" width="1.3" height="1.4" fill="#f9fb15"/>
<rect x="295.0" y="295.1" width="1.9" height="1.4" fill="#2d8cf3"/>
<rect x="342.8" y="241.0" width="1.3" height="2.2" fill="#2d8cf3"/>
<rect x="270.8" y="135.1" width="1.9" height="1.4" fill="#2d8cf3"/>
<rect x="201.4" y="213.6" width="1.3" height="2.2" fill="#2d8cf3"/>
<rect x="270.2" y="285.7" width="1.9" height="1.4" fill="#05b6ce"/>
<rect x="334.5" y="212.9" width="1.3" height="2.2" fill="#05b6ce"/>
<rect x="341.5" y="303.7" width="1.9" height="2.2" fill="#2d8cf3"/>
<rect x="350.4" y="293.6" width="1.9" height="2.2" fill="#2d8cf3"/>
<rect x="285.5" y="278.5" width="1.9" height="1.4" fill="#f9fb15"/>
<rect x="328.1" y="230.2" width="1.3" height="2.2" fill="#f9fb15"/>
<rect x="272.1" y="127.1" width="1.9" height="1.4" fill="#f9fb15"/>
<rect x="194.4" y="215.1" width="1.3" height="2.2" fill="#f9fb15"/>
<rect x="225.0" y="118.5" width="1.3" height="1.4" fill="#f9fb15"/>
<rect x="186.7" y="161.7" width="1.3" height="1.4" fill="#f9fb15"/>
<rect x="258.1" y="210.0" width="1.9" height="1.4" fill="#2d8cf3"/>
<rect x="267.6" y="199.2" width="1.3" height="2.2" fill="#2d8cf3"/>
<rect x="326.2" y="154.5" width="1.9" height="2.2" fill="#f9fb15"/>
<rect x="218.6" y="276.3" width="1.9" height="2.2" fill="#f9fb15"/>
<rect x="205.8" y="247.5" width="1.9" height="1.4" fill="#2d8cf3"/>
<rect x="300.8" y="140.1" width="1.3" height="2.2" fill="#2d8cf3"/>
<rect x="239.0" y="206.4" width="1.9" height="1.4" fill="#2d8cf3"/>
<rect x="264.4" y="177.6" width="1.3" height="2.2" fill="#2d8cf3"/>
<rect x="239.0" y="125.0" width="1.9" height="1.4" fill="#f9fb15"/>
<rect x="192.5" y="177.6" width="1.3" height="2.2" fill="#f9fb15"/>
<rect x="344.1" y="303.7" width="1.9" height="1.4" fill="#2d8cf3"/>
<rect x="350.4" y="296.5" width="1.3" height="2.2" fill="#2d8cf3"/>
<rect x="209.0" y="194.2" width="1.9" height="2.2" fill="#f9fb15"/>
<rect x="253.6" y="143.7" width="1.9" height="2.2" fill="#f9fb15"/>
<rect x="327.5" y="159.6" width="1.3" height="2.2" fill="#f9fb15"/>
<rect x="223.0" y="277.8" width="1.9" height="1.4" fill="#f9fb15"/>
<rect x="344.7" y="250.4" width="1.9" height="1.4" fill="#2d8cf3"/>
<rect x="303.3" y="297.2" width="1.3" height="2.2" fill="#2d8cf3"/>
<rect x="247.2" y="232.4" width="1.9" height="2.2" fill="#f9fb15"/>
<rect x="287.4" y="187.0" width="1.9" height="2.2" fill="#f9fb15"/>
<rect x="250.4" y="157.4" width="1.3" height="1.4" fill="#f9fb15"/>
<rect x="221.1" y="190.6" width="1.3" height="1.4" fill="#f9fb15"/>
<rect x="355.5" y="225.9" width="1.9" height="1.4" fill="#05b6ce"/>
<rect x="281.6" y="309.5" width="1.3" height="2.2" fill="#05b6ce"/>
<rect x="294.4" y="117.8" width="1.9" height="1.4" fill="#f9fb15"/>
<rect x="186.1" y="240.3" width="1.3" height="2.2" fill="#f9fb15"/>
<rect x="318.0" y="238.1" width="1.3" height="1.4" fill="#2d8cf3"/>
<rect x="292.5" y="266.9" width="1.3" height="1.4" fill="#2d8cf3"/>
<rect x="201.4" y="192.0" width="1.3" height="1.4" fill="#f9fb15"/>
<rect x="251.7" y="135.1" width="1.3" height="1.4" fill="#f9fb15"/>
<rect x="289.9" y="308.0" width="1.9" height="1.4" fill="#2d8cf3"/>
<rect x="354.3" y="235.2" width="1.3" height="2.2" fill="#2d8cf3"/>
<rect x="349.2" y="166.8" width="1.9" height="2.2" fill="#05b6ce"/>
<rect x="229.4" y="302.3" width="1.9" height="2.2" fill="#05b6ce"/>
<rect x="341.5" y="274.2" width="1.3" height="2.2" fill="#f9fb15"/>
<rect x="324.3" y="293.6" width="1.9" height="1.4" fill="#f9fb15"/>
<rect x="323.7" y="193.4" width="1.9" height="1.4" fill="#f9fb15"/>
<rect x="253.0" y="273.4" width="1.3" height="2.2" fill="#f9fb15"/>
<rect x="351.1" y="172.5" width="1.9" height="2.2" fill="#f9fb15"/>
<rect x="234.5" y="304.4" width="1.9" height="2.2" fill="#f9fb15"/>
<rect x="305.2" y="226.6" width="1.3" height="2.2" fill="#05b6ce"/>
<rect x="282.3" y="252.5" width="1.9" height="1.4" fill="#05b6ce"/>
<rect x="226.9" y="223.7" width="1.9" height="2.2" fill="#05b6ce"/>
<rect x="279.7" y="163.9" width="1.9" height="2.2" fill="#05b6ce"/>
<rect x="246.0" y="295.1" width="1.9" height="1.4" fill="#f9fb15"/>
<rect x="342.8" y="185.5" width="1.3" height="2.2" fill="#f9fb15"/>
<rect x="303.9" y="113.4" width="1.9" height="1.4" fill="#f9fb15"/>
<rect x="182.3" y="251.1" width="1.3" height="2.2" fill="#f9fb15"/>
<rect x="220.5" y="259.7" width="1.3" height="2.2" fill="#f9fb15"/>
<rect x="311.6" y="156.7" width="1.9" height="1.4" fill="#f9fb15"/>
<rect x="356.2" y="135.8" width="1.9" height="1.4" fill="#f9fb15"/>
<rect x="202.0" y="310.2" width="1.3" height="2.2" fill="#f9fb15"/>
<rect x="335.2" y="202.8" width="1.9" height="1.4" fill="#f9fb15"/>
<rect x="261.3" y="286.4" width="1.3" height="2.2" fill="#f9fb15"/>
<rect x="487.4" y="287.1" width="1.9" height="1.4" fill="#f9fb15"/>
<rect x="335.8" y="458.6" width="1.3" height="2.2" fill="#f9fb15"/>
<rect x="402.0" y="122.8" width="1.3" height="1.4" fill="#f9fb15"/>
<rect x="190.6" y="362.1" width="1.3" height="1.4" fill="#f9fb15"/>
<rect x="384.8" y="183.3" width="1.9" height="2.2" fill="#f9fb15"/>
<rect x="244.1" y="342.6" width="1.9" height="2.2" fill="#f9fb15"/>
<rect x="519.9" y="230.2" width="1.9" height="2.2" fill="#f9fb15"/>
<rect x="285.5" y="495.4" width="1.9" height="2.2" fill="#f9fb15"/>
<rect x="482.9" y="150.2" width="1.9" height="1.4" fill="#2d8cf3"/>
<rect x="214.8" y="453.6" width="1.3" height="2.2" fill="#2d8cf3"/>
<rect x="518.6" y="204.2" width="1.9" height="2.2" fill="#f9fb15"/>
<rect x="262.5" y="494.0" width="1.9" height="2.2" fill="#f9fb15"/>
<rect x="421.2" y="119.9" width="1.9" height="2.2" fill="#2d8cf3"/>
<rect x="188.0" y="383.7" width="1.9" height="2.2" fill="#2d8cf3"/>
<rect x="489.3" y="170.4" width="1.9" height="2.2" fill="#f9fb15"/>
<rect x="232.6" y="460.8" width="1.9" height="2.2" fill="#f9fb15"/>
<rect x="488.0" y="192.0" width="1.9" height="2.2" fill="#f9fb15"/>
<rect x="251.7" y="459.4" width="1.9" height="2.2" fill="#f9fb15"/>
<rect x="397.6" y="161.7" width="1.9" height="2.2" fill="#05b6ce"/>
<rect x="225.0" y="357.0" width="1.9" height="2.2" fill="#05b6ce"/>
<rect x="411.0" y="178.3" width="1.3" height="1.4" fill="#2d8cf3"/>
<rect x="239.6" y="372.2" width="1.3" height="1.4" fill="#2d8cf3"/>
<rect x="375.3" y="183.3" width="1.3" height="1.4" fill="#f9fb15"/>
<rect x="244.1" y="331.8" width="1.3" height="1.4" fill="#f9fb15"/>
<rect x="402.0" y="144.4" width="1.9" height="1.4" fill="#f9fb15"/>
<rect x="209.7" y="362.1" width="1.3" height="2.2" fill="#f9fb15"/>
<rect x="392.5" y="158.1" width="1.3" height="2.2" fill="#f9fb15"/>
<rect x="221.8" y="351.3" width="1.9" height="1.4" fill="#f9fb15"/>
<rect x="392.5" y="147.3" width="1.9" height="1.4" fill="#f9fb15"/>
<rect x="212.2" y="351.3" width="1.3" height="2.2" fill="#f9fb15"/>
<rect x="516.7" y="154.5" width="1.9" height="1.4" fill="#f9fb15"/>
<rect x="218.6" y="491.8" width="1.3" height="2.2" fill="#f9fb15"/>
<rect x="532.6" y="181.2" width="1.3" height="1.4" fill="#f9fb15"/>
<rect x="242.2" y="509.8" width="1.3" height="1.4" fill="#f9fb15"/>
<rect x="526.3" y="125.7" width="1.9" height="2.2" fill="#f9fb15"/>
<rect x="193.1" y="502.6" width="1.9" height="2.2" fill="#f9fb15"/>
<rect x="383.6" y="289.3" width="1.3" height="1.4" fill="#f9fb15"/>
<rect x="337.7" y="341.2" width="1.3" height="1.4" fill="#f9fb15"/>
<rect x="385.5" y="175.4" width="1.3" height="2.2" fill="#05b6ce"/>
<rect x="237.1" y="343.3" width="1.9" height="1.4" fill="#05b6ce"/>
<rect x="381.7" y="134.3" width="1.3" height="1.4" fill="#05b6ce"/>
<rect x="200.7" y="339.0" width="1.3" height="1.4" fill="#05b6ce"/>
<rect x="412.9" y="147.3" width="1.9" height="1.4" fill="#f9fb15"/>
<rect x="212.2" y="374.3" width="1.3" height="2.2" fill="#f9fb15"/>
<rect x="430.1" y="242.4" width="1.3" height="1.4" fill="#f9fb15"/>
<rect x="296.3" y="393.8" width="1.3" height="1.4" fill="#f9fb15"/>
<rect x="392.5" y="126.4" width="1.9" height="1.4" fill="#f9fb15"/>
<rect x="193.7" y="351.3" width="1.3" height="2.2" fill="#f9fb15"/>
<rect x="425.6" y="248.2" width="1.3" height="2.2" fill="#05b6ce"/>
<rect x="301.4" y="388.7" width="1.9" height="1.4" fill="#05b6ce"/>
<rect x="485.5" y="146.6" width="1.3" height="1.4" fill="#2d8cf3"/>
<rect x="211.6" y="456.5" width="1.3" height="1.4" fill="#2d8cf3"/>
<rect x="494.4" y="261.2" width="1.9" height="2.2" fill="#f9fb15"/>
<rect x="312.9" y="466.6" width="1.9" height="2.2" fill="#f9fb15"/>
<rect x="533.3" y="237.4" width="1.3" height="1.4" fill="#2d8cf3"/>
<rect x="291.8" y="510.5" width="1.3" height="1.4" fill="#2d8cf3"/>
<rect x="425.6" y="170.4" width="1.9" height="1.4" fill="#f9fb15"/>
<rect x="232.6" y="388.7" width="1.3" height="2.2" fill="#f9fb15"/>
<rect x="526.9" y="248.2" width="1.9" height="1.4" fill="#f9fb15"/>
<rect x="301.4" y="503.3" width="1.3" height="2.2" fill="#f9fb15"/>
<rect x="519.3" y="187.7" width="1.9" height="1.4" fill="#f9fb15"/>
<rect x="247.9" y="494.7" width="1.3" height="2.2" fill="#f9fb15"/>
<rect x="375.9" y="285.0" width="1.9" height="1.4" fill="#f9fb15"/>
<rect x="333.9" y="332.5" width="1.3" height="2.2" fill="#f9fb15"/>
<rect x="397.6" y="130.0" width="1.9" height="2.2" fill="#f9fb15"/>
<rect x="196.9" y="357.0" width="1.9" height="2.2" fill="#f9fb15"/>
<rect x="395.0" y="236.0" width="1.3" height="2.2" fill="#2d8cf3"/>
<rect x="290.6" y="354.1" width="1.9" height="1.4" fill="#2d8cf3"/>
<rect x="372.1" y="308.0" width="1.9" height="1.4" fill="#f9fb15"/>
<rect x="354.3" y="328.2" width="1.3" height="2.2" fill="#f9fb15"/>
<rect x="516.1" y="190.6" width="1.9" height="1.4" fill="#f9fb15"/>
<rect x="250.4" y="491.1" width="1.3" height="2.2" fill="#f9fb15"/>
<rect x="378.5" y="119.9" width="1.3" height="2.2" fill="#2d8cf3"/>
<rect x="188.0" y="335.4" width="1.9" height="1.4" fill="#2d8cf3"/>
<rect x="432.0" y="206.4" width="1.3" height="1.4" fill="#f9fb15"/>
<rect x="264.4" y="395.9" width="1.3" height="1.4" fill="#f9fb15"/>
<rect x="361.3" y="250.4" width="1.9" height="1.4" fill="#f9fb15"/>
<rect x="303.3" y="316.0" width="1.3" height="2.2" fill="#f9fb15"/>
<rect x="491.2" y="237.4" width="1.9" height="1.4" fill="#f9fb15"/>
<rect x="291.8" y="463.0" width="1.3" height="2.2" fill="#f9fb15"/>
<rect x="505.9" y="148.8" width="1.3" height="2.2" fill="#f9fb15"/>
<rect x="213.5" y="479.5" width="1.9" height="1.4" fill="#f9fb15"/>
<rect x="422.4" y="128.6" width="1.9" height="1.4" fill="#05b6ce"/>
<rect x="195.7" y="385.1" width="1.3" height="2.2" fill="#05b6ce"/>
<rect x="387.4" y="285.7" width="1.9" height="2.2" fill="#05b6ce"/>
<rect x="334.5" y="345.5" width="1.9" height="2.2" fill="#05b6ce"/>
<rect x="429.4" y="132.9" width="1.9" height="1.4" fill="#05b6ce"/>
<rect x="199.5" y="393.1" width="1.3" height="2.2" fill="#05b6ce"/>
<rect x="425.0" y="305.9" width="1.9" height="1.4" fill="#f9fb15"/>
<rect x="352.4" y="388.0" width="1.3" height="2.2" fill="#f9fb15"/>
<rect x="480.4" y="217.2" width="1.9" height="2.2" fill="#2d8cf3"/>
<rect x="274.0" y="450.7" width="1.9" height="2.2" fill="#2d8cf3"/>
<rect x="363.8" y="220.8" width="1.9" height="1.4" fill="#f9fb15"/>
<rect x="277.2" y="318.8" width="1.3" height="2.2" fill="#f9fb15"/>
<rect x="505.2" y="127.1" width="1.9" height="2.2" fill="#f9fb15"/>
<rect x="194.4" y="478.8" width="1.9" height="2.2" fill="#f9fb15"/>
<rect x="411.0" y="131.5" width="1.9" height="1.4" fill="#2d8cf3"/>
<rect x="198.2" y="372.2" width="1.3" height="2.2" fill="#2d8cf3"/>
<rect x="371.5" y="229.5" width="1.9" height="1.4" fill="#2d8cf3"/>
<rect x="284.8" y="327.5" width="1.3" height="2.2" fill="#2d8cf3"/>
<rect x="400.8" y="287.8" width="1.3" height="1.4" fill="#05b6ce"/>
<rect x="336.4" y="360.6" width="1.3" height="1.4" fill="#05b6ce"/>
<rect x="375.9" y="304.4" width="1.9" height="2.2" fill="#05b6ce"/>
<rect x="351.1" y="332.5" width="1.9" height="2.2" fill="#05b6ce"/>
<rect x="399.5" y="164.6" width="1.3" height="1.4" fill="#2d8cf3"/>
<rect x="227.5" y="359.2" width="1.3" height="1.4" fill="#2d8cf3"/>
<rect x="433.9" y="265.5" width="1.9" height="1.4" fill="#f9fb15"/>
<rect x="316.7" y="398.1" width="1.3" height="2.2" fill="#f9fb15"/>
<rect x="384.8" y="306.6" width="1.3" height="1.4" fill="#f9fb15"/>
<rect x="353.0" y="342.6" width="1.3" height="1.4" fill="#f9fb15"/>
<rect x="433.9" y="265.5" width="1.9" height="2.2" fill="#2d8cf3"/>
<rect x="316.7" y="398.1" width="1.9" height="2.2" fill="#2d8cf3"/>
<rect x="419.2" y="266.2" width="1.3" height="2.2" fill="#2d8cf3"/>
<rect x="317.3" y="381.5" width="1.9" height="1.4" fill="#2d8cf3"/>
<rect x="521.2" y="218.7" width="1.3" height="1.4" fill="#f9fb15"/>
<rect x="275.3" y="496.8" width="1.3" height="1.4" fill="#f9fb15"/>
<rect x="410.3" y="297.2" width="1.9" height="2.2" fill="#2d8cf3"/>
<rect x="344.7" y="371.4" width="1.9" height="2.2" fill="#2d8cf3"/>
<rect x="404.0" y="212.9" width="1.9" height="2.2" fill="#2d8cf3"/>
<rect x="270.2" y="364.2" width="1.9" height="2.2" fill="#2d8cf3"/>
<rect x="505.2" y="181.9" width="1.3" height="1.4" fill="#f9fb15"/>
<rect x="242.8" y="478.8" width="1.3" height="1.4" fill="#f9fb15"/>
<rect x="483.6" y="203.5" width="1.9" height="1.4" fill="#05b6ce"/>
<rect x="261.9" y="454.3" width="1.3" height="2.2" fill="#05b6ce"/>
<rect x="504.0" y="126.4" width="1.9" height="1.4" fill="#f9fb15"/>
<rect x="193.7" y="477.4" width="1.3" height="2.2" fill="#f9fb15"/>
<rect x="363.8" y="268.4" width="1.3" height="1.4" fill="#2d8cf3"/>
<rect x="319.2" y="318.8" width="1.3" height="1.4" fill="#2d8cf3"/>
<rect x="371.5" y="214.3" width="1.3" height="2.2" fill="#2d8cf3"/>
<rect x="271.5" y="327.5" width="1.9" height="1.4" fill="#2d8cf3"/>
<rect x="504.6" y="198.5" width="1.9" height="1.4" fill="#05b6ce"/>
<rect x="257.4" y="478.1" width="1.3" height="2.2" fill="#05b6ce"/>
<rect x="393.8" y="242.4" width="1.9" height="1.4" fill="#f9fb15"/>
<rect x="296.3" y="352.7" width="1.3" height="2.2" fill="#f9fb15"/>
<rect x="372.1" y="161.0" width="1.9" height="1.4" fill="#2d8cf3"/>
<rect x="224.3" y="328.2" width="1.3" height="2.2" fill="#2d8cf3"/>
<rect x="432.0" y="190.6" width="1.9" height="1.4" fill="#f9fb15"/>
<rect x="250.4" y="395.9" width="1.3" height="2.2" fill="#f9fb15"/>
<rect x="419.9" y="167.5" width="1.9" height="2.2" fill="#f9fb15"/>
<rect x="230.0" y="382.3" width="1.9" height="2.2" fill="#f9fb15"/>
<rect x="714.8" y="218.7" width="1.9" height="1.4" fill="#2d8cf3"/>
<rect x="275.3" y="715.9" width="1.3" height="2.2" fill="#2d8cf3"/>
<rect x="567.7" y="248.2" width="1.3" height="1.4" fill="#f9fb15"/>
<rect x="301.4" y="549.5" width="1.3" height="1.4" fill="#f9fb15"/>
<rect x="677.2" y="142.3" width="1.9" height="1.4" fill="#f9fb15"/>
<rect x="207.8" y="673.4" width="1.3" height="2.2" fill="#f9fb15"/>
<rect x="633.9" y="282.8" width="1.3" height="1.4" fill="#2d8cf3"/>
<rect x="332.0" y="624.4" width="1.3" height="1.4" fill="#2d8cf3"/>
<rect x="605.9" y="225.9" width="1.3" height="2.2" fill="#05b6ce"/>
<rect x="281.6" y="592.7" width="1.9" height="1.4" fill="#05b6ce"/>
<rect x="697.6" y="223.7" width="1.9" height="2.2" fill="#2d8cf3"/>
<rect x="279.7" y="696.5" width="1.9" height="2.2" fill="#2d8cf3"/>
<rect x="583.0" y="215.8" width="1.9" height="2.2" fill="#f9fb15"/>
<rect x="272.7" y="566.8" width="1.9" height="2.2" fill="#f9fb15"/>
<rect x="655.6" y="232.4" width="1.9" height="1.4" fill="#05b6ce"/>
<rect x="287.4" y="648.9" width="1.3" height="2.2" fill="#05b6ce"/>
<rect x="626.9" y="274.2" width="1.9" height="1.4" fill="#f9fb15"/>
<rect x="324.3" y="616.5" width="1.3" height="2.2" fill="#f9fb15"/>
<rect x="608.4" y="228.8" width="1.9" height="2.2" fill="#f9fb15"/>
<rect x="284.2" y="595.6" width="1.9" height="2.2" fill="#f9fb15"/>
<rect x="563.8" y="203.5" width="1.3" height="1.4" fill="#f9fb15"/>
<rect x="261.9" y="545.1" width="1.3" height="1.4" fill="#f9fb15"/>
<rect x="665.1" y="246.0" width="1.9" height="1.4" fill="#f9fb15"/>
<rect x="299.5" y="659.7" width="1.3" height="2.2" fill="#f9fb15"/>
<rect x="663.2" y="247.5" width="1.9" height="2.2" fill="#f9fb15"/>
<rect x="300.8" y="657.6" width="1.9" height="2.2" fill="#f9fb15"/>
<rect x="593.8" y="176.9" width="1.9" height="1.4" fill="#f9fb15"/>
<rect x="238.3" y="579.0" width="1.3" height="2.2" fill="#f9fb15"/>
<rect x="608.4" y="119.9" width="1.3" height="2.2" fill="#f9fb15"/>
<rect x="188.0" y="595.6" width="1.9" height="1.4" fill="#f9fb15"/>
<rect x="543.5" y="220.8" width="1.3" height="1.4" fill="#2d8cf3"/>
<rect x="277.2" y="522.1" width="1.3" height="1.4" fill="#2d8cf3"/>
<rect x="714.2" y="224.4" width="1.9" height="1.4" fill="#f9fb15"/>
<rect x="280.4" y="715.2" width="1.3" height="2.2" fill="#f9fb15"/>
<rect x="638.4" y="150.2" width="1.9" height="2.2" fill="#f9fb15"/>
<rect x="214.8" y="629.5" width="1.9" height="2.2" fill="#f9fb15"/>
<rect x="567.7" y="164.6" width="1.9" height="2.2" fill="#2d8cf3"/>
<rect x="227.5" y="549.5" width="1.9" height="2.2" fill="#2d8cf3"/>
<rect x="607.8" y="202.1" width="1.9" height="2.2" fill="#f9fb15"/>
<rect x="260.6" y="594.9" width="1.9" height="2.2" fill="#f9fb15"/>
<rect x="664.5" y="281.4" width="1.9" height="1.4" fill="#f9fb15"/>
<rect x="330.7" y="659.0" width="1.3" height="2.2" fill="#f9fb15"/>
<rect x="697.0" y="161.7" width="1.3" height="2.2" fill="#f9fb15"/>
<rect x="225.0" y="695.8" width="1.9" height="1.4" fill="#f9fb15"/>
<rect x="670.2" y="128.6" width="1.9" height="2.2" fill="#2d8cf3"/>
<rect x="195.7" y="665.5" width="1.9" height="2.2" fill="#2d8cf3"/>
<rect x="659.4" y="112.7" width="1.9" height="1.4" fill="#2d8cf3"/>
<rect x="181.6" y="653.2" width="1.3" height="2.2" fill="#2d8cf3"/>
<rect x="707.2" y="120.6" width="1.3" height="1.4" fill="#f9fb15"/>
<rect x="188.6" y="707.3" width="1.3" height="1.4" fill="#f9fb15"/>
<rect x="673.4" y="266.9" width="1.9" height="1.4" fill="#05b6ce"/>
<rect x="318.0" y="669.1" width="1.3" height="2.2" fill="#05b6ce"/>
<rect x="658.8" y="171.8" width="1.3" height="1.4" fill="#2d8cf3"/>
<rect x="233.9" y="652.5" width="1.3" height="1.4" fill="#2d8cf3"/>
<rect x="674.7" y="255.4" width="1.3" height="1.4" fill="#f9fb15"/>
<rect x="307.8" y="670.5" width="1.3" height="1.4" fill="#f9fb15"/>
<rect x="636.5" y="285.7" width="1.9" height="1.4" fill="#2d8cf3"/>
<rect x="334.5" y="627.3" width="1.3" height="2.2" fill="#2d8cf3"/>
<rect x="594.4" y="168.9" width="1.3" height="1.4" fill="#05b6ce"/>
<rect x="231.3" y="579.7" width="1.3" height="1.4" fill="#05b6ce"/>
<rect x="547.9" y="289.3" width="1.3" height="1.4" fill="#f9fb15"/>
<rect x="337.7" y="527.1" width="1.3" height="1.4" fill="#f9fb15"/>
<rect x="607.2" y="243.9" width="1.9" height="2.2" fill="#f9fb15"/>
<rect x="297.6" y="594.1" width="1.9" height="2.2" fill="#f9fb15"/>
<rect x="702.1" y="285.7" width="1.9" height="1.4" fill="#f9fb15"/>
<rect x="334.5" y="701.5" width="1.3" height="2.2" fill="#f9fb15"/>
<rect x="592.5" y="260.5" width="1.9" height="1.4" fill="#05b6ce"/>
<rect x="312.2" y="577.6" width="1.3" height="2.2" fill="#05b6ce"/>
<rect x="621.2" y="288.6" width="1.9" height="1.4" fill="#f9fb15"/>
<rect x="337.1" y="610.0" width="1.3" height="2.2" fill="#f9fb15"/>
<rect x="693.8" y="145.9" width="1.3" height="1.4" fill="#05b6ce"/>
<rect x="210.9" y="692.2" width="1.3" height="1.4" fill="#05b6ce"/>
<rect x="579.8" y="192.0" width="1.9" height="1.4" fill="#2d8cf3"/>
<rect x="251.7" y="563.1" width="1.3" height="2.2" fill="#2d8cf3"/>
<rect x="625.6" y="302.3" width="1.9" height="1.4" fill="#2d8cf3"/>
<rect x="349.2" y="615.0" width="1.3" height="2.2" fill="#2d8cf3"/>
<rect x="539.6" y="199.2" width="1.9" height="1.4" fill="#05b6ce"/>
<rect x="258.1" y="517.7" width="1.3" height="2.2" fill="#05b6ce"/>
<rect x="673.4" y="202.8" width="1.9" height="1.4" fill="#2d8cf3"/>
<rect x="261.3" y="669.1" width="1.3" height="2.2" fill="#2d8cf3"/>
<rect x="640.9" y="169.7" width="1.3" height="2.2" fill="#f9fb15"/>
<rect x="232.0" y="632.3" width="1.9" height="1.4" fill="#f9fb15"/>
<rect x="704.6" y="210.0" width="1.9" height="1.4" fill="#f9fb15"/>
<rect x="267.6" y="704.4" width="1.3" height="2.2" fill="#f9fb15"/>
<rect x="536.4" y="177.6" width="1.3" height="1.4" fill="#f9fb15"/>
<rect x="239.0" y="514.1" width="1.3" height="1.4" fill="#f9fb15"/>
<rect x="651.1" y="142.3" width="1.9" height="2.2" fill="#f9fb15"/>
<rect x="207.8" y="643.9" width="1.9" height="2.2" fill="#f9fb15"/>
<rect x="692.5" y="147.3" width="1.9" height="1.4" fill="#2d8cf3"/>
<rect x="212.2" y="690.7" width="1.3" height="2.2" fill="#2d8cf3"/>
<rect x="635.2" y="298.7" width="1.9" height="1.4" fill="#f9fb15"/>
<rect x="346.0" y="625.8" width="1.3" height="2.2" fill="#f9fb15"/>
<rect x="565.8" y="182.6" width="1.3" height="1.4" fill="#2d8cf3"/>
<rect x="243.4" y="547.3" width="1.3" height="1.4" fill="#2d8cf3"/>
<rect x="713.5" y="125.7" width="1.3" height="1.4" fill="#f9fb15"/>
<rect x="193.1" y="714.5" width="1.3" height="1.4" fill="#f9fb15"/>
<rect x="639.0" y="226.6" width="1.9" height="1.4" fill="#f9fb15"/>
<rect x="282.3" y="630.2" width="1.3" height="2.2" fill="#f9fb15"/>
<rect x="688.7" y="224.4" width="1.9" height="1.4" fill="#2d8cf3"/>
<rect x="280.4" y="686.4" width="1.3" height="2.2" fill="#2d8cf3"/>
<rect x="581.7" y="139.4" width="1.9" height="1.4" fill="#f9fb15"/>
<rect x="205.2" y="565.3" width="1.3" height="2.2" fill="#f9fb15"/>
<rect x="575.9" y="282.1" width="1.9" height="1.4" fill="#2d8cf3"/>
<rect x="331.3" y="558.8" width="1.3" height="2.2" fill="#2d8cf3"/>
<rect x="613.5" y="287.1" width="1.9" height="1.4" fill="#f9fb15"/>
<rect x="335.8" y="601.3" width="1.3" height="2.2" fill="#f9fb15"/>
<rect x="603.3" y="115.6" width="1.9" height="1.4" fill="#05b6ce"/>
<rect x="184.2" y="589.8" width="1.3" height="2.2" fill="#05b6ce"/>
<rect x="712.3" y="250.4" width="1.9" height="1.4" fill="#2d8cf3"/>
<rect x="303.3" y="713.1" width="1.3" height="2.2" fill="#2d8cf3"/>
<rect x="619.9" y="143.7" width="1.9" height="1.4" fill="#f9fb15"/>
<rect x="209.0" y="608.6" width="1.3" height="2.2" fill="#f9fb15"/>
<rect x="643.5" y="152.4" width="1.9" height="1.4" fill="#f9fb15"/>
<rect x="216.7" y="635.2" width="1.3" height="2.2" fill="#f9fb15"/>
<rect x="644.1" y="285.0" width="1.3" height="1.4" fill="#f9fb15"/>
<rect x="333.9" y="635.9" width="1.3" height="1.4" fill="#f9fb15"/>
<rect x="582.3" y="149.5" width="1.9" height="1.4" fill="#2d8cf3"/>
<rect x="214.1" y="566.0" width="1.3" height="2.2" fill="#2d8cf3"/>
<rect x="595.1" y="177.6" width="1.9" height="1.4" fill="#f9fb15"/>
<rect x="239.0" y="580.4" width="1.3" height="2.2" fill="#f9fb15"/>
<rect x="568.9" y="145.2" width="1.3" height="1.4" fill="#f9fb15"/>
<rect x="210.3" y="550.9" width="1.3" height="1.4" fill="#f9fb15"/>
<rect x="668.9" y="272.0" width="1.9" height="1.4" fill="#2d8cf3"/>
<rect x="322.4" y="664.0" width="1.3" height="2.2" fill="#2d8cf3"/>
<rect x="581.7" y="300.1" width="1.9" height="1.4" fill="#2d8cf3"/>
<rect x="347.3" y="565.3" width="1.3" height="2.2" fill="#2d8cf3"/>
<rect x="693.8" y="254.0" width="1.9" height="1.4" fill="#f9fb15"/>
<rect x="306.5" y="692.2" width="1.3" height="2.2" fill="#f9fb15"/>
<rect x="667.0" y="117.0" width="1.3" height="1.4" fill="#2d8cf3"/>
<rect x="185.5" y="661.9" width="1.3" height="1.4" fill="#2d8cf3"/>
<rect x="542.2" y="307.3" width="1.9" height="1.4" fill="#f9fb15"/>
<rect x="353.6" y="520.6" width="1.3" height="2.2" fill="#f9fb15"/>
<rect x="679.8" y="225.1" width="1.3" height="1.4" fill="#f9fb15"/>
<rect x="281.0" y="676.3" width="1.3" height="1.4" fill="#f9fb15"/>
<rect x="644.7" y="299.4" width="1.9" height="1.4" fill="#2d8cf3"/>
<rect x="346.6" y="636.7" width="1.3" height="2.2" fill="#2d8cf3"/>
<rect x="618.6" y="170.4" width="1.9" height="1.4" fill="#2d8cf3"/>
<rect x="232.6" y="607.1" width="1.3" height="2.2" fill="#2d8cf3"/>
<rect x="651.1" y="197.8" width="1.3" height="2.2" fill="#2d8cf3"/>
<rect x="256.8" y="643.9" width="1.9" height="1.4" fill="#2d8cf3"/>
<rect x="600.8" y="467.3" width="1.9" height="2.2" fill="#05b6ce"/>
<rect x="495.0" y="586.9" width="1.9" height="2.2" fill="#05b6ce"/>
<rect x="600.2" y="491.8" width="1.9" height="1.4" fill="#f9fb15"/>
<rect x="516.7" y="586.2" width="1.3" height="2.2" fill="#f9fb15"/>
<rect x="600.8" y="483.2" width="1.3" height="1.4" fill="#2d8cf3"/>
<rect x="509.1" y="586.9" width="1.3" height="1.4" fill="#2d8cf3"/>
<rect x="672.1" y="402.4" width="1.3" height="1.4" fill="#2d8cf3"/>
<rect x="437.7" y="667.6" width="1.3" height="1.4" fill="#2d8cf3"/>
<rect x="623.1" y="380.8" width="1.9" height="1.4" fill="#f9fb15"/>
<rect x="418.6" y="612.2" width="1.3" height="2.2" fill="#f9fb15"/>
<rect x="580.4" y="496.1" width="1.9" height="2.2" fill="#f9fb15"/>
<rect x="520.5" y="563.9" width="1.9" height="2.2" fill="#f9fb15"/>
<rect x="556.8" y="462.3" width="1.3" height="1.4" fill="#f9fb15"/>
<rect x="490.6" y="537.2" width="1.3" height="1.4" fill="#f9fb15"/>
<rect x="645.4" y="499.0" width="1.3" height="1.4" fill="#2d8cf3"/>
<rect x="523.1" y="637.4" width="1.3" height="1.4" fill="#2d8cf3"/>
<rect x="654.9" y="367.1" width="1.9" height="2.2" fill="#f9fb15"/>
<rect x="406.5" y="648.2" width="1.9" height="2.2" fill="#f9fb15"/>
<rect x="597.0" y="344.8" width="1.9" height="1.4" fill="#f9fb15"/>
<rect x="386.8" y="582.6" width="1.3" height="2.2" fill="#f9fb15"/>
<rect x="667.7" y="320.3" width="1.3" height="2.2" fill="#f9fb15"/>
<rect x="365.1" y="662.6" width="1.9" height="1.4" fill="#f9fb15"/>
<rect x="660.7" y="370.7" width="1.3" height="2.2" fill="#2d8cf3"/>
<rect x="409.7" y="654.7" width="1.9" height="1.4" fill="#2d8cf3"/>
<rect x="601.4" y="343.3" width="1.3" height="1.4" fill="#f9fb15"/>
<rect x="385.5" y="587.7" width="1.3" height="1.4" fill="#f9fb15"/>
<rect x="661.9" y="459.4" width="1.3" height="1.4" fill="#f9fb15"/>
<rect x="488.0" y="656.1" width="1.3" height="1.4" fill="#f9fb15"/>
<rect x="705.9" y="376.5" width="1.9" height="1.4" fill="#f9fb15"/>
<rect x="414.8" y="705.8" width="1.3" height="2.2" fill="#f9fb15"/>
<rect x="553.6" y="375.8" width="1.9" height="1.4" fill="#2d8cf3"/>
<rect x="414.1" y="533.6" width="1.3" height="2.2" fill="#2d8cf3"/>
<rect x="583.6" y="485.3" width="1.9" height="1.4" fill="#f9fb15"/>
<rect x="511.0" y="567.5" width="1.3" height="2.2" fill="#f9fb15"/>
<rect x="689.3" y="333.2" width="1.9" height="2.2" fill="#f9fb15"/>
<rect x="376.6" y="687.1" width="1.9" height="2.2" fill="#f9fb15"/>
<rect x="668.9" y="465.9" width="1.9" height="1.4" fill="#2d8cf3"/>
<rect x="493.8" y="664.0" width="1.3" height="2.2" fill="#2d8cf3"/>
<rect x="669.6" y="488.9" width="1.9" height="1.4" fill="#2d8cf3"/>
<rect x="514.2" y="664.8" width="1.3" height="2.2" fill="#2d8cf3"/>
<rect x="707.8" y="335.4" width="1.9" height="2.2" fill="#f9fb15"/>
<rect x="378.5" y="708.0" width="1.9" height="2.2" fill="#f9fb15"/>
<rect x="544.1" y="391.6" width="1.9" height="1.4" fill="#f9fb15"/>
<rect x="428.2" y="522.8" width="1.3" height="2.2" fill="#f9fb15"/>
<rect x="677.2" y="495.4" width="1.9" height="2.2" fill="#2d8cf3"/>
<rect x="519.9" y="673.4" width="1.9" height="2.2" fill="#2d8cf3"/>
<rect x="635.8" y="500.4" width="1.3" height="1.4" fill="#05b6ce"/>
<rect x="524.3" y="626.6" width="1.3" height="1.4" fill="#05b6ce"/>
<rect x="681.7" y="336.9" width="1.3" height="1.4" fill="#f9fb15"/>
<rect x="379.7" y="678.5" width="1.3" height="1.4" fill="#f9fb15"/>
<rect x="570.2" y="401.7" width="1.9" height="1.4" fill="#f9fb15"/>
<rect x="437.1" y="552.3" width="1.3" height="2.2" fill="#f9fb15"/>
<rect x="665.1" y="370.7" width="1.9" height="1.4" fill="#05b6ce"/>
<rect x="409.7" y="659.7" width="1.3" height="2.2" fill="#05b6ce"/>
<rect x="656.2" y="484.6" width="1.9" height="1.4" fill="#05b6ce"/>
<rect x="510.3" y="649.6" width="1.3" height="2.2" fill="#05b6ce"/>
<rect x="590.0" y="510.5" width="1.9" height="2.2" fill="#f9fb15"/>
<rect x="533.3" y="574.7" width="1.9" height="2.2" fill="#f9fb15"/>
<rect x="575.9" y="466.6" width="1.9" height="1.4" fill="#05b6ce"/>
<rect x="494.4" y="558.8" width="1.3" height="2.2" fill="#05b6ce"/>
<rect x="578.5" y="507.7" width="1.9" height="2.2" fill="#f9fb15"/>
<rect x="530.7" y="561.7" width="1.9" height="2.2" fill="#f9fb15"/>
<rect x="536.4" y="398.1" width="1.9" height="2.2" fill="#f9fb15"/>
<rect x="433.9" y="514.1" width="1.9" height="2.2" fill="#f9fb15"/>
<rect x="642.2" y="318.8" width="1.9" height="1.4" fill="#f9fb15"/>
<rect x="363.8" y="633.8" width="1.3" height="2.2" fill="#f9fb15"/>
<rect x="665.8" y="459.4" width="1.9" height="2.2" fill="#f9fb15"/>
<rect x="488.0" y="660.4" width="1.9" height="2.2" fill="#f9fb15"/>
<rect x="551.1" y="357.0" width="1.9" height="1.4" fill="#f9fb15"/>
<rect x="397.6" y="530.7" width="1.3" height="2.2" fill="#f9fb15"/>
<rect x="642.2" y="370.7" width="1.3" height="1.4" fill="#f9fb15"/>
<rect x="409.7" y="633.8" width="1.3" height="1.4" fill="#f9fb15"/>
<rect x="632.6" y="351.3" width="1.3" height="2.2" fill="#05b6ce"/>
<rect x="392.5" y="623.0" width="1.9" height="1.4" fill="#05b6ce"/>
<rect x="639.0" y="350.5" width="1.9" height="1.4" fill="#2d8cf3"/>
<rect x="391.8" y="630.2" width="1.3" height="2.2" fill="#2d8cf3"/>
<rect x="592.5" y="317.4" width="1.9" height="2.2" fill="#2d8cf3"/>
<rect x="362.5" y="577.6" width="1.9" height="2.2" fill="#2d8cf3"/>
<rect x="709.7" y="351.3" width="1.3" height="1.4" fill="#2d8cf3"/>
<rect x="392.5" y="710.2" width="1.3" height="1.4" fill="#2d8cf3"/>
<rect x="635.8" y="553.1" width="1.9" height="1.4" fill="#2d8cf3"/>
<rect x="570.8" y="626.6" width="1.3" height="2.2" fill="#2d8cf3"/>
<rect x="580.4" y="669.1" width="1.9" height="1.4" fill="#f9fb15"/>
<rect x="673.4" y="563.9" width="1.3" height="2.2" fill="#f9fb15"/>
<rect x="591.2" y="543.0" width="1.3" height="1.4" fill="#f9fb15"/>
<rect x="561.9" y="576.1" width="1.3" height="1.4" fill="#f9fb15"/>
<rect x="623.7" y="586.2" width="1.9" height="1.4" fill="#f9fb15"/>
<rect x="600.2" y="612.9" width="1.3" height="2.2" fill="#f9fb15"/>
<rect x="625.0" y="623.0" width="1.9" height="2.2" fill="#f9fb15"/>
<rect x="632.6" y="614.3" width="1.9" height="2.2" fill="#f9fb15"/>
<rect x="704.6" y="556.7" width="1.3" height="1.4" fill="#f9fb15"/>
<rect x="574.0" y="704.4" width="1.3" height="1.4" fill="#f9fb15"/>
<rect x="626.3" y="597.0" width="1.3" height="2.2" fill="#f9fb15"/>
<rect x="609.7" y="615.8" width="1.9" height="1.4" fill="#f9fb15"/>
<rect x="561.3" y="684.2" width="1.3" height="2.2" fill="#f9fb15"/>
<rect x="686.8" y="542.2" width="1.9" height="1.4" fill="#f9fb15"/>
<rect x="551.1" y="709.4" width="1.9" height="2.2" fill="#f9fb15"/>
<rect x="709.1" y="530.7" width="1.9" height="2.2" fill="#f9fb15"/>
<rect x="618.0" y="712.3" width="1.3" height="2.2" fill="#f9fb15"/>
<rect x="711.6" y="606.4" width="1.9" height="1.4" fill="#f9fb15"/>
<rect x="628.8" y="574.7" width="1.3" height="1.4" fill="#05b6ce"/>
<rect x="590.0" y="618.6" width="1.3" height="1.4" fill="#05b6ce"/>
<rect x="626.9" y="579.7" width="1.3" height="1.4" fill="#2d8cf3"/>
<rect x="594.4" y="616.5" width="1.3" height="1.4" fill="#2d8cf3"/>
<rect x="547.3" y="569.6" width="1.9" height="2.2" fill="#2d8cf3"/>
<rect x="585.5" y="526.4" width="1.9" height="2.2" fill="#2d8cf3"/>
<rect x="698.9" y="514.9" width="1.9" height="1.4" fill="#f9fb15"/>
<rect x="537.1" y="697.9" width="1.3" height="2.2" fill="#f9fb15"/>
<rect x="640.9" y="646.7" width="1.9" height="1.4" fill="#2d8cf3"/>
<rect x="653.7" y="632.3" width="1.3" height="2.2" fill="#2d8cf3"/>
<rect x="700.8" y="621.5" width="1.9" height="2.2" fill="#2d8cf3"/>
<rect x="631.4" y="700.1" width="1.9" height="2.2" fill="#2d8cf3"/>
<rect x="709.7" y="705.8" width="1.3" height="1.4" fill="#f9fb15"/>
<rect x="705.9" y="710.2" width="1.3" height="1.4" fill="#f9fb15"/>
<rect x="612.9" y="674.9" width="1.9" height="2.2" fill="#2d8cf3"/>
<rect x="678.5" y="600.6" width="1.9" height="2.2" fill="#2d8cf3"/>
<rect x="620.5" y="600.6" width="1.9" height="1.4" fill="#f9fb15"/>
<rect x="612.9" y="609.3" width="1.3" height="2.2" fill="#f9fb15"/>
<rect x="621.2" y="697.9" width="1.9" height="2.2" fill="#f9fb15"/>
<rect x="698.9" y="610.0" width="1.9" height="2.2" fill="#f9fb15"/>
<rect x="682.3" y="532.9" width="1.9" height="1.4" fill="#05b6ce"/>
<rect x="553.0" y="679.2" width="1.3" height="2.2" fill="#05b6ce"/>
<rect x="542.2" y="569.6" width="1.9" height="1.4" fill="#2d8cf3"/>
<rect x="585.5" y="520.6" width="1.3" height="2.2" fill="#2d8cf3"/>
<rect x="621.8" y="677.0" width="1.3" height="1.4" fill="#05b6ce"/>
<rect x="680.4" y="610.7" width="1.3" height="1.4" fill="#05b6ce"/>
<rect x="594.4" y="555.9" width="1.9" height="2.2" fill="#f9fb15"/>
<rect x="573.4" y="579.7" width="1.9" height="2.2" fill="#f9fb15"/>
<rect x="583.6" y="601.3" width="1.3" height="1.4" fill="#f9fb15"/>
<rect x="613.5" y="567.5" width="1.3" height="1.4" fill="#f9fb15"/>
<rect x="707.8" y="629.5" width="1.9" height="2.2" fill="#2d8cf3"/>
<rect x="638.4" y="708.0" width="1.9" height="2.2" fill="#2d8cf3"/>
<rect x="702.7" y="546.6" width="1.3" height="1.4" fill="#f9fb15"/>
<rect x="565.1" y="702.2" width="1.3" height="1.4" fill="#f9fb15"/>
<rect x="698.2" y="572.5" width="1.9" height="2.2" fill="#2d8cf3"/>
<rect x="588.0" y="697.2" width="1.9" height="2.2" fill="#2d8cf3"/>
<rect x="639.0" y="536.5" width="1.9" height="1.4" fill="#f9fb15"/>
<rect x="556.2" y="630.2" width="1.3" height="2.2" fill="#f9fb15"/>
<rect x="549.8" y="593.4" width="1.3" height="2.2" fill="#f9fb15"/>
<rect x="606.5" y="529.3" width="1.9" height="1.4" fill="#f9fb15"/>
<rect x="684.9" y="567.5" width="1.3" height="1.4" fill="#f9fb15"/>
<rect x="583.6" y="682.1" width="1.3" height="1.4" fill="#f9fb15"/>
<rect x="669.6" y="602.8" width="1.3" height="1.4" fill="#05b6ce"/>
<rect x="614.8" y="664.8" width="1.3" height="1.4" fill="#05b6ce"/>
<rect x="717.4" y="659.0" width="1.3" height="1.4" fill="#f9fb15"/>
<rect x="664.5" y="718.8" width="1.3" height="1.4" fill="#f9fb15"/>
<rect x="611.0" y="526.4" width="1.9" height="1.4" fill="#f9fb15"/>
<rect x="547.3" y="598.5" width="1.3" height="2.2" fill="#f9fb15"/>
<rect x="672.8" y="602.8" width="1.9" height="1.4" fill="#f9fb15"/>
<rect x="614.8" y="668.4" width="1.3" height="2.2" fill="#f9fb15"/>
<rect x="646.0" y="628.0" width="1.3" height="2.2" fill="#05b6ce"/>
<rect x="637.1" y="638.1" width="1.9" height="1.4" fill="#05b6ce"/>
<rect x="588.7" y="528.6" width="1.3" height="2.2" fill="#f9fb15"/>
<rect x="549.2" y="573.2" width="1.9" height="1.4" fill="#f9fb15"/>
<rect x="593.8" y="640.3" width="1.3" height="1.4" fill="#f9fb15"/>
<rect x="647.9" y="579.0" width="1.3" height="1.4" fill="#f9fb15"/>
<rect x="606.5" y="532.2" width="1.3" height="1.4" fill="#f9fb15"/>
<rect x="552.4" y="593.4" width="1.3" height="1.4" fill="#f9fb15"/>
<rect x="589.3" y="716.7" width="1.3" height="1.4" fill="#f9fb15"/>
<rect x="715.4" y="574.0" width="1.3" height="1.4" fill="#f9fb15"/>
<rect x="636.5" y="686.4" width="1.9" height="1.4" fill="#f9fb15"/>
<rect x="688.7" y="627.3" width="1.3" height="2.2" fill="#f9fb15"/>
<rect x="695.1" y="580.4" width="1.9" height="1.4" fill="#f9fb15"/>
<rect x="595.1" y="693.6" width="1.3" height="2.2" fill="#f9fb15"/>
<rect x="551.7" y="540.8" width="1.9" height="1.4" fill="#2d8cf3"/>
<rect x="560.0" y="531.4" width="1.3" height="2.2" fill="#2d8cf3"/>
<rect x="705.3" y="520.6" width="1.9" height="1.4" fill="#f9fb15"/>
<rect x="542.2" y="705.1" width="1.3" height="2.2" fill="#f9fb15"/>
<rect x="607.2" y="659.0" width="1.3" height="1.4" fill="#f9fb15"/>
<rect x="664.5" y="594.1" width="1.3" height="1.4" fill="#f9fb15"/>
<rect x="653.7" y="570.4" width="1.9" height="1.4" fill="#f9fb15"/>
<rect x="586.1" y="646.7" width="1.3" height="2.2" fill="#f9fb15"/>
<rect x="542.8" y="558.1" width="1.9" height="1.4" fill="#05b6ce"/>
<rect x="575.3" y="521.3" width="1.3" height="2.2" fill="#05b6ce"/>
<rect x="660.7" y="544.4" width="1.9" height="2.2" fill="#f9fb15"/>
<rect x="563.2" y="654.7" width="1.9" height="2.2" fill="#f9fb15"/>
<rect x="634.5" y="534.3" width="1.9" height="1.4" fill="#f9fb15"/>
<rect x="554.3" y="625.1" width="1.3" height="2.2" fill="#f9fb15"/>
<rect x="597.6" y="528.6" width="1.3" height="2.2" fill="#f9fb15"/>
<rect x="549.2" y="583.3" width="1.9" height="1.4" fill="#f9fb15"/>
<rect x="604.0" y="525.7" width="1.9" height="1.4" fill="#f9fb15"/>
<rect x="546.6" y="590.5" width="1.3" height="2.2" fill="#f9fb15"/>
<rect x="580.4" y="714.5" width="1.9" height="2.2" fill="#f9fb15"/>
<rect x="713.5" y="563.9" width="1.9" height="2.2" fill="#f9fb15"/>
<rect x="683.6" y="629.5" width="1.3" height="1.4" fill="#2d8cf3"/>
<rect x="638.4" y="680.6" width="1.3" height="1.4" fill="#2d8cf3"/>
<rect x="710.4" y="617.2" width="1.3" height="1.4" fill="#2d8cf3"/>
<rect x="627.5" y="710.9" width="1.3" height="1.4" fill="#2d8cf3"/>
<rect x="704.6" y="656.1" width="1.3" height="1.4" fill="#05b6ce"/>
<rect x="661.9" y="704.4" width="1.3" height="1.4" fill="#05b6ce"/>
<rect x="656.8" y="621.5" width="1.3" height="1.4" fill="#f9fb15"/>
<rect x="631.4" y="650.4" width="1.3" height="1.4" fill="#f9fb15"/>
<rect x="544.1" y="528.6" width="1.9" height="1.4" fill="#2d8cf3"/>
<rect x="549.2" y="522.8" width="1.3" height="2.2" fill="#2d8cf3"/>
<rect x="633.3" y="517.7" width="1.3" height="1.4" fill="#2d8cf3"/>
<rect x="539.6" y="623.7" width="1.3" height="1.4" fill="#2d8cf3"/>
<rect x="651.1" y="719.5" width="1.3" height="1.4" fill="#2d8cf3"/>
<rect x="718.0" y="643.9" width="1.3" height="1.4" fill="#2d8cf3"/>
<rect x="565.8" y="609.3" width="1.9" height="1.4" fill="#2d8cf3"/>
<rect x="620.5" y="547.3" width="1.3" height="2.2" fill="#2d8cf3"/>
<rect x="555.6" y="695.8" width="1.9" height="1.4" fill="#f9fb15"/>
<rect x="697.0" y="535.8" width="1.3" height="2.2" fill="#f9fb15"/>
<rect x="627.5" y="697.2" width="1.3" height="1.4" fill="#f9fb15"/>
<rect x="698.2" y="617.2" width="1.3" height="1.4" fill="#f9fb15"/>
<rect x="590.6" y="689.3" width="1.3" height="2.2" fill="#f9fb15"/>
<rect x="691.2" y="575.4" width="1.9" height="1.4" fill="#f9fb15"/>
<rect x="566.4" y="705.8" width="1.3" height="1.4" fill="#2d8cf3"/>
<rect x="705.9" y="548.0" width="1.3" height="1.4" fill="#2d8cf3"/>
<rect x="619.9" y="690.0" width="1.9" height="2.2" fill="#2d8cf3"/>
<rect x="691.9" y="608.6" width="1.9" height="2.2" fill="#2d8cf3"/>
<rect x="663.9" y="522.1" width="1.9" height="1.4" fill="#f9fb15"/>
<rect x="543.5" y="658.3" width="1.3" height="2.2" fill="#f9fb15"/>
<rect x="553.6" y="614.3" width="1.9" height="2.2" fill="#f9fb15"/>
<rect x="625.0" y="533.6" width="1.9" height="2.2" fill="#f9fb15"/>
<rect x="642.2" y="687.1" width="1.3" height="1.4" fill="#05b6ce"/>
<rect x="689.3" y="633.8" width="1.3" height="1.4" fill="#05b6ce"/>
<rect x="649.2" y="527.1" width="1.9" height="1.4" fill="#f9fb15"/>
<rect x="547.9" y="641.7" width="1.3" height="2.2" fill="#f9fb15"/>
<rect x="621.8" y="623.7" width="1.9" height="1.4" fill="#2d8cf3"/>
<rect x="633.3" y="610.7" width="1.3" height="2.2" fill="#2d8cf3"/>
<rect x="661.3" y="687.1" width="1.3" height="1.4" fill="#2d8cf3"/>
<rect x="689.3" y="655.4" width="1.3" height="1.4" fill="#2d8cf3"/>
<rect x="560.7" y="593.4" width="1.9" height="2.2" fill="#2d8cf3"/>
<rect x="606.5" y="541.5" width="1.9" height="2.2" fill="#2d8cf3"/>
<rect x="626.3" y="537.2" width="1.9" height="1.4" fill="#f9fb15"/>
<rect x="556.8" y="615.8" width="1.3" height="2.2" fill="#f9fb15"/>
<rect x="580.4" y="527.8" width="1.9" height="1.4" fill="#2d8cf3"/>
<rect x="548.6" y="563.9" width="1.3" height="2.2" fill="#2d8cf3"/>
<rect x="653.7" y="696.5" width="1.3" height="1.4" fill="#f9fb15"/>
<rect x="697.6" y="646.7" width="1.3" height="1.4" fill="#f9fb15"/>
<rect x="624.4" y="584.8" width="1.3" height="2.2" fill="#f9fb15"/>
<rect x="598.9" y="613.6" width="1.9" height="1.4" fill="#f9fb15"/>
<rect x="705.9" y="600.6" width="1.9" height="2.2" fill="#f9fb15"/>
<rect x="612.9" y="705.8" width="1.9" height="2.2" fill="#f9fb15"/>
<path d="M982.7 723.1V1335.0" stroke="#2d8cf3" stroke-width="1.59" stroke-dasharray="4 1.5 2 1"/>
<path d="M721.2 1019.0H1262.0" stroke="#2d8cf3" stroke-width="1.44" stroke-dasharray="4 1.5 2 1"/>
<path d="M358.5 112.0V1335.0" stroke="#d41438" stroke-width="2.8"/>
<path d="M535.0 112.0V1335.0" stroke="#d41438" stroke-width="2.8"/>
<path d="M721.0 112.0V1335.0" stroke="#d41438" stroke-width="2.8"/>
<path d="M900.0 112.0V1335.0" stroke="#d41438" stroke-width="2.8"/>
<path d="M181.0 312.8H1262.0" stroke="#e0121e" stroke-width="2.8"/>
<path d="M181.0 512.4H1262.0" stroke="#e0121e" stroke-width="2.8"/>
<path d="M181.0 722.9H1262.0" stroke="#e0121e" stroke-width="2.8"/>
<path d="M181.0 925.4H1262.0" stroke="#e0121e" stroke-width="2.8"/>
<rect x="181.0" y="112.0" width="1081.0" height="1223.0" fill="none" stroke="#262626" stroke-width="1.2"/>
<path d="M181.0 255.8h12M1262.0 255.8h-12" stroke="#262626" stroke-width="1.2"/>
<text x="167.0" y="273.1" text-anchor="end" class="t">200</text>
<path d="M181.0 399.9h12M1262.0 399.9h-12" stroke="#262626" stroke-width="1.2"/>
<text x="167.0" y="417.2" text-anchor="end" class="t">400</text>
<path d="M181.0 544.0h12M1262.0 544.0h-12" stroke="#262626" stroke-width="1.2"/>
<text x="167.0" y="561.3" text-anchor="end" class="t">600</text>
<path d="M181.0 688.2h12M1262.0 688.2h-12" stroke="#262626" stroke-width="1.2"/>
<text x="167.0" y="705.5" text-anchor="end" class="t">800</text>
<path d="M181.0 832.3h12M1262.0 832.3h-12" stroke="#262626" stroke-width="1.2"/>
<text x="167.0" y="849.6" text-anchor="end" class="t">1000</text>
<path d="M181.0 976.5h12M1262.0 976.5h-12" stroke="#262626" stroke-width="1.2"/>
<text x="167.0" y="993.8" text-anchor="end" class="t">1200</text>
<path d="M181.0 1120.6h12M1262.0 1120.6h-12" stroke="#262626" stroke-width="1.2"/>
<text x="167.0" y="1137.9" text-anchor="end" class="t">1400</text>
<path d="M181.0 1264.7h12M1262.0 1264.7h-12" stroke="#262626" stroke-width="1.2"/>
<text x="167.0" y="1282.0" text-anchor="end" class="t">1600</text>
<path d="M499.2 1335.0v-12M499.2 112.0v12" stroke="#262626" stroke-width="1.2"/>
<text x="499.2" y="1398" text-anchor="middle" class="t">500</text>
<path d="M817.7 1335.0v-12M817.7 112.0v12" stroke="#262626" stroke-width="1.2"/>
<text x="817.7" y="1398" text-anchor="middle" class="t">1000</text>
<path d="M1136.2 1335.0v-12M1136.2 112.0v12" stroke="#262626" stroke-width="1.2"/>
<text x="1136.2" y="1398" text-anchor="middle" class="t">1500</text>
<defs><linearGradient id="cb" x1="0" y1="1" x2="0" y2="0"><stop offset="0.0000" stop-color="#3e26a8"/><stop offset="0.0156" stop-color="#3e26a8"/><stop offset="0.0156" stop-color="#402ab4"/><stop offset="0.0312" stop-color="#402ab4"/><stop offset="0.0312" stop-color="#422ec0"/><stop offset="0.0469" stop-color="#422ec0"/><stop offset="0.0469" stop-color="#4332cb"/><stop offset="0.0625" stop-color="#4332cb"/><stop offset="0.0625" stop-color="#4537d5"/><stop offset="0.0781" stop-color="#4537d5"/><stop offset="0.0781" stop-color="#463cde"/><stop offset="0.0938" stop-color="#463cde"/><stop offset="0.0938" stop-color="#4741e5"/><stop offset="0.1094" stop-color="#4741e5"/><stop offset="0.1094" stop-color="#4747eb"/><stop offset="0.1250" stop-color="#4747eb"/><stop offset="0.1250" stop-color="#484df0"/><stop offset="0.1406" stop-color="#484df0"/><stop offset="0.1406" stop-color="#4852f4"/><stop offset="0.1562" stop-color="#4852f4"/><stop offset="0.1562" stop-color="#4758f8"/><stop offset="0.1719" stop-color="#4758f8"/><stop offset="0.1719" stop-color="#465efb"/><stop offset="0.1875" stop-color="#465efb"/><stop offset="0.1875" stop-color="#4563fd"/><stop offset="0.2031" stop-color="#4563fd"/><stop offset="0.2031" stop-color="#4269fe"/><stop offset="0.2188" stop-color="#4269fe"/><stop offset="0.2188" stop-color="#3e6fff"/><stop offset="0.2344" stop-color="#3e6fff"/><stop offset="0.2344" stop-color="#3875fe"/><stop offset="0.2500" stop-color="#3875fe"/><stop offset="0.2500" stop-color="#327cfc"/><stop offset="0.2656" stop-color="#327cfc"/><stop offset="0.2656" stop-color="#2f81fa"/><stop offset="0.2812" stop-color="#2f81fa"/><stop offset="0.2812" stop-color="#2e87f7"/><stop offset="0.2969" stop-color="#2e87f7"/><stop offset="0.2969" stop-color="#2d8cf3"/><stop offset="0.3125" stop-color="#2d8cf3"/><stop offset="0.3125" stop-color="#2b91ef"/><stop offset="0.3281" stop-color="#2b91ef"/><stop offset="0.3281" stop-color="#2797eb"/><stop offset="0.3438" stop-color="#2797eb"/><stop offset="0.3438" stop-color="#259be8"/><stop offset="0.3594" stop-color="#259be8"/><stop offset="0.3594" stop-color="#23a0e5"/><stop offset="0.3750" stop-color="#23a0e5"/><stop offset="0.3750" stop-color="#20a5e3"/><stop offset="0.3906" stop-color="#20a5e3"/><stop offset="0.3906" stop-color="#1ca9df"/><stop offset="0.4062" stop-color="#1ca9df"/><stop offset="0.4062" stop-color="#18addb"/><stop offset="0.4219" stop-color="#18addb"/><stop offset="0.4219" stop-color="#12b1d6"/><stop offset="0.4375" stop-color="#12b1d6"/><stop offset="0.4375" stop-color="#08b5d0"/><stop offset="0.4531" stop-color="#08b5d0"/><stop offset="0.4531" stop-color="#01b8ca"/><stop offset="0.4688" stop-color="#01b8ca"/><stop offset="0.4688" stop-color="#02bac3"/><stop offset="0.4844" stop-color="#02bac3"/><stop offset="0.4844" stop-color="#0bbdbd"/><stop offset="0.5000" stop-color="#0bbdbd"/><stop offset="0.5000" stop-color="#19bfb6"/><stop offset="0.5156" stop-color="#19bfb6"/><stop offset="0.5156" stop-color="#24c1ae"/><stop offset="0.5312" stop-color="#24c1ae"/><stop offset="0.5312" stop-color="#2cc4a7"/><stop offset="0.5469" stop-color="#2cc4a7"/><stop offset="0.5469" stop-color="#31c69f"/><stop offset="0.5625" stop-color="#31c69f"/><stop offset="0.5625" stop-color="#37c897"/><stop offset="0.5781" stop-color="#37c897"/><stop offset="0.5781" stop-color="#3fca8e"/><stop offset="0.5938" stop-color="#3fca8e"/><stop offset="0.5938" stop-color="#4acb84"/><stop offset="0.6094" stop-color="#4acb84"/><stop offset="0.6094" stop-color="#57cc7a"/><stop offset="0.6250" stop-color="#57cc7a"/><stop offset="0.6250" stop-color="#64cd6f"/><stop offset="0.6406" stop-color="#64cd6f"/><stop offset="0.6406" stop-color="#72cd64"/><stop offset="0.6562" stop-color="#72cd64"/><stop offset="0.6562" stop-color="#81cc59"/><stop offset="0.6719" stop-color="#81cc59"/><stop offset="0.6719" stop-color="#8fcb4e"/><stop offset="0.6875" stop-color="#8fcb4e"/><stop offset="0.6875" stop-color="#9dc943"/><stop offset="0.7031" stop-color="#9dc943"/><stop offset="0.7031" stop-color="#abc739"/><stop offset="0.7188" stop-color="#abc739"/><stop offset="0.7188" stop-color="#b9c431"/><stop offset="0.7344" stop-color="#b9c431"/><stop offset="0.7344" stop-color="#c5c22a"/><stop offset="0.7500" stop-color="#c5c22a"/><stop offset="0.7500" stop-color="#d1bf27"/><stop offset="0.7656" stop-color="#d1bf27"/><stop offset="0.7656" stop-color="#dcbd29"/><stop offset="0.7812" stop-color="#dcbd29"/><stop offset="0.7812" stop-color="#e6bb2d"/><stop offset="0.7969" stop-color="#e6bb2d"/><stop offset="0.7969" stop-color="#f0ba36"/><stop offset="0.8125" stop-color="#f0ba36"/><stop offset="0.8125" stop-color="#f8ba3d"/><stop offset="0.8281" stop-color="#f8ba3d"/><stop offset="0.8281" stop-color="#febe3c"/><stop offset="0.8438" stop-color="#febe3c"/><stop offset="0.8438" stop-color="#fec338"/><stop offset="0.8594" stop-color="#fec338"/><stop offset="0.8594" stop-color="#fec934"/><stop offset="0.8750" stop-color="#fec934"/><stop offset="0.8750" stop-color="#fccf30"/><stop offset="0.8906" stop-color="#fccf30"/><stop offset="0.8906" stop-color="#fad62d"/><stop offset="0.9062" stop-color="#fad62d"/><stop offset="0.9062" stop-color="#f7dc2a"/><stop offset="0.9219" stop-color="#f7dc2a"/><stop offset="0.9219" stop-color="#f5e327"/><stop offset="0.9375" stop-color="#f5e327"/><stop offset="0.9375" stop-color="#f5e924"/><stop offset="0.9531" stop-color="#f5e924"/><stop offset="0.9531" stop-color="#f6ef20"/><stop offset="0.9688" stop-color="#f6ef20"/><stop offset="0.9688" stop-color="#f7f51b"/><stop offset="0.9844" stop-color="#f7f51b"/><stop offset="0.9844" stop-color="#f9fb15"/><stop offset="1.0000" stop-color="#f9fb15"/></linearGradient></defs>
<rect x="1283.5" y="112.0" width="42.0" height="1223.0" fill="url(#cb)" stroke="#262626" stroke-width="1.2"/>
<text x="1337.5" y="1351.6" class="c">0</text>
<path d="M1312.0 1212.7h13.5" stroke="#262626" stroke-width="1.2"/>
<text x="1337.5" y="1229.3" class="c">0.5</text>
<path d="M1312.0 1090.4h13.5" stroke="#262626" stroke-width="1.2"/>
<text x="1337.5" y="1107.0" class="c">1</text>
<path d="M1312.0 968.1h13.5" stroke="#262626" stroke-width="1.2"/>
<text x="1337.5" y="984.7" class="c">1.5</text>
<path d="M1312.0 845.8h13.5" stroke="#262626" stroke-width="1.2"/>
<text x="1337.5" y="862.4" class="c">2</text>
<path d="M1312.0 723.5h13.5" stroke="#262626" stroke-width="1.2"/>
<text x="1337.5" y="740.1" class="c">2.5</text>
<path d="M1312.0 601.2h13.5" stroke="#262626" stroke-width="1.2"/>
<text x="1337.5" y="617.8" class="c">3</text>
<path d="M1312.0 478.9h13.5" stroke="#262626" stroke-width="1.2"/>
<text x="1337.5" y="495.5" class="c">3.5</text>
<path d="M1312.0 356.6h13.5" stroke="#262626" stroke-width="1.2"/>
<text x="1337.5" y="373.2" class="c">4</text>
<path d="M1312.0 234.3h13.5" stroke="#262626" stroke-width="1.2"/>
<text x="1337.5" y="250.9" class="c">4.5</text>
<text x="1337.5" y="128.6" class="c">5</text>
<text x="1325.0" y="96.5" class="c x">×</text>
<text x="1360.0" y="94" class="c">10</text>
<text x="1419.0" y="72.9" class="c e">-4</text>
</svg>
</body></html>
